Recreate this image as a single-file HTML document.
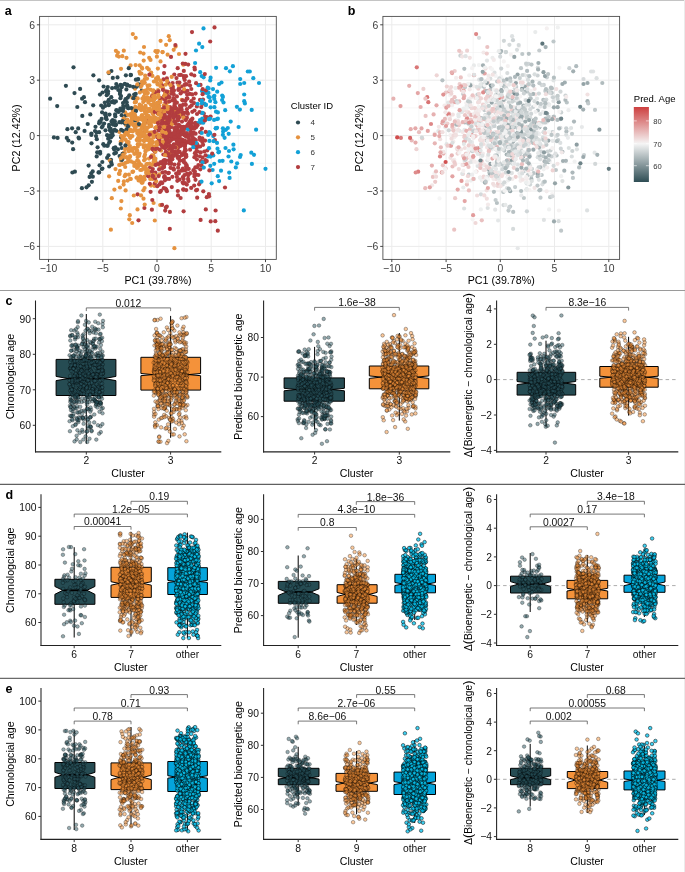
<!DOCTYPE html>
<html><head><meta charset="utf-8"><style>
html,body{margin:0;padding:0;background:#fff;}
svg{display:block;font-family:"Liberation Sans",sans-serif;}
svg{will-change:transform}
</style></head><body>
<svg width="685" height="872" viewBox="0 0 685 872">
<defs><linearGradient id="cb" x1="0" y1="0" x2="0" y2="1"><stop offset="0" stop-color="#cd3f3f"/><stop offset="0.49" stop-color="#f5f5f5"/><stop offset="1" stop-color="#2e4d54"/></linearGradient><marker id="m0" markerUnits="userSpaceOnUse" markerWidth="60" markerHeight="60" refX="0" refY="0" overflow="visible"><circle r="18" fill="#2a5560" fill-opacity=".5" stroke="#000" stroke-opacity=".52" stroke-width="5.5"/></marker><marker id="m1" markerUnits="userSpaceOnUse" markerWidth="60" markerHeight="60" refX="0" refY="0" overflow="visible"><circle r="18" fill="#f3923a" fill-opacity=".5" stroke="#000" stroke-opacity=".55" stroke-width="5.5"/></marker><marker id="m2" markerUnits="userSpaceOnUse" markerWidth="60" markerHeight="60" refX="0" refY="0" overflow="visible"><circle r="18" fill="#08c4f0" fill-opacity=".78" stroke="#000" stroke-opacity=".9" stroke-width="5.5"/></marker></defs>
<rect x="0" y="0" width="685" height="872" fill="#fff"/>
<line x1="0" y1="0.5" x2="685" y2="0.5" stroke="#c4c4c4" stroke-width="1"/>
<line x1="684.5" y1="0" x2="684.5" y2="872" stroke="#ebebeb" stroke-width="1"/>
<line x1="0" y1="290.5" x2="685" y2="290.5" stroke="#9a9a9a" stroke-width="1.1"/>
<line x1="0" y1="484.4" x2="685" y2="484.4" stroke="#606060" stroke-width="1.1"/>
<line x1="0" y1="678.4" x2="685" y2="678.4" stroke="#6a6a6a" stroke-width="1.1"/>
<line x1="75.6" y1="16.4" x2="75.6" y2="259.4" stroke="#f0f0f0" stroke-width="0.55"/>
<line x1="129.9" y1="16.4" x2="129.9" y2="259.4" stroke="#f0f0f0" stroke-width="0.55"/>
<line x1="184.1" y1="16.4" x2="184.1" y2="259.4" stroke="#f0f0f0" stroke-width="0.55"/>
<line x1="238.4" y1="16.4" x2="238.4" y2="259.4" stroke="#f0f0f0" stroke-width="0.55"/>
<line x1="39.6" y1="218.7" x2="276.3" y2="218.7" stroke="#f0f0f0" stroke-width="0.55"/>
<line x1="39.6" y1="163.3" x2="276.3" y2="163.3" stroke="#f0f0f0" stroke-width="0.55"/>
<line x1="39.6" y1="107.9" x2="276.3" y2="107.9" stroke="#f0f0f0" stroke-width="0.55"/>
<line x1="39.6" y1="52.5" x2="276.3" y2="52.5" stroke="#f0f0f0" stroke-width="0.55"/>
<line x1="48.5" y1="16.4" x2="48.5" y2="259.4" stroke="#ebebeb" stroke-width="1.0"/>
<line x1="102.8" y1="16.4" x2="102.8" y2="259.4" stroke="#ebebeb" stroke-width="1.0"/>
<line x1="157" y1="16.4" x2="157" y2="259.4" stroke="#ebebeb" stroke-width="1.0"/>
<line x1="211.2" y1="16.4" x2="211.2" y2="259.4" stroke="#ebebeb" stroke-width="1.0"/>
<line x1="265.5" y1="16.4" x2="265.5" y2="259.4" stroke="#ebebeb" stroke-width="1.0"/>
<line x1="39.6" y1="246.4" x2="276.3" y2="246.4" stroke="#ebebeb" stroke-width="1.0"/>
<line x1="39.6" y1="191" x2="276.3" y2="191" stroke="#ebebeb" stroke-width="1.0"/>
<line x1="39.6" y1="135.6" x2="276.3" y2="135.6" stroke="#ebebeb" stroke-width="1.0"/>
<line x1="39.6" y1="80.2" x2="276.3" y2="80.2" stroke="#ebebeb" stroke-width="1.0"/>
<line x1="39.6" y1="24.8" x2="276.3" y2="24.8" stroke="#ebebeb" stroke-width="1.0"/>
<g class="sp"><circle cx="203.8" cy="113.6" r="2.1" fill="#b23d3f"/><circle cx="91.4" cy="133.5" r="2.1" fill="#2e4a52"/><circle cx="176.2" cy="173.6" r="2.1" fill="#b23d3f"/><circle cx="205.6" cy="119.5" r="2.1" fill="#12a1d7"/><circle cx="214.5" cy="27.4" r="2.1" fill="#b23d3f"/><circle cx="132.6" cy="112.2" r="2.1" fill="#e5923f"/><circle cx="193.2" cy="139.9" r="2.1" fill="#b23d3f"/><circle cx="141.1" cy="110.1" r="2.1" fill="#e5923f"/><circle cx="72.1" cy="128.3" r="2.1" fill="#2e4a52"/><circle cx="171" cy="124.4" r="2.1" fill="#b23d3f"/><circle cx="166.5" cy="144.9" r="2.1" fill="#e5923f"/><circle cx="146.5" cy="98.9" r="2.1" fill="#e5923f"/><circle cx="155.2" cy="92.6" r="2.1" fill="#e5923f"/><circle cx="167.4" cy="109.3" r="2.1" fill="#e5923f"/><circle cx="173.4" cy="155.5" r="2.1" fill="#b23d3f"/><circle cx="199.1" cy="43.7" r="2.1" fill="#12a1d7"/><circle cx="178.8" cy="109.8" r="2.1" fill="#e5923f"/><circle cx="95" cy="131" r="2.1" fill="#2e4a52"/><circle cx="178.8" cy="144" r="2.1" fill="#b23d3f"/><circle cx="145.8" cy="122.2" r="2.1" fill="#e5923f"/><circle cx="194.4" cy="139.1" r="2.1" fill="#b23d3f"/><circle cx="183.7" cy="76" r="2.1" fill="#b23d3f"/><circle cx="147.7" cy="88.9" r="2.1" fill="#e5923f"/><circle cx="176" cy="129.4" r="2.1" fill="#b23d3f"/><circle cx="198.4" cy="165.1" r="2.1" fill="#b23d3f"/><circle cx="169.5" cy="131.2" r="2.1" fill="#b23d3f"/><circle cx="172.9" cy="93.1" r="2.1" fill="#e5923f"/><circle cx="169.5" cy="124.6" r="2.1" fill="#b23d3f"/><circle cx="179.1" cy="116.2" r="2.1" fill="#b23d3f"/><circle cx="188.7" cy="168.9" r="2.1" fill="#b23d3f"/><circle cx="154.2" cy="147" r="2.1" fill="#e5923f"/><circle cx="194.5" cy="110.5" r="2.1" fill="#b23d3f"/><circle cx="172.7" cy="108.3" r="2.1" fill="#b23d3f"/><circle cx="187.8" cy="142" r="2.1" fill="#b23d3f"/><circle cx="225.9" cy="129.8" r="2.1" fill="#12a1d7"/><circle cx="171.7" cy="115.3" r="2.1" fill="#b23d3f"/><circle cx="164.4" cy="177.1" r="2.1" fill="#b23d3f"/><circle cx="146.3" cy="170.5" r="2.1" fill="#e5923f"/><circle cx="155.1" cy="117.8" r="2.1" fill="#e5923f"/><circle cx="120.8" cy="208.5" r="2.1" fill="#e5923f"/><circle cx="142" cy="136.3" r="2.1" fill="#e5923f"/><circle cx="134.4" cy="108.7" r="2.1" fill="#2e4a52"/><circle cx="148.1" cy="109" r="2.1" fill="#e5923f"/><circle cx="164.9" cy="145.1" r="2.1" fill="#b23d3f"/><circle cx="179.6" cy="117.1" r="2.1" fill="#b23d3f"/><circle cx="134.3" cy="147.9" r="2.1" fill="#e5923f"/><circle cx="157" cy="134.7" r="2.1" fill="#b23d3f"/><circle cx="166.5" cy="95" r="2.1" fill="#b23d3f"/><circle cx="210.6" cy="116.5" r="2.1" fill="#b23d3f"/><circle cx="146.1" cy="172.8" r="2.1" fill="#e5923f"/><circle cx="93.2" cy="105.3" r="2.1" fill="#2e4a52"/><circle cx="176.9" cy="96.4" r="2.1" fill="#b23d3f"/><circle cx="180.9" cy="74.9" r="2.1" fill="#b23d3f"/><circle cx="201.3" cy="112.8" r="2.1" fill="#12a1d7"/><circle cx="174.5" cy="145" r="2.1" fill="#b23d3f"/><circle cx="135.3" cy="106.9" r="2.1" fill="#e5923f"/><circle cx="128.2" cy="134.9" r="2.1" fill="#e5923f"/><circle cx="166.2" cy="135.7" r="2.1" fill="#b23d3f"/><circle cx="174.2" cy="144.6" r="2.1" fill="#b23d3f"/><circle cx="198.4" cy="175" r="2.1" fill="#b23d3f"/><circle cx="164.1" cy="167.1" r="2.1" fill="#b23d3f"/><circle cx="141.8" cy="90.5" r="2.1" fill="#2e4a52"/><circle cx="209.9" cy="117.4" r="2.1" fill="#b23d3f"/><circle cx="213.3" cy="155.5" r="2.1" fill="#12a1d7"/><circle cx="144.6" cy="131.2" r="2.1" fill="#b23d3f"/><circle cx="183.8" cy="142.5" r="2.1" fill="#b23d3f"/><circle cx="133.4" cy="115.2" r="2.1" fill="#e5923f"/><circle cx="182.4" cy="91.6" r="2.1" fill="#b23d3f"/><circle cx="109.5" cy="114.6" r="2.1" fill="#2e4a52"/><circle cx="111" cy="159.8" r="2.1" fill="#2e4a52"/><circle cx="129.8" cy="150.4" r="2.1" fill="#e5923f"/><circle cx="135.9" cy="79.7" r="2.1" fill="#2e4a52"/><circle cx="144.1" cy="160.3" r="2.1" fill="#e5923f"/><circle cx="202.3" cy="47.1" r="2.1" fill="#12a1d7"/><circle cx="226" cy="68.2" r="2.1" fill="#12a1d7"/><circle cx="146.8" cy="115.1" r="2.1" fill="#e5923f"/><circle cx="199.5" cy="112" r="2.1" fill="#b23d3f"/><circle cx="121.6" cy="87.3" r="2.1" fill="#2e4a52"/><circle cx="146.8" cy="131.4" r="2.1" fill="#e5923f"/><circle cx="159.6" cy="111.3" r="2.1" fill="#e5923f"/><circle cx="140.3" cy="178.5" r="2.1" fill="#e5923f"/><circle cx="221.5" cy="82.5" r="2.1" fill="#12a1d7"/><circle cx="180.6" cy="198" r="2.1" fill="#b23d3f"/><circle cx="164.5" cy="66.1" r="2.1" fill="#b23d3f"/><circle cx="83.9" cy="97.2" r="2.1" fill="#2e4a52"/><circle cx="161.9" cy="109.4" r="2.1" fill="#b23d3f"/><circle cx="199.6" cy="137.5" r="2.1" fill="#b23d3f"/><circle cx="193.6" cy="132.5" r="2.1" fill="#b23d3f"/><circle cx="154.5" cy="158.3" r="2.1" fill="#b23d3f"/><circle cx="96.6" cy="132.4" r="2.1" fill="#2e4a52"/><circle cx="147" cy="78.6" r="2.1" fill="#e5923f"/><circle cx="149.5" cy="147.1" r="2.1" fill="#e5923f"/><circle cx="136.4" cy="153.7" r="2.1" fill="#e5923f"/><circle cx="149" cy="139.1" r="2.1" fill="#e5923f"/><circle cx="171.8" cy="187.1" r="2.1" fill="#b23d3f"/><circle cx="130.3" cy="138" r="2.1" fill="#e5923f"/><circle cx="144.8" cy="93.5" r="2.1" fill="#e5923f"/><circle cx="141.1" cy="105.9" r="2.1" fill="#e5923f"/><circle cx="182" cy="155.1" r="2.1" fill="#b23d3f"/><circle cx="170.1" cy="134.2" r="2.1" fill="#b23d3f"/><circle cx="196.3" cy="174.6" r="2.1" fill="#b23d3f"/><circle cx="143.2" cy="145" r="2.1" fill="#e5923f"/><circle cx="163.9" cy="96.2" r="2.1" fill="#e5923f"/><circle cx="119.3" cy="131.9" r="2.1" fill="#e5923f"/><circle cx="183.2" cy="104.7" r="2.1" fill="#b23d3f"/><circle cx="172.1" cy="159.3" r="2.1" fill="#b23d3f"/><circle cx="128.1" cy="108.1" r="2.1" fill="#2e4a52"/><circle cx="143.8" cy="118.8" r="2.1" fill="#e5923f"/><circle cx="149.2" cy="134.6" r="2.1" fill="#e5923f"/><circle cx="185.1" cy="91.7" r="2.1" fill="#b23d3f"/><circle cx="164" cy="117.5" r="2.1" fill="#b23d3f"/><circle cx="120.5" cy="110.1" r="2.1" fill="#2e4a52"/><circle cx="210.2" cy="80.5" r="2.1" fill="#12a1d7"/><circle cx="143.4" cy="190.3" r="2.1" fill="#e5923f"/><circle cx="164.7" cy="95.6" r="2.1" fill="#b23d3f"/><circle cx="169.2" cy="117.9" r="2.1" fill="#b23d3f"/><circle cx="169.9" cy="211.9" r="2.1" fill="#b23d3f"/><circle cx="161.1" cy="130.7" r="2.1" fill="#b23d3f"/><circle cx="184.4" cy="85" r="2.1" fill="#b23d3f"/><circle cx="117.1" cy="55.7" r="2.1" fill="#e5923f"/><circle cx="203.6" cy="77.3" r="2.1" fill="#12a1d7"/><circle cx="168.5" cy="83" r="2.1" fill="#b23d3f"/><circle cx="168.9" cy="116.9" r="2.1" fill="#b23d3f"/><circle cx="166.6" cy="119.6" r="2.1" fill="#b23d3f"/><circle cx="157.1" cy="148.3" r="2.1" fill="#b23d3f"/><circle cx="233.6" cy="149.3" r="2.1" fill="#12a1d7"/><circle cx="185.7" cy="143.5" r="2.1" fill="#b23d3f"/><circle cx="166.4" cy="128.7" r="2.1" fill="#b23d3f"/><circle cx="199.1" cy="184.3" r="2.1" fill="#b23d3f"/><circle cx="145.2" cy="75.5" r="2.1" fill="#e5923f"/><circle cx="203" cy="99.6" r="2.1" fill="#b23d3f"/><circle cx="214.9" cy="140.1" r="2.1" fill="#b23d3f"/><circle cx="157.1" cy="104.6" r="2.1" fill="#e5923f"/><circle cx="167.6" cy="123.9" r="2.1" fill="#b23d3f"/><circle cx="167.5" cy="110.2" r="2.1" fill="#b23d3f"/><circle cx="143.1" cy="135.8" r="2.1" fill="#e5923f"/><circle cx="111.3" cy="97.2" r="2.1" fill="#2e4a52"/><circle cx="143.9" cy="147.5" r="2.1" fill="#e5923f"/><circle cx="172.6" cy="138.3" r="2.1" fill="#b23d3f"/><circle cx="183.8" cy="162.1" r="2.1" fill="#b23d3f"/><circle cx="144.5" cy="134.7" r="2.1" fill="#e5923f"/><circle cx="134.6" cy="97.6" r="2.1" fill="#e5923f"/><circle cx="121.4" cy="201.1" r="2.1" fill="#e5923f"/><circle cx="213" cy="89.1" r="2.1" fill="#12a1d7"/><circle cx="123.8" cy="119.2" r="2.1" fill="#2e4a52"/><circle cx="168.3" cy="143.6" r="2.1" fill="#e5923f"/><circle cx="99.1" cy="123.3" r="2.1" fill="#2e4a52"/><circle cx="175.4" cy="114.8" r="2.1" fill="#b23d3f"/><circle cx="127.9" cy="130.8" r="2.1" fill="#e5923f"/><circle cx="184.1" cy="78.1" r="2.1" fill="#b23d3f"/><circle cx="173.9" cy="113.2" r="2.1" fill="#b23d3f"/><circle cx="163.4" cy="154.5" r="2.1" fill="#b23d3f"/><circle cx="125.6" cy="99.2" r="2.1" fill="#2e4a52"/><circle cx="168.9" cy="97.8" r="2.1" fill="#e5923f"/><circle cx="155" cy="151.8" r="2.1" fill="#b23d3f"/><circle cx="151.2" cy="72.7" r="2.1" fill="#e5923f"/><circle cx="151.1" cy="134.1" r="2.1" fill="#e5923f"/><circle cx="162.6" cy="163.3" r="2.1" fill="#e5923f"/><circle cx="145.5" cy="151.4" r="2.1" fill="#e5923f"/><circle cx="165.9" cy="160.5" r="2.1" fill="#b23d3f"/><circle cx="196.5" cy="151" r="2.1" fill="#b23d3f"/><circle cx="183.4" cy="183.4" r="2.1" fill="#b23d3f"/><circle cx="154.5" cy="185.9" r="2.1" fill="#e5923f"/><circle cx="155.1" cy="174" r="2.1" fill="#e5923f"/><circle cx="165.2" cy="91.4" r="2.1" fill="#b23d3f"/><circle cx="164.7" cy="141.7" r="2.1" fill="#b23d3f"/><circle cx="223.5" cy="102.5" r="2.1" fill="#12a1d7"/><circle cx="128.8" cy="151.2" r="2.1" fill="#e5923f"/><circle cx="143.9" cy="168.6" r="2.1" fill="#e5923f"/><circle cx="144.9" cy="167.4" r="2.1" fill="#e5923f"/><circle cx="165.5" cy="92.9" r="2.1" fill="#e5923f"/><circle cx="163" cy="132.6" r="2.1" fill="#e5923f"/><circle cx="197.7" cy="151.6" r="2.1" fill="#b23d3f"/><circle cx="118.3" cy="90" r="2.1" fill="#2e4a52"/><circle cx="215.7" cy="128.2" r="2.1" fill="#12a1d7"/><circle cx="159.9" cy="100.4" r="2.1" fill="#e5923f"/><circle cx="80.1" cy="88.9" r="2.1" fill="#2e4a52"/><circle cx="135" cy="88.7" r="2.1" fill="#e5923f"/><circle cx="196.1" cy="127.3" r="2.1" fill="#b23d3f"/><circle cx="110.1" cy="136.1" r="2.1" fill="#2e4a52"/><circle cx="107.1" cy="145.7" r="2.1" fill="#2e4a52"/><circle cx="105.6" cy="113.7" r="2.1" fill="#2e4a52"/><circle cx="141.7" cy="116" r="2.1" fill="#e5923f"/><circle cx="165.9" cy="143.1" r="2.1" fill="#b23d3f"/><circle cx="177.5" cy="82.7" r="2.1" fill="#b23d3f"/><circle cx="136.1" cy="153" r="2.1" fill="#e5923f"/><circle cx="163.1" cy="88.5" r="2.1" fill="#e5923f"/><circle cx="186.7" cy="165.4" r="2.1" fill="#b23d3f"/><circle cx="102.5" cy="92.5" r="2.1" fill="#2e4a52"/><circle cx="209.2" cy="132.2" r="2.1" fill="#12a1d7"/><circle cx="137.5" cy="121.1" r="2.1" fill="#e5923f"/><circle cx="164.6" cy="176.1" r="2.1" fill="#b23d3f"/><circle cx="149.2" cy="57.8" r="2.1" fill="#e5923f"/><circle cx="176.3" cy="111.7" r="2.1" fill="#b23d3f"/><circle cx="134.7" cy="112.5" r="2.1" fill="#e5923f"/><circle cx="159" cy="109.5" r="2.1" fill="#e5923f"/><circle cx="201.9" cy="128.6" r="2.1" fill="#b23d3f"/><circle cx="119.5" cy="174" r="2.1" fill="#e5923f"/><circle cx="172.2" cy="100.5" r="2.1" fill="#b23d3f"/><circle cx="151.9" cy="119.5" r="2.1" fill="#e5923f"/><circle cx="177.3" cy="180.8" r="2.1" fill="#b23d3f"/><circle cx="181.8" cy="99.8" r="2.1" fill="#e5923f"/><circle cx="142.2" cy="68.6" r="2.1" fill="#e5923f"/><circle cx="145.3" cy="145.4" r="2.1" fill="#e5923f"/><circle cx="200.2" cy="72.2" r="2.1" fill="#12a1d7"/><circle cx="177.8" cy="158" r="2.1" fill="#b23d3f"/><circle cx="207.2" cy="150.5" r="2.1" fill="#b23d3f"/><circle cx="146.5" cy="119.6" r="2.1" fill="#e5923f"/><circle cx="165.1" cy="94.7" r="2.1" fill="#b23d3f"/><circle cx="154.1" cy="94.3" r="2.1" fill="#e5923f"/><circle cx="144" cy="47" r="2.1" fill="#e5923f"/><circle cx="65.9" cy="85.8" r="2.1" fill="#2e4a52"/><circle cx="171.2" cy="148.3" r="2.1" fill="#b23d3f"/><circle cx="139.7" cy="104.7" r="2.1" fill="#e5923f"/><circle cx="145.5" cy="119.5" r="2.1" fill="#e5923f"/><circle cx="140.7" cy="86.8" r="2.1" fill="#e5923f"/><circle cx="197.1" cy="189.8" r="2.1" fill="#b23d3f"/><circle cx="127.5" cy="130.3" r="2.1" fill="#e5923f"/><circle cx="208.5" cy="96.8" r="2.1" fill="#12a1d7"/><circle cx="170.6" cy="115.2" r="2.1" fill="#b23d3f"/><circle cx="151.6" cy="175.8" r="2.1" fill="#e5923f"/><circle cx="147.9" cy="136.1" r="2.1" fill="#e5923f"/><circle cx="153.4" cy="109.6" r="2.1" fill="#e5923f"/><circle cx="214.4" cy="107.2" r="2.1" fill="#12a1d7"/><circle cx="118.1" cy="111.7" r="2.1" fill="#2e4a52"/><circle cx="110.9" cy="131.3" r="2.1" fill="#2e4a52"/><circle cx="146.7" cy="174.8" r="2.1" fill="#e5923f"/><circle cx="203.6" cy="92.3" r="2.1" fill="#12a1d7"/><circle cx="197.1" cy="167.3" r="2.1" fill="#b23d3f"/><circle cx="144.8" cy="82.8" r="2.1" fill="#e5923f"/><circle cx="184.9" cy="153.3" r="2.1" fill="#b23d3f"/><circle cx="185.8" cy="156.8" r="2.1" fill="#b23d3f"/><circle cx="161.1" cy="118.8" r="2.1" fill="#b23d3f"/><circle cx="214" cy="96.7" r="2.1" fill="#12a1d7"/><circle cx="132.8" cy="34.1" r="2.1" fill="#e5923f"/><circle cx="194.3" cy="173.9" r="2.1" fill="#b23d3f"/><circle cx="157.4" cy="121.7" r="2.1" fill="#b23d3f"/><circle cx="119.9" cy="94" r="2.1" fill="#2e4a52"/><circle cx="163.6" cy="79.4" r="2.1" fill="#b23d3f"/><circle cx="108" cy="91.3" r="2.1" fill="#2e4a52"/><circle cx="135.4" cy="97.5" r="2.1" fill="#2e4a52"/><circle cx="208.5" cy="92.9" r="2.1" fill="#12a1d7"/><circle cx="178.9" cy="124.8" r="2.1" fill="#b23d3f"/><circle cx="152.4" cy="156.3" r="2.1" fill="#e5923f"/><circle cx="186.1" cy="166.6" r="2.1" fill="#b23d3f"/><circle cx="172.2" cy="133.9" r="2.1" fill="#b23d3f"/><circle cx="158.7" cy="140.7" r="2.1" fill="#b23d3f"/><circle cx="173.8" cy="144.4" r="2.1" fill="#b23d3f"/><circle cx="199" cy="146.5" r="2.1" fill="#b23d3f"/><circle cx="186.7" cy="84.4" r="2.1" fill="#b23d3f"/><circle cx="120.9" cy="156.4" r="2.1" fill="#2e4a52"/><circle cx="240.2" cy="79.1" r="2.1" fill="#12a1d7"/><circle cx="205.2" cy="162.1" r="2.1" fill="#b23d3f"/><circle cx="187.2" cy="168.7" r="2.1" fill="#b23d3f"/><circle cx="103.3" cy="144.2" r="2.1" fill="#2e4a52"/><circle cx="139.7" cy="65.3" r="2.1" fill="#e5923f"/><circle cx="184.5" cy="175.1" r="2.1" fill="#b23d3f"/><circle cx="174.4" cy="248.2" r="2.1" fill="#e5923f"/><circle cx="108.6" cy="104.7" r="2.1" fill="#2e4a52"/><circle cx="140.2" cy="52.5" r="2.1" fill="#e5923f"/><circle cx="140.4" cy="176.7" r="2.1" fill="#e5923f"/><circle cx="143.6" cy="140.6" r="2.1" fill="#e5923f"/><circle cx="200" cy="99.9" r="2.1" fill="#b23d3f"/><circle cx="157.9" cy="78.4" r="2.1" fill="#e5923f"/><circle cx="162.2" cy="135.8" r="2.1" fill="#b23d3f"/><circle cx="78.2" cy="128.4" r="2.1" fill="#2e4a52"/><circle cx="178.7" cy="147.1" r="2.1" fill="#b23d3f"/><circle cx="148.6" cy="115.9" r="2.1" fill="#e5923f"/><circle cx="163" cy="121.9" r="2.1" fill="#e5923f"/><circle cx="130.7" cy="75.2" r="2.1" fill="#2e4a52"/><circle cx="139.4" cy="163.1" r="2.1" fill="#e5923f"/><circle cx="161.2" cy="83.1" r="2.1" fill="#e5923f"/><circle cx="238.6" cy="127" r="2.1" fill="#12a1d7"/><circle cx="164.9" cy="117.9" r="2.1" fill="#b23d3f"/><circle cx="176.9" cy="127.6" r="2.1" fill="#b23d3f"/><circle cx="133.4" cy="148.3" r="2.1" fill="#e5923f"/><circle cx="216.1" cy="67.8" r="2.1" fill="#12a1d7"/><circle cx="206.8" cy="161.1" r="2.1" fill="#b23d3f"/><circle cx="192.3" cy="111.8" r="2.1" fill="#b23d3f"/><circle cx="232.9" cy="66.2" r="2.1" fill="#12a1d7"/><circle cx="174.6" cy="131.2" r="2.1" fill="#b23d3f"/><circle cx="142.5" cy="127.9" r="2.1" fill="#e5923f"/><circle cx="174.4" cy="136.3" r="2.1" fill="#e5923f"/><circle cx="201" cy="161.4" r="2.1" fill="#b23d3f"/><circle cx="150.6" cy="191.8" r="2.1" fill="#b23d3f"/><circle cx="159.5" cy="184.4" r="2.1" fill="#b23d3f"/><circle cx="137" cy="177.6" r="2.1" fill="#e5923f"/><circle cx="159.8" cy="137.8" r="2.1" fill="#b23d3f"/><circle cx="194" cy="103.1" r="2.1" fill="#b23d3f"/><circle cx="149.3" cy="172.4" r="2.1" fill="#e5923f"/><circle cx="100.1" cy="153.6" r="2.1" fill="#2e4a52"/><circle cx="157.9" cy="119.1" r="2.1" fill="#e5923f"/><circle cx="171.7" cy="156.1" r="2.1" fill="#b23d3f"/><circle cx="166.6" cy="106.2" r="2.1" fill="#e5923f"/><circle cx="132.3" cy="118.6" r="2.1" fill="#e5923f"/><circle cx="102.4" cy="168.5" r="2.1" fill="#2e4a52"/><circle cx="165.5" cy="111.8" r="2.1" fill="#b23d3f"/><circle cx="161.9" cy="134.6" r="2.1" fill="#b23d3f"/><circle cx="163.7" cy="98.8" r="2.1" fill="#b23d3f"/><circle cx="101.9" cy="127.3" r="2.1" fill="#2e4a52"/><circle cx="146.3" cy="164.7" r="2.1" fill="#e5923f"/><circle cx="184.7" cy="112.9" r="2.1" fill="#b23d3f"/><circle cx="145.6" cy="107.5" r="2.1" fill="#e5923f"/><circle cx="168.6" cy="148.6" r="2.1" fill="#b23d3f"/><circle cx="188.1" cy="178.9" r="2.1" fill="#b23d3f"/><circle cx="160" cy="192" r="2.1" fill="#b23d3f"/><circle cx="202" cy="91.1" r="2.1" fill="#12a1d7"/><circle cx="206.7" cy="117.1" r="2.1" fill="#b23d3f"/><circle cx="109.8" cy="160.5" r="2.1" fill="#e5923f"/><circle cx="178.7" cy="132.1" r="2.1" fill="#b23d3f"/><circle cx="166.1" cy="130.4" r="2.1" fill="#e5923f"/><circle cx="176.4" cy="132.8" r="2.1" fill="#b23d3f"/><circle cx="165.8" cy="105.2" r="2.1" fill="#e5923f"/><circle cx="75.7" cy="132.2" r="2.1" fill="#2e4a52"/><circle cx="154.1" cy="117.2" r="2.1" fill="#e5923f"/><circle cx="151.3" cy="125.9" r="2.1" fill="#e5923f"/><circle cx="171.5" cy="111.7" r="2.1" fill="#b23d3f"/><circle cx="173.1" cy="168.7" r="2.1" fill="#b23d3f"/><circle cx="203.3" cy="191.3" r="2.1" fill="#b23d3f"/><circle cx="214.4" cy="95.8" r="2.1" fill="#12a1d7"/><circle cx="147.5" cy="93" r="2.1" fill="#e5923f"/><circle cx="189.9" cy="143" r="2.1" fill="#b23d3f"/><circle cx="149.8" cy="142.9" r="2.1" fill="#e5923f"/><circle cx="149.5" cy="172.4" r="2.1" fill="#e5923f"/><circle cx="152.4" cy="149.3" r="2.1" fill="#e5923f"/><circle cx="185.8" cy="119.1" r="2.1" fill="#b23d3f"/><circle cx="154" cy="100.1" r="2.1" fill="#e5923f"/><circle cx="89.6" cy="176.9" r="2.1" fill="#2e4a52"/><circle cx="181.5" cy="86.5" r="2.1" fill="#b23d3f"/><circle cx="185.3" cy="84.2" r="2.1" fill="#b23d3f"/><circle cx="215.3" cy="221.2" r="2.1" fill="#b23d3f"/><circle cx="155.5" cy="127.9" r="2.1" fill="#b23d3f"/><circle cx="152.4" cy="112.9" r="2.1" fill="#e5923f"/><circle cx="147.1" cy="67.8" r="2.1" fill="#e5923f"/><circle cx="200.4" cy="132.3" r="2.1" fill="#b23d3f"/><circle cx="88.6" cy="165.6" r="2.1" fill="#2e4a52"/><circle cx="183.3" cy="64.7" r="2.1" fill="#e5923f"/><circle cx="150.1" cy="167.4" r="2.1" fill="#b23d3f"/><circle cx="134.8" cy="126.2" r="2.1" fill="#e5923f"/><circle cx="154.5" cy="174.7" r="2.1" fill="#e5923f"/><circle cx="149.8" cy="117.7" r="2.1" fill="#e5923f"/><circle cx="156.1" cy="118.9" r="2.1" fill="#b23d3f"/><circle cx="188.1" cy="141" r="2.1" fill="#b23d3f"/><circle cx="151.9" cy="209.7" r="2.1" fill="#b23d3f"/><circle cx="165.7" cy="124.4" r="2.1" fill="#b23d3f"/><circle cx="217.9" cy="112.4" r="2.1" fill="#12a1d7"/><circle cx="210.1" cy="118.6" r="2.1" fill="#12a1d7"/><circle cx="147" cy="119.1" r="2.1" fill="#e5923f"/><circle cx="206.5" cy="93" r="2.1" fill="#12a1d7"/><circle cx="163.7" cy="127" r="2.1" fill="#e5923f"/><circle cx="95.5" cy="126.8" r="2.1" fill="#2e4a52"/><circle cx="184.7" cy="79.9" r="2.1" fill="#b23d3f"/><circle cx="169.7" cy="156.6" r="2.1" fill="#b23d3f"/><circle cx="127.1" cy="143.9" r="2.1" fill="#e5923f"/><circle cx="171.6" cy="88.2" r="2.1" fill="#b23d3f"/><circle cx="134.5" cy="162.8" r="2.1" fill="#e5923f"/><circle cx="163.2" cy="128.4" r="2.1" fill="#e5923f"/><circle cx="189.6" cy="141.3" r="2.1" fill="#b23d3f"/><circle cx="134.9" cy="120.5" r="2.1" fill="#2e4a52"/><circle cx="196.9" cy="106.4" r="2.1" fill="#b23d3f"/><circle cx="112.3" cy="133" r="2.1" fill="#2e4a52"/><circle cx="158.6" cy="136.6" r="2.1" fill="#e5923f"/><circle cx="219.1" cy="84" r="2.1" fill="#12a1d7"/><circle cx="126.2" cy="122.7" r="2.1" fill="#e5923f"/><circle cx="157.6" cy="128.5" r="2.1" fill="#b23d3f"/><circle cx="119.6" cy="156.1" r="2.1" fill="#2e4a52"/><circle cx="144.6" cy="135.4" r="2.1" fill="#e5923f"/><circle cx="178.6" cy="138.5" r="2.1" fill="#b23d3f"/><circle cx="124.8" cy="133.1" r="2.1" fill="#e5923f"/><circle cx="169.5" cy="136.5" r="2.1" fill="#b23d3f"/><circle cx="154" cy="150.6" r="2.1" fill="#b23d3f"/><circle cx="183.3" cy="189.3" r="2.1" fill="#b23d3f"/><circle cx="146.9" cy="121.7" r="2.1" fill="#b23d3f"/><circle cx="147" cy="128.1" r="2.1" fill="#e5923f"/><circle cx="186.4" cy="134.8" r="2.1" fill="#b23d3f"/><circle cx="217" cy="119.1" r="2.1" fill="#12a1d7"/><circle cx="140" cy="73.7" r="2.1" fill="#e5923f"/><circle cx="152.4" cy="75.9" r="2.1" fill="#e5923f"/><circle cx="225.5" cy="148" r="2.1" fill="#12a1d7"/><circle cx="190.6" cy="140" r="2.1" fill="#b23d3f"/><circle cx="166.4" cy="147.1" r="2.1" fill="#e5923f"/><circle cx="194.3" cy="75.5" r="2.1" fill="#b23d3f"/><circle cx="144" cy="110.1" r="2.1" fill="#e5923f"/><circle cx="181.1" cy="114.3" r="2.1" fill="#b23d3f"/><circle cx="204.3" cy="151.5" r="2.1" fill="#b23d3f"/><circle cx="162.5" cy="145.2" r="2.1" fill="#e5923f"/><circle cx="217" cy="142.9" r="2.1" fill="#12a1d7"/><circle cx="57.6" cy="137.9" r="2.1" fill="#2e4a52"/><circle cx="130.8" cy="74.8" r="2.1" fill="#2e4a52"/><circle cx="142.1" cy="115" r="2.1" fill="#e5923f"/><circle cx="140.9" cy="125.3" r="2.1" fill="#e5923f"/><circle cx="129.8" cy="215.2" r="2.1" fill="#e5923f"/><circle cx="179.3" cy="157.2" r="2.1" fill="#b23d3f"/><circle cx="127.2" cy="84.7" r="2.1" fill="#2e4a52"/><circle cx="132.2" cy="223" r="2.1" fill="#e5923f"/><circle cx="194.4" cy="157.2" r="2.1" fill="#b23d3f"/><circle cx="151.1" cy="139.8" r="2.1" fill="#e5923f"/><circle cx="196.7" cy="147.7" r="2.1" fill="#b23d3f"/><circle cx="144" cy="109.8" r="2.1" fill="#e5923f"/><circle cx="186.7" cy="98.7" r="2.1" fill="#b23d3f"/><circle cx="141.6" cy="116.1" r="2.1" fill="#e5923f"/><circle cx="158.4" cy="114.3" r="2.1" fill="#e5923f"/><circle cx="150.5" cy="89.7" r="2.1" fill="#e5923f"/><circle cx="138.9" cy="107.3" r="2.1" fill="#e5923f"/><circle cx="106.8" cy="90.6" r="2.1" fill="#2e4a52"/><circle cx="130.2" cy="129.5" r="2.1" fill="#e5923f"/><circle cx="170.4" cy="161.3" r="2.1" fill="#b23d3f"/><circle cx="157.7" cy="112.9" r="2.1" fill="#b23d3f"/><circle cx="129.4" cy="150" r="2.1" fill="#e5923f"/><circle cx="153.9" cy="81.5" r="2.1" fill="#e5923f"/><circle cx="131.3" cy="116.4" r="2.1" fill="#e5923f"/><circle cx="158.7" cy="113.5" r="2.1" fill="#e5923f"/><circle cx="174.4" cy="111" r="2.1" fill="#e5923f"/><circle cx="150.5" cy="141.6" r="2.1" fill="#e5923f"/><circle cx="174.1" cy="99.3" r="2.1" fill="#b23d3f"/><circle cx="87.7" cy="124" r="2.1" fill="#2e4a52"/><circle cx="189.4" cy="122.3" r="2.1" fill="#b23d3f"/><circle cx="143.8" cy="178.9" r="2.1" fill="#b23d3f"/><circle cx="205.8" cy="104.7" r="2.1" fill="#12a1d7"/><circle cx="179.2" cy="75" r="2.1" fill="#b23d3f"/><circle cx="166.6" cy="140.7" r="2.1" fill="#b23d3f"/><circle cx="108.7" cy="105.2" r="2.1" fill="#2e4a52"/><circle cx="177.7" cy="144" r="2.1" fill="#b23d3f"/><circle cx="158.9" cy="109.6" r="2.1" fill="#e5923f"/><circle cx="99.6" cy="165.3" r="2.1" fill="#2e4a52"/><circle cx="134.6" cy="128.4" r="2.1" fill="#e5923f"/><circle cx="215.6" cy="210.5" r="2.1" fill="#b23d3f"/><circle cx="151.4" cy="118" r="2.1" fill="#e5923f"/><circle cx="169.5" cy="126.7" r="2.1" fill="#b23d3f"/><circle cx="141.4" cy="105.9" r="2.1" fill="#e5923f"/><circle cx="139.8" cy="140.5" r="2.1" fill="#e5923f"/><circle cx="172" cy="148.3" r="2.1" fill="#b23d3f"/><circle cx="167.3" cy="138.2" r="2.1" fill="#b23d3f"/><circle cx="152.3" cy="95.2" r="2.1" fill="#e5923f"/><circle cx="135.9" cy="125.7" r="2.1" fill="#e5923f"/><circle cx="131" cy="122.9" r="2.1" fill="#e5923f"/><circle cx="240.7" cy="155" r="2.1" fill="#12a1d7"/><circle cx="114.4" cy="189.6" r="2.1" fill="#e5923f"/><circle cx="168.3" cy="142.7" r="2.1" fill="#b23d3f"/><circle cx="162.6" cy="85.7" r="2.1" fill="#b23d3f"/><circle cx="57.2" cy="106.1" r="2.1" fill="#2e4a52"/><circle cx="151" cy="104.8" r="2.1" fill="#e5923f"/><circle cx="244.2" cy="101.2" r="2.1" fill="#12a1d7"/><circle cx="171.1" cy="93.6" r="2.1" fill="#b23d3f"/><circle cx="134.8" cy="126" r="2.1" fill="#e5923f"/><circle cx="178" cy="195.4" r="2.1" fill="#b23d3f"/><circle cx="181.2" cy="142.1" r="2.1" fill="#b23d3f"/><circle cx="147" cy="97.2" r="2.1" fill="#e5923f"/><circle cx="187.3" cy="112.6" r="2.1" fill="#b23d3f"/><circle cx="178.4" cy="120.1" r="2.1" fill="#b23d3f"/><circle cx="173.4" cy="118.1" r="2.1" fill="#b23d3f"/><circle cx="162.5" cy="120.4" r="2.1" fill="#e5923f"/><circle cx="110.6" cy="128.9" r="2.1" fill="#2e4a52"/><circle cx="82.3" cy="115.9" r="2.1" fill="#2e4a52"/><circle cx="144.4" cy="208" r="2.1" fill="#b23d3f"/><circle cx="253.3" cy="78.2" r="2.1" fill="#12a1d7"/><circle cx="143" cy="117.5" r="2.1" fill="#e5923f"/><circle cx="165.8" cy="100.8" r="2.1" fill="#b23d3f"/><circle cx="136.2" cy="124.4" r="2.1" fill="#e5923f"/><circle cx="155.2" cy="118.7" r="2.1" fill="#e5923f"/><circle cx="183.7" cy="134.3" r="2.1" fill="#b23d3f"/><circle cx="214.1" cy="119.9" r="2.1" fill="#12a1d7"/><circle cx="150.2" cy="142.9" r="2.1" fill="#e5923f"/><circle cx="191.1" cy="125.6" r="2.1" fill="#b23d3f"/><circle cx="156.4" cy="127.2" r="2.1" fill="#e5923f"/><circle cx="115.5" cy="169.1" r="2.1" fill="#e5923f"/><circle cx="116.3" cy="84" r="2.1" fill="#2e4a52"/><circle cx="150.5" cy="125.9" r="2.1" fill="#e5923f"/><circle cx="116.1" cy="124.6" r="2.1" fill="#2e4a52"/><circle cx="157.6" cy="83.7" r="2.1" fill="#e5923f"/><circle cx="205.3" cy="160.2" r="2.1" fill="#b23d3f"/><circle cx="141.9" cy="83" r="2.1" fill="#e5923f"/><circle cx="110.6" cy="129.4" r="2.1" fill="#2e4a52"/><circle cx="141.8" cy="128.6" r="2.1" fill="#e5923f"/><circle cx="200.7" cy="120.7" r="2.1" fill="#b23d3f"/><circle cx="101.2" cy="105.5" r="2.1" fill="#2e4a52"/><circle cx="128.2" cy="159.4" r="2.1" fill="#e5923f"/><circle cx="200.2" cy="146.5" r="2.1" fill="#b23d3f"/><circle cx="154.8" cy="93.3" r="2.1" fill="#e5923f"/><circle cx="152.7" cy="178.9" r="2.1" fill="#e5923f"/><circle cx="149.6" cy="124.4" r="2.1" fill="#e5923f"/><circle cx="191.7" cy="122.6" r="2.1" fill="#b23d3f"/><circle cx="177.5" cy="118.9" r="2.1" fill="#b23d3f"/><circle cx="152" cy="155.3" r="2.1" fill="#e5923f"/><circle cx="133.2" cy="124.9" r="2.1" fill="#e5923f"/><circle cx="172.1" cy="134" r="2.1" fill="#b23d3f"/><circle cx="132.5" cy="109.6" r="2.1" fill="#e5923f"/><circle cx="131.4" cy="123.4" r="2.1" fill="#e5923f"/><circle cx="141.8" cy="67.5" r="2.1" fill="#e5923f"/><circle cx="185.1" cy="149.1" r="2.1" fill="#b23d3f"/><circle cx="144.3" cy="156.6" r="2.1" fill="#e5923f"/><circle cx="180" cy="105.7" r="2.1" fill="#b23d3f"/><circle cx="152.9" cy="142" r="2.1" fill="#e5923f"/><circle cx="159.4" cy="135.1" r="2.1" fill="#e5923f"/><circle cx="169.8" cy="111.6" r="2.1" fill="#e5923f"/><circle cx="135.5" cy="118.8" r="2.1" fill="#e5923f"/><circle cx="151.6" cy="121.9" r="2.1" fill="#e5923f"/><circle cx="151.3" cy="98.3" r="2.1" fill="#e5923f"/><circle cx="137.6" cy="194.3" r="2.1" fill="#b23d3f"/><circle cx="133.1" cy="171.6" r="2.1" fill="#e5923f"/><circle cx="150.4" cy="141.4" r="2.1" fill="#e5923f"/><circle cx="200.7" cy="152.4" r="2.1" fill="#b23d3f"/><circle cx="91.4" cy="134.9" r="2.1" fill="#2e4a52"/><circle cx="156.9" cy="56.7" r="2.1" fill="#e5923f"/><circle cx="147.6" cy="85.6" r="2.1" fill="#e5923f"/><circle cx="73.1" cy="149.2" r="2.1" fill="#2e4a52"/><circle cx="121.5" cy="122.5" r="2.1" fill="#2e4a52"/><circle cx="111.1" cy="137.2" r="2.1" fill="#2e4a52"/><circle cx="135.7" cy="148.5" r="2.1" fill="#e5923f"/><circle cx="162.3" cy="119.4" r="2.1" fill="#e5923f"/><circle cx="168.7" cy="140.5" r="2.1" fill="#b23d3f"/><circle cx="157.9" cy="137.4" r="2.1" fill="#b23d3f"/><circle cx="88.7" cy="185.3" r="2.1" fill="#2e4a52"/><circle cx="221" cy="170.7" r="2.1" fill="#12a1d7"/><circle cx="120.6" cy="84.8" r="2.1" fill="#2e4a52"/><circle cx="74.9" cy="171.7" r="2.1" fill="#2e4a52"/><circle cx="121.6" cy="148" r="2.1" fill="#2e4a52"/><circle cx="103" cy="107.7" r="2.1" fill="#2e4a52"/><circle cx="193.9" cy="145.8" r="2.1" fill="#b23d3f"/><circle cx="168.9" cy="160.3" r="2.1" fill="#b23d3f"/><circle cx="141.1" cy="135" r="2.1" fill="#e5923f"/><circle cx="148.5" cy="138.4" r="2.1" fill="#e5923f"/><circle cx="164.2" cy="177.3" r="2.1" fill="#b23d3f"/><circle cx="126.5" cy="129.4" r="2.1" fill="#2e4a52"/><circle cx="132.7" cy="123.5" r="2.1" fill="#e5923f"/><circle cx="129.3" cy="219.3" r="2.1" fill="#e5923f"/><circle cx="163.7" cy="188.2" r="2.1" fill="#b23d3f"/><circle cx="165.3" cy="146" r="2.1" fill="#b23d3f"/><circle cx="160.7" cy="142.2" r="2.1" fill="#e5923f"/><circle cx="184.9" cy="146.4" r="2.1" fill="#b23d3f"/><circle cx="172.1" cy="150.7" r="2.1" fill="#b23d3f"/><circle cx="160.3" cy="86.1" r="2.1" fill="#e5923f"/><circle cx="152.3" cy="120.3" r="2.1" fill="#e5923f"/><circle cx="166.1" cy="44.8" r="2.1" fill="#e5923f"/><circle cx="148.8" cy="121.8" r="2.1" fill="#e5923f"/><circle cx="121.2" cy="129.8" r="2.1" fill="#2e4a52"/><circle cx="167.7" cy="109.5" r="2.1" fill="#e5923f"/><circle cx="106.1" cy="91.6" r="2.1" fill="#2e4a52"/><circle cx="194.2" cy="128.7" r="2.1" fill="#b23d3f"/><circle cx="195" cy="123.5" r="2.1" fill="#b23d3f"/><circle cx="135.1" cy="115.5" r="2.1" fill="#e5923f"/><circle cx="82.1" cy="98.7" r="2.1" fill="#2e4a52"/><circle cx="223.1" cy="131.5" r="2.1" fill="#12a1d7"/><circle cx="111.8" cy="198.2" r="2.1" fill="#e5923f"/><circle cx="100.6" cy="121.9" r="2.1" fill="#2e4a52"/><circle cx="157.2" cy="144.7" r="2.1" fill="#e5923f"/><circle cx="146" cy="136.9" r="2.1" fill="#e5923f"/><circle cx="117.7" cy="86.3" r="2.1" fill="#2e4a52"/><circle cx="160.5" cy="61.4" r="2.1" fill="#e5923f"/><circle cx="161" cy="144.8" r="2.1" fill="#b23d3f"/><circle cx="190.5" cy="134.1" r="2.1" fill="#b23d3f"/><circle cx="156.5" cy="133.6" r="2.1" fill="#e5923f"/><circle cx="108.8" cy="73.1" r="2.1" fill="#2e4a52"/><circle cx="115.6" cy="87.7" r="2.1" fill="#2e4a52"/><circle cx="140.9" cy="131.7" r="2.1" fill="#e5923f"/><circle cx="178.6" cy="156.9" r="2.1" fill="#b23d3f"/><circle cx="217.1" cy="127.8" r="2.1" fill="#12a1d7"/><circle cx="139.6" cy="153.6" r="2.1" fill="#e5923f"/><circle cx="200.5" cy="84.9" r="2.1" fill="#b23d3f"/><circle cx="172.9" cy="86.9" r="2.1" fill="#b23d3f"/><circle cx="129.8" cy="131.2" r="2.1" fill="#e5923f"/><circle cx="184.3" cy="117.2" r="2.1" fill="#b23d3f"/><circle cx="119.7" cy="90.5" r="2.1" fill="#2e4a52"/><circle cx="138" cy="118.2" r="2.1" fill="#e5923f"/><circle cx="144.3" cy="119" r="2.1" fill="#e5923f"/><circle cx="96.7" cy="156.4" r="2.1" fill="#2e4a52"/><circle cx="125.7" cy="162.8" r="2.1" fill="#e5923f"/><circle cx="141" cy="195.4" r="2.1" fill="#e5923f"/><circle cx="143" cy="133.7" r="2.1" fill="#e5923f"/><circle cx="123" cy="130.8" r="2.1" fill="#2e4a52"/><circle cx="191.2" cy="101.2" r="2.1" fill="#b23d3f"/><circle cx="115.9" cy="101.4" r="2.1" fill="#2e4a52"/><circle cx="182.2" cy="130.2" r="2.1" fill="#b23d3f"/><circle cx="144.7" cy="204.5" r="2.1" fill="#e5923f"/><circle cx="185.5" cy="155.2" r="2.1" fill="#b23d3f"/><circle cx="184.7" cy="154.6" r="2.1" fill="#b23d3f"/><circle cx="167" cy="142.2" r="2.1" fill="#b23d3f"/><circle cx="169.9" cy="126.2" r="2.1" fill="#b23d3f"/><circle cx="104.1" cy="123.5" r="2.1" fill="#2e4a52"/><circle cx="129.9" cy="146.1" r="2.1" fill="#e5923f"/><circle cx="141.4" cy="73.5" r="2.1" fill="#e5923f"/><circle cx="144.4" cy="122.3" r="2.1" fill="#e5923f"/><circle cx="97.6" cy="147.3" r="2.1" fill="#2e4a52"/><circle cx="162.6" cy="52.1" r="2.1" fill="#e5923f"/><circle cx="79" cy="138.5" r="2.1" fill="#2e4a52"/><circle cx="140.3" cy="130.9" r="2.1" fill="#e5923f"/><circle cx="176.9" cy="176.9" r="2.1" fill="#b23d3f"/><circle cx="191.3" cy="89" r="2.1" fill="#b23d3f"/><circle cx="183.8" cy="142.5" r="2.1" fill="#b23d3f"/><circle cx="179.6" cy="145.6" r="2.1" fill="#b23d3f"/><circle cx="134.2" cy="94.5" r="2.1" fill="#2e4a52"/><circle cx="118.9" cy="56.6" r="2.1" fill="#e5923f"/><circle cx="138.6" cy="134.6" r="2.1" fill="#e5923f"/><circle cx="142.4" cy="107.5" r="2.1" fill="#e5923f"/><circle cx="179.2" cy="110.6" r="2.1" fill="#b23d3f"/><circle cx="170.5" cy="122.1" r="2.1" fill="#b23d3f"/><circle cx="178.4" cy="142.6" r="2.1" fill="#b23d3f"/><circle cx="195.7" cy="147.6" r="2.1" fill="#b23d3f"/><circle cx="182.7" cy="143.9" r="2.1" fill="#b23d3f"/><circle cx="197.1" cy="144.1" r="2.1" fill="#b23d3f"/><circle cx="140.5" cy="107.3" r="2.1" fill="#e5923f"/><circle cx="167.8" cy="102.3" r="2.1" fill="#e5923f"/><circle cx="174.3" cy="74.5" r="2.1" fill="#b23d3f"/><circle cx="181.3" cy="170.6" r="2.1" fill="#b23d3f"/><circle cx="163.6" cy="165.7" r="2.1" fill="#b23d3f"/><circle cx="236.9" cy="106.8" r="2.1" fill="#12a1d7"/><circle cx="105.1" cy="114.5" r="2.1" fill="#2e4a52"/><circle cx="123" cy="164.2" r="2.1" fill="#e5923f"/><circle cx="137.2" cy="133.1" r="2.1" fill="#e5923f"/><circle cx="105.1" cy="105.9" r="2.1" fill="#2e4a52"/><circle cx="174.6" cy="100.2" r="2.1" fill="#b23d3f"/><circle cx="106.4" cy="90.2" r="2.1" fill="#2e4a52"/><circle cx="117.9" cy="149.3" r="2.1" fill="#2e4a52"/><circle cx="105.5" cy="130.3" r="2.1" fill="#2e4a52"/><circle cx="180.3" cy="160.6" r="2.1" fill="#b23d3f"/><circle cx="235.8" cy="167.4" r="2.1" fill="#12a1d7"/><circle cx="122.5" cy="138.1" r="2.1" fill="#2e4a52"/><circle cx="121.1" cy="160.7" r="2.1" fill="#e5923f"/><circle cx="139.1" cy="108.5" r="2.1" fill="#e5923f"/><circle cx="165.8" cy="151.8" r="2.1" fill="#b23d3f"/><circle cx="127.3" cy="148.5" r="2.1" fill="#e5923f"/><circle cx="121" cy="68.8" r="2.1" fill="#e5923f"/><circle cx="210.6" cy="77.7" r="2.1" fill="#12a1d7"/><circle cx="185.3" cy="63.9" r="2.1" fill="#b23d3f"/><circle cx="139.4" cy="71.8" r="2.1" fill="#e5923f"/><circle cx="154" cy="134.5" r="2.1" fill="#e5923f"/><circle cx="155.2" cy="91.9" r="2.1" fill="#b23d3f"/><circle cx="200" cy="139.8" r="2.1" fill="#b23d3f"/><circle cx="107.7" cy="145.7" r="2.1" fill="#2e4a52"/><circle cx="161.4" cy="113.9" r="2.1" fill="#e5923f"/><circle cx="143.5" cy="53.6" r="2.1" fill="#e5923f"/><circle cx="205.1" cy="140.6" r="2.1" fill="#b23d3f"/><circle cx="186" cy="136.6" r="2.1" fill="#b23d3f"/><circle cx="169.2" cy="113" r="2.1" fill="#b23d3f"/><circle cx="200.6" cy="219.9" r="2.1" fill="#b23d3f"/><circle cx="196.4" cy="155.6" r="2.1" fill="#b23d3f"/><circle cx="169.1" cy="163.6" r="2.1" fill="#b23d3f"/><circle cx="158.7" cy="105.5" r="2.1" fill="#b23d3f"/><circle cx="125.1" cy="149.2" r="2.1" fill="#e5923f"/><circle cx="200.3" cy="132.1" r="2.1" fill="#b23d3f"/><circle cx="157.2" cy="136.9" r="2.1" fill="#b23d3f"/><circle cx="150.2" cy="179" r="2.1" fill="#e5923f"/><circle cx="168.8" cy="172.8" r="2.1" fill="#b23d3f"/><circle cx="209.7" cy="97.3" r="2.1" fill="#12a1d7"/><circle cx="152.2" cy="96.3" r="2.1" fill="#b23d3f"/><circle cx="148.6" cy="110.2" r="2.1" fill="#e5923f"/><circle cx="138.8" cy="84.4" r="2.1" fill="#2e4a52"/><circle cx="123.6" cy="184.6" r="2.1" fill="#e5923f"/><circle cx="156.6" cy="144.8" r="2.1" fill="#e5923f"/><circle cx="186.2" cy="190.1" r="2.1" fill="#b23d3f"/><circle cx="128.4" cy="108.2" r="2.1" fill="#2e4a52"/><circle cx="174.2" cy="146.7" r="2.1" fill="#b23d3f"/><circle cx="144.2" cy="176.8" r="2.1" fill="#e5923f"/><circle cx="259" cy="83" r="2.1" fill="#12a1d7"/><circle cx="142.8" cy="125.6" r="2.1" fill="#e5923f"/><circle cx="201.3" cy="161.4" r="2.1" fill="#b23d3f"/><circle cx="202.5" cy="162.4" r="2.1" fill="#12a1d7"/><circle cx="195.2" cy="126.1" r="2.1" fill="#b23d3f"/><circle cx="167.8" cy="136.3" r="2.1" fill="#b23d3f"/><circle cx="189.2" cy="81.7" r="2.1" fill="#b23d3f"/><circle cx="161.7" cy="163.5" r="2.1" fill="#b23d3f"/><circle cx="125.7" cy="115.5" r="2.1" fill="#2e4a52"/><circle cx="209" cy="148.2" r="2.1" fill="#12a1d7"/><circle cx="186.2" cy="154.9" r="2.1" fill="#b23d3f"/><circle cx="169.8" cy="228.9" r="2.1" fill="#b23d3f"/><circle cx="151" cy="185.6" r="2.1" fill="#e5923f"/><circle cx="126.4" cy="89.4" r="2.1" fill="#2e4a52"/><circle cx="183.3" cy="126.9" r="2.1" fill="#b23d3f"/><circle cx="178.7" cy="171.5" r="2.1" fill="#b23d3f"/><circle cx="205.8" cy="104.9" r="2.1" fill="#12a1d7"/><circle cx="180.6" cy="93.4" r="2.1" fill="#b23d3f"/><circle cx="126.4" cy="106" r="2.1" fill="#2e4a52"/><circle cx="151.3" cy="110.5" r="2.1" fill="#e5923f"/><circle cx="160.4" cy="137.7" r="2.1" fill="#b23d3f"/><circle cx="146.6" cy="127.9" r="2.1" fill="#e5923f"/><circle cx="160.2" cy="205.1" r="2.1" fill="#e5923f"/><circle cx="127.8" cy="97.6" r="2.1" fill="#2e4a52"/><circle cx="178.1" cy="167.7" r="2.1" fill="#b23d3f"/><circle cx="141.4" cy="133.1" r="2.1" fill="#e5923f"/><circle cx="197.6" cy="103.9" r="2.1" fill="#12a1d7"/><circle cx="144" cy="134" r="2.1" fill="#e5923f"/><circle cx="149.4" cy="85.3" r="2.1" fill="#e5923f"/><circle cx="125.2" cy="112.3" r="2.1" fill="#e5923f"/><circle cx="231.3" cy="161.5" r="2.1" fill="#12a1d7"/><circle cx="188.5" cy="181.1" r="2.1" fill="#b23d3f"/><circle cx="178.9" cy="132.6" r="2.1" fill="#b23d3f"/><circle cx="148.1" cy="127.3" r="2.1" fill="#e5923f"/><circle cx="154.8" cy="183.3" r="2.1" fill="#b23d3f"/><circle cx="164.2" cy="124.6" r="2.1" fill="#e5923f"/><circle cx="126.7" cy="102.2" r="2.1" fill="#2e4a52"/><circle cx="129" cy="125.3" r="2.1" fill="#e5923f"/><circle cx="171.2" cy="86" r="2.1" fill="#b23d3f"/><circle cx="132.4" cy="171.9" r="2.1" fill="#e5923f"/><circle cx="171" cy="159" r="2.1" fill="#b23d3f"/><circle cx="222.9" cy="134.8" r="2.1" fill="#12a1d7"/><circle cx="153.3" cy="104.6" r="2.1" fill="#e5923f"/><circle cx="136.2" cy="130.2" r="2.1" fill="#e5923f"/><circle cx="228.7" cy="133.8" r="2.1" fill="#12a1d7"/><circle cx="148.2" cy="176.2" r="2.1" fill="#b23d3f"/><circle cx="194.5" cy="67.5" r="2.1" fill="#b23d3f"/><circle cx="192.3" cy="133.7" r="2.1" fill="#b23d3f"/><circle cx="138.4" cy="161" r="2.1" fill="#e5923f"/><circle cx="197" cy="114" r="2.1" fill="#b23d3f"/><circle cx="164.5" cy="160.1" r="2.1" fill="#b23d3f"/><circle cx="148.4" cy="122.7" r="2.1" fill="#e5923f"/><circle cx="149" cy="158.6" r="2.1" fill="#e5923f"/><circle cx="158.6" cy="164.3" r="2.1" fill="#b23d3f"/><circle cx="185.8" cy="104.8" r="2.1" fill="#b23d3f"/><circle cx="134.3" cy="165.9" r="2.1" fill="#e5923f"/><circle cx="118.7" cy="111.8" r="2.1" fill="#2e4a52"/><circle cx="142.9" cy="178" r="2.1" fill="#e5923f"/><circle cx="157.9" cy="51.1" r="2.1" fill="#e5923f"/><circle cx="170.3" cy="145.8" r="2.1" fill="#b23d3f"/><circle cx="185.5" cy="127" r="2.1" fill="#b23d3f"/><circle cx="136.7" cy="140.1" r="2.1" fill="#e5923f"/><circle cx="161.7" cy="110.8" r="2.1" fill="#e5923f"/><circle cx="196" cy="50.5" r="2.1" fill="#12a1d7"/><circle cx="156.2" cy="181.3" r="2.1" fill="#e5923f"/><circle cx="192.2" cy="94.4" r="2.1" fill="#b23d3f"/><circle cx="197.2" cy="197.7" r="2.1" fill="#b23d3f"/><circle cx="174.5" cy="164.6" r="2.1" fill="#b23d3f"/><circle cx="157.9" cy="77.2" r="2.1" fill="#e5923f"/><circle cx="205.1" cy="116.8" r="2.1" fill="#b23d3f"/><circle cx="90.3" cy="114.4" r="2.1" fill="#2e4a52"/><circle cx="124.8" cy="153" r="2.1" fill="#e5923f"/><circle cx="153.8" cy="158.9" r="2.1" fill="#e5923f"/><circle cx="148.9" cy="144.8" r="2.1" fill="#e5923f"/><circle cx="175.2" cy="138.8" r="2.1" fill="#b23d3f"/><circle cx="195.9" cy="140.1" r="2.1" fill="#b23d3f"/><circle cx="150.7" cy="126.1" r="2.1" fill="#e5923f"/><circle cx="112.5" cy="123.8" r="2.1" fill="#2e4a52"/><circle cx="173.7" cy="49.8" r="2.1" fill="#e5923f"/><circle cx="201.7" cy="76.1" r="2.1" fill="#12a1d7"/><circle cx="171" cy="153" r="2.1" fill="#b23d3f"/><circle cx="155.6" cy="127.8" r="2.1" fill="#e5923f"/><circle cx="178.9" cy="133.6" r="2.1" fill="#b23d3f"/><circle cx="145.3" cy="117.4" r="2.1" fill="#e5923f"/><circle cx="107.1" cy="157.8" r="2.1" fill="#2e4a52"/><circle cx="173.5" cy="168.5" r="2.1" fill="#b23d3f"/><circle cx="152.1" cy="132.3" r="2.1" fill="#e5923f"/><circle cx="251.9" cy="163.9" r="2.1" fill="#12a1d7"/><circle cx="187.4" cy="98.4" r="2.1" fill="#b23d3f"/><circle cx="200.5" cy="122.6" r="2.1" fill="#b23d3f"/><circle cx="178.6" cy="114.5" r="2.1" fill="#b23d3f"/><circle cx="140.3" cy="170" r="2.1" fill="#e5923f"/><circle cx="153.2" cy="114.5" r="2.1" fill="#e5923f"/><circle cx="162.4" cy="172.4" r="2.1" fill="#b23d3f"/><circle cx="167.3" cy="128.1" r="2.1" fill="#b23d3f"/><circle cx="158.9" cy="137.3" r="2.1" fill="#e5923f"/><circle cx="122.4" cy="155.9" r="2.1" fill="#e5923f"/><circle cx="186.2" cy="126.5" r="2.1" fill="#b23d3f"/><circle cx="156" cy="163.2" r="2.1" fill="#b23d3f"/><circle cx="153.4" cy="155.5" r="2.1" fill="#e5923f"/><circle cx="143.7" cy="60.6" r="2.1" fill="#e5923f"/><circle cx="188.2" cy="64.6" r="2.1" fill="#b23d3f"/><circle cx="192.7" cy="137.3" r="2.1" fill="#b23d3f"/><circle cx="134.8" cy="102.4" r="2.1" fill="#e5923f"/><circle cx="159.1" cy="124.9" r="2.1" fill="#b23d3f"/><circle cx="136.7" cy="86.7" r="2.1" fill="#2e4a52"/><circle cx="123" cy="103.1" r="2.1" fill="#2e4a52"/><circle cx="137.8" cy="124.2" r="2.1" fill="#e5923f"/><circle cx="143.2" cy="102.1" r="2.1" fill="#e5923f"/><circle cx="192.4" cy="118.7" r="2.1" fill="#b23d3f"/><circle cx="179" cy="89.3" r="2.1" fill="#b23d3f"/><circle cx="132.4" cy="136" r="2.1" fill="#e5923f"/><circle cx="141.8" cy="169.8" r="2.1" fill="#e5923f"/><circle cx="135.4" cy="124.6" r="2.1" fill="#e5923f"/><circle cx="111.4" cy="71" r="2.1" fill="#2e4a52"/><circle cx="142.5" cy="133.8" r="2.1" fill="#e5923f"/><circle cx="143.2" cy="120.2" r="2.1" fill="#e5923f"/><circle cx="181.8" cy="140.2" r="2.1" fill="#b23d3f"/><circle cx="145.8" cy="127.6" r="2.1" fill="#e5923f"/><circle cx="166.8" cy="206.6" r="2.1" fill="#b23d3f"/><circle cx="184.2" cy="128.9" r="2.1" fill="#b23d3f"/><circle cx="161.3" cy="162.3" r="2.1" fill="#b23d3f"/><circle cx="163.7" cy="112.9" r="2.1" fill="#b23d3f"/><circle cx="192.4" cy="128.3" r="2.1" fill="#b23d3f"/><circle cx="181.7" cy="154" r="2.1" fill="#b23d3f"/><circle cx="128.2" cy="143.2" r="2.1" fill="#e5923f"/><circle cx="178.5" cy="134.2" r="2.1" fill="#b23d3f"/><circle cx="177.4" cy="112.6" r="2.1" fill="#b23d3f"/><circle cx="125.4" cy="145.4" r="2.1" fill="#2e4a52"/><circle cx="137.2" cy="119.2" r="2.1" fill="#e5923f"/><circle cx="148.4" cy="102.6" r="2.1" fill="#e5923f"/><circle cx="138.6" cy="180.5" r="2.1" fill="#e5923f"/><circle cx="164" cy="127.6" r="2.1" fill="#e5923f"/><circle cx="166.8" cy="96" r="2.1" fill="#e5923f"/><circle cx="148.6" cy="149.3" r="2.1" fill="#e5923f"/><circle cx="181" cy="139.9" r="2.1" fill="#b23d3f"/><circle cx="109" cy="127" r="2.1" fill="#2e4a52"/><circle cx="170.3" cy="163.5" r="2.1" fill="#b23d3f"/><circle cx="172.6" cy="83" r="2.1" fill="#b23d3f"/><circle cx="133.2" cy="86.8" r="2.1" fill="#2e4a52"/><circle cx="127.2" cy="105.3" r="2.1" fill="#2e4a52"/><circle cx="137.6" cy="157.1" r="2.1" fill="#e5923f"/><circle cx="180.2" cy="114.1" r="2.1" fill="#b23d3f"/><circle cx="140.4" cy="131.8" r="2.1" fill="#e5923f"/><circle cx="176.7" cy="115.4" r="2.1" fill="#b23d3f"/><circle cx="154.6" cy="122" r="2.1" fill="#e5923f"/><circle cx="164" cy="115.7" r="2.1" fill="#b23d3f"/><circle cx="153.9" cy="133.2" r="2.1" fill="#e5923f"/><circle cx="153.1" cy="135.8" r="2.1" fill="#e5923f"/><circle cx="153.5" cy="146.6" r="2.1" fill="#e5923f"/><circle cx="139.9" cy="144.2" r="2.1" fill="#e5923f"/><circle cx="139.9" cy="140" r="2.1" fill="#e5923f"/><circle cx="200.2" cy="182.1" r="2.1" fill="#b23d3f"/><circle cx="150.2" cy="111.2" r="2.1" fill="#e5923f"/><circle cx="139.9" cy="92.4" r="2.1" fill="#e5923f"/><circle cx="206" cy="90.3" r="2.1" fill="#b23d3f"/><circle cx="165.7" cy="122.6" r="2.1" fill="#b23d3f"/><circle cx="170" cy="107" r="2.1" fill="#b23d3f"/><circle cx="143.9" cy="98.8" r="2.1" fill="#e5923f"/><circle cx="174.4" cy="105.5" r="2.1" fill="#b23d3f"/><circle cx="107.1" cy="135.2" r="2.1" fill="#2e4a52"/><circle cx="106.1" cy="116.8" r="2.1" fill="#2e4a52"/><circle cx="176.2" cy="108.6" r="2.1" fill="#b23d3f"/><circle cx="200.3" cy="169.3" r="2.1" fill="#b23d3f"/><circle cx="178" cy="150.9" r="2.1" fill="#b23d3f"/><circle cx="141.1" cy="164.9" r="2.1" fill="#e5923f"/><circle cx="184.5" cy="135.3" r="2.1" fill="#b23d3f"/><circle cx="204.3" cy="103.5" r="2.1" fill="#12a1d7"/><circle cx="237.1" cy="163.3" r="2.1" fill="#12a1d7"/><circle cx="163.2" cy="114.5" r="2.1" fill="#e5923f"/><circle cx="114.3" cy="153.6" r="2.1" fill="#2e4a52"/><circle cx="91.5" cy="143.3" r="2.1" fill="#2e4a52"/><circle cx="168.5" cy="91.8" r="2.1" fill="#e5923f"/><circle cx="145.4" cy="90.7" r="2.1" fill="#e5923f"/><circle cx="116" cy="152.8" r="2.1" fill="#2e4a52"/><circle cx="115.4" cy="125.3" r="2.1" fill="#2e4a52"/><circle cx="208.6" cy="88.4" r="2.1" fill="#12a1d7"/><circle cx="210.2" cy="41.5" r="2.1" fill="#b23d3f"/><circle cx="229.2" cy="172.6" r="2.1" fill="#12a1d7"/><circle cx="175.4" cy="136.3" r="2.1" fill="#b23d3f"/><circle cx="126" cy="134" r="2.1" fill="#e5923f"/><circle cx="176.2" cy="136.2" r="2.1" fill="#b23d3f"/><circle cx="116.2" cy="130.8" r="2.1" fill="#2e4a52"/><circle cx="155" cy="178.4" r="2.1" fill="#b23d3f"/><circle cx="143.3" cy="91.1" r="2.1" fill="#e5923f"/><circle cx="156.6" cy="121.8" r="2.1" fill="#e5923f"/><circle cx="155.4" cy="119.8" r="2.1" fill="#e5923f"/><circle cx="163.5" cy="160.6" r="2.1" fill="#b23d3f"/><circle cx="165.4" cy="132.6" r="2.1" fill="#e5923f"/><circle cx="132.4" cy="151" r="2.1" fill="#e5923f"/><circle cx="137.8" cy="79.5" r="2.1" fill="#2e4a52"/><circle cx="187.9" cy="113.8" r="2.1" fill="#b23d3f"/><circle cx="108.8" cy="99.8" r="2.1" fill="#2e4a52"/><circle cx="168.7" cy="112.6" r="2.1" fill="#b23d3f"/><circle cx="190.4" cy="130.9" r="2.1" fill="#b23d3f"/><circle cx="174.2" cy="100.2" r="2.1" fill="#b23d3f"/><circle cx="119.4" cy="122.2" r="2.1" fill="#2e4a52"/><circle cx="178.7" cy="164.2" r="2.1" fill="#b23d3f"/><circle cx="165.2" cy="93.5" r="2.1" fill="#e5923f"/><circle cx="138.2" cy="79.1" r="2.1" fill="#2e4a52"/><circle cx="170.3" cy="124.8" r="2.1" fill="#b23d3f"/><circle cx="131.3" cy="136.4" r="2.1" fill="#e5923f"/><circle cx="171.4" cy="163.8" r="2.1" fill="#b23d3f"/><circle cx="228.5" cy="156.5" r="2.1" fill="#12a1d7"/><circle cx="183.6" cy="179.1" r="2.1" fill="#b23d3f"/><circle cx="143.5" cy="121.1" r="2.1" fill="#e5923f"/><circle cx="174.8" cy="103.5" r="2.1" fill="#b23d3f"/><circle cx="126" cy="125" r="2.1" fill="#e5923f"/><circle cx="135.7" cy="93.9" r="2.1" fill="#2e4a52"/><circle cx="68.4" cy="140.5" r="2.1" fill="#2e4a52"/><circle cx="130.8" cy="179" r="2.1" fill="#e5923f"/><circle cx="166.3" cy="179" r="2.1" fill="#b23d3f"/><circle cx="196.2" cy="143" r="2.1" fill="#12a1d7"/><circle cx="188.4" cy="137.6" r="2.1" fill="#b23d3f"/><circle cx="190.1" cy="134.4" r="2.1" fill="#b23d3f"/><circle cx="128.6" cy="142" r="2.1" fill="#e5923f"/><circle cx="109.1" cy="176.3" r="2.1" fill="#e5923f"/><circle cx="142.4" cy="182.7" r="2.1" fill="#e5923f"/><circle cx="123.7" cy="118.3" r="2.1" fill="#e5923f"/><circle cx="164.6" cy="128.6" r="2.1" fill="#b23d3f"/><circle cx="135.6" cy="99.1" r="2.1" fill="#e5923f"/><circle cx="143.5" cy="124.5" r="2.1" fill="#e5923f"/><circle cx="91.2" cy="173.4" r="2.1" fill="#2e4a52"/><circle cx="185.7" cy="150.2" r="2.1" fill="#b23d3f"/><circle cx="171.8" cy="110.8" r="2.1" fill="#b23d3f"/><circle cx="168.8" cy="36.2" r="2.1" fill="#e5923f"/><circle cx="180.7" cy="131.3" r="2.1" fill="#b23d3f"/><circle cx="172" cy="139.2" r="2.1" fill="#b23d3f"/><circle cx="127.1" cy="123.1" r="2.1" fill="#2e4a52"/><circle cx="202.2" cy="103.8" r="2.1" fill="#b23d3f"/><circle cx="137.8" cy="131" r="2.1" fill="#e5923f"/><circle cx="159.2" cy="174.4" r="2.1" fill="#e5923f"/><circle cx="111.8" cy="102.2" r="2.1" fill="#2e4a52"/><circle cx="158.4" cy="136.6" r="2.1" fill="#e5923f"/><circle cx="165.2" cy="210.6" r="2.1" fill="#b23d3f"/><circle cx="142.5" cy="181.1" r="2.1" fill="#e5923f"/><circle cx="117.9" cy="52.5" r="2.1" fill="#e5923f"/><circle cx="169.7" cy="141.7" r="2.1" fill="#b23d3f"/><circle cx="152.3" cy="141.5" r="2.1" fill="#e5923f"/><circle cx="125.5" cy="174.7" r="2.1" fill="#e5923f"/><circle cx="186.9" cy="133.1" r="2.1" fill="#b23d3f"/><circle cx="222.9" cy="128.3" r="2.1" fill="#12a1d7"/><circle cx="177.8" cy="191" r="2.1" fill="#b23d3f"/><circle cx="159.9" cy="126.6" r="2.1" fill="#e5923f"/><circle cx="136" cy="110.9" r="2.1" fill="#2e4a52"/><circle cx="180.4" cy="134.6" r="2.1" fill="#b23d3f"/><circle cx="138.9" cy="139.8" r="2.1" fill="#e5923f"/><circle cx="166.7" cy="129.5" r="2.1" fill="#b23d3f"/><circle cx="146" cy="128.1" r="2.1" fill="#e5923f"/><circle cx="121.6" cy="137.6" r="2.1" fill="#e5923f"/><circle cx="182" cy="121.6" r="2.1" fill="#b23d3f"/><circle cx="173.6" cy="155.8" r="2.1" fill="#b23d3f"/><circle cx="129.9" cy="86" r="2.1" fill="#2e4a52"/><circle cx="127.5" cy="119.7" r="2.1" fill="#e5923f"/><circle cx="170.2" cy="150.9" r="2.1" fill="#b23d3f"/><circle cx="160.8" cy="115.7" r="2.1" fill="#e5923f"/><circle cx="249.8" cy="71.5" r="2.1" fill="#12a1d7"/><circle cx="175.6" cy="46.6" r="2.1" fill="#e5923f"/><circle cx="156.7" cy="143.2" r="2.1" fill="#e5923f"/><circle cx="121.8" cy="141.1" r="2.1" fill="#e5923f"/><circle cx="165.3" cy="125.5" r="2.1" fill="#b23d3f"/><circle cx="135.3" cy="117.6" r="2.1" fill="#e5923f"/><circle cx="161" cy="190.8" r="2.1" fill="#b23d3f"/><circle cx="215.9" cy="128.5" r="2.1" fill="#12a1d7"/><circle cx="212.6" cy="170" r="2.1" fill="#12a1d7"/><circle cx="110.3" cy="135.4" r="2.1" fill="#2e4a52"/><circle cx="127.1" cy="85.5" r="2.1" fill="#2e4a52"/><circle cx="131.4" cy="108.1" r="2.1" fill="#2e4a52"/><circle cx="182.8" cy="63.5" r="2.1" fill="#b23d3f"/><circle cx="143.5" cy="198.7" r="2.1" fill="#e5923f"/><circle cx="78.6" cy="137.6" r="2.1" fill="#2e4a52"/><circle cx="122.5" cy="121.1" r="2.1" fill="#2e4a52"/><circle cx="141.6" cy="85.4" r="2.1" fill="#e5923f"/><circle cx="115.1" cy="114.4" r="2.1" fill="#2e4a52"/><circle cx="53.9" cy="137.4" r="2.1" fill="#2e4a52"/><circle cx="125.2" cy="167" r="2.1" fill="#e5923f"/><circle cx="120" cy="187.5" r="2.1" fill="#e5923f"/><circle cx="240" cy="157" r="2.1" fill="#12a1d7"/><circle cx="210.1" cy="101" r="2.1" fill="#12a1d7"/><circle cx="172.4" cy="176.8" r="2.1" fill="#b23d3f"/><circle cx="109.2" cy="166.5" r="2.1" fill="#2e4a52"/><circle cx="182.8" cy="112.5" r="2.1" fill="#b23d3f"/><circle cx="128.9" cy="121.8" r="2.1" fill="#e5923f"/><circle cx="165.4" cy="163.3" r="2.1" fill="#b23d3f"/><circle cx="122.5" cy="159.1" r="2.1" fill="#e5923f"/><circle cx="117.5" cy="77.4" r="2.1" fill="#2e4a52"/><circle cx="172" cy="138.5" r="2.1" fill="#b23d3f"/><circle cx="201.5" cy="181.7" r="2.1" fill="#12a1d7"/><circle cx="127.6" cy="180.6" r="2.1" fill="#e5923f"/><circle cx="229.6" cy="177.9" r="2.1" fill="#12a1d7"/><circle cx="210.2" cy="133.2" r="2.1" fill="#12a1d7"/><circle cx="72.2" cy="142.6" r="2.1" fill="#2e4a52"/><circle cx="157.7" cy="102.8" r="2.1" fill="#b23d3f"/><circle cx="150" cy="119" r="2.1" fill="#e5923f"/><circle cx="144.9" cy="139.6" r="2.1" fill="#e5923f"/><circle cx="168.2" cy="173.2" r="2.1" fill="#b23d3f"/><circle cx="251.3" cy="152.7" r="2.1" fill="#12a1d7"/><circle cx="181.4" cy="106.7" r="2.1" fill="#b23d3f"/><circle cx="118.2" cy="180.9" r="2.1" fill="#e5923f"/><circle cx="133.4" cy="162.7" r="2.1" fill="#e5923f"/><circle cx="145.5" cy="139.1" r="2.1" fill="#e5923f"/><circle cx="162.5" cy="87.9" r="2.1" fill="#e5923f"/><circle cx="144.6" cy="179.5" r="2.1" fill="#e5923f"/><circle cx="155.3" cy="172.5" r="2.1" fill="#b23d3f"/><circle cx="93.4" cy="75.3" r="2.1" fill="#2e4a52"/><circle cx="145" cy="154.7" r="2.1" fill="#e5923f"/><circle cx="211.7" cy="183.3" r="2.1" fill="#12a1d7"/><circle cx="124.8" cy="83.9" r="2.1" fill="#2e4a52"/><circle cx="170.5" cy="167.8" r="2.1" fill="#b23d3f"/><circle cx="179.6" cy="140.4" r="2.1" fill="#b23d3f"/><circle cx="166.9" cy="78.4" r="2.1" fill="#b23d3f"/><circle cx="180.1" cy="108" r="2.1" fill="#b23d3f"/><circle cx="124.2" cy="136" r="2.1" fill="#e5923f"/><circle cx="183.6" cy="211.3" r="2.1" fill="#b23d3f"/><circle cx="161" cy="150.6" r="2.1" fill="#e5923f"/><circle cx="154.6" cy="131.8" r="2.1" fill="#b23d3f"/><circle cx="145.4" cy="112.5" r="2.1" fill="#e5923f"/><circle cx="112.7" cy="135.3" r="2.1" fill="#2e4a52"/><circle cx="177.8" cy="157.2" r="2.1" fill="#b23d3f"/><circle cx="114.2" cy="149.6" r="2.1" fill="#2e4a52"/><circle cx="146" cy="168.3" r="2.1" fill="#e5923f"/><circle cx="67.4" cy="129.2" r="2.1" fill="#2e4a52"/><circle cx="195.6" cy="133.7" r="2.1" fill="#b23d3f"/><circle cx="195.6" cy="122.8" r="2.1" fill="#b23d3f"/><circle cx="105.7" cy="117.9" r="2.1" fill="#2e4a52"/><circle cx="175.2" cy="146.9" r="2.1" fill="#b23d3f"/><circle cx="171.7" cy="76.9" r="2.1" fill="#e5923f"/><circle cx="178.7" cy="133.5" r="2.1" fill="#b23d3f"/><circle cx="96.8" cy="139.2" r="2.1" fill="#2e4a52"/><circle cx="159.3" cy="119.8" r="2.1" fill="#b23d3f"/><circle cx="164.2" cy="112.2" r="2.1" fill="#b23d3f"/><circle cx="125" cy="123.5" r="2.1" fill="#2e4a52"/><circle cx="213.3" cy="136.1" r="2.1" fill="#12a1d7"/><circle cx="145.8" cy="122.9" r="2.1" fill="#e5923f"/><circle cx="147.3" cy="140.1" r="2.1" fill="#e5923f"/><circle cx="169.7" cy="152.6" r="2.1" fill="#e5923f"/><circle cx="195.6" cy="93.6" r="2.1" fill="#b23d3f"/><circle cx="162.2" cy="137.1" r="2.1" fill="#e5923f"/><circle cx="190.1" cy="149.7" r="2.1" fill="#b23d3f"/><circle cx="178.9" cy="173.4" r="2.1" fill="#b23d3f"/><circle cx="153.6" cy="203" r="2.1" fill="#e5923f"/><circle cx="98.5" cy="172.4" r="2.1" fill="#2e4a52"/><circle cx="130.1" cy="178.9" r="2.1" fill="#e5923f"/><circle cx="167.1" cy="95.6" r="2.1" fill="#e5923f"/><circle cx="158.6" cy="176.1" r="2.1" fill="#b23d3f"/><circle cx="175.4" cy="45.1" r="2.1" fill="#b23d3f"/><circle cx="165.1" cy="122.8" r="2.1" fill="#b23d3f"/><circle cx="125.9" cy="122.5" r="2.1" fill="#e5923f"/><circle cx="179.4" cy="135.7" r="2.1" fill="#b23d3f"/><circle cx="179.5" cy="179.7" r="2.1" fill="#b23d3f"/><circle cx="183.8" cy="70.9" r="2.1" fill="#b23d3f"/><circle cx="147.9" cy="99.8" r="2.1" fill="#e5923f"/><circle cx="160.2" cy="102.3" r="2.1" fill="#e5923f"/><circle cx="166.1" cy="119" r="2.1" fill="#e5923f"/><circle cx="173.7" cy="94.2" r="2.1" fill="#b23d3f"/><circle cx="244.2" cy="83" r="2.1" fill="#12a1d7"/><circle cx="163.3" cy="122.5" r="2.1" fill="#b23d3f"/><circle cx="190.1" cy="124.9" r="2.1" fill="#b23d3f"/><circle cx="152.2" cy="164.9" r="2.1" fill="#e5923f"/><circle cx="186" cy="76.2" r="2.1" fill="#b23d3f"/><circle cx="101.8" cy="169" r="2.1" fill="#2e4a52"/><circle cx="112.1" cy="88.1" r="2.1" fill="#2e4a52"/><circle cx="121.1" cy="137.3" r="2.1" fill="#2e4a52"/><circle cx="137.8" cy="146.7" r="2.1" fill="#e5923f"/><circle cx="188.9" cy="136.5" r="2.1" fill="#b23d3f"/><circle cx="210.6" cy="107.3" r="2.1" fill="#12a1d7"/><circle cx="194.4" cy="176.4" r="2.1" fill="#b23d3f"/><circle cx="160.4" cy="100" r="2.1" fill="#e5923f"/><circle cx="173.9" cy="90.5" r="2.1" fill="#b23d3f"/><circle cx="164.9" cy="180.3" r="2.1" fill="#b23d3f"/><circle cx="122.7" cy="138.3" r="2.1" fill="#e5923f"/><circle cx="190.3" cy="173.1" r="2.1" fill="#b23d3f"/><circle cx="160.6" cy="40.8" r="2.1" fill="#e5923f"/><circle cx="167.6" cy="54.7" r="2.1" fill="#e5923f"/><circle cx="163.9" cy="166.1" r="2.1" fill="#b23d3f"/><circle cx="99.2" cy="172.4" r="2.1" fill="#2e4a52"/><circle cx="152.4" cy="142.8" r="2.1" fill="#e5923f"/><circle cx="125.6" cy="139.7" r="2.1" fill="#e5923f"/><circle cx="202.2" cy="118.7" r="2.1" fill="#12a1d7"/><circle cx="136.5" cy="150.8" r="2.1" fill="#e5923f"/><circle cx="153.3" cy="90.4" r="2.1" fill="#e5923f"/><circle cx="150" cy="132.7" r="2.1" fill="#e5923f"/><circle cx="148.8" cy="69.4" r="2.1" fill="#e5923f"/><circle cx="104.9" cy="102.5" r="2.1" fill="#2e4a52"/><circle cx="126.9" cy="141.6" r="2.1" fill="#e5923f"/><circle cx="165.8" cy="120.8" r="2.1" fill="#b23d3f"/><circle cx="182.2" cy="144" r="2.1" fill="#b23d3f"/><circle cx="183.9" cy="117.8" r="2.1" fill="#b23d3f"/><circle cx="122.9" cy="111" r="2.1" fill="#2e4a52"/><circle cx="162.9" cy="89.8" r="2.1" fill="#b23d3f"/><circle cx="128.8" cy="161.1" r="2.1" fill="#e5923f"/><circle cx="144" cy="124.8" r="2.1" fill="#e5923f"/><circle cx="124.7" cy="176.2" r="2.1" fill="#e5923f"/><circle cx="167.8" cy="96.3" r="2.1" fill="#b23d3f"/><circle cx="123.8" cy="152.8" r="2.1" fill="#e5923f"/><circle cx="203.1" cy="144.8" r="2.1" fill="#b23d3f"/><circle cx="145.9" cy="98.5" r="2.1" fill="#e5923f"/><circle cx="211.6" cy="155.5" r="2.1" fill="#12a1d7"/><circle cx="123.8" cy="50.7" r="2.1" fill="#e5923f"/><circle cx="173.3" cy="118" r="2.1" fill="#b23d3f"/><circle cx="158.1" cy="90.2" r="2.1" fill="#e5923f"/><circle cx="196.1" cy="190.3" r="2.1" fill="#b23d3f"/><circle cx="157.9" cy="68.6" r="2.1" fill="#e5923f"/><circle cx="181.3" cy="134.5" r="2.1" fill="#b23d3f"/><circle cx="219.1" cy="151.8" r="2.1" fill="#12a1d7"/><circle cx="160.4" cy="167.5" r="2.1" fill="#e5923f"/><circle cx="149.8" cy="183.8" r="2.1" fill="#b23d3f"/><circle cx="183" cy="170.4" r="2.1" fill="#b23d3f"/><circle cx="144.2" cy="125.1" r="2.1" fill="#e5923f"/><circle cx="215.4" cy="102.2" r="2.1" fill="#12a1d7"/><circle cx="189.8" cy="93.9" r="2.1" fill="#b23d3f"/><circle cx="167.4" cy="155.5" r="2.1" fill="#b23d3f"/><circle cx="129.3" cy="95.3" r="2.1" fill="#2e4a52"/><circle cx="96" cy="136.1" r="2.1" fill="#2e4a52"/><circle cx="134.3" cy="153.8" r="2.1" fill="#e5923f"/><circle cx="167.1" cy="81.1" r="2.1" fill="#e5923f"/><circle cx="170.3" cy="111.4" r="2.1" fill="#b23d3f"/><circle cx="216" cy="111.7" r="2.1" fill="#12a1d7"/><circle cx="120.3" cy="90.7" r="2.1" fill="#2e4a52"/><circle cx="110" cy="141.4" r="2.1" fill="#2e4a52"/><circle cx="124.4" cy="157.4" r="2.1" fill="#e5923f"/><circle cx="193.1" cy="127.9" r="2.1" fill="#b23d3f"/><circle cx="140.7" cy="119.2" r="2.1" fill="#e5923f"/><circle cx="148.6" cy="122.2" r="2.1" fill="#b23d3f"/><circle cx="193.7" cy="98.6" r="2.1" fill="#b23d3f"/><circle cx="86.5" cy="187.3" r="2.1" fill="#2e4a52"/><circle cx="143.6" cy="82.8" r="2.1" fill="#e5923f"/><circle cx="115.9" cy="50.8" r="2.1" fill="#e5923f"/><circle cx="140.6" cy="132.1" r="2.1" fill="#e5923f"/><circle cx="142.5" cy="118.3" r="2.1" fill="#e5923f"/><circle cx="184.7" cy="145.3" r="2.1" fill="#b23d3f"/><circle cx="121.8" cy="160" r="2.1" fill="#2e4a52"/><circle cx="132.2" cy="148.5" r="2.1" fill="#e5923f"/><circle cx="177.7" cy="129.2" r="2.1" fill="#b23d3f"/><circle cx="149.4" cy="74.7" r="2.1" fill="#b23d3f"/><circle cx="207.7" cy="87.6" r="2.1" fill="#12a1d7"/><circle cx="163.8" cy="136.3" r="2.1" fill="#b23d3f"/><circle cx="137.9" cy="138.2" r="2.1" fill="#e5923f"/><circle cx="192.8" cy="128.1" r="2.1" fill="#b23d3f"/><circle cx="178.7" cy="88.9" r="2.1" fill="#b23d3f"/><circle cx="143.2" cy="118.3" r="2.1" fill="#e5923f"/><circle cx="169.9" cy="134.1" r="2.1" fill="#b23d3f"/><circle cx="254" cy="154.8" r="2.1" fill="#12a1d7"/><circle cx="159.1" cy="169.4" r="2.1" fill="#b23d3f"/><circle cx="176.4" cy="153.9" r="2.1" fill="#b23d3f"/><circle cx="157.8" cy="104.2" r="2.1" fill="#e5923f"/><circle cx="202.3" cy="140.4" r="2.1" fill="#b23d3f"/><circle cx="222.2" cy="95.6" r="2.1" fill="#12a1d7"/><circle cx="122.5" cy="153.8" r="2.1" fill="#2e4a52"/><circle cx="217.8" cy="176.2" r="2.1" fill="#12a1d7"/><circle cx="109.1" cy="124.8" r="2.1" fill="#2e4a52"/><circle cx="139.2" cy="125.4" r="2.1" fill="#e5923f"/><circle cx="229" cy="151" r="2.1" fill="#12a1d7"/><circle cx="195.4" cy="167.3" r="2.1" fill="#b23d3f"/><circle cx="144.8" cy="100.5" r="2.1" fill="#e5923f"/><circle cx="154.2" cy="175.9" r="2.1" fill="#e5923f"/><circle cx="100.1" cy="151.9" r="2.1" fill="#2e4a52"/><circle cx="251.7" cy="109.9" r="2.1" fill="#12a1d7"/><circle cx="141.4" cy="132.9" r="2.1" fill="#e5923f"/><circle cx="157.3" cy="102.9" r="2.1" fill="#e5923f"/><circle cx="128" cy="126.4" r="2.1" fill="#2e4a52"/><circle cx="112.7" cy="120.1" r="2.1" fill="#2e4a52"/><circle cx="155.9" cy="98" r="2.1" fill="#e5923f"/><circle cx="132.8" cy="131" r="2.1" fill="#e5923f"/><circle cx="203.3" cy="122.7" r="2.1" fill="#12a1d7"/><circle cx="137.2" cy="150.6" r="2.1" fill="#e5923f"/><circle cx="157" cy="52.5" r="2.1" fill="#e5923f"/><circle cx="186.3" cy="156.6" r="2.1" fill="#b23d3f"/><circle cx="194.9" cy="153.2" r="2.1" fill="#b23d3f"/><circle cx="175.6" cy="130.6" r="2.1" fill="#b23d3f"/><circle cx="144.2" cy="141.1" r="2.1" fill="#e5923f"/><circle cx="170.9" cy="120.5" r="2.1" fill="#e5923f"/><circle cx="171" cy="127.1" r="2.1" fill="#b23d3f"/><circle cx="177.7" cy="131.9" r="2.1" fill="#b23d3f"/><circle cx="172" cy="124.2" r="2.1" fill="#e5923f"/><circle cx="128" cy="114.9" r="2.1" fill="#e5923f"/><circle cx="74.5" cy="93.1" r="2.1" fill="#2e4a52"/><circle cx="73.5" cy="67.3" r="2.1" fill="#2e4a52"/><circle cx="205.7" cy="131.9" r="2.1" fill="#b23d3f"/><circle cx="171.7" cy="109" r="2.1" fill="#b23d3f"/><circle cx="102.1" cy="112.3" r="2.1" fill="#2e4a52"/><circle cx="154.5" cy="107.6" r="2.1" fill="#e5923f"/><circle cx="193.5" cy="170.2" r="2.1" fill="#b23d3f"/><circle cx="148.6" cy="98.2" r="2.1" fill="#e5923f"/><circle cx="145" cy="100.1" r="2.1" fill="#e5923f"/><circle cx="129.3" cy="135.8" r="2.1" fill="#e5923f"/><circle cx="214.4" cy="134.8" r="2.1" fill="#b23d3f"/><circle cx="180.8" cy="126.6" r="2.1" fill="#b23d3f"/><circle cx="182.5" cy="139.8" r="2.1" fill="#b23d3f"/><circle cx="66.8" cy="137.9" r="2.1" fill="#2e4a52"/><circle cx="108" cy="101.5" r="2.1" fill="#2e4a52"/><circle cx="152.4" cy="156.3" r="2.1" fill="#e5923f"/><circle cx="171" cy="56.9" r="2.1" fill="#b23d3f"/><circle cx="154.8" cy="161.4" r="2.1" fill="#b23d3f"/><circle cx="123.9" cy="181.4" r="2.1" fill="#e5923f"/><circle cx="187.1" cy="94.6" r="2.1" fill="#b23d3f"/><circle cx="161.8" cy="118.5" r="2.1" fill="#e5923f"/><circle cx="123.2" cy="106" r="2.1" fill="#2e4a52"/><circle cx="164.8" cy="96.5" r="2.1" fill="#e5923f"/><circle cx="227.8" cy="128" r="2.1" fill="#12a1d7"/><circle cx="174.7" cy="116.2" r="2.1" fill="#b23d3f"/><circle cx="159.4" cy="141.4" r="2.1" fill="#b23d3f"/><circle cx="96.2" cy="198.4" r="2.1" fill="#2e4a52"/><circle cx="99.1" cy="80.3" r="2.1" fill="#2e4a52"/><circle cx="166.9" cy="191.2" r="2.1" fill="#b23d3f"/><circle cx="189.8" cy="107" r="2.1" fill="#b23d3f"/><circle cx="186.8" cy="184.6" r="2.1" fill="#b23d3f"/><circle cx="188.2" cy="124" r="2.1" fill="#b23d3f"/><circle cx="159.1" cy="106.8" r="2.1" fill="#e5923f"/><circle cx="166.2" cy="117.3" r="2.1" fill="#b23d3f"/><circle cx="174.6" cy="151.5" r="2.1" fill="#b23d3f"/><circle cx="104.3" cy="145.7" r="2.1" fill="#2e4a52"/><circle cx="218.4" cy="152.3" r="2.1" fill="#12a1d7"/><circle cx="153.8" cy="174.6" r="2.1" fill="#e5923f"/><circle cx="106.7" cy="95.2" r="2.1" fill="#2e4a52"/><circle cx="92.8" cy="176.7" r="2.1" fill="#2e4a52"/><circle cx="178.1" cy="113.6" r="2.1" fill="#b23d3f"/><circle cx="153.2" cy="101.1" r="2.1" fill="#e5923f"/><circle cx="150" cy="122.2" r="2.1" fill="#e5923f"/><circle cx="148.2" cy="137.5" r="2.1" fill="#e5923f"/><circle cx="214.3" cy="99" r="2.1" fill="#12a1d7"/><circle cx="153.6" cy="100.1" r="2.1" fill="#e5923f"/><circle cx="208.9" cy="119.2" r="2.1" fill="#12a1d7"/><circle cx="147.4" cy="147.7" r="2.1" fill="#e5923f"/><circle cx="202.6" cy="94.2" r="2.1" fill="#b23d3f"/><circle cx="135" cy="117.6" r="2.1" fill="#e5923f"/><circle cx="202.7" cy="89.2" r="2.1" fill="#b23d3f"/><circle cx="85" cy="102.2" r="2.1" fill="#2e4a52"/><circle cx="166.9" cy="97.5" r="2.1" fill="#b23d3f"/><circle cx="166.7" cy="92.6" r="2.1" fill="#b23d3f"/><circle cx="164.8" cy="146.1" r="2.1" fill="#b23d3f"/><circle cx="113.2" cy="101.1" r="2.1" fill="#2e4a52"/><circle cx="178.5" cy="126" r="2.1" fill="#b23d3f"/><circle cx="102.3" cy="162" r="2.1" fill="#2e4a52"/><circle cx="174.4" cy="121.6" r="2.1" fill="#b23d3f"/><circle cx="187.9" cy="129.3" r="2.1" fill="#12a1d7"/><circle cx="239.9" cy="109.6" r="2.1" fill="#12a1d7"/><circle cx="108" cy="93.7" r="2.1" fill="#2e4a52"/><circle cx="162.3" cy="183.1" r="2.1" fill="#b23d3f"/><circle cx="150.6" cy="122.6" r="2.1" fill="#e5923f"/><circle cx="148.4" cy="173.1" r="2.1" fill="#e5923f"/><circle cx="171.9" cy="139.6" r="2.1" fill="#b23d3f"/><circle cx="225.2" cy="110.2" r="2.1" fill="#12a1d7"/><circle cx="130.6" cy="65.4" r="2.1" fill="#e5923f"/><circle cx="119" cy="173.7" r="2.1" fill="#e5923f"/><circle cx="153.5" cy="161.9" r="2.1" fill="#e5923f"/><circle cx="202.6" cy="112.9" r="2.1" fill="#12a1d7"/><circle cx="132.1" cy="118" r="2.1" fill="#e5923f"/><circle cx="167.6" cy="96.4" r="2.1" fill="#b23d3f"/><circle cx="198" cy="123.1" r="2.1" fill="#12a1d7"/><circle cx="165.7" cy="127" r="2.1" fill="#e5923f"/><circle cx="172.9" cy="136.1" r="2.1" fill="#b23d3f"/><circle cx="169.3" cy="101.5" r="2.1" fill="#b23d3f"/><circle cx="155.9" cy="118.6" r="2.1" fill="#e5923f"/><circle cx="132.4" cy="115.4" r="2.1" fill="#e5923f"/><circle cx="147.1" cy="163.9" r="2.1" fill="#e5923f"/><circle cx="176.5" cy="78.1" r="2.1" fill="#b23d3f"/><circle cx="187" cy="167.7" r="2.1" fill="#b23d3f"/><circle cx="145.7" cy="150.6" r="2.1" fill="#e5923f"/><circle cx="202" cy="122.4" r="2.1" fill="#12a1d7"/><circle cx="182.6" cy="100.3" r="2.1" fill="#b23d3f"/><circle cx="107.8" cy="87.1" r="2.1" fill="#2e4a52"/><circle cx="126.5" cy="157.1" r="2.1" fill="#e5923f"/><circle cx="103.6" cy="86.5" r="2.1" fill="#2e4a52"/><circle cx="138.5" cy="220.3" r="2.1" fill="#b23d3f"/><circle cx="136" cy="101.9" r="2.1" fill="#e5923f"/><circle cx="120.8" cy="158.3" r="2.1" fill="#e5923f"/><circle cx="121.2" cy="135.8" r="2.1" fill="#e5923f"/><circle cx="180.6" cy="145.9" r="2.1" fill="#b23d3f"/><circle cx="108.2" cy="138.7" r="2.1" fill="#2e4a52"/><circle cx="144.6" cy="188" r="2.1" fill="#e5923f"/><circle cx="222.6" cy="160.8" r="2.1" fill="#12a1d7"/><circle cx="197.5" cy="125.3" r="2.1" fill="#b23d3f"/><circle cx="158.8" cy="130.5" r="2.1" fill="#b23d3f"/><circle cx="183.5" cy="189.7" r="2.1" fill="#b23d3f"/><circle cx="199.9" cy="156.3" r="2.1" fill="#b23d3f"/><circle cx="178.4" cy="90" r="2.1" fill="#b23d3f"/><circle cx="162.9" cy="141.4" r="2.1" fill="#e5923f"/><circle cx="169.8" cy="110.8" r="2.1" fill="#b23d3f"/><circle cx="111.8" cy="164.6" r="2.1" fill="#2e4a52"/><circle cx="191.2" cy="187.9" r="2.1" fill="#b23d3f"/><circle cx="172.5" cy="111.4" r="2.1" fill="#b23d3f"/><circle cx="127.8" cy="162" r="2.1" fill="#e5923f"/><circle cx="160.2" cy="97.9" r="2.1" fill="#b23d3f"/><circle cx="174.3" cy="133.1" r="2.1" fill="#b23d3f"/><circle cx="183.7" cy="131.4" r="2.1" fill="#b23d3f"/><circle cx="191.5" cy="143.6" r="2.1" fill="#b23d3f"/><circle cx="156.1" cy="107.1" r="2.1" fill="#e5923f"/><circle cx="169.7" cy="40.2" r="2.1" fill="#e5923f"/><circle cx="154.8" cy="111.9" r="2.1" fill="#b23d3f"/><circle cx="190" cy="126.4" r="2.1" fill="#b23d3f"/><circle cx="102.7" cy="126" r="2.1" fill="#2e4a52"/><circle cx="173.4" cy="98" r="2.1" fill="#b23d3f"/><circle cx="129.9" cy="157.1" r="2.1" fill="#e5923f"/><circle cx="120" cy="164.8" r="2.1" fill="#e5923f"/><circle cx="123.2" cy="154.6" r="2.1" fill="#e5923f"/><circle cx="186.9" cy="109.2" r="2.1" fill="#b23d3f"/><circle cx="152.3" cy="200" r="2.1" fill="#b23d3f"/><circle cx="208.2" cy="134.9" r="2.1" fill="#12a1d7"/><circle cx="147.8" cy="111.5" r="2.1" fill="#e5923f"/><circle cx="233.4" cy="144.7" r="2.1" fill="#12a1d7"/><circle cx="208.9" cy="194" r="2.1" fill="#b23d3f"/><circle cx="190.7" cy="127.7" r="2.1" fill="#b23d3f"/><circle cx="217.2" cy="91.7" r="2.1" fill="#12a1d7"/><circle cx="112.8" cy="77.9" r="2.1" fill="#2e4a52"/><circle cx="209.4" cy="140.9" r="2.1" fill="#12a1d7"/><circle cx="130" cy="136.8" r="2.1" fill="#e5923f"/><circle cx="206.8" cy="197.2" r="2.1" fill="#b23d3f"/><circle cx="169.2" cy="133.1" r="2.1" fill="#b23d3f"/><circle cx="154.8" cy="220.5" r="2.1" fill="#e5923f"/><circle cx="165.4" cy="102.7" r="2.1" fill="#b23d3f"/><circle cx="169.1" cy="178.9" r="2.1" fill="#b23d3f"/><circle cx="166.8" cy="141" r="2.1" fill="#b23d3f"/><circle cx="131" cy="161.4" r="2.1" fill="#e5923f"/><circle cx="168.8" cy="135.6" r="2.1" fill="#b23d3f"/><circle cx="123.5" cy="108.3" r="2.1" fill="#2e4a52"/><circle cx="164.2" cy="112.1" r="2.1" fill="#e5923f"/><circle cx="121.7" cy="115.2" r="2.1" fill="#2e4a52"/><circle cx="149.8" cy="133.7" r="2.1" fill="#e5923f"/><circle cx="190.5" cy="120.4" r="2.1" fill="#b23d3f"/><circle cx="184.5" cy="144.8" r="2.1" fill="#b23d3f"/><circle cx="100" cy="94.6" r="2.1" fill="#2e4a52"/><circle cx="177.8" cy="139.9" r="2.1" fill="#b23d3f"/><circle cx="182.9" cy="114.3" r="2.1" fill="#b23d3f"/><circle cx="244.2" cy="94.5" r="2.1" fill="#12a1d7"/><circle cx="202.3" cy="141.9" r="2.1" fill="#b23d3f"/><circle cx="171.9" cy="91" r="2.1" fill="#b23d3f"/><circle cx="198.4" cy="85.1" r="2.1" fill="#12a1d7"/><circle cx="148.5" cy="122.2" r="2.1" fill="#e5923f"/><circle cx="161.5" cy="119.7" r="2.1" fill="#e5923f"/><circle cx="132.3" cy="97.8" r="2.1" fill="#e5923f"/><circle cx="176.8" cy="134.8" r="2.1" fill="#b23d3f"/><circle cx="179.3" cy="115.1" r="2.1" fill="#e5923f"/><circle cx="135.1" cy="118.5" r="2.1" fill="#e5923f"/><circle cx="165.2" cy="172" r="2.1" fill="#b23d3f"/><circle cx="121" cy="96.1" r="2.1" fill="#2e4a52"/><circle cx="167.4" cy="141" r="2.1" fill="#b23d3f"/><circle cx="144.7" cy="79.2" r="2.1" fill="#e5923f"/><circle cx="160.4" cy="162.3" r="2.1" fill="#b23d3f"/><circle cx="167.8" cy="120.8" r="2.1" fill="#b23d3f"/><circle cx="120.7" cy="141.8" r="2.1" fill="#e5923f"/><circle cx="169.2" cy="118.7" r="2.1" fill="#b23d3f"/><circle cx="147.7" cy="93.1" r="2.1" fill="#e5923f"/><circle cx="164.4" cy="125" r="2.1" fill="#b23d3f"/><circle cx="202.3" cy="138.3" r="2.1" fill="#b23d3f"/><circle cx="163.9" cy="118.9" r="2.1" fill="#e5923f"/><circle cx="162.1" cy="204.9" r="2.1" fill="#b23d3f"/><circle cx="115.3" cy="116.4" r="2.1" fill="#2e4a52"/><circle cx="167.4" cy="146" r="2.1" fill="#b23d3f"/><circle cx="193" cy="133.9" r="2.1" fill="#b23d3f"/><circle cx="137.2" cy="160.6" r="2.1" fill="#e5923f"/><circle cx="143.9" cy="96.7" r="2.1" fill="#e5923f"/><circle cx="176.2" cy="128.3" r="2.1" fill="#b23d3f"/><circle cx="160.4" cy="80.5" r="2.1" fill="#e5923f"/><circle cx="184.1" cy="152.1" r="2.1" fill="#b23d3f"/><circle cx="167.4" cy="109.2" r="2.1" fill="#e5923f"/><circle cx="156.7" cy="109.6" r="2.1" fill="#e5923f"/><circle cx="125.6" cy="190.4" r="2.1" fill="#e5923f"/><circle cx="204.9" cy="120.5" r="2.1" fill="#b23d3f"/><circle cx="166.6" cy="132.8" r="2.1" fill="#e5923f"/><circle cx="108.5" cy="155.3" r="2.1" fill="#2e4a52"/><circle cx="152.7" cy="148.3" r="2.1" fill="#e5923f"/><circle cx="185.4" cy="100.9" r="2.1" fill="#b23d3f"/><circle cx="144.4" cy="134.1" r="2.1" fill="#e5923f"/><circle cx="213.6" cy="141.2" r="2.1" fill="#12a1d7"/><circle cx="204.8" cy="74.1" r="2.1" fill="#b23d3f"/><circle cx="164.9" cy="148.3" r="2.1" fill="#b23d3f"/><circle cx="138.3" cy="139.2" r="2.1" fill="#e5923f"/><circle cx="183.8" cy="159.9" r="2.1" fill="#b23d3f"/><circle cx="177" cy="143.1" r="2.1" fill="#b23d3f"/><circle cx="138.3" cy="166.2" r="2.1" fill="#e5923f"/><circle cx="130.5" cy="114" r="2.1" fill="#e5923f"/><circle cx="157.8" cy="118.7" r="2.1" fill="#e5923f"/><circle cx="155.2" cy="161" r="2.1" fill="#e5923f"/><circle cx="137.3" cy="84.4" r="2.1" fill="#e5923f"/><circle cx="173.3" cy="116.8" r="2.1" fill="#b23d3f"/><circle cx="147.4" cy="137.1" r="2.1" fill="#e5923f"/><circle cx="157.3" cy="186.2" r="2.1" fill="#b23d3f"/><circle cx="114.2" cy="102.7" r="2.1" fill="#2e4a52"/><circle cx="210.3" cy="165.8" r="2.1" fill="#12a1d7"/><circle cx="185.4" cy="163.3" r="2.1" fill="#b23d3f"/><circle cx="120.6" cy="144" r="2.1" fill="#2e4a52"/><circle cx="163.7" cy="105.4" r="2.1" fill="#e5923f"/><circle cx="124.8" cy="101.3" r="2.1" fill="#2e4a52"/><circle cx="195.7" cy="124.1" r="2.1" fill="#b23d3f"/><circle cx="130" cy="156.2" r="2.1" fill="#e5923f"/><circle cx="179.7" cy="151.9" r="2.1" fill="#b23d3f"/><circle cx="163.7" cy="118.1" r="2.1" fill="#b23d3f"/><circle cx="122.1" cy="85.3" r="2.1" fill="#2e4a52"/><circle cx="81.9" cy="188.2" r="2.1" fill="#2e4a52"/><circle cx="175.2" cy="154.3" r="2.1" fill="#b23d3f"/><circle cx="153" cy="91.1" r="2.1" fill="#e5923f"/><circle cx="191.6" cy="105.4" r="2.1" fill="#b23d3f"/><circle cx="185" cy="170.5" r="2.1" fill="#b23d3f"/><circle cx="136.5" cy="126" r="2.1" fill="#e5923f"/><circle cx="137" cy="168" r="2.1" fill="#e5923f"/><circle cx="150" cy="99.8" r="2.1" fill="#e5923f"/><circle cx="158.8" cy="97.1" r="2.1" fill="#e5923f"/><circle cx="153.5" cy="137.6" r="2.1" fill="#e5923f"/><circle cx="176.1" cy="113.1" r="2.1" fill="#b23d3f"/><circle cx="120" cy="170.9" r="2.1" fill="#e5923f"/><circle cx="72.4" cy="172.5" r="2.1" fill="#2e4a52"/><circle cx="210.5" cy="156.6" r="2.1" fill="#12a1d7"/><circle cx="178.3" cy="116.6" r="2.1" fill="#b23d3f"/><circle cx="155.4" cy="158.8" r="2.1" fill="#e5923f"/><circle cx="152.5" cy="148.9" r="2.1" fill="#b23d3f"/><circle cx="200" cy="120.1" r="2.1" fill="#12a1d7"/><circle cx="156.1" cy="78.3" r="2.1" fill="#e5923f"/><circle cx="225" cy="187.5" r="2.1" fill="#b23d3f"/><circle cx="174.5" cy="136.9" r="2.1" fill="#b23d3f"/><circle cx="136.5" cy="177.7" r="2.1" fill="#e5923f"/><circle cx="162.1" cy="131.7" r="2.1" fill="#e5923f"/><circle cx="170.2" cy="140.1" r="2.1" fill="#b23d3f"/><circle cx="217.8" cy="230.7" r="2.1" fill="#b23d3f"/><circle cx="135.7" cy="37.8" r="2.1" fill="#e5923f"/><circle cx="201.9" cy="100.6" r="2.1" fill="#12a1d7"/><circle cx="150.6" cy="100.1" r="2.1" fill="#e5923f"/><circle cx="194.9" cy="171.6" r="2.1" fill="#b23d3f"/><circle cx="178" cy="112.5" r="2.1" fill="#b23d3f"/><circle cx="117.1" cy="110.5" r="2.1" fill="#2e4a52"/><circle cx="222.1" cy="100" r="2.1" fill="#12a1d7"/><circle cx="113.7" cy="148.2" r="2.1" fill="#2e4a52"/><circle cx="217.9" cy="118.7" r="2.1" fill="#12a1d7"/><circle cx="131.8" cy="119.7" r="2.1" fill="#e5923f"/><circle cx="132.6" cy="131.4" r="2.1" fill="#e5923f"/><circle cx="155.4" cy="151.6" r="2.1" fill="#e5923f"/><circle cx="256.1" cy="129.7" r="2.1" fill="#12a1d7"/><circle cx="154.8" cy="103.9" r="2.1" fill="#e5923f"/><circle cx="145.1" cy="159" r="2.1" fill="#e5923f"/><circle cx="152.4" cy="105.8" r="2.1" fill="#e5923f"/><circle cx="111.2" cy="162.4" r="2.1" fill="#2e4a52"/><circle cx="166.5" cy="152.4" r="2.1" fill="#b23d3f"/><circle cx="192" cy="32.1" r="2.1" fill="#b23d3f"/><circle cx="181.8" cy="127.4" r="2.1" fill="#b23d3f"/><circle cx="144.7" cy="92.1" r="2.1" fill="#e5923f"/><circle cx="113.1" cy="124.7" r="2.1" fill="#2e4a52"/><circle cx="145.3" cy="111.9" r="2.1" fill="#e5923f"/><circle cx="176.6" cy="140.6" r="2.1" fill="#b23d3f"/><circle cx="201.5" cy="165.7" r="2.1" fill="#b23d3f"/><circle cx="174.1" cy="128" r="2.1" fill="#b23d3f"/><circle cx="115.3" cy="147.3" r="2.1" fill="#2e4a52"/><circle cx="164.9" cy="108.9" r="2.1" fill="#e5923f"/><circle cx="174.4" cy="114.9" r="2.1" fill="#b23d3f"/><circle cx="151.9" cy="142" r="2.1" fill="#e5923f"/><circle cx="155.5" cy="51.2" r="2.1" fill="#e5923f"/><circle cx="173.5" cy="90.2" r="2.1" fill="#b23d3f"/><circle cx="184.2" cy="89.2" r="2.1" fill="#e5923f"/><circle cx="180.8" cy="139.2" r="2.1" fill="#b23d3f"/><circle cx="179" cy="54" r="2.1" fill="#e5923f"/><circle cx="140.2" cy="180.5" r="2.1" fill="#e5923f"/><circle cx="164.2" cy="107.4" r="2.1" fill="#b23d3f"/><circle cx="113" cy="131.1" r="2.1" fill="#2e4a52"/><circle cx="175.6" cy="130.1" r="2.1" fill="#b23d3f"/><circle cx="167" cy="117.7" r="2.1" fill="#b23d3f"/><circle cx="205.8" cy="209.4" r="2.1" fill="#b23d3f"/><circle cx="170.3" cy="158.4" r="2.1" fill="#b23d3f"/><circle cx="185" cy="183.2" r="2.1" fill="#b23d3f"/><circle cx="186.9" cy="117.7" r="2.1" fill="#b23d3f"/><circle cx="212.2" cy="153.6" r="2.1" fill="#b23d3f"/><circle cx="141.6" cy="182.6" r="2.1" fill="#e5923f"/><circle cx="179.6" cy="140.5" r="2.1" fill="#b23d3f"/><circle cx="166.6" cy="138" r="2.1" fill="#b23d3f"/><circle cx="175.8" cy="123.9" r="2.1" fill="#b23d3f"/><circle cx="191.4" cy="120.1" r="2.1" fill="#b23d3f"/><circle cx="165.7" cy="127.7" r="2.1" fill="#b23d3f"/><circle cx="138.9" cy="124.1" r="2.1" fill="#2e4a52"/><circle cx="201.3" cy="107.1" r="2.1" fill="#b23d3f"/><circle cx="188.2" cy="175.3" r="2.1" fill="#b23d3f"/><circle cx="247.8" cy="71.5" r="2.1" fill="#12a1d7"/><circle cx="209.1" cy="196.3" r="2.1" fill="#b23d3f"/><circle cx="155.9" cy="121.1" r="2.1" fill="#e5923f"/><circle cx="125.9" cy="75.3" r="2.1" fill="#2e4a52"/><circle cx="155.6" cy="149" r="2.1" fill="#b23d3f"/><circle cx="183.2" cy="144.7" r="2.1" fill="#b23d3f"/><circle cx="142.4" cy="181.7" r="2.1" fill="#e5923f"/><circle cx="128.9" cy="174.7" r="2.1" fill="#e5923f"/><circle cx="168.8" cy="154.1" r="2.1" fill="#b23d3f"/><circle cx="142.6" cy="117.7" r="2.1" fill="#e5923f"/><circle cx="77.3" cy="107" r="2.1" fill="#2e4a52"/><circle cx="139.3" cy="130.4" r="2.1" fill="#e5923f"/><circle cx="168.2" cy="127.7" r="2.1" fill="#b23d3f"/><circle cx="208.1" cy="156.4" r="2.1" fill="#12a1d7"/><circle cx="193.3" cy="142.6" r="2.1" fill="#b23d3f"/><circle cx="154.8" cy="96.2" r="2.1" fill="#e5923f"/><circle cx="172.3" cy="159" r="2.1" fill="#b23d3f"/><circle cx="122.3" cy="56.2" r="2.1" fill="#e5923f"/><circle cx="149" cy="122.3" r="2.1" fill="#e5923f"/><circle cx="183.4" cy="117.7" r="2.1" fill="#e5923f"/><circle cx="177.1" cy="153.2" r="2.1" fill="#b23d3f"/><circle cx="156.7" cy="142.2" r="2.1" fill="#e5923f"/><circle cx="137.8" cy="144.2" r="2.1" fill="#e5923f"/><circle cx="172" cy="151.7" r="2.1" fill="#b23d3f"/><circle cx="120.3" cy="108.7" r="2.1" fill="#2e4a52"/><circle cx="145.2" cy="120.3" r="2.1" fill="#e5923f"/><circle cx="164.8" cy="115.1" r="2.1" fill="#b23d3f"/><circle cx="150.1" cy="144.9" r="2.1" fill="#e5923f"/><circle cx="114.8" cy="121.2" r="2.1" fill="#2e4a52"/><circle cx="178.8" cy="85.2" r="2.1" fill="#e5923f"/><circle cx="145.5" cy="105.9" r="2.1" fill="#e5923f"/><circle cx="191.7" cy="126.4" r="2.1" fill="#b23d3f"/><circle cx="169.6" cy="119.9" r="2.1" fill="#b23d3f"/><circle cx="150.3" cy="121.3" r="2.1" fill="#e5923f"/><circle cx="149.8" cy="108.9" r="2.1" fill="#e5923f"/><circle cx="50.1" cy="98.7" r="2.1" fill="#2e4a52"/><circle cx="162.2" cy="147.1" r="2.1" fill="#b23d3f"/><circle cx="142" cy="81.6" r="2.1" fill="#e5923f"/><circle cx="126.3" cy="132.6" r="2.1" fill="#e5923f"/><circle cx="154.2" cy="107.9" r="2.1" fill="#e5923f"/><circle cx="144.9" cy="130.7" r="2.1" fill="#e5923f"/><circle cx="191.3" cy="74.3" r="2.1" fill="#b23d3f"/><circle cx="147.9" cy="170.4" r="2.1" fill="#e5923f"/><circle cx="217.5" cy="148.7" r="2.1" fill="#12a1d7"/><circle cx="114.7" cy="129.8" r="2.1" fill="#2e4a52"/><circle cx="162.5" cy="52.1" r="2.1" fill="#e5923f"/><circle cx="166.2" cy="189.6" r="2.1" fill="#b23d3f"/><circle cx="193.3" cy="147.2" r="2.1" fill="#12a1d7"/><circle cx="140.9" cy="118.3" r="2.1" fill="#e5923f"/><circle cx="196.1" cy="83.2" r="2.1" fill="#b23d3f"/><circle cx="157.6" cy="84.5" r="2.1" fill="#e5923f"/><circle cx="195.5" cy="179.8" r="2.1" fill="#b23d3f"/><circle cx="194.8" cy="69.4" r="2.1" fill="#b23d3f"/><circle cx="165.4" cy="188.6" r="2.1" fill="#b23d3f"/><circle cx="187.4" cy="125.4" r="2.1" fill="#b23d3f"/><circle cx="187.2" cy="173.6" r="2.1" fill="#b23d3f"/><circle cx="151" cy="156.9" r="2.1" fill="#b23d3f"/><circle cx="119.2" cy="165" r="2.1" fill="#e5923f"/><circle cx="165.6" cy="138.8" r="2.1" fill="#b23d3f"/><circle cx="161" cy="182.3" r="2.1" fill="#b23d3f"/><circle cx="182.5" cy="144.6" r="2.1" fill="#b23d3f"/><circle cx="185.8" cy="120.1" r="2.1" fill="#b23d3f"/><circle cx="176.9" cy="102.7" r="2.1" fill="#b23d3f"/><circle cx="155.6" cy="165" r="2.1" fill="#b23d3f"/><circle cx="170.4" cy="85.2" r="2.1" fill="#e5923f"/><circle cx="92.7" cy="171.4" r="2.1" fill="#2e4a52"/><circle cx="265.5" cy="168.8" r="2.1" fill="#12a1d7"/><circle cx="195.1" cy="63" r="2.1" fill="#12a1d7"/><circle cx="135.6" cy="65.1" r="2.1" fill="#e5923f"/><circle cx="210.7" cy="221.4" r="2.1" fill="#b23d3f"/><circle cx="126.5" cy="57.8" r="2.1" fill="#e5923f"/><circle cx="219.7" cy="161" r="2.1" fill="#12a1d7"/><circle cx="164.9" cy="146.8" r="2.1" fill="#b23d3f"/><circle cx="149.6" cy="134.8" r="2.1" fill="#e5923f"/><circle cx="165.7" cy="147.6" r="2.1" fill="#b23d3f"/><circle cx="196.9" cy="159.3" r="2.1" fill="#b23d3f"/><circle cx="244.9" cy="103.4" r="2.1" fill="#12a1d7"/><circle cx="84.5" cy="130.9" r="2.1" fill="#2e4a52"/><circle cx="128.8" cy="68.2" r="2.1" fill="#2e4a52"/><circle cx="137.3" cy="164.5" r="2.1" fill="#e5923f"/><circle cx="151.3" cy="143.4" r="2.1" fill="#e5923f"/><circle cx="157.9" cy="123" r="2.1" fill="#b23d3f"/><circle cx="165.1" cy="155.2" r="2.1" fill="#e5923f"/><circle cx="177.7" cy="68.2" r="2.1" fill="#b23d3f"/><circle cx="190" cy="85.6" r="2.1" fill="#b23d3f"/><circle cx="110.9" cy="229.7" r="2.1" fill="#e5923f"/><circle cx="174.4" cy="155.1" r="2.1" fill="#b23d3f"/><circle cx="175.8" cy="128" r="2.1" fill="#b23d3f"/><circle cx="185.3" cy="150.1" r="2.1" fill="#b23d3f"/><circle cx="140.1" cy="137" r="2.1" fill="#e5923f"/><circle cx="202.5" cy="157.5" r="2.1" fill="#b23d3f"/><circle cx="153.1" cy="96.6" r="2.1" fill="#e5923f"/><circle cx="184.8" cy="140.5" r="2.1" fill="#b23d3f"/><circle cx="173.9" cy="108.3" r="2.1" fill="#b23d3f"/><circle cx="187.5" cy="90.8" r="2.1" fill="#b23d3f"/><circle cx="182.9" cy="168.6" r="2.1" fill="#b23d3f"/><circle cx="116.3" cy="110.2" r="2.1" fill="#2e4a52"/><circle cx="114.6" cy="123.3" r="2.1" fill="#2e4a52"/><circle cx="133.8" cy="195.5" r="2.1" fill="#e5923f"/><circle cx="179.7" cy="160.5" r="2.1" fill="#b23d3f"/><circle cx="179.4" cy="82.6" r="2.1" fill="#b23d3f"/><circle cx="164" cy="73.1" r="2.1" fill="#b23d3f"/><circle cx="181.7" cy="109.7" r="2.1" fill="#b23d3f"/><circle cx="108.5" cy="72.3" r="2.1" fill="#e5923f"/><circle cx="190.4" cy="121.8" r="2.1" fill="#b23d3f"/><circle cx="91.9" cy="181.8" r="2.1" fill="#2e4a52"/><circle cx="194.2" cy="185.6" r="2.1" fill="#b23d3f"/><circle cx="174.4" cy="133.4" r="2.1" fill="#b23d3f"/><circle cx="99.6" cy="121.3" r="2.1" fill="#2e4a52"/><circle cx="222.9" cy="96.9" r="2.1" fill="#12a1d7"/><circle cx="240.2" cy="84" r="2.1" fill="#12a1d7"/><circle cx="169.1" cy="130.9" r="2.1" fill="#b23d3f"/><circle cx="142.4" cy="98.7" r="2.1" fill="#e5923f"/><circle cx="167" cy="118.5" r="2.1" fill="#b23d3f"/><circle cx="169.8" cy="134.2" r="2.1" fill="#b23d3f"/><circle cx="162.1" cy="120.9" r="2.1" fill="#b23d3f"/><circle cx="201.9" cy="103.2" r="2.1" fill="#12a1d7"/><circle cx="139.1" cy="155.7" r="2.1" fill="#e5923f"/><circle cx="167.7" cy="106.9" r="2.1" fill="#e5923f"/><circle cx="201.8" cy="133" r="2.1" fill="#12a1d7"/><circle cx="243.8" cy="210.4" r="2.1" fill="#12a1d7"/><circle cx="152.7" cy="175.8" r="2.1" fill="#b23d3f"/><circle cx="170.9" cy="135.4" r="2.1" fill="#b23d3f"/><circle cx="182.7" cy="182.5" r="2.1" fill="#b23d3f"/><circle cx="106.6" cy="119.2" r="2.1" fill="#2e4a52"/><circle cx="132.2" cy="116.4" r="2.1" fill="#e5923f"/><circle cx="159.5" cy="149.6" r="2.1" fill="#b23d3f"/><circle cx="203.5" cy="28.4" r="2.1" fill="#12a1d7"/><circle cx="110" cy="130.3" r="2.1" fill="#2e4a52"/><circle cx="149.6" cy="163.6" r="2.1" fill="#e5923f"/><circle cx="174.1" cy="145.6" r="2.1" fill="#b23d3f"/><circle cx="156.6" cy="80.4" r="2.1" fill="#e5923f"/><circle cx="137.7" cy="98.4" r="2.1" fill="#e5923f"/><circle cx="158.4" cy="91.4" r="2.1" fill="#b23d3f"/><circle cx="150.5" cy="59.9" r="2.1" fill="#e5923f"/><circle cx="176.2" cy="147.6" r="2.1" fill="#e5923f"/><circle cx="175.5" cy="147.7" r="2.1" fill="#b23d3f"/><circle cx="177.4" cy="120.4" r="2.1" fill="#b23d3f"/><circle cx="120" cy="91.9" r="2.1" fill="#2e4a52"/><circle cx="173.9" cy="169.7" r="2.1" fill="#b23d3f"/><circle cx="205.6" cy="155.3" r="2.1" fill="#b23d3f"/><circle cx="165.4" cy="94.7" r="2.1" fill="#e5923f"/><circle cx="159.7" cy="127.2" r="2.1" fill="#b23d3f"/><circle cx="161.6" cy="123.6" r="2.1" fill="#b23d3f"/><circle cx="230.7" cy="121.6" r="2.1" fill="#12a1d7"/><circle cx="137.5" cy="209.4" r="2.1" fill="#e5923f"/><circle cx="203.8" cy="167.6" r="2.1" fill="#12a1d7"/><circle cx="134.4" cy="114.1" r="2.1" fill="#e5923f"/><circle cx="97.2" cy="152.3" r="2.1" fill="#2e4a52"/><circle cx="109.1" cy="142.8" r="2.1" fill="#2e4a52"/><circle cx="219.1" cy="181.1" r="2.1" fill="#12a1d7"/><circle cx="229.9" cy="71.3" r="2.1" fill="#12a1d7"/><circle cx="214.2" cy="163.8" r="2.1" fill="#12a1d7"/><circle cx="162.3" cy="168.2" r="2.1" fill="#b23d3f"/><circle cx="166.3" cy="178.5" r="2.1" fill="#b23d3f"/><circle cx="143.3" cy="166.6" r="2.1" fill="#e5923f"/><circle cx="209.4" cy="170.4" r="2.1" fill="#b23d3f"/><circle cx="145.6" cy="113.3" r="2.1" fill="#e5923f"/><circle cx="158.3" cy="94.8" r="2.1" fill="#e5923f"/><circle cx="99.2" cy="132.2" r="2.1" fill="#2e4a52"/><circle cx="167" cy="91.6" r="2.1" fill="#b23d3f"/><circle cx="169.4" cy="97.1" r="2.1" fill="#b23d3f"/><circle cx="101.6" cy="118.9" r="2.1" fill="#2e4a52"/><circle cx="182.9" cy="177.2" r="2.1" fill="#b23d3f"/><circle cx="153" cy="176.6" r="2.1" fill="#b23d3f"/><circle cx="149.8" cy="134.6" r="2.1" fill="#b23d3f"/><circle cx="175.4" cy="107.4" r="2.1" fill="#b23d3f"/><circle cx="133.4" cy="98.2" r="2.1" fill="#2e4a52"/><circle cx="152" cy="171.6" r="2.1" fill="#b23d3f"/><circle cx="169.5" cy="127.1" r="2.1" fill="#b23d3f"/><circle cx="155.3" cy="81.3" r="2.1" fill="#e5923f"/><circle cx="152.8" cy="169.1" r="2.1" fill="#b23d3f"/><circle cx="181.7" cy="129.1" r="2.1" fill="#b23d3f"/><circle cx="224.6" cy="137.8" r="2.1" fill="#12a1d7"/><circle cx="165.8" cy="84.6" r="2.1" fill="#e5923f"/><circle cx="120.4" cy="98.2" r="2.1" fill="#2e4a52"/><circle cx="165.9" cy="207.4" r="2.1" fill="#b23d3f"/><circle cx="185.5" cy="53.8" r="2.1" fill="#b23d3f"/><circle cx="164.2" cy="126.9" r="2.1" fill="#e5923f"/><circle cx="111.5" cy="121.4" r="2.1" fill="#2e4a52"/><circle cx="147.7" cy="146.6" r="2.1" fill="#e5923f"/></g>
<rect x="39.6" y="16.4" width="236.7" height="243" fill="none" stroke="#4d4d4d" stroke-width="0.9"/>
<line x1="48.5" y1="259.4" x2="48.5" y2="262.1" stroke="#333" stroke-width="0.9"/>
<text x="48.5" y="272" font-size="10.4" fill="#3d3d3d" text-anchor="middle">−10</text>
<line x1="102.8" y1="259.4" x2="102.8" y2="262.1" stroke="#333" stroke-width="0.9"/>
<text x="102.8" y="272" font-size="10.4" fill="#3d3d3d" text-anchor="middle">−5</text>
<line x1="157" y1="259.4" x2="157" y2="262.1" stroke="#333" stroke-width="0.9"/>
<text x="157" y="272" font-size="10.4" fill="#3d3d3d" text-anchor="middle">0</text>
<line x1="211.2" y1="259.4" x2="211.2" y2="262.1" stroke="#333" stroke-width="0.9"/>
<text x="211.2" y="272" font-size="10.4" fill="#3d3d3d" text-anchor="middle">5</text>
<line x1="265.5" y1="259.4" x2="265.5" y2="262.1" stroke="#333" stroke-width="0.9"/>
<text x="265.5" y="272" font-size="10.4" fill="#3d3d3d" text-anchor="middle">10</text>
<line x1="36.9" y1="246.4" x2="39.6" y2="246.4" stroke="#333" stroke-width="0.9"/>
<text x="35" y="250.3" font-size="10.4" fill="#3d3d3d" text-anchor="end">−6</text>
<line x1="36.9" y1="191" x2="39.6" y2="191" stroke="#333" stroke-width="0.9"/>
<text x="35" y="194.9" font-size="10.4" fill="#3d3d3d" text-anchor="end">−3</text>
<line x1="36.9" y1="135.6" x2="39.6" y2="135.6" stroke="#333" stroke-width="0.9"/>
<text x="35" y="139.5" font-size="10.4" fill="#3d3d3d" text-anchor="end">0</text>
<line x1="36.9" y1="80.2" x2="39.6" y2="80.2" stroke="#333" stroke-width="0.9"/>
<text x="35" y="84.1" font-size="10.4" fill="#3d3d3d" text-anchor="end">3</text>
<line x1="36.9" y1="24.8" x2="39.6" y2="24.8" stroke="#333" stroke-width="0.9"/>
<text x="35" y="28.7" font-size="10.4" fill="#3d3d3d" text-anchor="end">6</text>
<text x="158" y="284" font-size="10.7" fill="#000" text-anchor="middle">PC1 (39.78%)</text>
<text x="19.9" y="137.9" font-size="10.7" fill="#000" text-anchor="middle" transform="rotate(-90 19.9 137.9)">PC2 (12.42%)</text>
<text x="4.8" y="15" font-size="12.5" fill="#000" font-weight="bold">a</text>
<line x1="418.9" y1="16.4" x2="418.9" y2="259.4" stroke="#f0f0f0" stroke-width="0.55"/>
<line x1="473.2" y1="16.4" x2="473.2" y2="259.4" stroke="#f0f0f0" stroke-width="0.55"/>
<line x1="527.4" y1="16.4" x2="527.4" y2="259.4" stroke="#f0f0f0" stroke-width="0.55"/>
<line x1="581.7" y1="16.4" x2="581.7" y2="259.4" stroke="#f0f0f0" stroke-width="0.55"/>
<line x1="382.9" y1="218.7" x2="619.6" y2="218.7" stroke="#f0f0f0" stroke-width="0.55"/>
<line x1="382.9" y1="163.3" x2="619.6" y2="163.3" stroke="#f0f0f0" stroke-width="0.55"/>
<line x1="382.9" y1="107.9" x2="619.6" y2="107.9" stroke="#f0f0f0" stroke-width="0.55"/>
<line x1="382.9" y1="52.5" x2="619.6" y2="52.5" stroke="#f0f0f0" stroke-width="0.55"/>
<line x1="391.8" y1="16.4" x2="391.8" y2="259.4" stroke="#ebebeb" stroke-width="1.0"/>
<line x1="446.1" y1="16.4" x2="446.1" y2="259.4" stroke="#ebebeb" stroke-width="1.0"/>
<line x1="500.3" y1="16.4" x2="500.3" y2="259.4" stroke="#ebebeb" stroke-width="1.0"/>
<line x1="554.5" y1="16.4" x2="554.5" y2="259.4" stroke="#ebebeb" stroke-width="1.0"/>
<line x1="608.8" y1="16.4" x2="608.8" y2="259.4" stroke="#ebebeb" stroke-width="1.0"/>
<line x1="382.9" y1="246.4" x2="619.6" y2="246.4" stroke="#ebebeb" stroke-width="1.0"/>
<line x1="382.9" y1="191" x2="619.6" y2="191" stroke="#ebebeb" stroke-width="1.0"/>
<line x1="382.9" y1="135.6" x2="619.6" y2="135.6" stroke="#ebebeb" stroke-width="1.0"/>
<line x1="382.9" y1="80.2" x2="619.6" y2="80.2" stroke="#ebebeb" stroke-width="1.0"/>
<line x1="382.9" y1="24.8" x2="619.6" y2="24.8" stroke="#ebebeb" stroke-width="1.0"/>
<g class="sp"><circle cx="547.1" cy="113.6" r="2.1" fill="#95a4a8"/><circle cx="434.7" cy="133.5" r="2.1" fill="#f1e5e5"/><circle cx="519.5" cy="173.6" r="2.1" fill="#ebeced"/><circle cx="548.9" cy="119.5" r="2.1" fill="#c9d0d2"/><circle cx="557.8" cy="27.4" r="2.1" fill="#f0f1f1"/><circle cx="475.9" cy="112.2" r="2.1" fill="#f2e6e6"/><circle cx="536.5" cy="139.9" r="2.1" fill="#b4bec0"/><circle cx="484.4" cy="110.1" r="2.1" fill="#c5ccce"/><circle cx="415.4" cy="128.3" r="2.1" fill="#e4a9a9"/><circle cx="514.3" cy="124.4" r="2.1" fill="#edd1d1"/><circle cx="509.8" cy="144.9" r="2.1" fill="#eac2c2"/><circle cx="489.8" cy="98.9" r="2.1" fill="#d0d6d7"/><circle cx="498.5" cy="92.6" r="2.1" fill="#f5f3f3"/><circle cx="510.7" cy="109.3" r="2.1" fill="#bfc8ca"/><circle cx="516.7" cy="155.5" r="2.1" fill="#e3e6e6"/><circle cx="542.4" cy="43.7" r="2.1" fill="#5d757a"/><circle cx="522.1" cy="109.8" r="2.1" fill="#bdc6c8"/><circle cx="438.3" cy="131" r="2.1" fill="#e2e5e6"/><circle cx="522.1" cy="144" r="2.1" fill="#efdcdc"/><circle cx="489.1" cy="122.2" r="2.1" fill="#dee2e3"/><circle cx="537.7" cy="139.1" r="2.1" fill="#e1e4e5"/><circle cx="527" cy="76" r="2.1" fill="#d5dadb"/><circle cx="491" cy="88.9" r="2.1" fill="#b7c0c3"/><circle cx="519.3" cy="129.4" r="2.1" fill="#f0f1f1"/><circle cx="541.7" cy="165.1" r="2.1" fill="#f5f3f3"/><circle cx="512.8" cy="131.2" r="2.1" fill="#e3e6e7"/><circle cx="516.2" cy="93.1" r="2.1" fill="#eff0f0"/><circle cx="512.8" cy="124.6" r="2.1" fill="#f1e4e4"/><circle cx="522.4" cy="116.2" r="2.1" fill="#eceeee"/><circle cx="532" cy="168.9" r="2.1" fill="#cdd3d4"/><circle cx="497.5" cy="147" r="2.1" fill="#a4b0b3"/><circle cx="537.8" cy="110.5" r="2.1" fill="#adb8bb"/><circle cx="516" cy="108.3" r="2.1" fill="#bbc4c6"/><circle cx="531.1" cy="142" r="2.1" fill="#f0f0f1"/><circle cx="569.2" cy="129.8" r="2.1" fill="#f4f4f4"/><circle cx="515" cy="115.3" r="2.1" fill="#dbdfe0"/><circle cx="507.7" cy="177.1" r="2.1" fill="#f2e6e6"/><circle cx="489.6" cy="170.5" r="2.1" fill="#8f9fa3"/><circle cx="498.4" cy="117.8" r="2.1" fill="#eeefef"/><circle cx="464.1" cy="208.5" r="2.1" fill="#dde1e2"/><circle cx="485.3" cy="136.3" r="2.1" fill="#eed4d4"/><circle cx="477.7" cy="108.7" r="2.1" fill="#e9bfbf"/><circle cx="491.4" cy="109" r="2.1" fill="#eed3d3"/><circle cx="508.2" cy="145.1" r="2.1" fill="#f3eded"/><circle cx="522.9" cy="117.1" r="2.1" fill="#f2e7e7"/><circle cx="477.6" cy="147.9" r="2.1" fill="#e5aaaa"/><circle cx="500.3" cy="134.7" r="2.1" fill="#ced4d5"/><circle cx="509.8" cy="95" r="2.1" fill="#edd0d0"/><circle cx="553.9" cy="116.5" r="2.1" fill="#bcc5c7"/><circle cx="489.4" cy="172.8" r="2.1" fill="#b9c3c5"/><circle cx="436.5" cy="105.3" r="2.1" fill="#e4a8a8"/><circle cx="520.2" cy="96.4" r="2.1" fill="#f5f3f3"/><circle cx="524.2" cy="74.9" r="2.1" fill="#e4e7e7"/><circle cx="544.6" cy="112.8" r="2.1" fill="#b4bec1"/><circle cx="517.8" cy="145" r="2.1" fill="#f3f3f3"/><circle cx="478.6" cy="106.9" r="2.1" fill="#f4f4f4"/><circle cx="471.5" cy="134.9" r="2.1" fill="#dd8989"/><circle cx="509.5" cy="135.7" r="2.1" fill="#edeeee"/><circle cx="517.5" cy="144.6" r="2.1" fill="#ebeded"/><circle cx="541.7" cy="175" r="2.1" fill="#bbc4c6"/><circle cx="507.4" cy="167.1" r="2.1" fill="#f4f2f2"/><circle cx="485.1" cy="90.5" r="2.1" fill="#e7b5b5"/><circle cx="553.2" cy="117.4" r="2.1" fill="#aeb9bc"/><circle cx="556.6" cy="155.5" r="2.1" fill="#bac3c5"/><circle cx="487.9" cy="131.2" r="2.1" fill="#a7b3b6"/><circle cx="527.1" cy="142.5" r="2.1" fill="#d3d9da"/><circle cx="476.7" cy="115.2" r="2.1" fill="#e6afaf"/><circle cx="525.7" cy="91.6" r="2.1" fill="#a8b4b7"/><circle cx="452.8" cy="114.6" r="2.1" fill="#f0e0e0"/><circle cx="454.3" cy="159.8" r="2.1" fill="#f4efef"/><circle cx="473.1" cy="150.4" r="2.1" fill="#f4f3f3"/><circle cx="479.2" cy="79.7" r="2.1" fill="#dde0e1"/><circle cx="487.4" cy="160.3" r="2.1" fill="#e3e6e7"/><circle cx="545.6" cy="47.1" r="2.1" fill="#a0aeb1"/><circle cx="569.3" cy="68.2" r="2.1" fill="#c9d0d2"/><circle cx="490.1" cy="115.1" r="2.1" fill="#eed7d7"/><circle cx="542.8" cy="112" r="2.1" fill="#eceded"/><circle cx="464.9" cy="87.3" r="2.1" fill="#c2cacc"/><circle cx="490.1" cy="131.4" r="2.1" fill="#eccaca"/><circle cx="502.9" cy="111.3" r="2.1" fill="#f3eded"/><circle cx="483.6" cy="178.5" r="2.1" fill="#ebc9c9"/><circle cx="564.8" cy="82.5" r="2.1" fill="#a0aeb1"/><circle cx="523.9" cy="198" r="2.1" fill="#bfc8c9"/><circle cx="507.8" cy="66.1" r="2.1" fill="#f4f1f1"/><circle cx="427.2" cy="97.2" r="2.1" fill="#d87373"/><circle cx="505.2" cy="109.4" r="2.1" fill="#bac3c6"/><circle cx="542.9" cy="137.5" r="2.1" fill="#d8ddde"/><circle cx="536.9" cy="132.5" r="2.1" fill="#e2e5e5"/><circle cx="497.8" cy="158.3" r="2.1" fill="#d7dcdd"/><circle cx="439.9" cy="132.4" r="2.1" fill="#e7b6b6"/><circle cx="490.3" cy="78.6" r="2.1" fill="#dadedf"/><circle cx="492.8" cy="147.1" r="2.1" fill="#edcece"/><circle cx="479.7" cy="153.7" r="2.1" fill="#bbc4c6"/><circle cx="492.3" cy="139.1" r="2.1" fill="#f4f3f3"/><circle cx="515.1" cy="187.1" r="2.1" fill="#c7ced0"/><circle cx="473.6" cy="138" r="2.1" fill="#f3ecec"/><circle cx="488.1" cy="93.5" r="2.1" fill="#cdd3d4"/><circle cx="484.4" cy="105.9" r="2.1" fill="#7f9195"/><circle cx="525.3" cy="155.1" r="2.1" fill="#efdada"/><circle cx="513.4" cy="134.2" r="2.1" fill="#f4f2f2"/><circle cx="539.6" cy="174.6" r="2.1" fill="#e0e3e4"/><circle cx="486.5" cy="145" r="2.1" fill="#f1f2f2"/><circle cx="507.2" cy="96.2" r="2.1" fill="#ebeded"/><circle cx="462.6" cy="131.9" r="2.1" fill="#f2e8e8"/><circle cx="526.5" cy="104.7" r="2.1" fill="#dadfdf"/><circle cx="515.4" cy="159.3" r="2.1" fill="#efd9d9"/><circle cx="471.4" cy="108.1" r="2.1" fill="#ecedee"/><circle cx="487.1" cy="118.8" r="2.1" fill="#d0d6d7"/><circle cx="492.5" cy="134.6" r="2.1" fill="#e8b7b7"/><circle cx="528.4" cy="91.7" r="2.1" fill="#c2cacc"/><circle cx="507.3" cy="117.5" r="2.1" fill="#e8eaeb"/><circle cx="463.8" cy="110.1" r="2.1" fill="#f1e4e4"/><circle cx="553.5" cy="80.5" r="2.1" fill="#e0e4e4"/><circle cx="486.7" cy="190.3" r="2.1" fill="#f0dfdf"/><circle cx="508" cy="95.6" r="2.1" fill="#e4e6e7"/><circle cx="512.5" cy="117.9" r="2.1" fill="#b7c1c3"/><circle cx="513.2" cy="211.9" r="2.1" fill="#b8c1c3"/><circle cx="504.4" cy="130.7" r="2.1" fill="#e4e6e7"/><circle cx="527.7" cy="85" r="2.1" fill="#edcece"/><circle cx="460.4" cy="55.7" r="2.1" fill="#ccd2d4"/><circle cx="546.9" cy="77.3" r="2.1" fill="#c8cfd1"/><circle cx="511.8" cy="83" r="2.1" fill="#eff0f0"/><circle cx="512.2" cy="116.9" r="2.1" fill="#c6cecf"/><circle cx="509.9" cy="119.6" r="2.1" fill="#e7e9ea"/><circle cx="500.4" cy="148.3" r="2.1" fill="#dee2e3"/><circle cx="576.9" cy="149.3" r="2.1" fill="#dde1e1"/><circle cx="529" cy="143.5" r="2.1" fill="#eed6d6"/><circle cx="509.7" cy="128.7" r="2.1" fill="#d2d7d8"/><circle cx="542.4" cy="184.3" r="2.1" fill="#dadedf"/><circle cx="488.5" cy="75.5" r="2.1" fill="#f2e9e9"/><circle cx="546.3" cy="99.6" r="2.1" fill="#d2d8d9"/><circle cx="558.2" cy="140.1" r="2.1" fill="#c7ced0"/><circle cx="500.4" cy="104.6" r="2.1" fill="#8e9ea2"/><circle cx="510.9" cy="123.9" r="2.1" fill="#e1e4e5"/><circle cx="510.8" cy="110.2" r="2.1" fill="#b3bec0"/><circle cx="486.4" cy="135.8" r="2.1" fill="#e1e4e5"/><circle cx="454.6" cy="97.2" r="2.1" fill="#eac3c3"/><circle cx="487.2" cy="147.5" r="2.1" fill="#f1e3e3"/><circle cx="515.9" cy="138.3" r="2.1" fill="#c9d0d1"/><circle cx="527.1" cy="162.1" r="2.1" fill="#c3cacc"/><circle cx="487.8" cy="134.7" r="2.1" fill="#e5e8e8"/><circle cx="477.9" cy="97.6" r="2.1" fill="#d3d8d9"/><circle cx="464.7" cy="201.1" r="2.1" fill="#e4a5a5"/><circle cx="556.3" cy="89.1" r="2.1" fill="#f0e0e0"/><circle cx="467.1" cy="119.2" r="2.1" fill="#f2eaea"/><circle cx="511.6" cy="143.6" r="2.1" fill="#edd1d1"/><circle cx="442.4" cy="123.3" r="2.1" fill="#e4a9a9"/><circle cx="518.7" cy="114.8" r="2.1" fill="#aeb9bc"/><circle cx="471.2" cy="130.8" r="2.1" fill="#eac5c5"/><circle cx="527.4" cy="78.1" r="2.1" fill="#eeeff0"/><circle cx="517.2" cy="113.2" r="2.1" fill="#dfe3e3"/><circle cx="506.7" cy="154.5" r="2.1" fill="#a5b2b4"/><circle cx="468.9" cy="99.2" r="2.1" fill="#eff0f0"/><circle cx="512.2" cy="97.8" r="2.1" fill="#819398"/><circle cx="498.3" cy="151.8" r="2.1" fill="#e2e5e6"/><circle cx="494.5" cy="72.7" r="2.1" fill="#dce0e1"/><circle cx="494.4" cy="134.1" r="2.1" fill="#bcc5c7"/><circle cx="505.9" cy="163.3" r="2.1" fill="#adb9bb"/><circle cx="488.8" cy="151.4" r="2.1" fill="#ebc9c9"/><circle cx="509.2" cy="160.5" r="2.1" fill="#a1aeb1"/><circle cx="539.8" cy="151" r="2.1" fill="#eaeced"/><circle cx="526.7" cy="183.4" r="2.1" fill="#d8ddde"/><circle cx="497.8" cy="185.9" r="2.1" fill="#eed7d7"/><circle cx="498.4" cy="174" r="2.1" fill="#a4b0b3"/><circle cx="508.5" cy="91.4" r="2.1" fill="#e1e4e5"/><circle cx="508" cy="141.7" r="2.1" fill="#f0dddd"/><circle cx="566.8" cy="102.5" r="2.1" fill="#bac4c6"/><circle cx="472.1" cy="151.2" r="2.1" fill="#cbd1d3"/><circle cx="487.2" cy="168.6" r="2.1" fill="#a4b1b3"/><circle cx="488.2" cy="167.4" r="2.1" fill="#d4d9da"/><circle cx="508.8" cy="92.9" r="2.1" fill="#f2e6e6"/><circle cx="506.3" cy="132.6" r="2.1" fill="#edd2d2"/><circle cx="541" cy="151.6" r="2.1" fill="#d0d5d7"/><circle cx="461.6" cy="90" r="2.1" fill="#e8bbbb"/><circle cx="559" cy="128.2" r="2.1" fill="#ecedee"/><circle cx="503.2" cy="100.4" r="2.1" fill="#f5f3f3"/><circle cx="423.4" cy="88.9" r="2.1" fill="#edd1d1"/><circle cx="478.3" cy="88.7" r="2.1" fill="#eed4d4"/><circle cx="539.4" cy="127.3" r="2.1" fill="#a7b3b6"/><circle cx="453.4" cy="136.1" r="2.1" fill="#edcfcf"/><circle cx="450.4" cy="145.7" r="2.1" fill="#e6b2b2"/><circle cx="448.9" cy="113.7" r="2.1" fill="#e4a5a5"/><circle cx="485" cy="116" r="2.1" fill="#eef0f0"/><circle cx="509.2" cy="143.1" r="2.1" fill="#f1e1e1"/><circle cx="520.8" cy="82.7" r="2.1" fill="#efd8d8"/><circle cx="479.4" cy="153" r="2.1" fill="#eccccc"/><circle cx="506.4" cy="88.5" r="2.1" fill="#dde1e1"/><circle cx="530" cy="165.4" r="2.1" fill="#e0e3e4"/><circle cx="445.8" cy="92.5" r="2.1" fill="#ebc9c9"/><circle cx="552.5" cy="132.2" r="2.1" fill="#cbd1d3"/><circle cx="480.8" cy="121.1" r="2.1" fill="#eed6d6"/><circle cx="507.9" cy="176.1" r="2.1" fill="#f1e2e2"/><circle cx="492.5" cy="57.8" r="2.1" fill="#eceded"/><circle cx="519.6" cy="111.7" r="2.1" fill="#f5f4f4"/><circle cx="478" cy="112.5" r="2.1" fill="#f1e5e5"/><circle cx="502.3" cy="109.5" r="2.1" fill="#e7e9ea"/><circle cx="545.2" cy="128.6" r="2.1" fill="#a6b3b5"/><circle cx="462.8" cy="174" r="2.1" fill="#edcece"/><circle cx="515.5" cy="100.5" r="2.1" fill="#d6dbdc"/><circle cx="495.2" cy="119.5" r="2.1" fill="#f3f4f4"/><circle cx="520.6" cy="180.8" r="2.1" fill="#f3ebeb"/><circle cx="525.1" cy="99.8" r="2.1" fill="#f4f4f4"/><circle cx="485.5" cy="68.6" r="2.1" fill="#efdcdc"/><circle cx="488.6" cy="145.4" r="2.1" fill="#dce0e1"/><circle cx="543.5" cy="72.2" r="2.1" fill="#8f9fa2"/><circle cx="521.1" cy="158" r="2.1" fill="#c9d0d1"/><circle cx="550.5" cy="150.5" r="2.1" fill="#c9d0d1"/><circle cx="489.8" cy="119.6" r="2.1" fill="#f5f4f4"/><circle cx="508.4" cy="94.7" r="2.1" fill="#efd8d8"/><circle cx="497.4" cy="94.3" r="2.1" fill="#f1f2f2"/><circle cx="487.3" cy="47" r="2.1" fill="#eac3c3"/><circle cx="409.2" cy="85.8" r="2.1" fill="#e6b0b0"/><circle cx="514.5" cy="148.3" r="2.1" fill="#b1bbbe"/><circle cx="483" cy="104.7" r="2.1" fill="#eed3d3"/><circle cx="488.8" cy="119.5" r="2.1" fill="#c3cbcd"/><circle cx="484" cy="86.8" r="2.1" fill="#b8c1c4"/><circle cx="540.4" cy="189.8" r="2.1" fill="#b9c2c4"/><circle cx="470.8" cy="130.3" r="2.1" fill="#efdada"/><circle cx="551.8" cy="96.8" r="2.1" fill="#f4f4f4"/><circle cx="513.9" cy="115.2" r="2.1" fill="#dce0e0"/><circle cx="494.9" cy="175.8" r="2.1" fill="#f0e0e0"/><circle cx="491.2" cy="136.1" r="2.1" fill="#ebeded"/><circle cx="496.7" cy="109.6" r="2.1" fill="#a7b3b6"/><circle cx="557.7" cy="107.2" r="2.1" fill="#9ba9ac"/><circle cx="461.4" cy="111.7" r="2.1" fill="#ced4d6"/><circle cx="454.2" cy="131.3" r="2.1" fill="#efdbdb"/><circle cx="490" cy="174.8" r="2.1" fill="#9caaad"/><circle cx="546.9" cy="92.3" r="2.1" fill="#93a3a6"/><circle cx="540.4" cy="167.3" r="2.1" fill="#aeb9bb"/><circle cx="488.1" cy="82.8" r="2.1" fill="#efd9d9"/><circle cx="528.2" cy="153.3" r="2.1" fill="#e9eaeb"/><circle cx="529.1" cy="156.8" r="2.1" fill="#c4ccce"/><circle cx="504.4" cy="118.8" r="2.1" fill="#e7e9ea"/><circle cx="557.3" cy="96.7" r="2.1" fill="#bcc5c7"/><circle cx="476.1" cy="34.1" r="2.1" fill="#dd8787"/><circle cx="537.6" cy="173.9" r="2.1" fill="#8e9ea2"/><circle cx="500.7" cy="121.7" r="2.1" fill="#92a1a5"/><circle cx="463.2" cy="94" r="2.1" fill="#c1c9cb"/><circle cx="506.9" cy="79.4" r="2.1" fill="#a6b2b5"/><circle cx="451.3" cy="91.3" r="2.1" fill="#f0dfdf"/><circle cx="478.7" cy="97.5" r="2.1" fill="#eccece"/><circle cx="551.8" cy="92.9" r="2.1" fill="#bec7c9"/><circle cx="522.2" cy="124.8" r="2.1" fill="#cbd2d3"/><circle cx="495.7" cy="156.3" r="2.1" fill="#dfe3e3"/><circle cx="529.4" cy="166.6" r="2.1" fill="#d9ddde"/><circle cx="515.5" cy="133.9" r="2.1" fill="#b5bfc1"/><circle cx="502" cy="140.7" r="2.1" fill="#f5f3f3"/><circle cx="517.1" cy="144.4" r="2.1" fill="#d5dadb"/><circle cx="542.3" cy="146.5" r="2.1" fill="#d4d9db"/><circle cx="530" cy="84.4" r="2.1" fill="#e6e8e9"/><circle cx="464.2" cy="156.4" r="2.1" fill="#eccccc"/><circle cx="583.5" cy="79.1" r="2.1" fill="#d6dadc"/><circle cx="548.5" cy="162.1" r="2.1" fill="#a6b3b5"/><circle cx="530.5" cy="168.7" r="2.1" fill="#e3e5e6"/><circle cx="446.6" cy="144.2" r="2.1" fill="#e2e5e5"/><circle cx="483" cy="65.3" r="2.1" fill="#a2afb2"/><circle cx="527.8" cy="175.1" r="2.1" fill="#c3cbcc"/><circle cx="517.7" cy="248.2" r="2.1" fill="#e6e8e9"/><circle cx="451.9" cy="104.7" r="2.1" fill="#eac2c2"/><circle cx="483.5" cy="52.5" r="2.1" fill="#f3eaea"/><circle cx="483.7" cy="176.7" r="2.1" fill="#efd8d8"/><circle cx="486.9" cy="140.6" r="2.1" fill="#aab6b8"/><circle cx="543.3" cy="99.9" r="2.1" fill="#b4bfc1"/><circle cx="501.2" cy="78.4" r="2.1" fill="#d5dadb"/><circle cx="505.5" cy="135.8" r="2.1" fill="#bcc5c7"/><circle cx="421.5" cy="128.4" r="2.1" fill="#e4a6a6"/><circle cx="522" cy="147.1" r="2.1" fill="#eaecec"/><circle cx="491.9" cy="115.9" r="2.1" fill="#f4f4f4"/><circle cx="506.3" cy="121.9" r="2.1" fill="#e0e3e4"/><circle cx="474" cy="75.2" r="2.1" fill="#e19797"/><circle cx="482.7" cy="163.1" r="2.1" fill="#f5f4f4"/><circle cx="504.5" cy="83.1" r="2.1" fill="#dde1e2"/><circle cx="581.9" cy="127" r="2.1" fill="#e6e8e9"/><circle cx="508.2" cy="117.9" r="2.1" fill="#eccbcb"/><circle cx="520.2" cy="127.6" r="2.1" fill="#b2bcbf"/><circle cx="476.7" cy="148.3" r="2.1" fill="#d4d9da"/><circle cx="559.4" cy="67.8" r="2.1" fill="#f5f4f4"/><circle cx="550.1" cy="161.1" r="2.1" fill="#f2f2f3"/><circle cx="535.6" cy="111.8" r="2.1" fill="#eeeff0"/><circle cx="576.2" cy="66.2" r="2.1" fill="#b0bbbe"/><circle cx="517.9" cy="131.2" r="2.1" fill="#f0f1f1"/><circle cx="485.8" cy="127.9" r="2.1" fill="#bac3c5"/><circle cx="517.7" cy="136.3" r="2.1" fill="#aab6b9"/><circle cx="544.3" cy="161.4" r="2.1" fill="#f2e5e5"/><circle cx="493.9" cy="191.8" r="2.1" fill="#b6c0c2"/><circle cx="502.8" cy="184.4" r="2.1" fill="#d8dcdd"/><circle cx="480.3" cy="177.6" r="2.1" fill="#f0dcdc"/><circle cx="503.1" cy="137.8" r="2.1" fill="#eaebec"/><circle cx="537.3" cy="103.1" r="2.1" fill="#a3b0b3"/><circle cx="492.6" cy="172.4" r="2.1" fill="#d1d7d8"/><circle cx="443.4" cy="153.6" r="2.1" fill="#e7b4b4"/><circle cx="501.2" cy="119.1" r="2.1" fill="#ced4d5"/><circle cx="515" cy="156.1" r="2.1" fill="#eed4d4"/><circle cx="509.9" cy="106.2" r="2.1" fill="#d5dadb"/><circle cx="475.6" cy="118.6" r="2.1" fill="#e5abab"/><circle cx="445.7" cy="168.5" r="2.1" fill="#eccdcd"/><circle cx="508.8" cy="111.8" r="2.1" fill="#f1e1e1"/><circle cx="505.2" cy="134.6" r="2.1" fill="#edeeef"/><circle cx="507" cy="98.8" r="2.1" fill="#dee2e2"/><circle cx="445.2" cy="127.3" r="2.1" fill="#ebeded"/><circle cx="489.6" cy="164.7" r="2.1" fill="#f2e9e9"/><circle cx="528" cy="112.9" r="2.1" fill="#d4d9da"/><circle cx="488.9" cy="107.5" r="2.1" fill="#f4f1f1"/><circle cx="511.9" cy="148.6" r="2.1" fill="#c4cccd"/><circle cx="531.4" cy="178.9" r="2.1" fill="#abb7b9"/><circle cx="503.3" cy="192" r="2.1" fill="#b8c1c3"/><circle cx="545.3" cy="91.1" r="2.1" fill="#c4ccce"/><circle cx="550" cy="117.1" r="2.1" fill="#e9ebeb"/><circle cx="453.1" cy="160.5" r="2.1" fill="#f1e3e3"/><circle cx="522" cy="132.1" r="2.1" fill="#a9b5b7"/><circle cx="509.4" cy="130.4" r="2.1" fill="#b9c2c5"/><circle cx="519.7" cy="132.8" r="2.1" fill="#a8b4b7"/><circle cx="509.1" cy="105.2" r="2.1" fill="#9aa9ac"/><circle cx="419" cy="132.2" r="2.1" fill="#e9bebe"/><circle cx="497.4" cy="117.2" r="2.1" fill="#c7ced0"/><circle cx="494.6" cy="125.9" r="2.1" fill="#d6dbdc"/><circle cx="514.8" cy="111.7" r="2.1" fill="#eccdcd"/><circle cx="516.4" cy="168.7" r="2.1" fill="#f4f1f1"/><circle cx="546.6" cy="191.3" r="2.1" fill="#f3ecec"/><circle cx="557.7" cy="95.8" r="2.1" fill="#c3cbcc"/><circle cx="490.8" cy="93" r="2.1" fill="#f3f3f3"/><circle cx="533.2" cy="143" r="2.1" fill="#afbabc"/><circle cx="493.1" cy="142.9" r="2.1" fill="#a2afb2"/><circle cx="492.8" cy="172.4" r="2.1" fill="#aab5b8"/><circle cx="495.7" cy="149.3" r="2.1" fill="#d5dadb"/><circle cx="529.1" cy="119.1" r="2.1" fill="#e2e5e6"/><circle cx="497.3" cy="100.1" r="2.1" fill="#e7b5b5"/><circle cx="432.9" cy="176.9" r="2.1" fill="#eac2c2"/><circle cx="524.8" cy="86.5" r="2.1" fill="#97a6a9"/><circle cx="528.6" cy="84.2" r="2.1" fill="#c1cacb"/><circle cx="558.6" cy="221.2" r="2.1" fill="#d5dadb"/><circle cx="498.8" cy="127.9" r="2.1" fill="#b3bdbf"/><circle cx="495.7" cy="112.9" r="2.1" fill="#d0d6d7"/><circle cx="490.4" cy="67.8" r="2.1" fill="#f3eeee"/><circle cx="543.7" cy="132.3" r="2.1" fill="#cdd4d5"/><circle cx="431.9" cy="165.6" r="2.1" fill="#e5aeae"/><circle cx="526.6" cy="64.7" r="2.1" fill="#d4d9da"/><circle cx="493.4" cy="167.4" r="2.1" fill="#e5e8e8"/><circle cx="478.1" cy="126.2" r="2.1" fill="#e9bfbf"/><circle cx="497.8" cy="174.7" r="2.1" fill="#f2e7e7"/><circle cx="493.1" cy="117.7" r="2.1" fill="#f1f1f1"/><circle cx="499.4" cy="118.9" r="2.1" fill="#f4f4f4"/><circle cx="531.4" cy="141" r="2.1" fill="#ced4d5"/><circle cx="495.2" cy="209.7" r="2.1" fill="#e3e5e6"/><circle cx="509" cy="124.4" r="2.1" fill="#eaecec"/><circle cx="561.2" cy="112.4" r="2.1" fill="#cad1d2"/><circle cx="553.4" cy="118.6" r="2.1" fill="#eac4c4"/><circle cx="490.3" cy="119.1" r="2.1" fill="#f5f5f5"/><circle cx="549.8" cy="93" r="2.1" fill="#d8dcdd"/><circle cx="507" cy="127" r="2.1" fill="#e9bebe"/><circle cx="438.8" cy="126.8" r="2.1" fill="#f2e6e6"/><circle cx="528" cy="79.9" r="2.1" fill="#d7dcdd"/><circle cx="513" cy="156.6" r="2.1" fill="#f0e0e0"/><circle cx="470.4" cy="143.9" r="2.1" fill="#f0dfdf"/><circle cx="514.9" cy="88.2" r="2.1" fill="#d8dcdd"/><circle cx="477.8" cy="162.8" r="2.1" fill="#dbdfe0"/><circle cx="506.5" cy="128.4" r="2.1" fill="#dee2e3"/><circle cx="532.9" cy="141.3" r="2.1" fill="#b6c0c2"/><circle cx="478.2" cy="120.5" r="2.1" fill="#ebc9c9"/><circle cx="540.2" cy="106.4" r="2.1" fill="#e3e6e7"/><circle cx="455.6" cy="133" r="2.1" fill="#f1e1e1"/><circle cx="501.9" cy="136.6" r="2.1" fill="#f0dfdf"/><circle cx="562.4" cy="84" r="2.1" fill="#9caaad"/><circle cx="469.5" cy="122.7" r="2.1" fill="#e4e6e7"/><circle cx="500.9" cy="128.5" r="2.1" fill="#f3eded"/><circle cx="462.9" cy="156.1" r="2.1" fill="#eed4d4"/><circle cx="487.9" cy="135.4" r="2.1" fill="#c3cbcd"/><circle cx="521.9" cy="138.5" r="2.1" fill="#bac3c5"/><circle cx="468.1" cy="133.1" r="2.1" fill="#f3eded"/><circle cx="512.8" cy="136.5" r="2.1" fill="#c2cacc"/><circle cx="497.3" cy="150.6" r="2.1" fill="#ecedee"/><circle cx="526.6" cy="189.3" r="2.1" fill="#d0d6d7"/><circle cx="490.2" cy="121.7" r="2.1" fill="#f3ebeb"/><circle cx="490.3" cy="128.1" r="2.1" fill="#eaebec"/><circle cx="529.7" cy="134.8" r="2.1" fill="#e0e3e4"/><circle cx="560.3" cy="119.1" r="2.1" fill="#b3bdc0"/><circle cx="483.3" cy="73.7" r="2.1" fill="#f2e7e7"/><circle cx="495.7" cy="75.9" r="2.1" fill="#f3f3f4"/><circle cx="568.8" cy="148" r="2.1" fill="#dadfdf"/><circle cx="533.9" cy="140" r="2.1" fill="#dee1e2"/><circle cx="509.7" cy="147.1" r="2.1" fill="#cdd3d5"/><circle cx="537.6" cy="75.5" r="2.1" fill="#ccd2d4"/><circle cx="487.3" cy="110.1" r="2.1" fill="#eccaca"/><circle cx="524.4" cy="114.3" r="2.1" fill="#cbd1d3"/><circle cx="547.6" cy="151.5" r="2.1" fill="#ccd3d4"/><circle cx="505.8" cy="145.2" r="2.1" fill="#edd1d1"/><circle cx="560.3" cy="142.9" r="2.1" fill="#dce0e1"/><circle cx="400.9" cy="137.9" r="2.1" fill="#db7f7f"/><circle cx="474.1" cy="74.8" r="2.1" fill="#dde1e2"/><circle cx="485.4" cy="115" r="2.1" fill="#d0d5d7"/><circle cx="484.2" cy="125.3" r="2.1" fill="#f3ecec"/><circle cx="473.1" cy="215.2" r="2.1" fill="#e29c9c"/><circle cx="522.6" cy="157.2" r="2.1" fill="#91a1a4"/><circle cx="470.5" cy="84.7" r="2.1" fill="#c3cbcd"/><circle cx="475.5" cy="223" r="2.1" fill="#efd8d8"/><circle cx="537.7" cy="157.2" r="2.1" fill="#d8ddde"/><circle cx="494.4" cy="139.8" r="2.1" fill="#c2cacc"/><circle cx="540" cy="147.7" r="2.1" fill="#eff0f1"/><circle cx="487.3" cy="109.8" r="2.1" fill="#f5f3f3"/><circle cx="530" cy="98.7" r="2.1" fill="#bfc8ca"/><circle cx="484.9" cy="116.1" r="2.1" fill="#eff0f0"/><circle cx="501.7" cy="114.3" r="2.1" fill="#cbd1d3"/><circle cx="493.8" cy="89.7" r="2.1" fill="#f3f3f3"/><circle cx="482.2" cy="107.3" r="2.1" fill="#dadedf"/><circle cx="450.1" cy="90.6" r="2.1" fill="#f0f0f1"/><circle cx="473.5" cy="129.5" r="2.1" fill="#e4e7e7"/><circle cx="513.7" cy="161.3" r="2.1" fill="#e7e9ea"/><circle cx="501" cy="112.9" r="2.1" fill="#f1e1e1"/><circle cx="472.7" cy="150" r="2.1" fill="#e8eaea"/><circle cx="497.2" cy="81.5" r="2.1" fill="#bdc5c7"/><circle cx="474.6" cy="116.4" r="2.1" fill="#f1e2e2"/><circle cx="502" cy="113.5" r="2.1" fill="#f1e2e2"/><circle cx="517.7" cy="111" r="2.1" fill="#c9d0d1"/><circle cx="493.8" cy="141.6" r="2.1" fill="#eccbcb"/><circle cx="517.4" cy="99.3" r="2.1" fill="#bac3c5"/><circle cx="431" cy="124" r="2.1" fill="#dd8787"/><circle cx="532.7" cy="122.3" r="2.1" fill="#eaecec"/><circle cx="487.1" cy="178.9" r="2.1" fill="#afbabc"/><circle cx="549.1" cy="104.7" r="2.1" fill="#dde0e1"/><circle cx="522.5" cy="75" r="2.1" fill="#cdd3d4"/><circle cx="509.9" cy="140.7" r="2.1" fill="#d4dadb"/><circle cx="452" cy="105.2" r="2.1" fill="#f3eeee"/><circle cx="521" cy="144" r="2.1" fill="#d7dbdc"/><circle cx="502.2" cy="109.6" r="2.1" fill="#c6cdcf"/><circle cx="442.9" cy="165.3" r="2.1" fill="#eac4c4"/><circle cx="477.9" cy="128.4" r="2.1" fill="#ebc9c9"/><circle cx="558.9" cy="210.5" r="2.1" fill="#f4f2f2"/><circle cx="494.7" cy="118" r="2.1" fill="#efdbdb"/><circle cx="512.8" cy="126.7" r="2.1" fill="#f4efef"/><circle cx="484.7" cy="105.9" r="2.1" fill="#f2e8e8"/><circle cx="483.1" cy="140.5" r="2.1" fill="#eceeee"/><circle cx="515.3" cy="148.3" r="2.1" fill="#aeb9bc"/><circle cx="510.6" cy="138.2" r="2.1" fill="#f2e9e9"/><circle cx="495.6" cy="95.2" r="2.1" fill="#d5dadb"/><circle cx="479.2" cy="125.7" r="2.1" fill="#f3ebeb"/><circle cx="474.3" cy="122.9" r="2.1" fill="#cbd1d3"/><circle cx="584" cy="155" r="2.1" fill="#c8cfd1"/><circle cx="457.7" cy="189.6" r="2.1" fill="#e4a7a7"/><circle cx="511.6" cy="142.7" r="2.1" fill="#d7dcdd"/><circle cx="505.9" cy="85.7" r="2.1" fill="#f3ebeb"/><circle cx="400.5" cy="106.1" r="2.1" fill="#e29e9e"/><circle cx="494.3" cy="104.8" r="2.1" fill="#edeeef"/><circle cx="587.5" cy="101.2" r="2.1" fill="#a4b1b3"/><circle cx="514.4" cy="93.6" r="2.1" fill="#74888d"/><circle cx="478.1" cy="126" r="2.1" fill="#f1e3e3"/><circle cx="521.3" cy="195.4" r="2.1" fill="#e8eaeb"/><circle cx="524.5" cy="142.1" r="2.1" fill="#eaecec"/><circle cx="490.3" cy="97.2" r="2.1" fill="#e9c0c0"/><circle cx="530.6" cy="112.6" r="2.1" fill="#f4f4f4"/><circle cx="521.7" cy="120.1" r="2.1" fill="#e7e9ea"/><circle cx="516.7" cy="118.1" r="2.1" fill="#bfc7c9"/><circle cx="505.8" cy="120.4" r="2.1" fill="#e3a1a1"/><circle cx="453.9" cy="128.9" r="2.1" fill="#e3e6e7"/><circle cx="425.6" cy="115.9" r="2.1" fill="#eac3c3"/><circle cx="487.7" cy="208" r="2.1" fill="#dce0e1"/><circle cx="596.6" cy="78.2" r="2.1" fill="#dbdfe0"/><circle cx="486.3" cy="117.5" r="2.1" fill="#f3eded"/><circle cx="509.1" cy="100.8" r="2.1" fill="#f0f1f1"/><circle cx="479.5" cy="124.4" r="2.1" fill="#b6c0c2"/><circle cx="498.5" cy="118.7" r="2.1" fill="#ced4d6"/><circle cx="527" cy="134.3" r="2.1" fill="#f4efef"/><circle cx="557.4" cy="119.9" r="2.1" fill="#b2bcbe"/><circle cx="493.5" cy="142.9" r="2.1" fill="#b9c2c4"/><circle cx="534.4" cy="125.6" r="2.1" fill="#d8dcdd"/><circle cx="499.7" cy="127.2" r="2.1" fill="#cbd1d3"/><circle cx="458.8" cy="169.1" r="2.1" fill="#efdada"/><circle cx="459.6" cy="84" r="2.1" fill="#eccece"/><circle cx="493.8" cy="125.9" r="2.1" fill="#c3cacc"/><circle cx="459.4" cy="124.6" r="2.1" fill="#f0dcdc"/><circle cx="500.9" cy="83.7" r="2.1" fill="#efd8d8"/><circle cx="548.6" cy="160.2" r="2.1" fill="#bfc8ca"/><circle cx="485.2" cy="83" r="2.1" fill="#eaecec"/><circle cx="453.9" cy="129.4" r="2.1" fill="#f2e9e9"/><circle cx="485.1" cy="128.6" r="2.1" fill="#f3ebeb"/><circle cx="544" cy="120.7" r="2.1" fill="#dfe3e4"/><circle cx="444.5" cy="105.5" r="2.1" fill="#f3eaea"/><circle cx="471.5" cy="159.4" r="2.1" fill="#f1e3e3"/><circle cx="543.5" cy="146.5" r="2.1" fill="#f0dfdf"/><circle cx="498.1" cy="93.3" r="2.1" fill="#a5b1b4"/><circle cx="496" cy="178.9" r="2.1" fill="#f0dfdf"/><circle cx="492.9" cy="124.4" r="2.1" fill="#f0dfdf"/><circle cx="535" cy="122.6" r="2.1" fill="#96a5a8"/><circle cx="520.8" cy="118.9" r="2.1" fill="#98a7aa"/><circle cx="495.3" cy="155.3" r="2.1" fill="#d1d7d8"/><circle cx="476.5" cy="124.9" r="2.1" fill="#e8bbbb"/><circle cx="515.4" cy="134" r="2.1" fill="#c1c9cb"/><circle cx="475.8" cy="109.6" r="2.1" fill="#f3ecec"/><circle cx="474.7" cy="123.4" r="2.1" fill="#f2e8e8"/><circle cx="485.1" cy="67.5" r="2.1" fill="#eff0f0"/><circle cx="528.4" cy="149.1" r="2.1" fill="#eccdcd"/><circle cx="487.6" cy="156.6" r="2.1" fill="#f4f0f0"/><circle cx="523.3" cy="105.7" r="2.1" fill="#a9b5b7"/><circle cx="496.2" cy="142" r="2.1" fill="#f0f1f1"/><circle cx="502.7" cy="135.1" r="2.1" fill="#f4f2f2"/><circle cx="513.1" cy="111.6" r="2.1" fill="#b1bcbe"/><circle cx="478.8" cy="118.8" r="2.1" fill="#f3eaea"/><circle cx="494.9" cy="121.9" r="2.1" fill="#d0d5d7"/><circle cx="494.6" cy="98.3" r="2.1" fill="#b5bfc1"/><circle cx="480.9" cy="194.3" r="2.1" fill="#d4d9db"/><circle cx="476.4" cy="171.6" r="2.1" fill="#edd0d0"/><circle cx="493.7" cy="141.4" r="2.1" fill="#e2e5e5"/><circle cx="544" cy="152.4" r="2.1" fill="#8c9ca0"/><circle cx="434.7" cy="134.9" r="2.1" fill="#e3a4a4"/><circle cx="500.2" cy="56.7" r="2.1" fill="#d4d9db"/><circle cx="490.9" cy="85.6" r="2.1" fill="#7a8d92"/><circle cx="416.4" cy="149.2" r="2.1" fill="#edd2d2"/><circle cx="464.8" cy="122.5" r="2.1" fill="#afbabc"/><circle cx="454.4" cy="137.2" r="2.1" fill="#f3ecec"/><circle cx="479" cy="148.5" r="2.1" fill="#de8b8b"/><circle cx="505.6" cy="119.4" r="2.1" fill="#e9c0c0"/><circle cx="512" cy="140.5" r="2.1" fill="#e5e7e8"/><circle cx="501.2" cy="137.4" r="2.1" fill="#bfc7c9"/><circle cx="432" cy="185.3" r="2.1" fill="#f2e8e8"/><circle cx="564.3" cy="170.7" r="2.1" fill="#a5b1b4"/><circle cx="463.9" cy="84.8" r="2.1" fill="#eed7d7"/><circle cx="418.2" cy="171.7" r="2.1" fill="#db7e7e"/><circle cx="464.9" cy="148" r="2.1" fill="#f0dfdf"/><circle cx="446.3" cy="107.7" r="2.1" fill="#e29e9e"/><circle cx="537.2" cy="145.8" r="2.1" fill="#cad0d2"/><circle cx="512.2" cy="160.3" r="2.1" fill="#8a9b9e"/><circle cx="484.4" cy="135" r="2.1" fill="#f3ebeb"/><circle cx="491.8" cy="138.4" r="2.1" fill="#efd9d9"/><circle cx="507.5" cy="177.3" r="2.1" fill="#f4f4f4"/><circle cx="469.8" cy="129.4" r="2.1" fill="#e9bdbd"/><circle cx="476" cy="123.5" r="2.1" fill="#d9dedf"/><circle cx="472.6" cy="219.3" r="2.1" fill="#f5f3f3"/><circle cx="507" cy="188.2" r="2.1" fill="#dee2e3"/><circle cx="508.6" cy="146" r="2.1" fill="#eaecec"/><circle cx="504" cy="142.2" r="2.1" fill="#f5f5f5"/><circle cx="528.2" cy="146.4" r="2.1" fill="#f4f1f1"/><circle cx="515.4" cy="150.7" r="2.1" fill="#cad1d2"/><circle cx="503.6" cy="86.1" r="2.1" fill="#b6c0c2"/><circle cx="495.6" cy="120.3" r="2.1" fill="#d5dadb"/><circle cx="509.4" cy="44.8" r="2.1" fill="#d5dadb"/><circle cx="492.1" cy="121.8" r="2.1" fill="#d9ddde"/><circle cx="464.5" cy="129.8" r="2.1" fill="#e7e9ea"/><circle cx="511" cy="109.5" r="2.1" fill="#f3eded"/><circle cx="449.4" cy="91.6" r="2.1" fill="#e5abab"/><circle cx="537.5" cy="128.7" r="2.1" fill="#f5f5f5"/><circle cx="538.3" cy="123.5" r="2.1" fill="#eceeee"/><circle cx="478.4" cy="115.5" r="2.1" fill="#efdcdc"/><circle cx="425.4" cy="98.7" r="2.1" fill="#eac5c5"/><circle cx="566.4" cy="131.5" r="2.1" fill="#b1bcbe"/><circle cx="455.1" cy="198.2" r="2.1" fill="#eccbcb"/><circle cx="443.9" cy="121.9" r="2.1" fill="#dce0e0"/><circle cx="500.5" cy="144.7" r="2.1" fill="#eaecec"/><circle cx="489.3" cy="136.9" r="2.1" fill="#a1afb2"/><circle cx="461" cy="86.3" r="2.1" fill="#e19898"/><circle cx="503.8" cy="61.4" r="2.1" fill="#f5f3f3"/><circle cx="504.3" cy="144.8" r="2.1" fill="#c6cecf"/><circle cx="533.8" cy="134.1" r="2.1" fill="#d0d5d7"/><circle cx="499.8" cy="133.6" r="2.1" fill="#ced4d5"/><circle cx="452.1" cy="73.1" r="2.1" fill="#e19999"/><circle cx="458.9" cy="87.7" r="2.1" fill="#e6b0b0"/><circle cx="484.2" cy="131.7" r="2.1" fill="#f4f3f3"/><circle cx="521.9" cy="156.9" r="2.1" fill="#c3cbcd"/><circle cx="560.4" cy="127.8" r="2.1" fill="#dbdfe0"/><circle cx="482.9" cy="153.6" r="2.1" fill="#f3ebeb"/><circle cx="543.8" cy="84.9" r="2.1" fill="#cbd1d3"/><circle cx="516.2" cy="86.9" r="2.1" fill="#c6cdcf"/><circle cx="473.1" cy="131.2" r="2.1" fill="#c6cdcf"/><circle cx="527.6" cy="117.2" r="2.1" fill="#a0adb0"/><circle cx="463" cy="90.5" r="2.1" fill="#f1f2f2"/><circle cx="481.3" cy="118.2" r="2.1" fill="#b9c2c4"/><circle cx="487.6" cy="119" r="2.1" fill="#ccd2d4"/><circle cx="440" cy="156.4" r="2.1" fill="#dc8282"/><circle cx="469" cy="162.8" r="2.1" fill="#f1e4e4"/><circle cx="484.3" cy="195.4" r="2.1" fill="#f0dcdc"/><circle cx="486.3" cy="133.7" r="2.1" fill="#dbdfe0"/><circle cx="466.3" cy="130.8" r="2.1" fill="#e6b0b0"/><circle cx="534.5" cy="101.2" r="2.1" fill="#d6dbdc"/><circle cx="459.2" cy="101.4" r="2.1" fill="#e9bcbc"/><circle cx="525.5" cy="130.2" r="2.1" fill="#f3ebeb"/><circle cx="488" cy="204.5" r="2.1" fill="#f3eaea"/><circle cx="528.8" cy="155.2" r="2.1" fill="#eccdcd"/><circle cx="528" cy="154.6" r="2.1" fill="#b0bbbd"/><circle cx="510.3" cy="142.2" r="2.1" fill="#d0d6d7"/><circle cx="513.2" cy="126.2" r="2.1" fill="#eeeff0"/><circle cx="447.4" cy="123.5" r="2.1" fill="#edd0d0"/><circle cx="473.2" cy="146.1" r="2.1" fill="#efd8d8"/><circle cx="484.7" cy="73.5" r="2.1" fill="#e4a5a5"/><circle cx="487.7" cy="122.3" r="2.1" fill="#e5e7e8"/><circle cx="440.9" cy="147.3" r="2.1" fill="#e8bbbb"/><circle cx="505.9" cy="52.1" r="2.1" fill="#cbd1d3"/><circle cx="422.3" cy="138.5" r="2.1" fill="#edcece"/><circle cx="483.6" cy="130.9" r="2.1" fill="#abb7b9"/><circle cx="520.2" cy="176.9" r="2.1" fill="#eaecec"/><circle cx="534.6" cy="89" r="2.1" fill="#f1e4e4"/><circle cx="527.1" cy="142.5" r="2.1" fill="#d6dbdc"/><circle cx="522.9" cy="145.6" r="2.1" fill="#f2e5e5"/><circle cx="477.5" cy="94.5" r="2.1" fill="#c9d0d1"/><circle cx="462.2" cy="56.6" r="2.1" fill="#f1e4e4"/><circle cx="481.9" cy="134.6" r="2.1" fill="#f1f2f2"/><circle cx="485.7" cy="107.5" r="2.1" fill="#f0dcdc"/><circle cx="522.5" cy="110.6" r="2.1" fill="#d8ddde"/><circle cx="513.8" cy="122.1" r="2.1" fill="#eff0f1"/><circle cx="521.7" cy="142.6" r="2.1" fill="#efdbdb"/><circle cx="539" cy="147.6" r="2.1" fill="#a4b0b3"/><circle cx="526" cy="143.9" r="2.1" fill="#d0d6d7"/><circle cx="540.4" cy="144.1" r="2.1" fill="#dde1e2"/><circle cx="483.8" cy="107.3" r="2.1" fill="#dbdfe0"/><circle cx="511.1" cy="102.3" r="2.1" fill="#eaecec"/><circle cx="517.6" cy="74.5" r="2.1" fill="#95a4a7"/><circle cx="524.6" cy="170.6" r="2.1" fill="#aeb9bc"/><circle cx="506.9" cy="165.7" r="2.1" fill="#d4d9da"/><circle cx="580.2" cy="106.8" r="2.1" fill="#74898d"/><circle cx="448.4" cy="114.5" r="2.1" fill="#db7e7e"/><circle cx="466.3" cy="164.2" r="2.1" fill="#e29d9d"/><circle cx="480.5" cy="133.1" r="2.1" fill="#eac4c4"/><circle cx="448.4" cy="105.9" r="2.1" fill="#e6afaf"/><circle cx="517.9" cy="100.2" r="2.1" fill="#f4efef"/><circle cx="449.7" cy="90.2" r="2.1" fill="#efd9d9"/><circle cx="461.2" cy="149.3" r="2.1" fill="#f2e5e5"/><circle cx="448.8" cy="130.3" r="2.1" fill="#ced4d6"/><circle cx="523.6" cy="160.6" r="2.1" fill="#f4f1f1"/><circle cx="579.1" cy="167.4" r="2.1" fill="#b3bec0"/><circle cx="465.8" cy="138.1" r="2.1" fill="#bdc5c7"/><circle cx="464.4" cy="160.7" r="2.1" fill="#eaecec"/><circle cx="482.4" cy="108.5" r="2.1" fill="#f1e2e2"/><circle cx="509.1" cy="151.8" r="2.1" fill="#9dabae"/><circle cx="470.6" cy="148.5" r="2.1" fill="#eff0f0"/><circle cx="464.3" cy="68.8" r="2.1" fill="#b6c0c2"/><circle cx="553.9" cy="77.7" r="2.1" fill="#b3bec0"/><circle cx="528.6" cy="63.9" r="2.1" fill="#cfd5d7"/><circle cx="482.7" cy="71.8" r="2.1" fill="#97a6a9"/><circle cx="497.3" cy="134.5" r="2.1" fill="#c5cdce"/><circle cx="498.5" cy="91.9" r="2.1" fill="#f3f3f3"/><circle cx="543.3" cy="139.8" r="2.1" fill="#bdc5c7"/><circle cx="451" cy="145.7" r="2.1" fill="#e19b9b"/><circle cx="504.7" cy="113.9" r="2.1" fill="#f3ebeb"/><circle cx="486.8" cy="53.6" r="2.1" fill="#edcfcf"/><circle cx="548.4" cy="140.6" r="2.1" fill="#99a7aa"/><circle cx="529.3" cy="136.6" r="2.1" fill="#adb8bb"/><circle cx="512.5" cy="113" r="2.1" fill="#e6e9e9"/><circle cx="543.9" cy="219.9" r="2.1" fill="#dfe2e3"/><circle cx="539.7" cy="155.6" r="2.1" fill="#b8c2c4"/><circle cx="512.4" cy="163.6" r="2.1" fill="#d1d7d8"/><circle cx="502" cy="105.5" r="2.1" fill="#b9c2c5"/><circle cx="468.4" cy="149.2" r="2.1" fill="#f2f3f3"/><circle cx="543.6" cy="132.1" r="2.1" fill="#dadedf"/><circle cx="500.5" cy="136.9" r="2.1" fill="#eed4d4"/><circle cx="493.5" cy="179" r="2.1" fill="#f3eded"/><circle cx="512.1" cy="172.8" r="2.1" fill="#f3eeee"/><circle cx="553" cy="97.3" r="2.1" fill="#c9d0d2"/><circle cx="495.5" cy="96.3" r="2.1" fill="#f4f1f1"/><circle cx="491.9" cy="110.2" r="2.1" fill="#efdcdc"/><circle cx="482.1" cy="84.4" r="2.1" fill="#d2d8d9"/><circle cx="466.9" cy="184.6" r="2.1" fill="#e9bfbf"/><circle cx="499.9" cy="144.8" r="2.1" fill="#f4f3f3"/><circle cx="529.5" cy="190.1" r="2.1" fill="#f4f1f1"/><circle cx="471.7" cy="108.2" r="2.1" fill="#efd8d8"/><circle cx="517.5" cy="146.7" r="2.1" fill="#bec6c8"/><circle cx="487.5" cy="176.8" r="2.1" fill="#dee2e3"/><circle cx="602.3" cy="83" r="2.1" fill="#b0bbbd"/><circle cx="486.1" cy="125.6" r="2.1" fill="#8f9fa3"/><circle cx="544.6" cy="161.4" r="2.1" fill="#aab6b9"/><circle cx="545.8" cy="162.4" r="2.1" fill="#b2bdbf"/><circle cx="538.5" cy="126.1" r="2.1" fill="#b8c2c4"/><circle cx="511.1" cy="136.3" r="2.1" fill="#b4bec0"/><circle cx="532.5" cy="81.7" r="2.1" fill="#a6b3b5"/><circle cx="505" cy="163.5" r="2.1" fill="#d2d8d9"/><circle cx="469" cy="115.5" r="2.1" fill="#eceded"/><circle cx="552.3" cy="148.2" r="2.1" fill="#f4f1f1"/><circle cx="529.5" cy="154.9" r="2.1" fill="#d1d6d8"/><circle cx="513.1" cy="228.9" r="2.1" fill="#d6dbdc"/><circle cx="494.3" cy="185.6" r="2.1" fill="#f1e5e5"/><circle cx="469.7" cy="89.4" r="2.1" fill="#f3ebeb"/><circle cx="526.6" cy="126.9" r="2.1" fill="#d1d7d8"/><circle cx="522" cy="171.5" r="2.1" fill="#f2e9e9"/><circle cx="549.1" cy="104.9" r="2.1" fill="#edeeee"/><circle cx="523.9" cy="93.4" r="2.1" fill="#ccd2d4"/><circle cx="469.7" cy="106" r="2.1" fill="#d1d6d8"/><circle cx="494.6" cy="110.5" r="2.1" fill="#ced5d6"/><circle cx="503.7" cy="137.7" r="2.1" fill="#f3f3f3"/><circle cx="489.9" cy="127.9" r="2.1" fill="#acb8ba"/><circle cx="503.5" cy="205.1" r="2.1" fill="#d2d7d8"/><circle cx="471.1" cy="97.6" r="2.1" fill="#f3ebeb"/><circle cx="521.4" cy="167.7" r="2.1" fill="#9ba9ad"/><circle cx="484.7" cy="133.1" r="2.1" fill="#eccccc"/><circle cx="540.9" cy="103.9" r="2.1" fill="#c2cacc"/><circle cx="487.3" cy="134" r="2.1" fill="#b4bec0"/><circle cx="492.7" cy="85.3" r="2.1" fill="#c2cacc"/><circle cx="468.5" cy="112.3" r="2.1" fill="#eed6d6"/><circle cx="574.6" cy="161.5" r="2.1" fill="#f0f1f1"/><circle cx="531.8" cy="181.1" r="2.1" fill="#dce0e0"/><circle cx="522.2" cy="132.6" r="2.1" fill="#dce0e1"/><circle cx="491.4" cy="127.3" r="2.1" fill="#e3e5e6"/><circle cx="498.1" cy="183.3" r="2.1" fill="#eccccc"/><circle cx="507.5" cy="124.6" r="2.1" fill="#f0dddd"/><circle cx="470" cy="102.2" r="2.1" fill="#c6cdcf"/><circle cx="472.3" cy="125.3" r="2.1" fill="#f2e9e9"/><circle cx="514.5" cy="86" r="2.1" fill="#eff0f0"/><circle cx="475.7" cy="171.9" r="2.1" fill="#f5f5f5"/><circle cx="514.3" cy="159" r="2.1" fill="#eaecec"/><circle cx="566.2" cy="134.8" r="2.1" fill="#d9dedf"/><circle cx="496.6" cy="104.6" r="2.1" fill="#c2cacb"/><circle cx="479.5" cy="130.2" r="2.1" fill="#eac2c2"/><circle cx="572" cy="133.8" r="2.1" fill="#c3cbcd"/><circle cx="491.5" cy="176.2" r="2.1" fill="#efd8d8"/><circle cx="537.8" cy="67.5" r="2.1" fill="#d9ddde"/><circle cx="535.6" cy="133.7" r="2.1" fill="#ccd2d4"/><circle cx="481.7" cy="161" r="2.1" fill="#eac3c3"/><circle cx="540.3" cy="114" r="2.1" fill="#dbdfe0"/><circle cx="507.8" cy="160.1" r="2.1" fill="#edd2d2"/><circle cx="491.7" cy="122.7" r="2.1" fill="#f2e9e9"/><circle cx="492.3" cy="158.6" r="2.1" fill="#e6b0b0"/><circle cx="501.9" cy="164.3" r="2.1" fill="#c1c9cb"/><circle cx="529.1" cy="104.8" r="2.1" fill="#d5dadc"/><circle cx="477.6" cy="165.9" r="2.1" fill="#dee1e2"/><circle cx="462" cy="111.8" r="2.1" fill="#e3e6e7"/><circle cx="486.2" cy="178" r="2.1" fill="#f4f2f2"/><circle cx="501.2" cy="51.1" r="2.1" fill="#a7b3b6"/><circle cx="513.6" cy="145.8" r="2.1" fill="#d6dbdc"/><circle cx="528.8" cy="127" r="2.1" fill="#f2e7e7"/><circle cx="480" cy="140.1" r="2.1" fill="#f0dede"/><circle cx="505" cy="110.8" r="2.1" fill="#c9d0d2"/><circle cx="539.3" cy="50.5" r="2.1" fill="#c4cbcd"/><circle cx="499.5" cy="181.3" r="2.1" fill="#f3eeee"/><circle cx="535.5" cy="94.4" r="2.1" fill="#f0e0e0"/><circle cx="540.5" cy="197.7" r="2.1" fill="#c3cbcd"/><circle cx="517.8" cy="164.6" r="2.1" fill="#dce0e1"/><circle cx="501.2" cy="77.2" r="2.1" fill="#f2f3f3"/><circle cx="548.4" cy="116.8" r="2.1" fill="#c2cacc"/><circle cx="433.6" cy="114.4" r="2.1" fill="#e6b1b1"/><circle cx="468.1" cy="153" r="2.1" fill="#efdbdb"/><circle cx="497.1" cy="158.9" r="2.1" fill="#eed5d5"/><circle cx="492.2" cy="144.8" r="2.1" fill="#d3d8d9"/><circle cx="518.5" cy="138.8" r="2.1" fill="#dadedf"/><circle cx="539.2" cy="140.1" r="2.1" fill="#dadfdf"/><circle cx="494" cy="126.1" r="2.1" fill="#ccd2d4"/><circle cx="455.8" cy="123.8" r="2.1" fill="#f1e3e3"/><circle cx="517" cy="49.8" r="2.1" fill="#d7dcdd"/><circle cx="545" cy="76.1" r="2.1" fill="#93a2a6"/><circle cx="514.3" cy="153" r="2.1" fill="#c7cecf"/><circle cx="498.9" cy="127.8" r="2.1" fill="#b6c0c2"/><circle cx="522.2" cy="133.6" r="2.1" fill="#c2cacc"/><circle cx="488.6" cy="117.4" r="2.1" fill="#d4d9da"/><circle cx="450.4" cy="157.8" r="2.1" fill="#f1e3e3"/><circle cx="516.8" cy="168.5" r="2.1" fill="#f2f3f3"/><circle cx="495.4" cy="132.3" r="2.1" fill="#eed7d7"/><circle cx="595.2" cy="163.9" r="2.1" fill="#d2d7d8"/><circle cx="530.7" cy="98.4" r="2.1" fill="#b3bdbf"/><circle cx="543.8" cy="122.6" r="2.1" fill="#d7dcdd"/><circle cx="521.9" cy="114.5" r="2.1" fill="#a5b2b4"/><circle cx="483.6" cy="170" r="2.1" fill="#f1e2e2"/><circle cx="496.5" cy="114.5" r="2.1" fill="#f3eaea"/><circle cx="505.7" cy="172.4" r="2.1" fill="#d0d6d7"/><circle cx="510.6" cy="128.1" r="2.1" fill="#dce0e1"/><circle cx="502.2" cy="137.3" r="2.1" fill="#f3eded"/><circle cx="465.7" cy="155.9" r="2.1" fill="#ebc8c8"/><circle cx="529.5" cy="126.5" r="2.1" fill="#bcc5c7"/><circle cx="499.3" cy="163.2" r="2.1" fill="#c5ccce"/><circle cx="496.7" cy="155.5" r="2.1" fill="#a4b1b3"/><circle cx="487" cy="60.6" r="2.1" fill="#e2e5e6"/><circle cx="531.5" cy="64.6" r="2.1" fill="#bac3c5"/><circle cx="536" cy="137.3" r="2.1" fill="#ced4d5"/><circle cx="478.1" cy="102.4" r="2.1" fill="#f0dcdc"/><circle cx="502.4" cy="124.9" r="2.1" fill="#a9b5b8"/><circle cx="480" cy="86.7" r="2.1" fill="#dadedf"/><circle cx="466.3" cy="103.1" r="2.1" fill="#f4f0f0"/><circle cx="481.1" cy="124.2" r="2.1" fill="#b9c2c5"/><circle cx="486.5" cy="102.1" r="2.1" fill="#e8eaea"/><circle cx="535.7" cy="118.7" r="2.1" fill="#bbc4c6"/><circle cx="522.3" cy="89.3" r="2.1" fill="#e2e5e6"/><circle cx="475.7" cy="136" r="2.1" fill="#eed6d6"/><circle cx="485.1" cy="169.8" r="2.1" fill="#f0e0e0"/><circle cx="478.7" cy="124.6" r="2.1" fill="#eff0f0"/><circle cx="454.7" cy="71" r="2.1" fill="#eccece"/><circle cx="485.8" cy="133.8" r="2.1" fill="#f4f2f2"/><circle cx="486.5" cy="120.2" r="2.1" fill="#eed4d4"/><circle cx="525.1" cy="140.2" r="2.1" fill="#8d9ea1"/><circle cx="489.1" cy="127.6" r="2.1" fill="#e2e5e6"/><circle cx="510.1" cy="206.6" r="2.1" fill="#bdc6c8"/><circle cx="527.5" cy="128.9" r="2.1" fill="#d6dbdc"/><circle cx="504.6" cy="162.3" r="2.1" fill="#f2e6e6"/><circle cx="507" cy="112.9" r="2.1" fill="#e4e6e7"/><circle cx="535.7" cy="128.3" r="2.1" fill="#d3d8da"/><circle cx="525" cy="154" r="2.1" fill="#b9c2c4"/><circle cx="471.5" cy="143.2" r="2.1" fill="#f0dede"/><circle cx="521.8" cy="134.2" r="2.1" fill="#dde1e2"/><circle cx="520.7" cy="112.6" r="2.1" fill="#afbabd"/><circle cx="468.7" cy="145.4" r="2.1" fill="#edcfcf"/><circle cx="480.5" cy="119.2" r="2.1" fill="#e5e7e8"/><circle cx="491.7" cy="102.6" r="2.1" fill="#99a7ab"/><circle cx="481.9" cy="180.5" r="2.1" fill="#edeeef"/><circle cx="507.3" cy="127.6" r="2.1" fill="#eeeff0"/><circle cx="510.1" cy="96" r="2.1" fill="#ebeced"/><circle cx="491.9" cy="149.3" r="2.1" fill="#edefef"/><circle cx="524.3" cy="139.9" r="2.1" fill="#d1d7d8"/><circle cx="452.3" cy="127" r="2.1" fill="#e9bcbc"/><circle cx="513.6" cy="163.5" r="2.1" fill="#eeefef"/><circle cx="515.9" cy="83" r="2.1" fill="#92a1a5"/><circle cx="476.5" cy="86.8" r="2.1" fill="#dfe3e3"/><circle cx="470.5" cy="105.3" r="2.1" fill="#f2e6e6"/><circle cx="480.9" cy="157.1" r="2.1" fill="#f2f3f3"/><circle cx="523.5" cy="114.1" r="2.1" fill="#f2f3f3"/><circle cx="483.7" cy="131.8" r="2.1" fill="#eed3d3"/><circle cx="520" cy="115.4" r="2.1" fill="#dbdfe0"/><circle cx="497.9" cy="122" r="2.1" fill="#d3d8d9"/><circle cx="507.3" cy="115.7" r="2.1" fill="#edcfcf"/><circle cx="497.2" cy="133.2" r="2.1" fill="#c2cacc"/><circle cx="496.4" cy="135.8" r="2.1" fill="#dfe3e3"/><circle cx="496.8" cy="146.6" r="2.1" fill="#e9bdbd"/><circle cx="483.2" cy="144.2" r="2.1" fill="#f0e0e0"/><circle cx="483.2" cy="140" r="2.1" fill="#f1e1e1"/><circle cx="543.5" cy="182.1" r="2.1" fill="#cad1d2"/><circle cx="493.5" cy="111.2" r="2.1" fill="#eed7d7"/><circle cx="483.2" cy="92.4" r="2.1" fill="#de8c8c"/><circle cx="549.3" cy="90.3" r="2.1" fill="#d4d9da"/><circle cx="509" cy="122.6" r="2.1" fill="#d2d8d9"/><circle cx="513.3" cy="107" r="2.1" fill="#f2e6e6"/><circle cx="487.2" cy="98.8" r="2.1" fill="#e7b6b6"/><circle cx="517.7" cy="105.5" r="2.1" fill="#e5e7e8"/><circle cx="450.4" cy="135.2" r="2.1" fill="#f4f0f0"/><circle cx="449.4" cy="116.8" r="2.1" fill="#eac4c4"/><circle cx="519.5" cy="108.6" r="2.1" fill="#b8c2c4"/><circle cx="543.6" cy="169.3" r="2.1" fill="#eff0f0"/><circle cx="521.3" cy="150.9" r="2.1" fill="#ced4d5"/><circle cx="484.4" cy="164.9" r="2.1" fill="#f1e5e5"/><circle cx="527.8" cy="135.3" r="2.1" fill="#d5dadb"/><circle cx="547.6" cy="103.5" r="2.1" fill="#e8eaeb"/><circle cx="580.4" cy="163.3" r="2.1" fill="#6d8287"/><circle cx="506.5" cy="114.5" r="2.1" fill="#e9ebeb"/><circle cx="457.6" cy="153.6" r="2.1" fill="#edd2d2"/><circle cx="434.8" cy="143.3" r="2.1" fill="#e7b5b5"/><circle cx="511.8" cy="91.8" r="2.1" fill="#a3b0b3"/><circle cx="488.7" cy="90.7" r="2.1" fill="#eccbcb"/><circle cx="459.3" cy="152.8" r="2.1" fill="#f5f3f3"/><circle cx="458.7" cy="125.3" r="2.1" fill="#eccaca"/><circle cx="551.9" cy="88.4" r="2.1" fill="#b3bec0"/><circle cx="553.5" cy="41.5" r="2.1" fill="#bec7c9"/><circle cx="572.5" cy="172.6" r="2.1" fill="#acb7ba"/><circle cx="518.7" cy="136.3" r="2.1" fill="#99a8ab"/><circle cx="469.3" cy="134" r="2.1" fill="#eceded"/><circle cx="519.5" cy="136.2" r="2.1" fill="#f1e3e3"/><circle cx="459.5" cy="130.8" r="2.1" fill="#e4e7e8"/><circle cx="498.3" cy="178.4" r="2.1" fill="#e7e9e9"/><circle cx="486.6" cy="91.1" r="2.1" fill="#adb8bb"/><circle cx="499.9" cy="121.8" r="2.1" fill="#f1e1e1"/><circle cx="498.7" cy="119.8" r="2.1" fill="#adb8bb"/><circle cx="506.8" cy="160.6" r="2.1" fill="#b1bbbe"/><circle cx="508.7" cy="132.6" r="2.1" fill="#d6dbdc"/><circle cx="475.7" cy="151" r="2.1" fill="#efdada"/><circle cx="481.1" cy="79.5" r="2.1" fill="#c4ccce"/><circle cx="531.2" cy="113.8" r="2.1" fill="#cdd3d5"/><circle cx="452.1" cy="99.8" r="2.1" fill="#e9bfbf"/><circle cx="512" cy="112.6" r="2.1" fill="#dbdfe0"/><circle cx="533.7" cy="130.9" r="2.1" fill="#b3bdbf"/><circle cx="517.5" cy="100.2" r="2.1" fill="#e9eaeb"/><circle cx="462.7" cy="122.2" r="2.1" fill="#e7b6b6"/><circle cx="522" cy="164.2" r="2.1" fill="#e9bfbf"/><circle cx="508.5" cy="93.5" r="2.1" fill="#f0dede"/><circle cx="481.5" cy="79.1" r="2.1" fill="#b5bfc2"/><circle cx="513.6" cy="124.8" r="2.1" fill="#f0e0e0"/><circle cx="474.6" cy="136.4" r="2.1" fill="#ebc6c6"/><circle cx="514.7" cy="163.8" r="2.1" fill="#e5e7e8"/><circle cx="571.8" cy="156.5" r="2.1" fill="#d8ddde"/><circle cx="526.9" cy="179.1" r="2.1" fill="#f3ecec"/><circle cx="486.8" cy="121.1" r="2.1" fill="#e6e9e9"/><circle cx="518.1" cy="103.5" r="2.1" fill="#a9b5b8"/><circle cx="469.3" cy="125" r="2.1" fill="#f4efef"/><circle cx="479" cy="93.9" r="2.1" fill="#efd8d8"/><circle cx="411.7" cy="140.5" r="2.1" fill="#e8b9b9"/><circle cx="474.1" cy="179" r="2.1" fill="#e6e9e9"/><circle cx="509.6" cy="179" r="2.1" fill="#acb7ba"/><circle cx="539.5" cy="143" r="2.1" fill="#e2e5e6"/><circle cx="531.7" cy="137.6" r="2.1" fill="#a9b5b7"/><circle cx="533.4" cy="134.4" r="2.1" fill="#c8cfd1"/><circle cx="471.9" cy="142" r="2.1" fill="#e6e8e9"/><circle cx="452.4" cy="176.3" r="2.1" fill="#e3a3a3"/><circle cx="485.7" cy="182.7" r="2.1" fill="#eed3d3"/><circle cx="467" cy="118.3" r="2.1" fill="#df8e8e"/><circle cx="507.9" cy="128.6" r="2.1" fill="#c2cacc"/><circle cx="478.9" cy="99.1" r="2.1" fill="#d4d9da"/><circle cx="486.8" cy="124.5" r="2.1" fill="#f4f0f0"/><circle cx="434.5" cy="173.4" r="2.1" fill="#f4f1f1"/><circle cx="529" cy="150.2" r="2.1" fill="#c0c8ca"/><circle cx="515.1" cy="110.8" r="2.1" fill="#f3f4f4"/><circle cx="512.1" cy="36.2" r="2.1" fill="#dde1e2"/><circle cx="524" cy="131.3" r="2.1" fill="#f5f4f4"/><circle cx="515.3" cy="139.2" r="2.1" fill="#bdc6c8"/><circle cx="470.4" cy="123.1" r="2.1" fill="#f2f2f2"/><circle cx="545.5" cy="103.8" r="2.1" fill="#c6cdcf"/><circle cx="481.1" cy="131" r="2.1" fill="#eed4d4"/><circle cx="502.5" cy="174.4" r="2.1" fill="#f1e1e1"/><circle cx="455.1" cy="102.2" r="2.1" fill="#e4a9a9"/><circle cx="501.7" cy="136.6" r="2.1" fill="#e4e7e7"/><circle cx="508.5" cy="210.6" r="2.1" fill="#c1c9cb"/><circle cx="485.8" cy="181.1" r="2.1" fill="#e2e5e6"/><circle cx="461.2" cy="52.5" r="2.1" fill="#f0dcdc"/><circle cx="513" cy="141.7" r="2.1" fill="#a0adb0"/><circle cx="495.6" cy="141.5" r="2.1" fill="#c3cacc"/><circle cx="468.8" cy="174.7" r="2.1" fill="#c3cbcd"/><circle cx="530.2" cy="133.1" r="2.1" fill="#dde1e2"/><circle cx="566.2" cy="128.3" r="2.1" fill="#c9d0d2"/><circle cx="521.1" cy="191" r="2.1" fill="#b3bec0"/><circle cx="503.2" cy="126.6" r="2.1" fill="#f2e7e7"/><circle cx="479.3" cy="110.9" r="2.1" fill="#f3eded"/><circle cx="523.7" cy="134.6" r="2.1" fill="#d1d6d8"/><circle cx="482.2" cy="139.8" r="2.1" fill="#efdcdc"/><circle cx="510" cy="129.5" r="2.1" fill="#e9ebeb"/><circle cx="489.3" cy="128.1" r="2.1" fill="#c5cdce"/><circle cx="464.9" cy="137.6" r="2.1" fill="#f1f1f2"/><circle cx="525.3" cy="121.6" r="2.1" fill="#9eacaf"/><circle cx="516.9" cy="155.8" r="2.1" fill="#f0f1f1"/><circle cx="473.2" cy="86" r="2.1" fill="#f3eeee"/><circle cx="470.8" cy="119.7" r="2.1" fill="#ebc6c6"/><circle cx="513.5" cy="150.9" r="2.1" fill="#bfc8ca"/><circle cx="504.1" cy="115.7" r="2.1" fill="#b2bcbe"/><circle cx="593.1" cy="71.5" r="2.1" fill="#dfe2e3"/><circle cx="518.9" cy="46.6" r="2.1" fill="#f4f3f3"/><circle cx="500" cy="143.2" r="2.1" fill="#a9b5b8"/><circle cx="465.1" cy="141.1" r="2.1" fill="#e8baba"/><circle cx="508.6" cy="125.5" r="2.1" fill="#c1c9cb"/><circle cx="478.6" cy="117.6" r="2.1" fill="#e8b8b8"/><circle cx="504.3" cy="190.8" r="2.1" fill="#f2f2f2"/><circle cx="559.2" cy="128.5" r="2.1" fill="#adb8bb"/><circle cx="555.9" cy="170" r="2.1" fill="#bdc6c8"/><circle cx="453.6" cy="135.4" r="2.1" fill="#efdada"/><circle cx="470.4" cy="85.5" r="2.1" fill="#93a3a6"/><circle cx="474.7" cy="108.1" r="2.1" fill="#eed3d3"/><circle cx="526.1" cy="63.5" r="2.1" fill="#c8cfd1"/><circle cx="486.8" cy="198.7" r="2.1" fill="#f0dede"/><circle cx="421.9" cy="137.6" r="2.1" fill="#d1d7d8"/><circle cx="465.8" cy="121.1" r="2.1" fill="#ebc7c7"/><circle cx="484.9" cy="85.4" r="2.1" fill="#f4f4f4"/><circle cx="458.4" cy="114.4" r="2.1" fill="#e7e9ea"/><circle cx="397.2" cy="137.4" r="2.1" fill="#d04c4c"/><circle cx="468.5" cy="167" r="2.1" fill="#ebc6c6"/><circle cx="463.3" cy="187.5" r="2.1" fill="#e8eaeb"/><circle cx="583.3" cy="157" r="2.1" fill="#9aa8ac"/><circle cx="553.4" cy="101" r="2.1" fill="#dde1e2"/><circle cx="515.7" cy="176.8" r="2.1" fill="#eccece"/><circle cx="452.5" cy="166.5" r="2.1" fill="#e9bfbf"/><circle cx="526.1" cy="112.5" r="2.1" fill="#c4cccd"/><circle cx="472.2" cy="121.8" r="2.1" fill="#e4a6a6"/><circle cx="508.7" cy="163.3" r="2.1" fill="#c6cdcf"/><circle cx="465.8" cy="159.1" r="2.1" fill="#e6b1b1"/><circle cx="460.8" cy="77.4" r="2.1" fill="#eac3c3"/><circle cx="515.3" cy="138.5" r="2.1" fill="#d5dadb"/><circle cx="544.8" cy="181.7" r="2.1" fill="#b4bfc1"/><circle cx="470.9" cy="180.6" r="2.1" fill="#eeefef"/><circle cx="572.9" cy="177.9" r="2.1" fill="#bdc6c8"/><circle cx="553.5" cy="133.2" r="2.1" fill="#f3eeee"/><circle cx="415.5" cy="142.6" r="2.1" fill="#e5abab"/><circle cx="501" cy="102.8" r="2.1" fill="#bfc8c9"/><circle cx="493.3" cy="119" r="2.1" fill="#edcfcf"/><circle cx="488.2" cy="139.6" r="2.1" fill="#eed5d5"/><circle cx="511.5" cy="173.2" r="2.1" fill="#dfe2e3"/><circle cx="594.6" cy="152.7" r="2.1" fill="#e3e6e7"/><circle cx="524.7" cy="106.7" r="2.1" fill="#dde0e1"/><circle cx="461.5" cy="180.9" r="2.1" fill="#e19999"/><circle cx="476.7" cy="162.7" r="2.1" fill="#f4f1f1"/><circle cx="488.8" cy="139.1" r="2.1" fill="#d3d8d9"/><circle cx="505.8" cy="87.9" r="2.1" fill="#ced4d5"/><circle cx="487.9" cy="179.5" r="2.1" fill="#f4f5f5"/><circle cx="498.6" cy="172.5" r="2.1" fill="#e9ebeb"/><circle cx="436.7" cy="75.3" r="2.1" fill="#eed5d5"/><circle cx="488.3" cy="154.7" r="2.1" fill="#dbdfe0"/><circle cx="555" cy="183.3" r="2.1" fill="#95a4a7"/><circle cx="468.1" cy="83.9" r="2.1" fill="#f2f3f3"/><circle cx="513.8" cy="167.8" r="2.1" fill="#edd3d3"/><circle cx="522.9" cy="140.4" r="2.1" fill="#cfd5d6"/><circle cx="510.2" cy="78.4" r="2.1" fill="#b7c0c3"/><circle cx="523.4" cy="108" r="2.1" fill="#bcc5c7"/><circle cx="467.5" cy="136" r="2.1" fill="#eaecec"/><circle cx="526.9" cy="211.3" r="2.1" fill="#cfd5d7"/><circle cx="504.3" cy="150.6" r="2.1" fill="#bec7c9"/><circle cx="497.9" cy="131.8" r="2.1" fill="#efdbdb"/><circle cx="488.7" cy="112.5" r="2.1" fill="#ced4d6"/><circle cx="456" cy="135.3" r="2.1" fill="#f0e0e0"/><circle cx="521.1" cy="157.2" r="2.1" fill="#f0dddd"/><circle cx="457.5" cy="149.6" r="2.1" fill="#efdada"/><circle cx="489.3" cy="168.3" r="2.1" fill="#eccece"/><circle cx="410.7" cy="129.2" r="2.1" fill="#e5abab"/><circle cx="538.9" cy="133.7" r="2.1" fill="#ecedee"/><circle cx="538.9" cy="122.8" r="2.1" fill="#eccbcb"/><circle cx="449" cy="117.9" r="2.1" fill="#f4f1f1"/><circle cx="518.5" cy="146.9" r="2.1" fill="#eceded"/><circle cx="515" cy="76.9" r="2.1" fill="#afbabd"/><circle cx="522" cy="133.5" r="2.1" fill="#d4dadb"/><circle cx="440.1" cy="139.2" r="2.1" fill="#f0dede"/><circle cx="502.6" cy="119.8" r="2.1" fill="#e4e6e7"/><circle cx="507.5" cy="112.2" r="2.1" fill="#afbabc"/><circle cx="468.3" cy="123.5" r="2.1" fill="#b5bfc1"/><circle cx="556.6" cy="136.1" r="2.1" fill="#dbdfe0"/><circle cx="489.1" cy="122.9" r="2.1" fill="#f1f2f2"/><circle cx="490.6" cy="140.1" r="2.1" fill="#edcece"/><circle cx="513" cy="152.6" r="2.1" fill="#e2e5e5"/><circle cx="538.9" cy="93.6" r="2.1" fill="#d1d7d8"/><circle cx="505.5" cy="137.1" r="2.1" fill="#bdc5c7"/><circle cx="533.4" cy="149.7" r="2.1" fill="#9ba9ad"/><circle cx="522.2" cy="173.4" r="2.1" fill="#dbdfe0"/><circle cx="496.9" cy="203" r="2.1" fill="#b7c1c3"/><circle cx="441.8" cy="172.4" r="2.1" fill="#e09494"/><circle cx="473.4" cy="178.9" r="2.1" fill="#e7b6b6"/><circle cx="510.4" cy="95.6" r="2.1" fill="#f0f1f1"/><circle cx="501.9" cy="176.1" r="2.1" fill="#f0dddd"/><circle cx="518.7" cy="45.1" r="2.1" fill="#d4d9da"/><circle cx="508.4" cy="122.8" r="2.1" fill="#c8cfd0"/><circle cx="469.2" cy="122.5" r="2.1" fill="#de8c8c"/><circle cx="522.7" cy="135.7" r="2.1" fill="#ccd2d4"/><circle cx="522.8" cy="179.7" r="2.1" fill="#f1e4e4"/><circle cx="527.1" cy="70.9" r="2.1" fill="#b4bec1"/><circle cx="491.2" cy="99.8" r="2.1" fill="#f4f0f0"/><circle cx="503.5" cy="102.3" r="2.1" fill="#f3ebeb"/><circle cx="509.4" cy="119" r="2.1" fill="#9ba9ac"/><circle cx="517" cy="94.2" r="2.1" fill="#9eabaf"/><circle cx="587.5" cy="83" r="2.1" fill="#9ba9ac"/><circle cx="506.6" cy="122.5" r="2.1" fill="#cfd5d6"/><circle cx="533.4" cy="124.9" r="2.1" fill="#d2d8d9"/><circle cx="495.5" cy="164.9" r="2.1" fill="#c8cfd1"/><circle cx="529.3" cy="76.2" r="2.1" fill="#b5bfc2"/><circle cx="445.1" cy="169" r="2.1" fill="#f4f1f1"/><circle cx="455.4" cy="88.1" r="2.1" fill="#edeeee"/><circle cx="464.4" cy="137.3" r="2.1" fill="#eed3d3"/><circle cx="481.1" cy="146.7" r="2.1" fill="#e2e5e6"/><circle cx="532.2" cy="136.5" r="2.1" fill="#a6b3b6"/><circle cx="553.9" cy="107.3" r="2.1" fill="#99a7aa"/><circle cx="537.7" cy="176.4" r="2.1" fill="#afbabc"/><circle cx="503.7" cy="100" r="2.1" fill="#a0adb0"/><circle cx="517.2" cy="90.5" r="2.1" fill="#dfe3e3"/><circle cx="508.2" cy="180.3" r="2.1" fill="#ebeded"/><circle cx="466" cy="138.3" r="2.1" fill="#d4d9db"/><circle cx="533.6" cy="173.1" r="2.1" fill="#bbc4c6"/><circle cx="503.9" cy="40.8" r="2.1" fill="#d0d6d7"/><circle cx="510.9" cy="54.7" r="2.1" fill="#f4f1f1"/><circle cx="507.2" cy="166.1" r="2.1" fill="#c0c8ca"/><circle cx="442.5" cy="172.4" r="2.1" fill="#eed5d5"/><circle cx="495.7" cy="142.8" r="2.1" fill="#bdc6c8"/><circle cx="468.9" cy="139.7" r="2.1" fill="#dfe2e3"/><circle cx="545.5" cy="118.7" r="2.1" fill="#b0bbbd"/><circle cx="479.8" cy="150.8" r="2.1" fill="#da7878"/><circle cx="496.6" cy="90.4" r="2.1" fill="#efdbdb"/><circle cx="493.3" cy="132.7" r="2.1" fill="#f5f4f4"/><circle cx="492.1" cy="69.4" r="2.1" fill="#f4f4f4"/><circle cx="448.2" cy="102.5" r="2.1" fill="#e2e5e5"/><circle cx="470.2" cy="141.6" r="2.1" fill="#dde1e2"/><circle cx="509.1" cy="120.8" r="2.1" fill="#f4f1f1"/><circle cx="525.5" cy="144" r="2.1" fill="#d5dadb"/><circle cx="527.2" cy="117.8" r="2.1" fill="#f3eded"/><circle cx="466.2" cy="111" r="2.1" fill="#f1e2e2"/><circle cx="506.2" cy="89.8" r="2.1" fill="#f2f3f3"/><circle cx="472.1" cy="161.1" r="2.1" fill="#f1e5e5"/><circle cx="487.3" cy="124.8" r="2.1" fill="#f2e6e6"/><circle cx="468" cy="176.2" r="2.1" fill="#eed7d7"/><circle cx="511.1" cy="96.3" r="2.1" fill="#f2e5e5"/><circle cx="467.1" cy="152.8" r="2.1" fill="#f3f3f3"/><circle cx="546.4" cy="144.8" r="2.1" fill="#c1c9cb"/><circle cx="489.2" cy="98.5" r="2.1" fill="#d3d8d9"/><circle cx="554.9" cy="155.5" r="2.1" fill="#c5cdcf"/><circle cx="467.1" cy="50.7" r="2.1" fill="#edd2d2"/><circle cx="516.6" cy="118" r="2.1" fill="#dbdfe0"/><circle cx="501.4" cy="90.2" r="2.1" fill="#94a3a7"/><circle cx="539.4" cy="190.3" r="2.1" fill="#b2bdbf"/><circle cx="501.2" cy="68.6" r="2.1" fill="#cbd1d3"/><circle cx="524.6" cy="134.5" r="2.1" fill="#c8cfd0"/><circle cx="562.4" cy="151.8" r="2.1" fill="#a9b5b8"/><circle cx="503.7" cy="167.5" r="2.1" fill="#d0d6d7"/><circle cx="493.1" cy="183.8" r="2.1" fill="#f0dfdf"/><circle cx="526.3" cy="170.4" r="2.1" fill="#ebeced"/><circle cx="487.5" cy="125.1" r="2.1" fill="#ebc5c5"/><circle cx="558.7" cy="102.2" r="2.1" fill="#85969a"/><circle cx="533.1" cy="93.9" r="2.1" fill="#a8b4b6"/><circle cx="510.7" cy="155.5" r="2.1" fill="#aab6b8"/><circle cx="472.6" cy="95.3" r="2.1" fill="#eac4c4"/><circle cx="439.3" cy="136.1" r="2.1" fill="#e5aaaa"/><circle cx="477.6" cy="153.8" r="2.1" fill="#e4e7e7"/><circle cx="510.4" cy="81.1" r="2.1" fill="#c6cecf"/><circle cx="513.6" cy="111.4" r="2.1" fill="#e4e7e8"/><circle cx="559.3" cy="111.7" r="2.1" fill="#f5f3f3"/><circle cx="463.6" cy="90.7" r="2.1" fill="#e4a6a6"/><circle cx="453.3" cy="141.4" r="2.1" fill="#f3ecec"/><circle cx="467.7" cy="157.4" r="2.1" fill="#eac3c3"/><circle cx="536.4" cy="127.9" r="2.1" fill="#c7cfd0"/><circle cx="484" cy="119.2" r="2.1" fill="#e8bbbb"/><circle cx="491.9" cy="122.2" r="2.1" fill="#e29e9e"/><circle cx="537" cy="98.6" r="2.1" fill="#e4e7e7"/><circle cx="429.8" cy="187.3" r="2.1" fill="#e3a2a2"/><circle cx="486.9" cy="82.8" r="2.1" fill="#8c9ca0"/><circle cx="459.2" cy="50.8" r="2.1" fill="#ebc5c5"/><circle cx="483.9" cy="132.1" r="2.1" fill="#b1bcbe"/><circle cx="485.8" cy="118.3" r="2.1" fill="#dadedf"/><circle cx="528" cy="145.3" r="2.1" fill="#f5f5f5"/><circle cx="465.1" cy="160" r="2.1" fill="#ccd2d4"/><circle cx="475.5" cy="148.5" r="2.1" fill="#e09494"/><circle cx="521" cy="129.2" r="2.1" fill="#c1c9cb"/><circle cx="492.7" cy="74.7" r="2.1" fill="#f1e3e3"/><circle cx="551" cy="87.6" r="2.1" fill="#b3bdbf"/><circle cx="507.1" cy="136.3" r="2.1" fill="#f4f2f2"/><circle cx="481.2" cy="138.2" r="2.1" fill="#e0e3e4"/><circle cx="536.1" cy="128.1" r="2.1" fill="#cdd3d5"/><circle cx="522" cy="88.9" r="2.1" fill="#7b8e92"/><circle cx="486.5" cy="118.3" r="2.1" fill="#eed5d5"/><circle cx="513.2" cy="134.1" r="2.1" fill="#f5f5f5"/><circle cx="597.3" cy="154.8" r="2.1" fill="#a4b1b4"/><circle cx="502.4" cy="169.4" r="2.1" fill="#d3d8da"/><circle cx="519.7" cy="153.9" r="2.1" fill="#acb8ba"/><circle cx="501.1" cy="104.2" r="2.1" fill="#c3cbcd"/><circle cx="545.6" cy="140.4" r="2.1" fill="#d4d9da"/><circle cx="565.5" cy="95.6" r="2.1" fill="#cdd3d4"/><circle cx="465.8" cy="153.8" r="2.1" fill="#ebc6c6"/><circle cx="561.1" cy="176.2" r="2.1" fill="#f0f1f1"/><circle cx="452.4" cy="124.8" r="2.1" fill="#e5adad"/><circle cx="482.5" cy="125.4" r="2.1" fill="#f2e6e6"/><circle cx="572.3" cy="151" r="2.1" fill="#cbd2d3"/><circle cx="538.7" cy="167.3" r="2.1" fill="#c6cdcf"/><circle cx="488.1" cy="100.5" r="2.1" fill="#eccdcd"/><circle cx="497.5" cy="175.9" r="2.1" fill="#c7ced0"/><circle cx="443.4" cy="151.9" r="2.1" fill="#f2e6e6"/><circle cx="595" cy="109.9" r="2.1" fill="#c0c8ca"/><circle cx="484.7" cy="132.9" r="2.1" fill="#bbc4c6"/><circle cx="500.6" cy="102.9" r="2.1" fill="#d4d9da"/><circle cx="471.3" cy="126.4" r="2.1" fill="#c7ced0"/><circle cx="456" cy="120.1" r="2.1" fill="#f3f3f3"/><circle cx="499.2" cy="98" r="2.1" fill="#dc8484"/><circle cx="476.1" cy="131" r="2.1" fill="#bcc5c7"/><circle cx="546.6" cy="122.7" r="2.1" fill="#f1f1f2"/><circle cx="480.5" cy="150.6" r="2.1" fill="#e0e3e4"/><circle cx="500.3" cy="52.5" r="2.1" fill="#b3bec0"/><circle cx="529.6" cy="156.6" r="2.1" fill="#98a6aa"/><circle cx="538.2" cy="153.2" r="2.1" fill="#e6e8e9"/><circle cx="518.9" cy="130.6" r="2.1" fill="#c8cfd1"/><circle cx="487.5" cy="141.1" r="2.1" fill="#f0f0f1"/><circle cx="514.2" cy="120.5" r="2.1" fill="#edd1d1"/><circle cx="514.3" cy="127.1" r="2.1" fill="#a4b1b4"/><circle cx="521" cy="131.9" r="2.1" fill="#839599"/><circle cx="515.3" cy="124.2" r="2.1" fill="#dee2e2"/><circle cx="471.3" cy="114.9" r="2.1" fill="#e7b5b5"/><circle cx="417.8" cy="93.1" r="2.1" fill="#e4a6a6"/><circle cx="416.8" cy="67.3" r="2.1" fill="#d97676"/><circle cx="549" cy="131.9" r="2.1" fill="#f5f5f5"/><circle cx="515" cy="109" r="2.1" fill="#e7e9ea"/><circle cx="445.4" cy="112.3" r="2.1" fill="#f2e7e7"/><circle cx="497.8" cy="107.6" r="2.1" fill="#e9ebeb"/><circle cx="536.8" cy="170.2" r="2.1" fill="#f4eeee"/><circle cx="491.9" cy="98.2" r="2.1" fill="#f3ecec"/><circle cx="488.3" cy="100.1" r="2.1" fill="#eeeff0"/><circle cx="472.6" cy="135.8" r="2.1" fill="#efdbdb"/><circle cx="557.7" cy="134.8" r="2.1" fill="#c5ccce"/><circle cx="524.1" cy="126.6" r="2.1" fill="#f5f4f4"/><circle cx="525.8" cy="139.8" r="2.1" fill="#ccd2d4"/><circle cx="410.1" cy="137.9" r="2.1" fill="#d56464"/><circle cx="451.3" cy="101.5" r="2.1" fill="#eac2c2"/><circle cx="495.7" cy="156.3" r="2.1" fill="#eeefef"/><circle cx="514.3" cy="56.9" r="2.1" fill="#95a4a7"/><circle cx="498.1" cy="161.4" r="2.1" fill="#90a0a3"/><circle cx="467.2" cy="181.4" r="2.1" fill="#f2e9e9"/><circle cx="530.4" cy="94.6" r="2.1" fill="#c1c9cb"/><circle cx="505.1" cy="118.5" r="2.1" fill="#eac2c2"/><circle cx="466.5" cy="106" r="2.1" fill="#ecedee"/><circle cx="508.1" cy="96.5" r="2.1" fill="#b8c1c3"/><circle cx="571.1" cy="128" r="2.1" fill="#dee2e3"/><circle cx="518" cy="116.2" r="2.1" fill="#899a9e"/><circle cx="502.7" cy="141.4" r="2.1" fill="#e3e6e6"/><circle cx="439.5" cy="198.4" r="2.1" fill="#f5f5f5"/><circle cx="442.4" cy="80.3" r="2.1" fill="#b7c1c3"/><circle cx="510.2" cy="191.2" r="2.1" fill="#95a4a7"/><circle cx="533.1" cy="107" r="2.1" fill="#cad1d3"/><circle cx="530.1" cy="184.6" r="2.1" fill="#d1d7d8"/><circle cx="531.5" cy="124" r="2.1" fill="#c6cecf"/><circle cx="502.4" cy="106.8" r="2.1" fill="#bbc4c6"/><circle cx="509.5" cy="117.3" r="2.1" fill="#dde1e2"/><circle cx="517.9" cy="151.5" r="2.1" fill="#e2e5e5"/><circle cx="447.6" cy="145.7" r="2.1" fill="#eccccc"/><circle cx="561.7" cy="152.3" r="2.1" fill="#f2e9e9"/><circle cx="497.1" cy="174.6" r="2.1" fill="#f1e2e2"/><circle cx="450" cy="95.2" r="2.1" fill="#f5f4f4"/><circle cx="436.1" cy="176.7" r="2.1" fill="#efdada"/><circle cx="521.4" cy="113.6" r="2.1" fill="#b0bbbd"/><circle cx="496.5" cy="101.1" r="2.1" fill="#e9ebeb"/><circle cx="493.3" cy="122.2" r="2.1" fill="#efdcdc"/><circle cx="491.5" cy="137.5" r="2.1" fill="#ebc5c5"/><circle cx="557.6" cy="99" r="2.1" fill="#cad1d2"/><circle cx="496.9" cy="100.1" r="2.1" fill="#cbd2d3"/><circle cx="552.2" cy="119.2" r="2.1" fill="#9caaad"/><circle cx="490.7" cy="147.7" r="2.1" fill="#aab6b8"/><circle cx="545.9" cy="94.2" r="2.1" fill="#f0dede"/><circle cx="478.3" cy="117.6" r="2.1" fill="#ebeded"/><circle cx="546" cy="89.2" r="2.1" fill="#b5bfc1"/><circle cx="428.3" cy="102.2" r="2.1" fill="#d97474"/><circle cx="510.2" cy="97.5" r="2.1" fill="#c2cacb"/><circle cx="510" cy="92.6" r="2.1" fill="#d7dcdd"/><circle cx="508.1" cy="146.1" r="2.1" fill="#eceeee"/><circle cx="456.5" cy="101.1" r="2.1" fill="#cbd1d3"/><circle cx="521.8" cy="126" r="2.1" fill="#a0aeb1"/><circle cx="445.6" cy="162" r="2.1" fill="#d15151"/><circle cx="517.7" cy="121.6" r="2.1" fill="#e6e8e9"/><circle cx="531.2" cy="129.3" r="2.1" fill="#84969a"/><circle cx="583.2" cy="109.6" r="2.1" fill="#a1aeb1"/><circle cx="451.3" cy="93.7" r="2.1" fill="#eed6d6"/><circle cx="505.6" cy="183.1" r="2.1" fill="#f5f5f5"/><circle cx="493.9" cy="122.6" r="2.1" fill="#e4e6e7"/><circle cx="491.7" cy="173.1" r="2.1" fill="#bcc5c7"/><circle cx="515.2" cy="139.6" r="2.1" fill="#d9ddde"/><circle cx="568.5" cy="110.2" r="2.1" fill="#ebeced"/><circle cx="473.9" cy="65.4" r="2.1" fill="#e8eaea"/><circle cx="462.3" cy="173.7" r="2.1" fill="#e0e3e4"/><circle cx="496.8" cy="161.9" r="2.1" fill="#b9c3c5"/><circle cx="545.9" cy="112.9" r="2.1" fill="#70858a"/><circle cx="475.4" cy="118" r="2.1" fill="#e9bebe"/><circle cx="510.9" cy="96.4" r="2.1" fill="#e8eaea"/><circle cx="541.3" cy="123.1" r="2.1" fill="#c9d0d1"/><circle cx="509" cy="127" r="2.1" fill="#e3e6e6"/><circle cx="516.2" cy="136.1" r="2.1" fill="#f1e1e1"/><circle cx="512.6" cy="101.5" r="2.1" fill="#ccd2d3"/><circle cx="499.2" cy="118.6" r="2.1" fill="#aeb9bb"/><circle cx="475.7" cy="115.4" r="2.1" fill="#eac4c4"/><circle cx="490.4" cy="163.9" r="2.1" fill="#92a1a5"/><circle cx="519.8" cy="78.1" r="2.1" fill="#c9d0d1"/><circle cx="530.3" cy="167.7" r="2.1" fill="#f3ebeb"/><circle cx="489" cy="150.6" r="2.1" fill="#eac2c2"/><circle cx="545.3" cy="122.4" r="2.1" fill="#c8cfd0"/><circle cx="525.9" cy="100.3" r="2.1" fill="#d1d6d8"/><circle cx="451.1" cy="87.1" r="2.1" fill="#eed6d6"/><circle cx="469.8" cy="157.1" r="2.1" fill="#f4f1f1"/><circle cx="446.9" cy="86.5" r="2.1" fill="#edd1d1"/><circle cx="481.8" cy="220.3" r="2.1" fill="#e9c0c0"/><circle cx="479.3" cy="101.9" r="2.1" fill="#f0dfdf"/><circle cx="464.1" cy="158.3" r="2.1" fill="#e29f9f"/><circle cx="464.5" cy="135.8" r="2.1" fill="#eccbcb"/><circle cx="523.9" cy="145.9" r="2.1" fill="#c7ced0"/><circle cx="451.5" cy="138.7" r="2.1" fill="#efdcdc"/><circle cx="487.9" cy="188" r="2.1" fill="#e4a8a8"/><circle cx="565.9" cy="160.8" r="2.1" fill="#a9b5b8"/><circle cx="540.8" cy="125.3" r="2.1" fill="#f5f5f5"/><circle cx="502.1" cy="130.5" r="2.1" fill="#bac3c5"/><circle cx="526.8" cy="189.7" r="2.1" fill="#e9ebeb"/><circle cx="543.2" cy="156.3" r="2.1" fill="#bec7c8"/><circle cx="521.7" cy="90" r="2.1" fill="#c5cdce"/><circle cx="506.2" cy="141.4" r="2.1" fill="#bcc5c7"/><circle cx="513.1" cy="110.8" r="2.1" fill="#bdc6c8"/><circle cx="455.1" cy="164.6" r="2.1" fill="#edd0d0"/><circle cx="534.5" cy="187.9" r="2.1" fill="#f1e5e5"/><circle cx="515.8" cy="111.4" r="2.1" fill="#e8eaeb"/><circle cx="471.1" cy="162" r="2.1" fill="#e0e3e4"/><circle cx="503.5" cy="97.9" r="2.1" fill="#f0f1f1"/><circle cx="517.6" cy="133.1" r="2.1" fill="#75898e"/><circle cx="527" cy="131.4" r="2.1" fill="#d0d6d7"/><circle cx="534.8" cy="143.6" r="2.1" fill="#eac4c4"/><circle cx="499.4" cy="107.1" r="2.1" fill="#839599"/><circle cx="513" cy="40.2" r="2.1" fill="#cdd3d5"/><circle cx="498.1" cy="111.9" r="2.1" fill="#f1e1e1"/><circle cx="533.3" cy="126.4" r="2.1" fill="#edd1d1"/><circle cx="446" cy="126" r="2.1" fill="#e29c9c"/><circle cx="516.7" cy="98" r="2.1" fill="#c7ced0"/><circle cx="473.2" cy="157.1" r="2.1" fill="#e5acac"/><circle cx="463.3" cy="164.8" r="2.1" fill="#e3a3a3"/><circle cx="466.5" cy="154.6" r="2.1" fill="#f4efef"/><circle cx="530.2" cy="109.2" r="2.1" fill="#d6dadc"/><circle cx="495.6" cy="200" r="2.1" fill="#c3cbcd"/><circle cx="551.5" cy="134.9" r="2.1" fill="#bcc5c7"/><circle cx="491.1" cy="111.5" r="2.1" fill="#eccaca"/><circle cx="576.7" cy="144.7" r="2.1" fill="#8e9ea2"/><circle cx="552.2" cy="194" r="2.1" fill="#f5f3f3"/><circle cx="534" cy="127.7" r="2.1" fill="#dee2e3"/><circle cx="560.5" cy="91.7" r="2.1" fill="#d3d8d9"/><circle cx="456.1" cy="77.9" r="2.1" fill="#f3eded"/><circle cx="552.7" cy="140.9" r="2.1" fill="#e6e8e9"/><circle cx="473.3" cy="136.8" r="2.1" fill="#f4efef"/><circle cx="550.1" cy="197.2" r="2.1" fill="#c1cacb"/><circle cx="512.5" cy="133.1" r="2.1" fill="#9caaad"/><circle cx="498.1" cy="220.5" r="2.1" fill="#e4e7e8"/><circle cx="508.7" cy="102.7" r="2.1" fill="#ced4d5"/><circle cx="512.4" cy="178.9" r="2.1" fill="#f3eded"/><circle cx="510.1" cy="141" r="2.1" fill="#e1e4e5"/><circle cx="474.3" cy="161.4" r="2.1" fill="#f4eeee"/><circle cx="512.1" cy="135.6" r="2.1" fill="#c6cdcf"/><circle cx="466.8" cy="108.3" r="2.1" fill="#f0f1f1"/><circle cx="507.5" cy="112.1" r="2.1" fill="#c0c9ca"/><circle cx="465" cy="115.2" r="2.1" fill="#ebc6c6"/><circle cx="493.1" cy="133.7" r="2.1" fill="#afbabd"/><circle cx="533.8" cy="120.4" r="2.1" fill="#96a5a8"/><circle cx="527.8" cy="144.8" r="2.1" fill="#dde1e2"/><circle cx="443.3" cy="94.6" r="2.1" fill="#df9292"/><circle cx="521.1" cy="139.9" r="2.1" fill="#e3e6e6"/><circle cx="526.2" cy="114.3" r="2.1" fill="#ccd3d4"/><circle cx="587.5" cy="94.5" r="2.1" fill="#f1e1e1"/><circle cx="545.6" cy="141.9" r="2.1" fill="#d7dbdc"/><circle cx="515.2" cy="91" r="2.1" fill="#c2cacc"/><circle cx="541.7" cy="85.1" r="2.1" fill="#d3d8d9"/><circle cx="491.8" cy="122.2" r="2.1" fill="#efdada"/><circle cx="504.8" cy="119.7" r="2.1" fill="#ced4d6"/><circle cx="475.6" cy="97.8" r="2.1" fill="#edcfcf"/><circle cx="520.1" cy="134.8" r="2.1" fill="#c8cfd1"/><circle cx="522.6" cy="115.1" r="2.1" fill="#dadedf"/><circle cx="478.4" cy="118.5" r="2.1" fill="#f2e5e5"/><circle cx="508.5" cy="172" r="2.1" fill="#7a8d92"/><circle cx="464.3" cy="96.1" r="2.1" fill="#e6b3b3"/><circle cx="510.7" cy="141" r="2.1" fill="#f1f2f2"/><circle cx="488" cy="79.2" r="2.1" fill="#f3ecec"/><circle cx="503.7" cy="162.3" r="2.1" fill="#e4e7e7"/><circle cx="511.1" cy="120.8" r="2.1" fill="#d0d5d7"/><circle cx="464" cy="141.8" r="2.1" fill="#e6afaf"/><circle cx="512.5" cy="118.7" r="2.1" fill="#d8ddde"/><circle cx="491" cy="93.1" r="2.1" fill="#f0e0e0"/><circle cx="507.7" cy="125" r="2.1" fill="#97a6a9"/><circle cx="545.6" cy="138.3" r="2.1" fill="#eed5d5"/><circle cx="507.2" cy="118.9" r="2.1" fill="#e3e6e6"/><circle cx="505.4" cy="204.9" r="2.1" fill="#e6e9e9"/><circle cx="458.6" cy="116.4" r="2.1" fill="#e6e8e9"/><circle cx="510.7" cy="146" r="2.1" fill="#b5bfc1"/><circle cx="536.3" cy="133.9" r="2.1" fill="#dce0e1"/><circle cx="480.5" cy="160.6" r="2.1" fill="#73878c"/><circle cx="487.2" cy="96.7" r="2.1" fill="#eccece"/><circle cx="519.5" cy="128.3" r="2.1" fill="#b6c0c2"/><circle cx="503.7" cy="80.5" r="2.1" fill="#bbc4c6"/><circle cx="527.4" cy="152.1" r="2.1" fill="#d0d6d7"/><circle cx="510.7" cy="109.2" r="2.1" fill="#eccaca"/><circle cx="500" cy="109.6" r="2.1" fill="#e5e7e8"/><circle cx="468.9" cy="190.4" r="2.1" fill="#e9c0c0"/><circle cx="548.2" cy="120.5" r="2.1" fill="#93a2a6"/><circle cx="509.9" cy="132.8" r="2.1" fill="#bfc8ca"/><circle cx="451.8" cy="155.3" r="2.1" fill="#e7b5b5"/><circle cx="496" cy="148.3" r="2.1" fill="#b3bdc0"/><circle cx="528.7" cy="100.9" r="2.1" fill="#667c81"/><circle cx="487.7" cy="134.1" r="2.1" fill="#cfd5d6"/><circle cx="556.9" cy="141.2" r="2.1" fill="#b1bcbe"/><circle cx="548.1" cy="74.1" r="2.1" fill="#bbc4c6"/><circle cx="508.2" cy="148.3" r="2.1" fill="#f4f4f4"/><circle cx="481.6" cy="139.2" r="2.1" fill="#f1e1e1"/><circle cx="527.1" cy="159.9" r="2.1" fill="#bdc6c8"/><circle cx="520.3" cy="143.1" r="2.1" fill="#e8eaea"/><circle cx="481.6" cy="166.2" r="2.1" fill="#eceeee"/><circle cx="473.8" cy="114" r="2.1" fill="#f3ebeb"/><circle cx="501.1" cy="118.7" r="2.1" fill="#b5bfc2"/><circle cx="498.5" cy="161" r="2.1" fill="#f4f2f2"/><circle cx="480.6" cy="84.4" r="2.1" fill="#e5e8e8"/><circle cx="516.6" cy="116.8" r="2.1" fill="#f2e6e6"/><circle cx="490.7" cy="137.1" r="2.1" fill="#afbabd"/><circle cx="500.6" cy="186.2" r="2.1" fill="#f1e3e3"/><circle cx="457.5" cy="102.7" r="2.1" fill="#e0e3e4"/><circle cx="553.6" cy="165.8" r="2.1" fill="#d3d9da"/><circle cx="528.7" cy="163.3" r="2.1" fill="#a3afb2"/><circle cx="463.9" cy="144" r="2.1" fill="#e3e6e6"/><circle cx="507" cy="105.4" r="2.1" fill="#f5f5f5"/><circle cx="468.1" cy="101.3" r="2.1" fill="#c1cacb"/><circle cx="539" cy="124.1" r="2.1" fill="#eeefef"/><circle cx="473.3" cy="156.2" r="2.1" fill="#e29e9e"/><circle cx="523" cy="151.9" r="2.1" fill="#eeefef"/><circle cx="507" cy="118.1" r="2.1" fill="#9caaad"/><circle cx="465.4" cy="85.3" r="2.1" fill="#eccdcd"/><circle cx="425.2" cy="188.2" r="2.1" fill="#e8bbbb"/><circle cx="518.5" cy="154.3" r="2.1" fill="#dbdfe0"/><circle cx="496.3" cy="91.1" r="2.1" fill="#e1e4e5"/><circle cx="534.9" cy="105.4" r="2.1" fill="#f5f4f4"/><circle cx="528.3" cy="170.5" r="2.1" fill="#efd8d8"/><circle cx="479.8" cy="126" r="2.1" fill="#f2e8e8"/><circle cx="480.3" cy="168" r="2.1" fill="#e9bfbf"/><circle cx="493.3" cy="99.8" r="2.1" fill="#d3d8d9"/><circle cx="502.1" cy="97.1" r="2.1" fill="#e6b2b2"/><circle cx="496.8" cy="137.6" r="2.1" fill="#bcc5c7"/><circle cx="519.4" cy="113.1" r="2.1" fill="#aab6b8"/><circle cx="463.3" cy="170.9" r="2.1" fill="#f4efef"/><circle cx="415.7" cy="172.5" r="2.1" fill="#de8c8c"/><circle cx="553.8" cy="156.6" r="2.1" fill="#ecedee"/><circle cx="521.6" cy="116.6" r="2.1" fill="#96a5a9"/><circle cx="498.7" cy="158.8" r="2.1" fill="#eaecec"/><circle cx="495.8" cy="148.9" r="2.1" fill="#f4f4f4"/><circle cx="543.3" cy="120.1" r="2.1" fill="#e9bdbd"/><circle cx="499.4" cy="78.3" r="2.1" fill="#d4d9da"/><circle cx="568.3" cy="187.5" r="2.1" fill="#87989c"/><circle cx="517.8" cy="136.9" r="2.1" fill="#95a4a7"/><circle cx="479.8" cy="177.7" r="2.1" fill="#eff0f0"/><circle cx="505.4" cy="131.7" r="2.1" fill="#f1f2f2"/><circle cx="513.5" cy="140.1" r="2.1" fill="#e2e5e5"/><circle cx="561.1" cy="230.7" r="2.1" fill="#bfc7c9"/><circle cx="479" cy="37.8" r="2.1" fill="#d9ddde"/><circle cx="545.2" cy="100.6" r="2.1" fill="#c8cfd1"/><circle cx="493.9" cy="100.1" r="2.1" fill="#e8eaeb"/><circle cx="538.2" cy="171.6" r="2.1" fill="#e8bbbb"/><circle cx="521.3" cy="112.5" r="2.1" fill="#d1d7d8"/><circle cx="460.4" cy="110.5" r="2.1" fill="#e3e6e6"/><circle cx="565.4" cy="100" r="2.1" fill="#aeb9bb"/><circle cx="457" cy="148.2" r="2.1" fill="#f1e2e2"/><circle cx="561.2" cy="118.7" r="2.1" fill="#6e8388"/><circle cx="475.1" cy="119.7" r="2.1" fill="#f4efef"/><circle cx="475.9" cy="131.4" r="2.1" fill="#f2e8e8"/><circle cx="498.7" cy="151.6" r="2.1" fill="#e6e8e9"/><circle cx="599.4" cy="129.7" r="2.1" fill="#87989c"/><circle cx="498.1" cy="103.9" r="2.1" fill="#d6dbdc"/><circle cx="488.4" cy="159" r="2.1" fill="#f4f3f3"/><circle cx="495.7" cy="105.8" r="2.1" fill="#f2e6e6"/><circle cx="454.5" cy="162.4" r="2.1" fill="#eccccc"/><circle cx="509.8" cy="152.4" r="2.1" fill="#a6b2b5"/><circle cx="535.3" cy="32.1" r="2.1" fill="#e9ebeb"/><circle cx="525.1" cy="127.4" r="2.1" fill="#efdbdb"/><circle cx="488" cy="92.1" r="2.1" fill="#e3e6e7"/><circle cx="456.4" cy="124.7" r="2.1" fill="#acb7ba"/><circle cx="488.6" cy="111.9" r="2.1" fill="#f0dddd"/><circle cx="519.9" cy="140.6" r="2.1" fill="#f3ebeb"/><circle cx="544.8" cy="165.7" r="2.1" fill="#cbd2d3"/><circle cx="517.4" cy="128" r="2.1" fill="#c7ced0"/><circle cx="458.6" cy="147.3" r="2.1" fill="#e6aeae"/><circle cx="508.2" cy="108.9" r="2.1" fill="#f3eded"/><circle cx="517.7" cy="114.9" r="2.1" fill="#d8dcdd"/><circle cx="495.2" cy="142" r="2.1" fill="#e0e3e4"/><circle cx="498.8" cy="51.2" r="2.1" fill="#eaecec"/><circle cx="516.8" cy="90.2" r="2.1" fill="#f2e9e9"/><circle cx="527.5" cy="89.2" r="2.1" fill="#d9dedf"/><circle cx="524.1" cy="139.2" r="2.1" fill="#a7b3b6"/><circle cx="522.3" cy="54" r="2.1" fill="#bec7c9"/><circle cx="483.5" cy="180.5" r="2.1" fill="#f4efef"/><circle cx="507.5" cy="107.4" r="2.1" fill="#edeeee"/><circle cx="456.3" cy="131.1" r="2.1" fill="#f3ecec"/><circle cx="518.9" cy="130.1" r="2.1" fill="#f5f5f5"/><circle cx="510.3" cy="117.7" r="2.1" fill="#c3cbcd"/><circle cx="549.1" cy="209.4" r="2.1" fill="#f0f1f1"/><circle cx="513.6" cy="158.4" r="2.1" fill="#edcfcf"/><circle cx="528.3" cy="183.2" r="2.1" fill="#f4f4f4"/><circle cx="530.2" cy="117.7" r="2.1" fill="#d6dbdc"/><circle cx="555.5" cy="153.6" r="2.1" fill="#dde0e1"/><circle cx="484.9" cy="182.6" r="2.1" fill="#9dabae"/><circle cx="522.9" cy="140.5" r="2.1" fill="#f0dcdc"/><circle cx="509.9" cy="138" r="2.1" fill="#b8c2c4"/><circle cx="519.1" cy="123.9" r="2.1" fill="#aeb9bc"/><circle cx="534.7" cy="120.1" r="2.1" fill="#bdc6c8"/><circle cx="509" cy="127.7" r="2.1" fill="#b3bdbf"/><circle cx="482.2" cy="124.1" r="2.1" fill="#f1f1f2"/><circle cx="544.6" cy="107.1" r="2.1" fill="#bbc4c6"/><circle cx="531.5" cy="175.3" r="2.1" fill="#cad1d2"/><circle cx="591.1" cy="71.5" r="2.1" fill="#dde1e2"/><circle cx="552.4" cy="196.3" r="2.1" fill="#d2d7d9"/><circle cx="499.2" cy="121.1" r="2.1" fill="#c4ccce"/><circle cx="469.2" cy="75.3" r="2.1" fill="#f4f2f2"/><circle cx="498.9" cy="149" r="2.1" fill="#bbc4c6"/><circle cx="526.5" cy="144.7" r="2.1" fill="#f5f4f4"/><circle cx="485.7" cy="181.7" r="2.1" fill="#c0c8ca"/><circle cx="472.2" cy="174.7" r="2.1" fill="#ebeced"/><circle cx="512.1" cy="154.1" r="2.1" fill="#eed6d6"/><circle cx="485.9" cy="117.7" r="2.1" fill="#dfe2e3"/><circle cx="420.6" cy="107" r="2.1" fill="#e6afaf"/><circle cx="482.6" cy="130.4" r="2.1" fill="#f2e8e8"/><circle cx="511.5" cy="127.7" r="2.1" fill="#94a3a7"/><circle cx="551.4" cy="156.4" r="2.1" fill="#c9d0d2"/><circle cx="536.6" cy="142.6" r="2.1" fill="#f0f0f1"/><circle cx="498.1" cy="96.2" r="2.1" fill="#e4e7e7"/><circle cx="515.6" cy="159" r="2.1" fill="#ebeced"/><circle cx="465.6" cy="56.2" r="2.1" fill="#e0e3e4"/><circle cx="492.3" cy="122.3" r="2.1" fill="#e6e8e9"/><circle cx="526.7" cy="117.7" r="2.1" fill="#c1cacb"/><circle cx="520.4" cy="153.2" r="2.1" fill="#d1d7d8"/><circle cx="500" cy="142.2" r="2.1" fill="#a6b3b5"/><circle cx="481.1" cy="144.2" r="2.1" fill="#d8ddde"/><circle cx="515.3" cy="151.7" r="2.1" fill="#e6e8e9"/><circle cx="463.6" cy="108.7" r="2.1" fill="#eceeee"/><circle cx="488.5" cy="120.3" r="2.1" fill="#f3eded"/><circle cx="508.1" cy="115.1" r="2.1" fill="#efd8d8"/><circle cx="493.4" cy="144.9" r="2.1" fill="#edeeef"/><circle cx="458.1" cy="121.2" r="2.1" fill="#efdbdb"/><circle cx="522.1" cy="85.2" r="2.1" fill="#e8eaeb"/><circle cx="488.8" cy="105.9" r="2.1" fill="#c5cdce"/><circle cx="535" cy="126.4" r="2.1" fill="#b6c0c2"/><circle cx="512.9" cy="119.9" r="2.1" fill="#abb6b9"/><circle cx="493.6" cy="121.3" r="2.1" fill="#c2cacc"/><circle cx="493.1" cy="108.9" r="2.1" fill="#ebc6c6"/><circle cx="393.4" cy="98.7" r="2.1" fill="#e6b2b2"/><circle cx="505.5" cy="147.1" r="2.1" fill="#d9ddde"/><circle cx="485.3" cy="81.6" r="2.1" fill="#dfe3e4"/><circle cx="469.6" cy="132.6" r="2.1" fill="#eff0f0"/><circle cx="497.5" cy="107.9" r="2.1" fill="#d3d8da"/><circle cx="488.2" cy="130.7" r="2.1" fill="#e1e4e5"/><circle cx="534.6" cy="74.3" r="2.1" fill="#d8ddde"/><circle cx="491.2" cy="170.4" r="2.1" fill="#dadfe0"/><circle cx="560.8" cy="148.7" r="2.1" fill="#ced4d6"/><circle cx="458" cy="129.8" r="2.1" fill="#f1e4e4"/><circle cx="505.8" cy="52.1" r="2.1" fill="#cdd4d5"/><circle cx="509.5" cy="189.6" r="2.1" fill="#cfd5d7"/><circle cx="536.6" cy="147.2" r="2.1" fill="#f0dfdf"/><circle cx="484.2" cy="118.3" r="2.1" fill="#c0c9ca"/><circle cx="539.4" cy="83.2" r="2.1" fill="#c3cbcd"/><circle cx="500.9" cy="84.5" r="2.1" fill="#f5f4f4"/><circle cx="538.8" cy="179.8" r="2.1" fill="#dee2e3"/><circle cx="538.1" cy="69.4" r="2.1" fill="#a4b0b3"/><circle cx="508.7" cy="188.6" r="2.1" fill="#aeb9bb"/><circle cx="530.7" cy="125.4" r="2.1" fill="#cbd2d3"/><circle cx="530.5" cy="173.6" r="2.1" fill="#f4f0f0"/><circle cx="494.3" cy="156.9" r="2.1" fill="#f3ebeb"/><circle cx="462.5" cy="165" r="2.1" fill="#f1e5e5"/><circle cx="508.9" cy="138.8" r="2.1" fill="#cad1d3"/><circle cx="504.3" cy="182.3" r="2.1" fill="#d2d7d8"/><circle cx="525.8" cy="144.6" r="2.1" fill="#cad0d2"/><circle cx="529.1" cy="120.1" r="2.1" fill="#98a7aa"/><circle cx="520.2" cy="102.7" r="2.1" fill="#9dabae"/><circle cx="498.9" cy="165" r="2.1" fill="#dbdfe0"/><circle cx="513.7" cy="85.2" r="2.1" fill="#eccdcd"/><circle cx="436" cy="171.4" r="2.1" fill="#e8bcbc"/><circle cx="608.8" cy="168.8" r="2.1" fill="#657b80"/><circle cx="538.4" cy="63" r="2.1" fill="#9fadb0"/><circle cx="478.9" cy="65.1" r="2.1" fill="#f2f3f3"/><circle cx="554" cy="221.4" r="2.1" fill="#9caaad"/><circle cx="469.8" cy="57.8" r="2.1" fill="#f1e2e2"/><circle cx="563" cy="161" r="2.1" fill="#a2afb2"/><circle cx="508.2" cy="146.8" r="2.1" fill="#bac3c5"/><circle cx="492.9" cy="134.8" r="2.1" fill="#b2bdbf"/><circle cx="509" cy="147.6" r="2.1" fill="#e8eaeb"/><circle cx="540.2" cy="159.3" r="2.1" fill="#d6dbdc"/><circle cx="588.2" cy="103.4" r="2.1" fill="#c1c9cb"/><circle cx="427.8" cy="130.9" r="2.1" fill="#e3a2a2"/><circle cx="472.1" cy="68.2" r="2.1" fill="#f4f2f2"/><circle cx="480.6" cy="164.5" r="2.1" fill="#eccaca"/><circle cx="494.6" cy="143.4" r="2.1" fill="#bcc5c7"/><circle cx="501.2" cy="123" r="2.1" fill="#f4f2f2"/><circle cx="508.4" cy="155.2" r="2.1" fill="#c9d0d1"/><circle cx="521" cy="68.2" r="2.1" fill="#c0c8ca"/><circle cx="533.3" cy="85.6" r="2.1" fill="#b3bdc0"/><circle cx="454.2" cy="229.7" r="2.1" fill="#eac3c3"/><circle cx="517.7" cy="155.1" r="2.1" fill="#dce0e1"/><circle cx="519.1" cy="128" r="2.1" fill="#f3ecec"/><circle cx="528.6" cy="150.1" r="2.1" fill="#adb8bb"/><circle cx="483.4" cy="137" r="2.1" fill="#f4f1f1"/><circle cx="545.8" cy="157.5" r="2.1" fill="#a3b0b3"/><circle cx="496.4" cy="96.6" r="2.1" fill="#f5f4f4"/><circle cx="528.1" cy="140.5" r="2.1" fill="#f1e4e4"/><circle cx="517.2" cy="108.3" r="2.1" fill="#b2bcbf"/><circle cx="530.8" cy="90.8" r="2.1" fill="#f4f1f1"/><circle cx="526.2" cy="168.6" r="2.1" fill="#abb7b9"/><circle cx="459.6" cy="110.2" r="2.1" fill="#e4a6a6"/><circle cx="457.9" cy="123.3" r="2.1" fill="#eed5d5"/><circle cx="477.1" cy="195.5" r="2.1" fill="#efdcdc"/><circle cx="523" cy="160.5" r="2.1" fill="#aab6b9"/><circle cx="522.7" cy="82.6" r="2.1" fill="#efd9d9"/><circle cx="507.3" cy="73.1" r="2.1" fill="#d8dcdd"/><circle cx="525" cy="109.7" r="2.1" fill="#c2cacb"/><circle cx="451.8" cy="72.3" r="2.1" fill="#e6afaf"/><circle cx="533.7" cy="121.8" r="2.1" fill="#b2bcbf"/><circle cx="435.2" cy="181.8" r="2.1" fill="#eccaca"/><circle cx="537.5" cy="185.6" r="2.1" fill="#bfc7c9"/><circle cx="517.7" cy="133.4" r="2.1" fill="#b9c2c4"/><circle cx="442.9" cy="121.3" r="2.1" fill="#e3a1a1"/><circle cx="566.2" cy="96.9" r="2.1" fill="#f3eaea"/><circle cx="583.5" cy="84" r="2.1" fill="#93a3a6"/><circle cx="512.4" cy="130.9" r="2.1" fill="#eed5d5"/><circle cx="485.7" cy="98.7" r="2.1" fill="#edd1d1"/><circle cx="510.3" cy="118.5" r="2.1" fill="#cdd3d5"/><circle cx="513.1" cy="134.2" r="2.1" fill="#f2f3f3"/><circle cx="505.4" cy="120.9" r="2.1" fill="#eac2c2"/><circle cx="545.2" cy="103.2" r="2.1" fill="#b2bdbf"/><circle cx="482.4" cy="155.7" r="2.1" fill="#e0e3e4"/><circle cx="511" cy="106.9" r="2.1" fill="#b5bfc1"/><circle cx="545.1" cy="133" r="2.1" fill="#edd1d1"/><circle cx="587.1" cy="210.4" r="2.1" fill="#dde1e2"/><circle cx="496" cy="175.8" r="2.1" fill="#c7ced0"/><circle cx="514.2" cy="135.4" r="2.1" fill="#d4d9da"/><circle cx="526" cy="182.5" r="2.1" fill="#edefef"/><circle cx="449.9" cy="119.2" r="2.1" fill="#efd9d9"/><circle cx="475.5" cy="116.4" r="2.1" fill="#eac2c2"/><circle cx="502.8" cy="149.6" r="2.1" fill="#e2e5e5"/><circle cx="546.8" cy="28.4" r="2.1" fill="#f4f0f0"/><circle cx="453.3" cy="130.3" r="2.1" fill="#ebc7c7"/><circle cx="492.9" cy="163.6" r="2.1" fill="#f2f3f3"/><circle cx="517.4" cy="145.6" r="2.1" fill="#c2cacc"/><circle cx="499.9" cy="80.4" r="2.1" fill="#eff0f0"/><circle cx="481" cy="98.4" r="2.1" fill="#eed4d4"/><circle cx="501.7" cy="91.4" r="2.1" fill="#a5b2b4"/><circle cx="493.8" cy="59.9" r="2.1" fill="#f3ebeb"/><circle cx="519.5" cy="147.6" r="2.1" fill="#f1e1e1"/><circle cx="518.8" cy="147.7" r="2.1" fill="#f3eeee"/><circle cx="520.7" cy="120.4" r="2.1" fill="#e8eaeb"/><circle cx="463.3" cy="91.9" r="2.1" fill="#f1e4e4"/><circle cx="517.2" cy="169.7" r="2.1" fill="#b2bcbf"/><circle cx="548.9" cy="155.3" r="2.1" fill="#a9b5b8"/><circle cx="508.7" cy="94.7" r="2.1" fill="#d1d7d8"/><circle cx="503" cy="127.2" r="2.1" fill="#b9c3c5"/><circle cx="504.9" cy="123.6" r="2.1" fill="#e5e7e8"/><circle cx="574" cy="121.6" r="2.1" fill="#adb8bb"/><circle cx="480.8" cy="209.4" r="2.1" fill="#eff0f0"/><circle cx="547.1" cy="167.6" r="2.1" fill="#f4efef"/><circle cx="477.7" cy="114.1" r="2.1" fill="#f2e5e5"/><circle cx="440.5" cy="152.3" r="2.1" fill="#e4a9a9"/><circle cx="452.4" cy="142.8" r="2.1" fill="#dbdfe0"/><circle cx="562.4" cy="181.1" r="2.1" fill="#dce0e0"/><circle cx="573.2" cy="71.3" r="2.1" fill="#a2afb2"/><circle cx="557.5" cy="163.8" r="2.1" fill="#f2e6e6"/><circle cx="505.6" cy="168.2" r="2.1" fill="#a9b5b8"/><circle cx="509.6" cy="178.5" r="2.1" fill="#c2cacc"/><circle cx="486.6" cy="166.6" r="2.1" fill="#efd8d8"/><circle cx="552.7" cy="170.4" r="2.1" fill="#eed3d3"/><circle cx="488.9" cy="113.3" r="2.1" fill="#bac3c5"/><circle cx="501.6" cy="94.8" r="2.1" fill="#dbdfe0"/><circle cx="442.5" cy="132.2" r="2.1" fill="#f0dfdf"/><circle cx="510.3" cy="91.6" r="2.1" fill="#edd0d0"/><circle cx="512.7" cy="97.1" r="2.1" fill="#e9c0c0"/><circle cx="444.9" cy="118.9" r="2.1" fill="#e8bbbb"/><circle cx="526.2" cy="177.2" r="2.1" fill="#f4efef"/><circle cx="496.3" cy="176.6" r="2.1" fill="#d3d8d9"/><circle cx="493.1" cy="134.6" r="2.1" fill="#c3cbcd"/><circle cx="518.7" cy="107.4" r="2.1" fill="#f1f1f2"/><circle cx="476.7" cy="98.2" r="2.1" fill="#f1f2f2"/><circle cx="495.3" cy="171.6" r="2.1" fill="#f1e2e2"/><circle cx="512.8" cy="127.1" r="2.1" fill="#d6dbdc"/><circle cx="498.6" cy="81.3" r="2.1" fill="#edd2d2"/><circle cx="496.1" cy="169.1" r="2.1" fill="#e5e7e8"/><circle cx="525" cy="129.1" r="2.1" fill="#dadedf"/><circle cx="567.9" cy="137.8" r="2.1" fill="#e9ebec"/><circle cx="509.1" cy="84.6" r="2.1" fill="#e8eaeb"/><circle cx="463.7" cy="98.2" r="2.1" fill="#e4a9a9"/><circle cx="509.2" cy="207.4" r="2.1" fill="#cbd1d3"/><circle cx="528.8" cy="53.8" r="2.1" fill="#b5bfc1"/><circle cx="507.5" cy="126.9" r="2.1" fill="#f2e7e7"/><circle cx="454.8" cy="121.4" r="2.1" fill="#e9bfbf"/><circle cx="491" cy="146.6" r="2.1" fill="#dadedf"/></g>
<rect x="382.9" y="16.4" width="236.7" height="243" fill="none" stroke="#4d4d4d" stroke-width="0.9"/>
<line x1="391.8" y1="259.4" x2="391.8" y2="262.1" stroke="#333" stroke-width="0.9"/>
<text x="391.8" y="272" font-size="10.4" fill="#3d3d3d" text-anchor="middle">−10</text>
<line x1="446.1" y1="259.4" x2="446.1" y2="262.1" stroke="#333" stroke-width="0.9"/>
<text x="446.1" y="272" font-size="10.4" fill="#3d3d3d" text-anchor="middle">−5</text>
<line x1="500.3" y1="259.4" x2="500.3" y2="262.1" stroke="#333" stroke-width="0.9"/>
<text x="500.3" y="272" font-size="10.4" fill="#3d3d3d" text-anchor="middle">0</text>
<line x1="554.5" y1="259.4" x2="554.5" y2="262.1" stroke="#333" stroke-width="0.9"/>
<text x="554.5" y="272" font-size="10.4" fill="#3d3d3d" text-anchor="middle">5</text>
<line x1="608.8" y1="259.4" x2="608.8" y2="262.1" stroke="#333" stroke-width="0.9"/>
<text x="608.8" y="272" font-size="10.4" fill="#3d3d3d" text-anchor="middle">10</text>
<line x1="380.2" y1="246.4" x2="382.9" y2="246.4" stroke="#333" stroke-width="0.9"/>
<text x="378.3" y="250.3" font-size="10.4" fill="#3d3d3d" text-anchor="end">−6</text>
<line x1="380.2" y1="191" x2="382.9" y2="191" stroke="#333" stroke-width="0.9"/>
<text x="378.3" y="194.9" font-size="10.4" fill="#3d3d3d" text-anchor="end">−3</text>
<line x1="380.2" y1="135.6" x2="382.9" y2="135.6" stroke="#333" stroke-width="0.9"/>
<text x="378.3" y="139.5" font-size="10.4" fill="#3d3d3d" text-anchor="end">0</text>
<line x1="380.2" y1="80.2" x2="382.9" y2="80.2" stroke="#333" stroke-width="0.9"/>
<text x="378.3" y="84.1" font-size="10.4" fill="#3d3d3d" text-anchor="end">3</text>
<line x1="380.2" y1="24.8" x2="382.9" y2="24.8" stroke="#333" stroke-width="0.9"/>
<text x="378.3" y="28.7" font-size="10.4" fill="#3d3d3d" text-anchor="end">6</text>
<text x="501.2" y="284" font-size="10.7" fill="#000" text-anchor="middle">PC1 (39.78%)</text>
<text x="363.2" y="137.9" font-size="10.7" fill="#000" text-anchor="middle" transform="rotate(-90 363.2 137.9)">PC2 (12.42%)</text>
<text x="347.8" y="15" font-size="12.5" fill="#000" font-weight="bold">b</text>
<text x="290.8" y="109.3" font-size="9.5" fill="#000">Cluster ID</text>
<circle cx="298" cy="122.5" r="2.1" fill="#2e4a52"/>
<text x="310.4" y="125.4" font-size="8" fill="#333">4</text>
<circle cx="298" cy="137.3" r="2.1" fill="#e5923f"/>
<text x="310.4" y="140.2" font-size="8" fill="#333">5</text>
<circle cx="298" cy="152.2" r="2.1" fill="#12a1d7"/>
<text x="310.4" y="155.1" font-size="8" fill="#333">6</text>
<circle cx="298" cy="167.1" r="2.1" fill="#b23d3f"/>
<text x="310.4" y="170" font-size="8" fill="#333">7</text>
<text x="633.8" y="101.9" font-size="9.5" fill="#000">Pred. Age</text>
<rect x="633.8" y="107" width="15.1" height="75" fill="url(#cb)"/>
<line x1="633.8" y1="120.9" x2="636.8" y2="120.9" stroke="#fff" stroke-width="0.6"/>
<line x1="645.9" y1="120.9" x2="648.9" y2="120.9" stroke="#fff" stroke-width="0.6"/>
<text x="653.3" y="123.7" font-size="7.6" fill="#333">80</text>
<line x1="633.8" y1="143.7" x2="636.8" y2="143.7" stroke="#fff" stroke-width="0.6"/>
<line x1="645.9" y1="143.7" x2="648.9" y2="143.7" stroke="#fff" stroke-width="0.6"/>
<text x="653.3" y="146.5" font-size="7.6" fill="#333">70</text>
<line x1="633.8" y1="165.7" x2="636.8" y2="165.7" stroke="#fff" stroke-width="0.6"/>
<line x1="645.9" y1="165.7" x2="648.9" y2="165.7" stroke="#fff" stroke-width="0.6"/>
<text x="653.3" y="168.5" font-size="7.6" fill="#333">60</text>
<line x1="86.3" y1="314" x2="86.3" y2="359.4" stroke="#000" stroke-width="1.0"/>
<line x1="86.3" y1="395.5" x2="86.3" y2="443.7" stroke="#000" stroke-width="1.0"/>
<polygon points="56.1,359.4 56.1,376.4 68.1,378.6 56.1,380.6 56.1,395.5 115.9,395.5 115.9,380.6 103.9,378.6 115.9,376.4 115.9,359.4" fill="#264c53" stroke="#000" stroke-width="1.0" stroke-linejoin="round"/>
<line x1="68.1" y1="378.6" x2="103.9" y2="378.6" stroke="#000" stroke-width="1.7"/>
<polyline transform="scale(.1)" points="996 3760 857 3519 953 4007 784 4221 715 3506 839 4012 993 3390 916 4313 987 3861 705 3999 931 3647 766 4357 850 3574 699 4312 879 3290 751 3825 893 3879 746 3604 956 4060 1009 3840 767 4394 863 3829 849 3563 1027 3703 963 4396 786 3592 952 3217 890 3536 840 4106 928 3918 819 3515 998 3698 868 4317 969 3661 916 4306 840 3861 873 3287 916 3307 814 3671 752 3956 873 3709 774 3476 835 3672 1007 3722 773 3328 1019 3412 806 3561 712 4002 970 3741 1023 3906 765 3513 966 3554 1024 3517 835 4197 853 3666 832 3755 998 3146 702 3620 938 3406 911 3429 908 3715 966 3827 864 3888 844 3785 961 3541 762 3974 1025 4133 819 4140 768 3766 1008 4321 812 3740 796 3826 858 3603 766 4181 814 3155 1024 3603 871 3964 764 3486 826 4174 1016 3602 759 3445 954 3484 933 3470 744 3604 831 4179 867 3651 852 4115 796 4329 723 3351 897 3331 889 4094 855 3307 1021 3939 803 4420 857 3695 801 3576 786 3456 980 3558 790 3715 982 3579 732 4049 872 3973 874 3860 873 4089 1003 3489 775 4205 761 4024 914 3525 964 3777 801 3721 956 3467 837 3584 953 3760 944 3998 1021 3836 768 3472 1027 3736 752 3540 824 3778 700 4057 900 3861 733 3868 953 3874 895 3846 900 3664 835 3343 928 3929 1030 3209 863 3545 1028 3556 788 3998 757 3760 970 4022 696 3843 863 3540 836 4238 986 3558 873 4419 887 3955 745 4414 1015 3552 751 3753 809 3546 730 3949 794 3745 828 4182 784 3792 756 4243 725 3566 995 3879 809 3709 813 4109 735 3501 710 3507 748 3615 995 4018 883 3704 802 4068 972 4024 877 3662 913 3730 954 4018 696 3553 702 3906 881 3750 826 3789 856 4364 998 3921 701 4157 804 3800 933 3410 890 3518 991 4337 814 3723 964 4046 715 3928 740 3936 847 3602 984 4026 946 3809 971 3779 1025 3768 701 3685 744 3305 925 3897 827 4317 892 3836 931 3885 716 3882 954 3676 874 3575 1010 3967 871 3400 951 3297 957 3636 968 3466 753 3815 875 4195 730 3580 833 3671 887 3224 932 3623 829 3420 1028 3707 1008 4034 871 3506 842 3406 980 3677 704 3974 976 3578 783 3971 1003 3709 1021 3644 829 3608 852 3443 787 4201 782 3825 856 3983 817 3905 942 4224 781 3977 847 3587 834 4395 769 4192 966 3956 779 3372 813 3941 1018 3877 743 4072 918 3834 806 3787 983 3715 767 3827 909 4270 962 3766 822 4299 754 4010 780 3755 787 3568 928 3438 963 3294 803 3897 965 3653 750 4085 959 3806 787 3873 915 3625 960 4038 1013 3621 784 3675 746 3649 840 3908 951 3738 821 3816 905 3565 712 3879 848 3730 941 3388 726 3978 725 4112 1022 3873 867 3472 986 3973 943 3747 943 4145 797 3646 815 3932 780 3930 866 3639 999 3392 1028 4081 724 3944 878 3998 901 3701 731 3917 770 4015 770 3611 735 4139 1009 3384 873 3736 789 4173 862 3894 778 3346 895 4387 995 3885 951 3872 942 3642 849 3248 807 3840 745 3790 720 4010 745 3903 1026 3599 1015 3576 988 3969 797 3507 914 3826 843 3823 893 3307 953 4008 1027 3645 878 3558 911 4098 716 4162 779 3223 708 4071 985 3296 728 4262 1031 3729 962 3938 799 3752 988 3670 965 3846 788 3900 910 4166 889 3832 993 3632 900 3659 772 3751 999 3700 752 3739 851 3757 842 3790 974 3713 724 3793 981 3890 801 3863 898 3573 753 3981 696 4212 924 3498 755 4249 824 3720 988 3976 726 4203 812 3787 777 3271 782 4128 751 3394 873 4085 959 3747 706 3868 756 3704 905 4075 758 3970 703 4019 935 3325 905 3703 801 4178 1010 3722 714 3675 840 3922 782 3636 756 3789 762 3812 893 3970 989 4047 816 3767 766 3465 739 3680 850 3490 746 3666 924 3755 975 3622 802 3737 824 3779 807 3744 705 3682 1006 4023 1019 3670 1027 3737 847 3680 974 4075 828 3848 900 4262 873 3803 939 3760 901 3418 902 4173 825 3357 870 4044 724 3461 1028 3273 730 3857 881 3447 989 3653 745 3931 835 3471 805 3720 1008 4036 772 4123 842 3444 902 3943 726 3834 798 3759 742 4018 1006 3632 1011 3951 797 3887 719 3649 1003 3801 767 4083 713 4160 886 3738 980 3872 703 3363 860 3836 728 3818 733 4161 969 3745 749 3650 728 4092 907 3990 909 3568 722 4193 948 3284 703 3356 805 3870 707 3680 929 3439 901 4175 898 3512 1003 3669 892 4020 903 4117 780 3211 702 3759 758 3373 829 3378 970 3897 805 3758 988 3920 845 3853 925 3892 825 3906 786 3852 797 3731 940 3566 777 3651 836 3860 721 3352 990 3425 838 3940 703 3405 772 3957 830 3388 862 4171 770 4062 910 3912 709 4101 696 3803 711 3571 755 3737 1020 3987 717 3892 1009 3451 829 3741 963 3766 815 3706 695 3843 796 4121 989 3675 827 3573 863 3879 904 3583 730 3688 745 3815 817 4020 935 3621 959 3333 739 3558 879 4194 748 3794 751 3653 705 4072 1003 4030 712 3302 895 3626 800 3798 761 3807 760 3566 887 4280 789 3531 932 3742 709 3658 910 3783 1025 3794 885 3479 876 3810 987 3642 869 3683 760 3292 947 3465 784 3661 718 3821 869 3875 1020 3695 893 3713 1020 3708 965 3652 955 3772 789 4021 718 3898 871 4022 867 3949 868 3664 724 3449 796 3923 892 4224 754 3449 967 3894 811 3664 979 3529 925 4013 730 3722 880 4262 949 3649 720 4036 852 3588 1004 4262 748 3964 822 3440 942 3995 979 4252 861 3562 750 3374 1000 3343 823 3611 965 3913 1026 3241 922 3535 819 3440 857 3553 776 3488 1005 4053 894 3641 988 3712 1009 3757 766 3945 1015 4089 999 3622 947 3809 915 3628 803 3662 1015 3569 935 3861 861 3209 887 3730 1011 3739 867 3463 1006 3338 942 3461 1024 4241 811 3840 906 4268 958 3386 916 3718 901 3951 916 3587 995 4118 743 3760 713 3457 731 3685 837 3596 866 3790 928 3918 776 3916 779 3806 871 4312 837 3608 844 3598 737 3689 1001 3530 928 3745 983 3232 714 3709 823 3982 968 4022 722 3802 948 3974 868 3715 733 3556 883 3801 922 3267 865 3601 774 4302 754 3915 927 3988 1022 3377 707 3596" fill="none" stroke="none" marker-start="url(#m0)" marker-mid="url(#m0)" marker-end="url(#m0)"/>
<line x1="170.6" y1="315.9" x2="170.6" y2="357.3" stroke="#000" stroke-width="1.0"/>
<line x1="170.6" y1="390.1" x2="170.6" y2="437.8" stroke="#000" stroke-width="1.0"/>
<polygon points="140.9,357.3 140.9,373.5 152.8,374.6 140.9,375.7 140.9,390.1 200.6,390.1 200.6,375.7 188.7,374.6 200.6,373.5 200.6,357.3" fill="#f4923a" stroke="#000" stroke-width="1.0" stroke-linejoin="round"/>
<line x1="152.8" y1="374.6" x2="188.7" y2="374.6" stroke="#000" stroke-width="1.7"/>
<polyline transform="scale(.1)" points="1824 3983 1856 3803 1585 3616 1648 3561 1800 4010 1671 3826 1710 3887 1597 3488 1700 3500 1708 4132 1626 3911 1755 3423 1814 3419 1588 4196 1701 3560 1825 4009 1714 3233 1780 3409 1628 3745 1728 3815 1798 3529 1668 3648 1863 3927 1717 3919 1569 3482 1742 4047 1554 3401 1699 3437 1797 3827 1871 3841 1818 3936 1595 3355 1593 3680 1866 3911 1719 4200 1801 4039 1657 3792 1837 4256 1824 3615 1550 3912 1850 3713 1853 3704 1630 3798 1740 3678 1857 3854 1654 3842 1550 3622 1602 3711 1836 3695 1669 3275 1702 4056 1675 3625 1725 3630 1788 3679 1873 3975 1817 3688 1543 3904 1733 3623 1773 3742 1622 3684 1856 3810 1567 3330 1864 3878 1802 4040 1661 3847 1615 3576 1681 3886 1706 3680 1749 4289 1755 3609 1626 4058 1795 4364 1723 4345 1862 3895 1681 3670 1739 3661 1718 3632 1822 3917 1784 3592 1807 3878 1648 4082 1822 3958 1640 3594 1792 3555 1637 3754 1762 4092 1715 3693 1687 3673 1572 3701 1729 3651 1586 3452 1865 3688 1757 4016 1638 3554 1768 4093 1803 3767 1827 3289 1610 3906 1845 3601 1869 3661 1850 3721 1558 3504 1635 3870 1667 3471 1791 3559 1823 3874 1793 4084 1664 3793 1586 4010 1580 3768 1733 3931 1616 3573 1850 3818 1859 3494 1864 3815 1651 3673 1742 3569 1537 3627 1874 4050 1565 3570 1545 3682 1768 3968 1588 3439 1847 4343 1568 3851 1545 3700 1807 3569 1646 4087 1857 3713 1794 3356 1850 3644 1858 3672 1578 3608 1758 4026 1583 3926 1603 3944 1825 3799 1548 3597 1580 3632 1820 3804 1581 3603 1615 4081 1569 3875 1611 3630 1842 3587 1587 3937 1873 3618 1589 4418 1548 3199 1580 3641 1622 3666 1620 3373 1694 3777 1752 3646 1560 3536 1554 3690 1554 3567 1540 4088 1830 3508 1608 3462 1554 4252 1668 3952 1741 3749 1864 4412 1748 4042 1592 3766 1818 3680 1833 3966 1610 3585 1681 3638 1794 3945 1664 3813 1819 3495 1642 3759 1767 3616 1777 3771 1602 3720 1799 3423 1604 3833 1828 3546 1717 3956 1561 3290 1656 3750 1737 3604 1723 4091 1674 3660 1846 3625 1600 3895 1696 3672 1617 4032 1647 3674 1726 3217 1691 3820 1689 3944 1774 3256 1575 3484 1843 3880 1712 3960 1667 4107 1599 3845 1697 3476 1697 3420 1683 4409 1778 3658 1656 3939 1644 3674 1723 3214 1613 3783 1651 4077 1806 3595 1703 3591 1774 3939 1667 3832 1568 3705 1577 3719 1670 3655 1827 4034 1657 3409 1698 3618 1609 3656 1820 3563 1687 3363 1760 3754 1806 3757 1855 3948 1781 3764 1711 3568 1609 3766 1716 4172 1617 3406 1858 3588 1707 3560 1856 3571 1858 3707 1584 3925 1560 3931 1774 3743 1804 3591 1597 3465 1642 3461 1869 3674 1544 3693 1710 3604 1539 3712 1555 4015 1806 3947 1798 3760 1688 4287 1546 3354 1681 4244 1726 3690 1646 3835 1790 3508 1591 3658 1690 3471 1819 3732 1811 3727 1849 3569 1625 3919 1611 4181 1841 4172 1607 3476 1825 3903 1697 3660 1572 4026 1773 3387 1799 3807 1826 3350 1731 4191 1618 3873 1751 3780 1744 3884 1718 3227 1694 3795 1764 3697 1705 3637 1670 4431 1860 3428 1862 3465 1604 3441 1645 3738 1663 3767 1564 3860 1714 3731 1570 4252 1576 3656 1653 4036 1660 3553 1548 3657 1601 3831 1651 3695 1798 3796 1559 3836 1720 3365 1707 3694 1819 3787 1683 3790 1626 3667 1723 3903 1790 4243 1727 3660 1703 3330 1709 3748 1814 4210 1691 4179 1563 3669 1829 3616 1845 3337 1841 3995 1871 3763 1830 3673 1585 4415 1674 3524 1599 3445 1588 3553 1550 4256 1754 3701 1706 3444 1726 3570 1787 3666 1689 3434 1822 3878 1749 3478 1777 3764 1764 3490 1825 3983 1864 3170 1778 3767 1545 3719 1579 4066 1808 3856 1643 3762 1831 3490 1628 3972 1701 3898 1550 3920 1578 4049 1667 3654 1716 3685 1628 3827 1727 3639 1676 3496 1578 3802 1825 3404 1616 3832 1873 3629 1562 3450 1543 3804 1866 3616 1758 3947 1593 4365 1613 3530 1741 3721 1601 3663 1761 3651 1744 3371 1862 3750 1689 4019 1778 3767 1855 3635 1770 3561 1603 3563 1745 4084 1802 4074 1629 3728 1738 3907 1699 4316 1568 3332 1700 3794 1633 3949 1753 3905 1625 3554 1643 3962 1829 3748 1541 4119 1840 3434 1549 3563 1545 3781 1669 3870 1663 3465 1624 3550 1583 3741 1611 4274 1657 3976 1811 4050 1868 3339 1860 3521 1777 3823 1838 3571 1859 4165 1637 3756 1779 3728 1543 3724 1741 3750 1752 3772 1781 3718 1621 3907 1864 4183 1669 3806 1672 3539 1828 3953 1689 3521 1819 4231 1855 3343 1667 3885 1786 3735 1743 3306 1850 3889 1685 3752 1769 3929 1575 4060 1841 3709 1672 3828 1728 3756 1746 3750 1832 3921 1581 3834 1762 3361 1802 3724 1599 3639 1724 3853 1714 3498 1584 3913 1721 3744 1847 3782 1785 3984 1575 3200 1584 3462 1811 3828 1760 3523 1620 3982 1874 3967 1608 3887 1595 3962 1677 3805 1863 3775 1656 4286 1815 3723 1775 3733 1748 3801 1738 4344 1732 3528 1605 3541 1857 3698 1569 3441 1642 3588 1592 3807 1541 4147 1795 4098 1718 3260 1867 3331 1836 3268 1705 3665 1556 3414 1592 3761 1628 3440 1623 4177 1818 3717 1683 3785 1551 4271 1728 3378 1847 3177 1599 3992 1687 3905 1874 3720 1638 3323 1751 3979 1553 4223 1789 4204 1770 3786 1657 3448 1857 3903 1736 4119 1639 4020 1794 3614 1790 3812 1606 3520 1627 3667 1775 4034 1603 3840 1558 3649 1577 3438 1769 3850 1686 4048 1600 3446 1601 4005 1770 3613 1806 3344 1798 3783 1598 3937 1619 3502 1678 3990 1715 4132 1571 3560 1791 3536 1683 4037 1852 3442 1556 3634 1597 3486 1805 3589 1563 3829 1620 3696 1705 3949 1655 3403 1844 3421 1825 4281 1549 3801 1763 3712 1696 3933 1651 4067 1728 3862 1642 4149 1728 4211 1541 4167 1702 3866 1725 3285 1612 3491 1808 3562 1641 3749 1678 3377 1631 3792 1555 4140 1845 3690 1738 4097 1693 3738 1608 4036 1848 3617 1665 4279 1858 4061 1670 3713 1751 3405 1693 3848 1548 3731 1835 3753 1558 3848 1713 4215 1586 3944 1843 4045 1805 3807 1823 3595 1538 3956 1846 3669 1674 3829 1574 3373 1818 3713 1819 3622 1539 3920 1553 3840 1686 3792 1834 3322 1662 3547 1801 4173 1789 4009 1745 3897 1581 4063 1750 3637 1619 3795 1602 3357 1617 3480 1823 3974 1608 3739 1795 3324 1715 3800 1642 3709 1779 3385 1549 3405 1703 3626 1836 3357 1672 3747 1595 3606 1837 3887 1763 3931 1821 3710 1860 3575 1654 3535 1825 4079 1828 4058 1587 3854 1789 3650 1746 3921 1629 4005 1661 3601 1789 3900 1569 3670 1634 3840 1552 3688 1868 3782 1579 3838 1810 3661 1808 3886 1643 3658 1571 3327 1747 3954 1577 3736 1795 4135 1543 3775 1545 3455 1748 3892 1645 3815 1538 3759 1583 3452 1807 3744 1814 3645 1687 3447 1723 3285 1638 3488 1599 3796 1595 3536 1662 3880 1681 3299 1660 4162 1746 3921 1676 3837 1816 3182 1709 3732 1586 3928 1562 3674 1767 3770 1701 4193 1582 3948 1669 3490 1788 3993 1703 3444 1567 3723 1591 4372 1598 3744 1676 3529 1773 3920 1833 3849 1671 4043 1619 3442 1711 3982 1569 3445 1731 3853 1859 3518 1601 3721 1560 3607 1856 3624 1547 3666 1678 4010 1728 3760 1643 4004 1701 4199 1656 3853 1623 3763 1577 3886 1605 4417 1666 3950 1805 3505 1728 3704 1862 3827 1637 4086 1647 3956 1825 3766 1598 3754 1860 3863 1558 3577 1833 4048 1673 3591 1538 3804 1649 3989 1692 3449 1824 3659 1572 3753 1608 3644 1546 3203 1739 3590 1644 4171 1839 4007 1789 4146 1584 3350 1619 3598 1581 3756 1644 3778 1674 3828 1563 3547 1821 3542 1713 3583 1844 3641 1757 3553 1858 4102 1723 3553 1616 3963 1605 3976 1660 3386 1859 3926 1710 4003 1571 3404 1801 3673 1786 3887 1782 3828 1584 4091 1784 3549 1797 3505 1564 3649 1751 3734 1715 3637 1794 3804 1830 3377 1674 3694 1755 3626 1587 3423 1574 3474 1833 3626 1746 3657 1586 3657 1796 4047 1647 4011 1754 3696 1604 3808 1661 3909 1849 3782 1766 3977 1606 3187 1805 3508 1721 3499 1869 3957 1581 3405 1824 3860 1632 3711 1578 3889 1643 3635 1845 3527 1712 3646 1596 3532 1622 3622 1552 3859 1755 3604 1576 3497 1762 4226" fill="none" stroke="none" marker-start="url(#m1)" marker-mid="url(#m1)" marker-end="url(#m1)"/>
<line x1="35.5" y1="300.5" x2="35.5" y2="452.4" stroke="#222" stroke-width="1.07"/>
<line x1="35" y1="451.9" x2="221.3" y2="451.9" stroke="#222" stroke-width="1.07"/>
<line x1="32.8" y1="425.3" x2="35.5" y2="425.3" stroke="#333" stroke-width="1.0"/>
<text x="30.9" y="429.1" font-size="10.3" fill="#111" text-anchor="end">60</text>
<line x1="32.8" y1="389.8" x2="35.5" y2="389.8" stroke="#333" stroke-width="1.0"/>
<text x="30.9" y="393.6" font-size="10.3" fill="#111" text-anchor="end">70</text>
<line x1="32.8" y1="354.3" x2="35.5" y2="354.3" stroke="#333" stroke-width="1.0"/>
<text x="30.9" y="358.1" font-size="10.3" fill="#111" text-anchor="end">80</text>
<line x1="32.8" y1="318.7" x2="35.5" y2="318.7" stroke="#333" stroke-width="1.0"/>
<text x="30.9" y="322.5" font-size="10.3" fill="#111" text-anchor="end">90</text>
<line x1="86.3" y1="451.9" x2="86.3" y2="454.6" stroke="#333" stroke-width="1.0"/>
<text x="86.3" y="464.3" font-size="10.3" fill="#111" text-anchor="middle">2</text>
<line x1="170.6" y1="451.9" x2="170.6" y2="454.6" stroke="#333" stroke-width="1.0"/>
<text x="170.6" y="464.3" font-size="10.3" fill="#111" text-anchor="middle">3</text>
<text x="128.1" y="477.3" font-size="10.6" fill="#000" text-anchor="middle">Cluster</text>
<text x="14" y="376.6" font-size="10.6" fill="#000" text-anchor="middle" transform="rotate(-90 14 376.6)">Chronologcial age</text>
<polyline points="86.3,311.1 86.3,307.9 170.6,307.9 170.6,311.1" fill="none" stroke="#555" stroke-width="0.8"/>
<text x="128.4" y="306.8" font-size="10.35" fill="#111" text-anchor="middle">0.012</text>
<text x="5.6" y="305.2" font-size="12.5" fill="#000" font-weight="bold">c</text>
<line x1="314.6" y1="346.9" x2="314.6" y2="377.9" stroke="#000" stroke-width="1.0"/>
<line x1="314.6" y1="401.2" x2="314.6" y2="429.3" stroke="#000" stroke-width="1.0"/>
<polygon points="284.1,377.9 284.1,388.3 296.2,389.5 284.1,390.8 284.1,401.2 344.4,401.2 344.4,390.8 332.3,389.5 344.4,388.3 344.4,377.9" fill="#264c53" stroke="#000" stroke-width="1.0" stroke-linejoin="round"/>
<line x1="296.2" y1="389.5" x2="332.3" y2="389.5" stroke="#000" stroke-width="1.7"/>
<polyline transform="scale(.1)" points="3224 4149 3144 3259 3294 3904 3197 3882 3143 4034 2980 3778 2989 4147 3305 3960 2991 3517 3246 4132 3203 3766 3259 3988 3242 3937 3125 4051 3012 3802 3071 4134 3136 3968 3087 3492 3261 3837 3080 4010 2995 3877 3244 4190 2993 3760 3208 3736 3000 3842 3034 4131 3004 3755 3103 3719 3293 3974 3162 3696 3113 3844 3225 3956 3252 3834 3276 3839 3007 4039 3169 4066 3235 4116 2977 4193 3162 3665 3306 3868 3099 4097 3247 3949 3215 4114 3256 3528 2979 4013 3039 3857 3292 3720 3293 3737 3309 3887 3166 4035 3086 3931 2980 3756 3241 3916 3302 3840 3217 3678 3097 3644 3167 3691 3071 3872 3244 3935 3304 3848 2982 3799 3276 3814 3216 3918 3101 3988 3301 3764 3139 3869 3207 3611 2996 3972 3299 3966 3061 4280 3228 3647 3143 4064 3306 3860 3016 3752 3087 4100 3130 3771 3096 4052 3047 3496 2977 3865 3249 3884 3081 3637 3194 4036 2977 3651 3165 4038 3313 4009 3054 3639 3067 3878 3195 4070 3149 4009 3047 3562 3160 3806 3194 3612 3112 3838 3164 4144 3036 3783 3113 3779 3215 4050 3136 3967 3120 3977 3029 3735 3031 4232 3215 3707 3253 4294 3054 3866 3084 3700 3312 4166 3128 4226 3111 3621 3278 3790 3025 3535 3015 3977 3041 3721 3200 3492 3197 3714 3067 4053 2997 3980 3237 4082 3128 3834 3152 4036 3042 3989 3162 3932 3291 3930 3151 3920 3294 3847 3296 3460 3153 4079 2992 3610 3081 3796 3223 4008 3313 3850 3234 3588 3222 3948 3029 3812 3001 3774 3228 4025 3076 3776 3258 3577 3160 3750 3288 3787 3015 3695 3146 3841 3075 3975 3041 4202 3219 4196 2983 3851 3176 3543 3067 3966 3237 4059 3132 3835 3253 3992 3106 3965 3077 3820 2980 3898 3165 3911 3172 3827 3152 3757 3045 3995 3293 4015 3120 3692 3269 3738 3307 4234 3018 3621 3240 3884 3288 3719 3235 3867 3003 3663 3258 4159 3057 4030 3190 3850 2979 4210 3210 3718 3259 3917 2991 3730 3094 3811 3312 3513 3158 4140 3136 3866 3009 3596 3210 4177 3271 3808 3220 3905 3116 3651 3266 3884 3037 3960 3095 3881 3299 4295 3085 3633 3310 3949 3187 3945 3048 3964 3194 3864 3049 4081 3273 4007 3029 4032 3012 3789 3067 4118 3024 3755 3302 4018 3286 3798 3105 3998 2990 3853 3089 3820 3178 3510 3182 4057 3310 3525 3021 3843 3189 3750 3069 3779 3285 3375 3297 3663 3243 4046 3046 4068 3013 3995 3281 3945 3023 3939 3127 3923 3300 4104 3216 3870 3161 3916 3214 3920 3073 3997 3087 4218 3178 3419 3270 4032 3062 3785 2987 3831 3074 4050 2982 3518 3214 4044 3108 4027 3149 3829 3122 3988 3303 3723 3030 3756 3160 4301 3312 3986 3063 3558 3244 3942 2989 3952 3240 3968 3165 3683 2983 3981 3098 3919 3052 4064 3026 4034 3265 3928 3018 3921 3256 3798 3311 4100 3148 4194 3057 4126 3270 3842 3145 3613 3179 4078 3092 3844 3168 4170 3223 4189 3226 3801 3105 3936 2982 3782 3310 4201 3054 3549 3102 4178 3170 3873 3236 3875 3194 3944 3128 3906 3265 4072 3250 3999 3283 3772 3157 3890 3122 4062 3136 3343 3231 3755 3035 4225 3236 3842 3302 3986 3231 3887 3296 3627 3074 3545 3032 3809 3049 3816 3046 3818 3185 3793 3027 3798 3158 3791 3179 3889 3043 3928 3205 3868 3298 4086 3165 3831 3130 4058 3245 3790 3281 4152 3314 3671 3160 4181 3239 3920 3097 3868 3221 3686 3295 3625 3313 4235 3104 3904 3294 3884 3283 3662 3049 3940 3278 3956 3068 3829 3114 3792 3158 4023 3281 3791 3149 3623 2989 3512 3046 4036 3032 3695 3298 3870 3246 3380 3114 3869 3021 4127 3035 3836 3161 4014 3117 3980 3104 3989 3270 3931 3049 3862 3099 3750 3215 3770 3085 3749 3011 3809 3209 4076 3219 4438 3015 3813 3135 3661 3245 3762 3247 4190 3145 3926 3085 4024 2994 3953 3005 3821 3206 4252 3080 4013 3307 3827 3175 3645 3118 3894 3073 3895 3203 3911 3283 3924 3163 4103 3263 3786 3073 3974 2986 3642 3066 3637 3163 3667 3013 4382 3311 3923 3013 4074 3275 4110 3291 3935 3121 3958 3243 3684 3275 4239 3264 3710 3061 4110 2983 3952 3041 4079 3082 3564 3202 3824 3249 3962 3244 3740 3063 4244 3267 3804 3244 3939 3225 4171 3192 3897 3137 4089 3073 3951 3140 4132 3275 3952 3209 3611 3286 4043 3267 3924 3272 4128 3208 3848 3112 4054 3254 4292 3159 3986 3123 4247 3250 3772 3033 3617 3198 3982 3191 4246 3135 3835 3042 4230 3116 4051 3041 4009 3219 3670 3183 3462 3009 3744 3099 4106 3013 3971 3227 3685 3170 4025 3020 3835 3234 3758 3264 3929 2978 3886 3054 3942 3187 3844 3173 3651 3202 3805 2995 4042 3037 3718 3273 3897 3018 4000 3205 3923 2991 4185 3125 3852 3284 3901 3079 4023 3159 3667 3128 4099 3007 4108 3273 3713 3312 3971 3087 3828 3038 3906 3077 3994 3056 3839 3095 3900 3246 4076 3090 3901 2997 4019 3028 3978 3167 3729 3150 4132 3097 3638 3067 3708 3244 4182 3192 3754 3185 3927 3190 3888 3080 4057 3255 3901 3275 4072 3187 4089 3045 3859 3146 3821 3231 3772 3223 3715 3094 3783 3273 3437 3219 3953 3195 4020 3187 4035 3146 3731 3165 3903 3219 3895 3118 4109 3142 3968 3015 4061 3295 3719 2978 4087 3260 3662 3218 3733 3262 4068 3122 4165 3310 3438 3040 3824 3275 3717 3126 4348 3287 4082 3190 3255 3097 3717 3034 3978 3140 3732 3133 3973 3114 3866 3104 4067 3233 3520 3171 3828 2997 4094 3258 3624 3067 3521 3268 3718 3302 3522 3172 4034 3074 3702 3289 3891 3203 3744 3059 3719 3046 4211 3116 4114 3228 3816 3107 3985 3298 3869 3224 3702 3262 3889 3271 4155 3083 3672 3134 3734 3104 3825 3170 3925 3176 4220 3295 3949 3060 3762 3055 3818 3291 3873 2990 3664 2989 4231 3231 3991 2986 3988 3313 3940 3100 4019 3031 3930 2980 3689 3009 3850 3070 4068 3039 3825 3104 3405 3181 3959 3073 3718 3275 4187 3278 3820 3113 3851 3154 4052 3244 4175 3202 4007 3187 3762 3085 3690 3311 4212 3237 4057 3069 4106 3298 3742 3052 4040 3286 4073 3238 4157 3265 4153 3256 3764 3147 4031 3294 3830 3245 3684 3056 4054 3079 3532 3043 3994 3160 4211 3169 3987 3021 3958 3147 4056 3075 3929 3115 4123 2999 4085 3063 3769 3022 3839 3312 3598 3030 3798 3305 3978 2991 3963 3273 3766 3200 3815 2984 4085 3187 3904 3315 3566 3191 4034 3268 3958 3270 4412 3213 3959 3174 3856 3251 4156 3092 3687 2997 4121 3196 3937 3050 3559 3127 3776 3074 3840 3207 3765 3100 3683 2998 3968 3152 4329 2997 3715 3012 3900 3174 4046 3237 3189 3227 3833 3242 3661 3228 3777 3091 3953 3298 3915 3185 3866 3197 3739 3220 3651 3094 4089" fill="none" stroke="none" marker-start="url(#m0)" marker-mid="url(#m0)" marker-end="url(#m0)"/>
<line x1="399.3" y1="333" x2="399.3" y2="366" stroke="#000" stroke-width="1.0"/>
<line x1="399.3" y1="388.8" x2="399.3" y2="420.6" stroke="#000" stroke-width="1.0"/>
<polygon points="369.3,366 369.3,375.9 381.2,377.1 369.3,378.4 369.3,388.8 428.8,388.8 428.8,378.4 416.9,377.1 428.8,375.9 428.8,366" fill="#f4923a" stroke="#000" stroke-width="1.0" stroke-linejoin="round"/>
<line x1="381.2" y1="377.1" x2="416.9" y2="377.1" stroke="#000" stroke-width="1.7"/>
<polyline transform="scale(.1)" points="4003 3451 4152 3950 3890 3899 4027 3612 3867 3882 3851 3671 4155 3938 3978 3775 4061 3563 4099 3781 3898 3731 4119 3684 4119 3762 4009 3801 4076 3843 3899 3728 4009 3561 4097 3943 3969 3897 4114 3550 4016 3788 4116 3804 4054 3353 3826 3516 4080 3589 3980 4136 3877 3821 3996 3485 3940 3925 3940 3695 3955 4058 4065 3475 3999 3572 4045 3660 3919 3375 3897 3646 3935 3896 4109 3985 3926 3720 4025 3539 4150 3913 3870 3844 3945 3757 4095 3775 3841 3438 4017 3824 4030 3775 4123 3840 4126 3732 4082 3480 4062 3467 3945 4012 4005 3924 3907 3722 4088 3516 3931 3930 4076 3869 3848 3714 3859 3978 3978 3858 4077 3914 4045 3939 3904 3825 3949 3787 3920 3580 4138 3857 3868 3924 3987 3894 3989 3763 3919 3932 4129 3909 3892 3491 4113 3850 3875 3812 3892 3821 3968 4017 4066 3797 4010 3763 4132 3799 3989 3888 4127 3701 4050 3472 3837 4203 3857 3513 3957 3791 3868 3756 4084 4052 4123 3895 3877 3908 4074 3836 4038 3557 3880 3849 4005 3656 4045 3897 3916 3823 4131 4065 3931 4201 4084 3925 4053 3728 4023 3726 3842 3676 4105 3688 4049 3832 4115 3800 4131 3628 4079 3724 4151 3511 4122 3361 3902 3462 3955 3787 3933 3679 4028 3744 4110 3331 4107 3904 4045 3799 4085 3633 4088 3689 4072 3991 4157 3851 3903 3531 3848 3721 3999 3797 3937 3879 3908 3540 4081 3781 3862 3753 3880 3521 3964 3959 4063 3657 4114 3769 3914 3470 3951 3553 4099 3711 4139 3906 4014 3648 4106 3799 3940 3151 4132 3741 4132 3539 4111 3932 3940 3875 4069 3822 3998 3691 3920 3872 3900 3440 4089 3815 4086 4081 4135 3774 4052 4215 4034 3752 3932 3870 4017 3744 4156 3965 4059 3957 4004 3730 4081 3585 3970 3394 3976 3450 3914 3735 4041 3965 4089 4002 4071 3703 3923 3881 4059 3655 4037 3634 4112 3635 3881 3749 4112 3725 3872 3718 3860 3838 4028 3803 3980 3476 3865 3790 4073 3506 3989 3913 3949 3431 4156 3804 4081 3757 3887 3932 4063 3575 4104 3778 3961 3803 3875 3831 4121 3470 4019 3542 4101 3831 3944 3907 3978 3737 4085 3552 4144 3528 4021 3670 4128 3732 3961 3774 4111 3725 4081 3497 3885 3774 4072 3920 3986 3924 4100 3627 4137 3634 4025 3923 4140 3715 4142 3615 4069 4115 4020 4140 4023 3836 3939 3807 4025 4021 4014 3908 4051 3577 3998 3929 3878 4037 3954 3852 4017 3627 4041 3679 4118 4144 3838 3612 3831 4050 4087 3989 4037 3862 4127 4024 4071 4014 4119 3975 4040 3783 4064 3770 4153 3862 3976 3544 3974 3787 3950 3842 3919 3704 3825 3715 4150 3953 4045 3993 4124 3803 4117 3530 3974 3788 3845 3813 3951 4271 4032 3601 3837 3545 4150 3523 4148 3809 4153 3610 4020 3805 3947 3806 4000 3828 3848 3758 3832 3739 3951 4007 3915 3880 3862 3824 3826 3979 3864 3611 3985 3863 3825 3714 3840 3497 4097 3866 4069 3623 4161 3550 3859 3512 4131 4067 4155 3703 4150 3944 4071 3945 4003 3919 3849 4019 3914 3716 4155 3830 3826 3354 4010 3709 3932 3701 3950 3624 4066 3646 3884 3577 4002 3705 3941 3841 3925 3727 3956 3873 3989 3528 3887 3804 3897 3787 3993 3928 4145 3489 3994 3361 3952 3970 4042 3848 3829 3639 3873 3957 3919 3632 4160 3915 3987 3951 4094 3883 3941 3544 3861 3474 4037 4106 3998 3886 4009 4088 3949 3622 3837 3852 3847 3599 4120 3782 4086 3408 4068 3665 3919 3841 3956 4126 3905 3568 3933 3781 4141 3676 3914 3977 3997 3935 4061 3937 4026 3408 4050 3889 3832 3643 4120 3798 3955 3750 3847 3595 3938 3410 3926 3375 3998 3731 3989 3682 3863 3917 4111 3701 4063 3718 4061 3984 3900 3918 4074 3797 4116 3643 4040 3697 3839 3944 4000 3912 3828 3883 4152 3955 3884 4061 4077 3667 4093 3854 3941 3895 4041 3817 4072 3764 3866 4320 4090 3810 3847 4058 4062 3858 3883 3609 4086 3473 3978 3644 4009 3915 3956 3722 4070 3573 3914 3791 3940 3940 3999 3885 4107 3933 4088 3737 4113 3984 3871 3869 3855 3782 3832 3692 3975 3682 3916 3845 3984 3784 3859 3542 3943 3965 3877 3506 4085 3850 4113 3919 3903 3620 3925 3381 3885 3585 3880 3637 3837 3852 3828 4172 4140 3868 3920 3734 3857 3655 4017 3779 4113 3952 3952 3857 3835 3770 4140 3617 4039 4004 4110 3997 3868 4107 3863 4060 4096 3638 4001 3667 4045 3759 3908 3881 3875 3955 3944 3613 3859 3769 3955 3854 3906 3479 4100 3577 3952 4012 3995 3630 4132 3514 4111 3670 3925 3638 3882 3756 4007 3880 4064 3666 4154 3772 3834 3884 3881 3918 3967 4033 3913 3850 3837 3766 4036 3807 4096 3890 4143 3710 3846 3784 3928 3825 3834 3732 3905 3875 3939 3696 3860 3811 4097 3598 3893 4096 3932 3609 3869 4102 3910 3762 3852 3721 4049 3834 3976 3359 3842 3995 3907 4045 3934 3746 4143 3845 4089 3995 3970 3660 3831 3967 4078 4288 3902 3808 3939 3743 3945 3528 3868 3418 3934 4050 4120 3843 3837 3783 4155 3819 3927 3835 3963 4067 4063 3702 3832 3828 3938 3507 4060 3822 4011 3745 4032 3673 3988 4082 4081 3869 4108 3667 3989 3730 4120 3799 4100 3705 4061 4156 3839 3805 3879 3796 4033 3950 4113 3843 4076 3910 3850 3737 3914 3703 4019 3871 4037 3749 3848 3619 3861 3537 3921 3929 4108 3775 3973 3865 3848 3725 3945 3942 4136 3724 3851 3507 4038 3953 3964 4003 4030 3883 3994 3813 3850 3749 3943 3759 3877 3592 3840 3473 4046 4119 3936 3786 4099 3810 4069 3741 3878 3957 4037 3474 4097 3738 4026 3784 3855 3647 4015 3826 4143 3647 4110 3681 3825 3676 4116 3836 3988 3749 3994 3370 4100 3683 3943 3669 3867 3770 4119 3648 4003 3816 4127 3972 4155 3639 3867 3595 3985 3457 3830 3701 4099 3947 3828 3833 4036 3680 4039 3812 4151 3990 4141 3833 4074 3586 4139 3733 4012 3407 3969 3827 3902 3815 4128 3776 3892 3925 4024 3723 4159 3947 4146 3434 3894 3819 3928 3880 3974 3620 3921 4155 3874 3620 3833 3468 4069 3591 3915 3792 3988 3690 3990 3952 4008 3755 4056 3658 4059 3931 4023 3667 3840 3949 3989 3864 4133 3597 3876 3916 3916 3569 3857 3605 4037 3756 4055 3770 4031 3698 4083 3828 3862 3770 4151 3646 4060 3716 3859 3638 4052 3972 4029 3984 3963 3977 4136 3831 3988 3687 4142 3745 3906 3856 4031 3884 3994 3564 4058 3290 3932 3689 3875 3752 4028 3804 4081 3486 3899 3529 3997 3554 4103 3788 4143 3754 3976 3864 4057 3715 3848 3454 3941 3511 4141 3876 4145 3669 4108 3879 4054 3436 4096 3746 4121 3820 3968 4151 3906 3912 3934 3835 4039 3859 4083 3729 3914 4073 4014 3823 4100 3986 4037 4194 4000 3872 3910 3718 3993 3599 3973 3869 4099 3661 4053 3894 3930 3425 3968 4026 4028 3610 3951 3848 3974 3688 3960 3757 4076 3677 3892 3759 4129 3777 3899 3807 4040 3701 4134 3730 3844 3876 4002 3595 3882 3625 4069 3888 3915 3731 4031 4082 3867 3601 3962 3880 3937 3932 4145 3777 4063 3676 4117 3973 4056 3980 4110 3889 3955 3540 4085 3693 4076 3771 4067 3986 3850 3736 3997 3713 4126 3393 3899 3818 3906 4040 4142 3902 4152 3774 3886 3715 3990 3547 4073 3956 4077 3961 3908 3519 4154 3515 4005 3969 3853 3550 4155 4084 4068 3819 3850 3946 3916 3481 4081 3766 3831 4043 4047 3560 4154 4067 3926 3624 3900 3861 3973 3469 4095 3733 4074 3452 4073 3599 3829 3789 4135 3927 3878 3783 4128 3752 4075 3958 4157 3749 3906 3817 4097 3533 3831 3889 4081 3760 4158 3775 4019 3615 4067 3928 4123 3879 3860 3539 3850 3973 3857 3711 4050 3630 3897 3907 3981 3732 4090 3760 4156 3660 3856 3658 4091 3835 3914 3648 3923 3715 4058 3609 3890 3791 3918 3774 3838 3877 4111 3803 4030 3741 4031 4007 4005 4044 3880 3670 4069 4087 3932 3744 3847 3702 3893 3980 3959 3699 4130 3601 3994 3790 3876 4059 4134 3891 4020 3821 3951 3952 4025 3891 4105 3683 4122 3715 3884 3688 4065 3798 3881 3447 4104 3551 4089 3931 3983 3574 4054 3871 3860 3887 3840 3604 4093 3817 3884 3537 4162 3924 3909 3888 3853 3634 4154 4134 4040 3794 4095 3574 3829 3572 4135 4058 3953 3721 4070 3840 3970 3741 4009 3396 4140 3525 4043 3925 3865 3846 3886 4013" fill="none" stroke="none" marker-start="url(#m1)" marker-mid="url(#m1)" marker-end="url(#m1)"/>
<line x1="263.6" y1="300.5" x2="263.6" y2="452.4" stroke="#222" stroke-width="1.07"/>
<line x1="263.1" y1="451.9" x2="450.3" y2="451.9" stroke="#222" stroke-width="1.07"/>
<line x1="260.9" y1="416.6" x2="263.6" y2="416.6" stroke="#333" stroke-width="1.0"/>
<text x="259" y="420.4" font-size="10.3" fill="#111" text-anchor="end">60</text>
<line x1="260.9" y1="377.1" x2="263.6" y2="377.1" stroke="#333" stroke-width="1.0"/>
<text x="259" y="380.9" font-size="10.3" fill="#111" text-anchor="end">70</text>
<line x1="260.9" y1="337.5" x2="263.6" y2="337.5" stroke="#333" stroke-width="1.0"/>
<text x="259" y="341.3" font-size="10.3" fill="#111" text-anchor="end">80</text>
<line x1="314.6" y1="451.9" x2="314.6" y2="454.6" stroke="#333" stroke-width="1.0"/>
<text x="314.6" y="464.3" font-size="10.3" fill="#111" text-anchor="middle">2</text>
<line x1="399.3" y1="451.9" x2="399.3" y2="454.6" stroke="#333" stroke-width="1.0"/>
<text x="399.3" y="464.3" font-size="10.3" fill="#111" text-anchor="middle">3</text>
<text x="356.6" y="477.3" font-size="10.6" fill="#000" text-anchor="middle">Cluster</text>
<text x="242" y="376.6" font-size="10.6" fill="#000" text-anchor="middle" transform="rotate(-90 242 376.6)">Predicted bioenergetic age</text>
<polyline points="314.6,310.6 314.6,307.4 399.3,307.4 399.3,310.6" fill="none" stroke="#555" stroke-width="0.8"/>
<text x="357" y="306.3" font-size="10.35" fill="#111" text-anchor="middle">1.6e−38</text>
<line x1="496.6" y1="379.6" x2="677.6" y2="379.6" stroke="#888" stroke-width="0.7" stroke-dasharray="3.5 3"/>
<line x1="546" y1="340.7" x2="546" y2="372.3" stroke="#000" stroke-width="1.0"/>
<line x1="546" y1="395.1" x2="546" y2="427.4" stroke="#000" stroke-width="1.0"/>
<polygon points="517.1,372.3 517.1,381.5 528.8,383 517.1,384.6 517.1,395.1 575.7,395.1 575.7,384.6 564,383 575.7,381.5 575.7,372.3" fill="#264c53" stroke="#000" stroke-width="1.0" stroke-linejoin="round"/>
<line x1="528.8" y1="383" x2="564" y2="383" stroke="#000" stroke-width="1.7"/>
<polyline transform="scale(.1)" points="5594 4058 5495 3694 5462 4203 5341 3827 5361 4009 5470 3783 5465 3919 5522 3791 5527 3794 5341 3761 5487 3935 5326 4091 5394 3802 5347 3774 5443 3538 5554 3835 5507 3831 5556 3797 5297 3856 5405 3912 5420 3790 5580 3708 5463 3850 5455 3922 5367 4041 5418 3699 5323 3850 5622 3842 5298 3796 5541 4093 5550 3946 5435 3893 5536 3609 5613 3681 5307 3572 5502 3608 5576 3673 5619 3735 5439 3742 5308 3941 5391 3962 5597 3642 5525 3651 5577 3917 5489 3667 5503 3654 5325 3845 5422 4144 5420 3695 5600 4032 5411 3738 5448 3722 5526 3664 5376 4239 5405 3736 5594 3632 5304 3595 5518 3381 5475 4045 5344 3942 5575 3778 5591 3909 5548 3889 5462 3572 5501 3747 5355 3852 5481 3905 5439 4128 5443 3758 5410 3672 5419 3873 5324 3607 5464 3364 5421 4007 5569 4077 5564 4033 5524 3836 5419 4218 5304 3792 5613 3968 5345 3172 5561 3916 5462 3998 5617 3709 5371 3966 5495 3597 5520 3435 5307 3918 5347 3386 5615 3835 5511 3835 5582 3824 5409 4099 5350 3930 5330 3868 5329 3736 5552 3821 5396 3874 5337 3818 5328 3772 5454 3837 5564 3935 5480 3456 5458 3816 5347 3814 5362 4005 5500 3881 5405 3564 5477 3824 5537 3606 5349 3738 5315 3867 5296 4090 5325 3862 5603 3826 5548 3876 5429 3718 5552 3471 5465 3713 5327 3992 5400 3636 5593 3559 5305 4158 5453 3974 5369 3846 5557 4036 5303 3890 5555 3866 5325 4010 5306 4044 5506 3816 5585 3817 5328 3744 5377 3866 5483 3694 5305 3764 5343 3972 5550 3902 5623 3450 5587 3688 5390 4174 5564 3687 5395 3882 5490 3882 5379 3922 5352 3958 5458 3984 5329 3833 5405 3850 5563 3566 5303 4253 5323 4055 5567 3514 5513 3842 5531 3927 5318 4000 5397 3828 5315 3575 5344 4028 5298 3703 5398 3533 5587 3451 5336 3724 5356 3828 5490 3981 5619 3666 5311 3660 5396 3905 5481 3657 5549 4016 5547 3917 5307 3583 5625 3710 5483 3606 5477 4258 5602 3722 5600 3770 5583 3749 5504 3639 5543 3651 5308 3537 5327 3595 5569 3929 5406 3775 5519 3784 5559 3677 5504 3721 5296 3748 5566 3769 5473 4085 5307 3824 5313 3986 5621 4041 5365 3725 5410 3798 5410 3830 5386 4041 5610 4032 5465 3745 5307 3914 5507 3985 5507 4028 5593 3618 5345 4027 5326 3957 5403 3860 5594 3726 5610 3939 5439 3915 5614 3655 5458 4268 5368 3962 5494 3757 5576 3932 5430 3927 5505 3827 5495 3505 5408 3846 5463 4138 5584 3641 5573 3458 5440 3928 5619 3866 5575 3797 5552 3711 5420 3619 5458 3886 5454 3906 5448 3904 5453 4008 5478 3746 5484 3865 5559 3879 5388 4086 5486 3922 5397 3815 5315 3914 5503 3562 5586 3849 5299 3915 5598 3869 5511 3647 5608 3944 5451 3740 5575 3763 5468 3983 5427 3375 5513 3810 5483 4002 5537 4166 5406 4069 5444 3921 5374 3840 5375 4082 5600 3473 5608 3745 5491 4077 5352 3718 5472 3888 5477 3741 5296 4005 5396 3948 5568 4254 5427 3866 5547 3873 5571 3964 5466 3658 5377 3792 5332 3949 5305 3757 5508 4079 5393 3707 5515 4050 5623 3653 5536 3689 5366 3860 5577 3878 5380 3594 5491 3723 5604 3684 5583 3715 5406 3961 5614 3925 5586 3580 5618 3852 5565 3889 5511 3886 5601 3792 5403 4035 5338 3260 5450 4109 5598 3865 5462 3652 5327 3708 5537 4023 5549 3874 5510 4051 5458 3660 5533 3984 5593 4087 5553 3870 5482 3765 5414 3651 5352 3915 5535 4024 5555 3905 5321 3941 5376 3818 5389 4033 5437 3902 5561 3737 5568 3527 5465 3692 5622 3937 5550 3745 5342 3843 5386 3951 5607 4046 5562 3994 5455 3925 5571 4064 5546 3893 5608 3564 5438 3583 5388 3859 5364 3843 5500 3940 5437 3562 5499 3806 5418 3822 5614 3155 5340 3995 5455 3728 5489 3947 5360 3884 5353 3926 5432 3854 5379 3574 5554 3700 5302 3610 5604 3690 5307 3776 5612 3893 5426 3760 5503 3953 5389 3945 5325 3581 5623 3878 5600 4033 5440 3943 5441 4057 5518 3966 5302 3816 5546 4147 5401 3595 5417 3791 5366 3811 5554 3938 5336 3968 5430 4152 5619 3865 5581 3675 5329 3702 5365 3981 5582 3852 5433 3597 5605 3683 5333 4109 5479 3792 5328 3156 5476 3795 5447 3839 5552 3548 5345 4104 5538 3817 5301 3880 5550 3999 5610 3924 5344 3872 5444 3849 5588 3386 5454 3634 5624 3941 5428 3893 5471 3708 5592 3617 5538 3923 5526 3845 5391 3967 5513 3939 5352 3928 5375 3952 5429 3869 5592 3874 5463 3775 5485 3892 5404 3638 5591 4066 5320 4029 5488 3784 5545 3742 5498 3847 5429 3861 5613 4052 5459 3836 5339 4054 5513 3444 5303 3544 5331 3699 5472 3765 5374 3848 5372 3746 5451 3765 5330 3989 5589 4062 5536 3903 5580 3393 5549 4426 5511 4088 5608 3532 5401 3439 5535 3722 5407 3744 5318 4020 5577 3900 5609 3731 5572 3965 5501 3717 5568 4108 5322 3853 5616 3825 5462 3742 5583 3889 5494 3736 5549 3516 5551 3919 5383 3867 5566 3991 5534 3910 5593 3552 5484 3577 5617 3608 5586 3942 5355 3904 5477 3622 5355 3788 5340 3828 5511 3990 5411 3705 5367 3712 5327 3329 5514 3770 5546 3912 5440 3861 5604 3946 5354 3899 5616 3807 5574 4059 5497 3939 5430 3849 5542 3950 5318 3931 5383 3625 5488 4049 5502 3663 5488 3891 5532 3646 5598 4072 5312 4000 5439 3838 5451 4239 5510 4098 5409 3658 5330 4054 5343 4075 5438 4072 5585 3698 5503 4003 5343 3644 5338 3808 5401 3916 5346 3883 5479 3681 5438 3865 5454 3873 5320 3826 5560 3774 5416 4167 5545 3814 5364 4009 5484 4001 5472 3567 5326 3992 5413 3963 5457 3771 5400 4117 5295 3549 5356 3806 5510 3542 5497 3861 5439 3690 5385 3788 5319 3976 5519 3707 5546 3683 5478 3911 5511 4150 5370 3924 5347 3800 5521 3852 5543 3789 5490 3753 5544 4014 5590 3779 5488 3939 5487 3869 5617 3965 5483 3786 5347 4040 5555 3696 5547 3955 5525 3754 5524 3775 5356 4071 5487 3919 5375 3940 5538 3878 5312 3822 5312 3599 5466 3701 5523 3737 5343 3762 5373 3949 5624 3720 5356 3970 5605 3970 5592 3516 5569 3789 5472 3754 5476 4037 5586 3332 5410 3592 5351 3690 5509 3852 5466 3968 5593 3719 5303 3446 5353 4049 5319 3746 5577 4224 5564 4097 5527 3910 5435 3749 5386 3808 5407 3693 5602 3861 5507 3822 5510 4040 5621 3868 5354 3953 5335 3694 5415 3912 5483 3468 5374 4072 5568 3712 5529 3528 5604 4051 5463 4045 5612 3644 5513 3701 5298 3917 5518 3743 5529 3982 5378 3971 5404 3935 5368 3917 5312 3791 5601 3754 5349 3820 5332 3913 5497 3661 5410 3682 5494 3837 5597 3656 5572 3563 5484 3831 5589 3924 5518 3971 5484 3784 5413 4083" fill="none" stroke="none" marker-start="url(#m0)" marker-mid="url(#m0)" marker-end="url(#m0)"/>
<line x1="628.6" y1="336.8" x2="628.6" y2="366.5" stroke="#000" stroke-width="1.0"/>
<line x1="628.6" y1="387.2" x2="628.6" y2="415.6" stroke="#000" stroke-width="1.0"/>
<polygon points="599.8,366.5 599.8,376.2 611.5,377.2 599.8,378.3 599.8,387.2 658.2,387.2 658.2,378.3 646.5,377.2 658.2,376.2 658.2,366.5" fill="#f4923a" stroke="#000" stroke-width="1.0" stroke-linejoin="round"/>
<line x1="611.5" y1="377.2" x2="646.5" y2="377.2" stroke="#000" stroke-width="1.7"/>
<polyline transform="scale(.1)" points="6422 3772 6145 3818 6133 3703 6271 3772 6330 3682 6450 3982 6352 3712 6440 3825 6403 3766 6372 3677 6173 3755 6239 4232 6361 3682 6168 3807 6182 3599 6408 3911 6122 3823 6266 3782 6174 3718 6232 3798 6387 3660 6413 4021 6394 4029 6306 3781 6406 3747 6140 3897 6171 3667 6121 3477 6346 3771 6381 3753 6238 3661 6337 3619 6140 3997 6137 3653 6200 4057 6412 3798 6130 3852 6298 3821 6354 3993 6402 3826 6184 3597 6174 3855 6204 3943 6372 3379 6268 3755 6291 4119 6210 3965 6230 3895 6146 3858 6222 3890 6260 3751 6367 3615 6383 3651 6411 3690 6150 3812 6261 3967 6425 3920 6429 3961 6324 3469 6448 3976 6218 3995 6363 4058 6154 3784 6174 3996 6358 3748 6222 3629 6420 3772 6143 3543 6331 3627 6370 4006 6305 3884 6272 3667 6271 3567 6256 3626 6399 4128 6327 3791 6446 3510 6176 3756 6169 3858 6281 3971 6245 3781 6188 3724 6256 3908 6397 3604 6179 3820 6415 3791 6264 3649 6346 3944 6347 3871 6288 3689 6185 3417 6244 3572 6288 3717 6214 3788 6426 4079 6130 3785 6293 3638 6379 3666 6383 3776 6240 3867 6239 3676 6123 3847 6345 4014 6207 3692 6339 3713 6149 3787 6353 3592 6149 3768 6196 3909 6242 3375 6334 3498 6263 3593 6249 3828 6409 3714 6448 3728 6223 3638 6161 3769 6278 3849 6364 3691 6275 3724 6236 3754 6180 3740 6451 3652 6249 3740 6442 3858 6250 3813 6319 3970 6212 3943 6440 3742 6285 3705 6182 3594 6293 3953 6367 3805 6389 3709 6133 3782 6411 3707 6210 3719 6398 4152 6255 3717 6225 3778 6438 3634 6155 3939 6166 3549 6320 3689 6259 3464 6292 3819 6334 3617 6381 3731 6209 3768 6209 3335 6348 3827 6194 3744 6447 4144 6234 3656 6154 3598 6207 3796 6283 3975 6440 3800 6341 3609 6253 3870 6429 3669 6258 3712 6395 3672 6210 3727 6343 3700 6152 4007 6357 3799 6332 3998 6396 3682 6211 3488 6223 3779 6285 3756 6316 3598 6257 3610 6149 3953 6166 3730 6264 3961 6293 3887 6353 3849 6152 3862 6322 3837 6380 3892 6358 3647 6160 3661 6451 3542 6249 3904 6212 3784 6197 3885 6443 3828 6337 3931 6251 4000 6121 4136 6200 3476 6145 3566 6416 3687 6308 3661 6245 4031 6385 3841 6170 4103 6238 3772 6326 3978 6358 3659 6280 3929 6264 3799 6346 4073 6311 3708 6180 3470 6334 3864 6210 3639 6362 3988 6272 3776 6373 3926 6327 3788 6144 4009 6252 3892 6354 3806 6250 3926 6238 3811 6386 3666 6329 3736 6294 3931 6127 3809 6362 3667 6138 3724 6325 3758 6216 3682 6230 4019 6180 3721 6193 3549 6263 3786 6403 3712 6400 3731 6198 4208 6288 3632 6439 3861 6363 3806 6189 3621 6368 3464 6148 4032 6426 3643 6251 4015 6198 3871 6142 3926 6371 3788 6380 3631 6289 3703 6232 3878 6335 3578 6346 3850 6350 3777 6123 3806 6389 3847 6400 3691 6306 3735 6321 3716 6192 3787 6432 3890 6184 4001 6214 3799 6374 3466 6195 3730 6253 3895 6293 3742 6132 3671 6288 3639 6226 3951 6276 3572 6352 4024 6285 3701 6273 3774 6420 3730 6380 3881 6332 3767 6148 3869 6392 3739 6133 3742 6432 3565 6195 3693 6251 3760 6420 3712 6322 3470 6301 3590 6191 3769 6159 3973 6307 3546 6375 3578 6289 3583 6297 3799 6254 3653 6338 3737 6215 3845 6431 3896 6444 3531 6327 3873 6349 3795 6220 3697 6212 3649 6289 3708 6274 3503 6172 3812 6160 3754 6413 3879 6209 3951 6349 4079 6373 3711 6123 3693 6258 3910 6231 3859 6247 3851 6428 3879 6359 3881 6125 3415 6232 3716 6386 3538 6352 3735 6178 3770 6448 3793 6235 3775 6253 4081 6262 3785 6212 3675 6397 3854 6187 3997 6307 3767 6362 3983 6449 3940 6408 3944 6181 3857 6169 3775 6394 3558 6170 3616 6355 3939 6147 3715 6348 3754 6352 3774 6122 3834 6183 3540 6253 3407 6131 3791 6285 3696 6307 3550 6183 3914 6176 3746 6421 3621 6189 3526 6146 3822 6331 3550 6400 3809 6402 3916 6271 3848 6293 3566 6255 3908 6433 3689 6299 3442 6257 3679 6238 3937 6411 3675 6323 3792 6316 3711 6308 3705 6380 3725 6154 4023 6396 3862 6285 3853 6287 3961 6450 4057 6254 4061 6412 3722 6404 3763 6185 3742 6319 3807 6230 3828 6122 3605 6398 3931 6189 3529 6310 3998 6171 4090 6348 3494 6170 3690 6348 3561 6199 3892 6312 3775 6244 4235 6336 3644 6258 3877 6259 3748 6441 3452 6167 3343 6310 3788 6285 3582 6275 3960 6181 3649 6250 3789 6386 3749 6337 3772 6418 3774 6344 3977 6394 3426 6406 3878 6406 3902 6201 3940 6179 3658 6387 3694 6154 4165 6247 3919 6348 3815 6337 3891 6147 4173 6197 3795 6404 3835 6448 3897 6178 3506 6295 3687 6293 3681 6419 3663 6301 3819 6368 3796 6442 3590 6296 3850 6207 3362 6428 3702 6395 3579 6142 3749 6134 3603 6293 3805 6126 3800 6444 3814 6277 3621 6139 3567 6297 3610 6402 4048 6415 3777 6221 3790 6217 3711 6214 3837 6380 3643 6319 3506 6131 3681 6375 3647 6149 3416 6167 3912 6422 3800 6314 3469 6292 3677 6149 3590 6377 3713 6160 3773 6288 3539 6181 4064 6400 3595 6362 3972 6284 3690 6271 4034 6177 3887 6307 4008 6294 3959 6133 3564 6217 3877 6155 3523 6272 4068 6329 3781 6436 3859 6300 3747 6210 3975 6128 3718 6446 3829 6319 3723 6231 3826 6408 3934 6281 3517 6415 3649 6348 3902 6401 3792 6381 3740 6292 3973 6325 3660 6422 3736 6420 3936 6311 3813 6288 3752 6146 3804 6148 3398 6197 3798 6235 3591 6224 3664 6368 3787 6152 3615 6369 3755 6412 3653 6445 3955 6342 3699 6252 3755 6163 3861 6133 4084 6388 3851 6313 3705 6306 3812 6295 3833 6353 3667 6315 3854 6260 3534 6273 3824 6202 3727 6287 3823 6262 3918 6222 3880 6244 3946 6368 3645 6314 3633 6333 3777 6225 3821 6217 3638 6200 3601 6251 3519 6245 3728 6304 3463 6333 3767 6358 3836 6301 3924 6210 3879 6432 3792 6246 3879 6211 4216 6322 3646 6203 4020 6136 3673 6270 3759 6242 3806 6244 4009 6246 3708 6270 3698 6195 3707 6389 4043 6312 3492 6281 3445 6370 3715 6239 3729 6348 4063 6446 3424 6256 3718 6266 3741 6191 3932 6199 3751 6439 3813 6392 3842 6390 4003 6168 3576 6131 3455 6205 3865 6351 3857 6297 3766 6318 3467 6143 3820 6242 3703 6252 3723 6136 3789 6173 3786 6144 3852 6420 3853 6409 3922 6302 3458 6365 3599 6419 3951 6265 3613 6373 3808 6309 3686 6197 3711 6293 3831 6331 4120 6307 3813 6317 3513 6174 3755 6351 3504 6339 3744 6246 3209 6210 3699 6126 4027 6437 4007 6235 3934 6137 3746 6381 3385 6278 3672 6341 3704 6179 3691 6371 4086 6431 3531 6138 3654 6391 3740 6348 3771 6267 4056 6330 3746 6133 3770 6267 3968 6327 3824 6254 3954 6429 4212 6227 3837 6432 3798 6394 3722 6320 3952 6435 3493 6221 3774 6383 3577 6193 3817 6144 3387 6226 3694 6443 3860 6167 4195 6168 3738 6211 3754 6234 3669 6341 3867 6441 3394 6232 3670 6202 3533 6211 3716 6179 3809 6220 3816 6314 3599 6307 4005 6237 3759 6130 3979 6447 3716 6123 3713 6203 3846 6377 3700 6402 3488 6236 3506 6262 3646 6223 3928 6125 3754 6312 3834 6214 3819 6242 3865 6189 3831 6369 3680 6268 3994 6137 3996 6199 3673 6285 3614 6304 3590 6308 3826 6243 3657 6274 3651 6314 3739 6245 3927 6435 3700 6346 3789 6310 3924 6338 3867 6343 3663 6405 3860 6344 3772 6301 3910 6279 3848 6263 3739 6187 3656 6348 3891 6345 3324 6382 3830 6310 3750 6348 4008 6289 3760 6417 3720 6346 3875 6272 3762 6219 3694 6396 3652 6128 3718 6335 3711 6299 3827 6240 3776 6144 3686 6208 3684 6394 3958 6225 3641 6392 3640 6305 3657 6246 3333 6187 3436 6235 3507 6371 3679 6417 3872 6154 3927 6289 3587 6183 3732 6148 3714 6235 3746 6403 3498 6300 3973 6315 3679 6195 3765 6282 3645 6237 3792 6288 3435 6188 3451 6427 3701 6305 3679 6395 3811 6362 3578 6356 3914 6432 3772 6180 3562 6257 3708 6390 4091 6285 3740 6420 3882 6313 3445 6184 3881 6375 3965 6261 3767 6266 3993 6335 3710 6349 3401 6414 3564 6292 3717 6403 3614 6289 3857 6295 4089 6431 3621 6405 3899 6174 3750 6201 3836 6310 3611 6302 4133 6139 3381 6390 3563 6450 3805 6398 3620 6330 3726" fill="none" stroke="none" marker-start="url(#m1)" marker-mid="url(#m1)" marker-end="url(#m1)"/>
<line x1="496.6" y1="300.5" x2="496.6" y2="452.4" stroke="#222" stroke-width="1.07"/>
<line x1="496.1" y1="451.9" x2="678.3" y2="451.9" stroke="#222" stroke-width="1.07"/>
<line x1="493.9" y1="450.4" x2="496.6" y2="450.4" stroke="#333" stroke-width="1.0"/>
<text x="492" y="454.2" font-size="10.3" fill="#111" text-anchor="end">−4</text>
<line x1="493.9" y1="415" x2="496.6" y2="415" stroke="#333" stroke-width="1.0"/>
<text x="492" y="418.8" font-size="10.3" fill="#111" text-anchor="end">−2</text>
<line x1="493.9" y1="379.6" x2="496.6" y2="379.6" stroke="#333" stroke-width="1.0"/>
<text x="492" y="383.4" font-size="10.3" fill="#111" text-anchor="end">0</text>
<line x1="493.9" y1="344.3" x2="496.6" y2="344.3" stroke="#333" stroke-width="1.0"/>
<text x="492" y="348.1" font-size="10.3" fill="#111" text-anchor="end">2</text>
<line x1="493.9" y1="308.9" x2="496.6" y2="308.9" stroke="#333" stroke-width="1.0"/>
<text x="492" y="312.7" font-size="10.3" fill="#111" text-anchor="end">4</text>
<line x1="546" y1="451.9" x2="546" y2="454.6" stroke="#333" stroke-width="1.0"/>
<text x="546" y="464.3" font-size="10.3" fill="#111" text-anchor="middle">2</text>
<line x1="628.6" y1="451.9" x2="628.6" y2="454.6" stroke="#333" stroke-width="1.0"/>
<text x="628.6" y="464.3" font-size="10.3" fill="#111" text-anchor="middle">3</text>
<text x="587.1" y="477.3" font-size="10.6" fill="#000" text-anchor="middle">Cluster</text>
<text x="472.2" y="375.2" font-size="10.25" fill="#000" text-anchor="middle" transform="rotate(-90 472.2 375.2)">Δ<tspan font-size="12.6">(</tspan>Bioenergetic − chronological age<tspan font-size="12.6">)</tspan></text>
<polyline points="546,310.6 546,307.4 628.6,307.4 628.6,310.6" fill="none" stroke="#555" stroke-width="0.8"/>
<text x="587.3" y="306.3" font-size="10.35" fill="#111" text-anchor="middle">8.3e−16</text>
<line x1="74.2" y1="547.2" x2="74.2" y2="579.3" stroke="#000" stroke-width="1.0"/>
<line x1="74.2" y1="604.3" x2="74.2" y2="637.5" stroke="#000" stroke-width="1.0"/>
<polygon points="54.9,579.3 54.9,586.5 62.9,590.3 54.9,594.3 54.9,604.3 94.9,604.3 94.9,594.3 86.9,590.3 94.9,586.5 94.9,579.3" fill="#264c53" stroke="#000" stroke-width="1.0" stroke-linejoin="round"/>
<line x1="62.9" y1="590.3" x2="86.9" y2="590.3" stroke="#000" stroke-width="1.7"/>
<polyline transform="scale(.1)" points="795 5775 741 6257 842 5991 776 5978 740 5973 631 5888 637 6023 849 6170 638 6070 809 5737 780 5875 818 6232 806 6151 728 5642 652 5930 691 5776 735 5816 702 5874 819 5964 698 6093 641 6147 808 5799 639 5771 783 5612 644 5753 667 5941 647 6054 713 5715 841 5492 753 5541 720 5688 795 5910 813 6153 829 5832 649 5626 757 5847 802 5656 629 5828 753 6030 849 6056 710 5471 810 6065 789 5977 816 5837 630 6363 671 5972 840 5938 840 5873 851 6004 756 5870 702 6104 631 5493 806 5908 847 5756 789 5928 709 6035 756 5772 691 5897 808 5893 848 5997 632 5985 829 5786 789 6339 712 6052 846 5689 737 6009 783 5652 641 6242 845 5605 685 6102 797 5980 740 6014 850 5867 655 5804 702 6207 732 6091 709 6220 676 5747 629 5791 811 5852 698 6049 774 6024 629 5548 755 5807 854 5732 680 5913 689 5470 775 6265 744 5849 675 5802 751 6206 774 5953 719 5929 754 5987 668 6222" fill="none" stroke="none" marker-start="url(#m0)" marker-mid="url(#m0)" marker-end="url(#m0)"/>
<line x1="131" y1="531.9" x2="131" y2="567.3" stroke="#000" stroke-width="1.0"/>
<line x1="131" y1="597.4" x2="131" y2="636.5" stroke="#000" stroke-width="1.0"/>
<polygon points="111,567.3 111,581.7 119.1,583.4 111,585.2 111,597.4 151.3,597.4 151.3,585.2 143.2,583.4 151.3,581.7 151.3,567.3" fill="#f4923a" stroke="#000" stroke-width="1.0" stroke-linejoin="round"/>
<line x1="119.1" y1="583.4" x2="143.2" y2="583.4" stroke="#000" stroke-width="1.7"/>
<polyline transform="scale(.1)" points="1317 5988 1417 5795 1241 5753 1332 5778 1226 5760 1214 6152 1418 5868 1300 5814 1356 5776 1381 6154 1246 6063 1394 5861 1395 5747 1321 6271 1366 5745 1247 5700 1321 5996 1379 6130 1294 5778 1391 6190 1325 5833 1393 5715 1351 5620 1198 5338 1368 6263 1301 5398 1232 6024 1312 5727 1274 5918 1274 5986 1285 6360 1358 6294 1314 5839 1345 6095 1261 5605 1246 6037 1271 5669 1388 5413 1265 5892 1332 5545 1415 5882 1228 5762 1278 5671 1378 6041 1208 5848 1326 6004 1335 5625 1397 5956 1399 6028 1370 5940 1356 5477 1278 5818 1318 5806 1252 5947 1374 6022 1268 5620 1366 5671 1212 5886 1220 5684 1300 5869 1367 5838 1345 6248 1250 5922 1281 6302 1261 5835 1408 5988 1226 5950 1306 5574 1307 5990 1260 5936 1401 5760 1242 5485 1390 5840 1231 5981 1242 5602 1293 5644 1359 5354 1322 5998 1403 6278 1307 6069 1400 5772 1348 6080 1205 5853 1219 5712 1286 5548 1226 6040 1371 5601 1397 5780 1232 5877 1364 5978 1340 5900 1234 6077 1318 5643 1345 6059 1259 6090 1403 6066 1269 5889 1371 5501 1350 5759 1330 5635 1209 6171 1385 6133 1348 5877 1392 6080 1402 5669 1368 5658 1416 6048 1396 5930 1249 6036 1284 5531 1270 6047 1334 5787 1388 5358 1386 5982 1345 5809 1372 5894 1374 6074 1363 5954 1420 5385 1250 5833 1213 5901 1314 6061 1273 5529 1253 5794 1369 6009 1222 6092 1234 5851 1290 5815 1357 5415 1391 5464 1257 5764 1282 5696 1381 5832 1408 5979 1324 5720 1386 5330 1274 5934 1403 6152 1404 5510 1389 5838 1274 6036 1361 5696 1313 5871 1261 5736 1248 6142 1374 5573 1373 6320 1405 5884 1349 5840 1338 5967 1269 6009 1326 5823 1419 5885 1354 5638 1317 5874 1369 5873 1294 6016 1298 5783 1257 5767 1342 5919 1375 6107 1362 5654 1263 6025 1355 5485 1340 5718 1390 6216 1235 5597 1390 5838 1229 6042 1221 5507 1333 5516 1301 5846 1224 5977 1364 5665 1308 5654 1281 6037 1419 5739 1369 5723 1239 6159 1357 5484 1384 5506 1289 6042 1231 5628 1396 5778 1328 6071 1382 5441 1277 5452 1300 5892 1372 5745 1411 6115 1329 5918 1401 5442 1289 5840 1389 5759 1369 6062 1238 6090 1363 5574 1306 5725 1382 5962 1407 5575 1332 5634 1408 6115 1410 5472 1361 5848 1328 5473 1330 5850 1274 5935 1331 5608 1324 6012 1349 5742 1313 6327 1233 6221 1284 5504 1326 5433 1342 5929 1393 6167 1206 6203 1202 5354 1373 5760 1340 5654 1400 5773 1363 6189 1394 6206 1342 5725 1358 6145 1417 6202 1298 5973 1298 5741 1281 5847 1260 5534 1197 6122 1415 5977 1345 6155 1398 6101 1393 5913 1297 5899 1211 5772 1282 5801 1336 5979 1205 5539 1416 5805 1414 6316 1417 5833 1328 5624 1279 5816 1315 6313 1213 5839 1202 5811 1282 5544 1258 5979 1222 5766 1198 5560 1224 5804 1305 6079 1197 5955 1208 5627 1380 6045 1361 5825 1423 5886 1220 5773 1403 5694 1419 5670 1415 5640 1362 5814 1317 6213 1213 5783 1257 5491 1419 5824 1198 5439 1321 6097 1269 6045 1281 5760 1359 6223 1237 5814 1316 5437 1275 5458 1265 5877 1285 5981 1307 5697 1239 5879 1246 5658 1310 5639 1412 5763 1311 5801 1282 5859 1343 5497 1200 5993 1230 5897 1260 5827 1422 5827 1306 5426 1378 5858 1275 5819 1222 5489 1340 5971 1313 5724 1321 5902 1280 5794 1205 5609 1212 5730 1395 5378 1372 6252 1360 5855 1260 5832 1285 5789 1251 5536 1270 5964 1409 6036 1257 5798 1313 5495 1355 6245 1332 5742 1348 5895 1202 6212 1395 5877 1284 5816 1212 6047 1273 5908 1265 6043 1313 5685 1307 5798 1223 6027 1389 5754 1357 5758 1355 5702 1248 5578 1364 5864 1393 5717 1341 5906 1207 5744 1315 6073 1199 5478 1417 5953 1237 5412 1366 5648 1377 5938 1275 6110 1342 5728 1363 5712 1225 5695 1375 5724 1212 5671 1356 6140 1236 5657 1372 5915 1300 5795 1321 5964 1286 6101 1362 5635 1257 5964 1274 5705 1314 5614 1386 5999 1374 5988 1390 5713 1228 6103 1218 5792 1202 5442 1298 6124 1258 5775 1304 5868 1220 6029 1276 5852 1232 5997 1372 5838 1390 5406 1250 6024 1265 5633 1238 5842 1234 5761 1205 5843 1200 5800 1409 5951 1261 5867 1219 5593 1326 5710 1391 5770 1283 5822 1204 5335 1408 5464 1341 5773 1388 6225 1226 5818 1223 6051 1379 6183 1315 5735 1345 5557 1253 5800 1231 6118 1277 6037 1220 5876 1285 5491 1252 5856 1382 5491 1283 5882 1311 6051 1403 5607 1389 6030 1265 5410 1236 5987 1320 5876 1357 5734 1418 5582 1203 5790 1235 5542 1293 6243 1257 5984 1205 5787 1339 5937 1379 5451 1410 5578 1212 5932 1266 6070 1204 5928 1251 5688 1273 6194 1221 5659 1380 5991 1243 5899 1269 5544 1227 6225 1254 5602 1215 5669 1348 5868 1299 5903 1209 5647 1252 5443 1270 5989 1410 5434 1374 5851 1295 5849 1201 5965 1367 5527 1249 5972 1274 5860 1278 5709 1226 5877 1271 5913 1395 6214 1206 5946 1418 6079 1266 5528 1290 5610 1357 6108 1202 5628 1273 5645 1355 5779 1322 6225 1336 5768 1307 5546 1369 6065 1387 5681 1307 5452 1395 5514 1382 6071 1356 5809 1207 5982 1234 5870 1337 6107 1391 5492 1366 6021 1214 6076 1257 5717 1327 5355 1339 5954 1213 5811 1222 5726 1262 5650 1387 5651 1297 6233 1213 5909 1278 5978 1406 6124 1215 5687 1340 6100 1291 5782 1335 5641 1311 5653 1214 5901 1277 6056 1232 5966 1208 5895 1345 5907 1272 5809 1381 6169 1361 5944 1233 5644 1339 6179 1380 5368 1332 5684 1218 5968 1324 5997 1411 5741 1389 6100 1198 6078 1393 5621 1306 5339 1310 5805 1382 5961 1276 5823 1226 5437 1395 5661 1317 5729 1400 5850 1418 5857 1225 5882 1305 5860 1201 6205 1381 5783 1199 5747 1339 6044 1341 5419 1416 5769 1409 6332 1364 5819 1408 6014 1323 5737 1294 5904 1249 5640 1401 5713 1242 5551 1331 6073 1421 6057 1413 5918 1244 5948 1266 5631 1297 5435 1262 6115 1230 6114 1203 6306 1361 5496 1258 5960 1307 5528 1308 5909 1320 5755 1352 6276 1354 5862 1330 5764 1207 6195 1307 6023" fill="none" stroke="none" marker-start="url(#m1)" marker-mid="url(#m1)" marker-end="url(#m1)"/>
<line x1="187.4" y1="532.6" x2="187.4" y2="567.7" stroke="#000" stroke-width="1.0"/>
<line x1="187.4" y1="594.5" x2="187.4" y2="638" stroke="#000" stroke-width="1.0"/>
<polygon points="167.8,567.7 167.8,580.4 175.7,581.5 167.8,582.5 167.8,594.5 207.4,594.5 207.4,582.5 199.5,581.5 207.4,580.4 207.4,567.7" fill="#04a4db" stroke="#000" stroke-width="1.0" stroke-linejoin="round"/>
<line x1="175.7" y1="581.5" x2="199.5" y2="581.5" stroke="#000" stroke-width="1.7"/>
<polyline transform="scale(.1)" points="1831 6143 1917 5840 1927 5372 1838 5792 1940 5765 1938 5842 1761 6079 1861 5798 1820 5572 1799 5597 1903 5962 1798 5636 1964 5594 1927 5960 1874 5624 1841 5830 1975 5478 1783 5834 1855 5712 1830 6067 1846 5584 1956 5926 1817 6016 1981 5697 1981 5529 1785 5953 1920 6249 1982 5644 1784 5723 1801 5996 1894 6168 1861 6001 1817 5605 1834 5599 1914 5610 1875 5892 1783 5914 1953 5864 1814 5780 1815 5903 1921 5904 1965 6040 1780 5672 1841 6033 1797 5446 1905 5782 1775 5992 1765 5958 1814 5729 1896 5812 1895 5746 1982 5924 1948 6008 1814 5822 1818 6176 1762 5753 1802 6005 1922 6048 1939 5945 1864 5922 1873 5749 1811 5893 1767 5865 1972 6096 1979 5794 1892 5783 1983 6187 1765 6130 1866 5676 1878 5750 1814 5748 1818 6120 1877 5645 1872 5876 1920 6149 1908 5774 1906 5764 1805 5750 1798 5632 1798 5788 1845 5651 1800 5574 1986 5889 1833 5764 1961 5800 1937 6121 1964 5949 1979 5634 1906 6253 1835 5808 1891 6022 1853 5691 1864 5845 1903 5558 1878 5682 1832 6067 1884 5618 1783 5734 1818 6033 1824 5948 1801 5727 1852 6035 1881 6085 1896 5843 1974 6019 1959 5613 1870 5779 1764 5823 1856 5960 1793 6029 1915 6071 1821 5734 1885 5804 1954 5839 1856 5607 1866 5614 1809 6125 1772 5947 1816 5827 1909 5966 1896 5727 1795 6194 1920 5799 1836 5816 1908 5885 1832 5779 1781 5740 1842 5802 1768 5897 1986 5669 1873 5535 1987 5729 1958 5638 1981 5551 1837 5987 1844 5696 1877 5777 1911 5573 1917 5818 1960 5806 1863 5548 1833 6026 1789 5673 1841 5533 1853 5529 1879 5905 1816 5674 1895 5667 1776 5862 1806 6061 1776 5736 1798 5672 1821 5551 1771 6015 1851 5373 1857 5976 1966 5460 1939 5848 1961 5965 1902 5617 1793 5826 1855 5626 1879 5462 1887 5478 1784 5901 1771 5393 1844 5837 1919 5910 1809 5413 1803 6064 1871 5514 1805 5948 1838 5828 1951 5473 1938 5556 1968 5735 1806 5680 1971 5680 1914 5700 1954 5736 1867 6144 1790 5707 1952 5788 1928 6315 1955 5528 1881 5747 1917 5891 1904 5715 1960 5792 1802 6240 1767 5498 1919 5891 1962 5539 1834 5909 1912 5728 1944 6064 1842 5429 1859 5655 1848 5633 1952 5859 1894 5909 1885 6026 1877 5769 1939 5785 1980 6051 1772 5789 1865 5700 1930 5742 1910 5597 1802 5946 1891 6324 1934 5903 1792 5744 1850 5403 1954 5835 1950 6015 1979 6197 1926 5964 1915 5947 1803 5765 1870 5901 1961 5732 1822 5560 1880 5951 1769 6019 1965 6040 1893 6096 1892 5917 1776 5629 1825 5839 1934 5512 1848 5725 1901 5908 1924 5913 1804 5740 1943 5866 1973 5986 1878 5685 1766 5725 1868 5947 1890 5949 1813 6273 1784 5770 1987 5663 1975 5771 1894 5702 1879 5809 1930 5915 1903 5507 1933 5964 1859 5995 1916 5818 1954 5771 1975 5880 1934 5792 1824 5499 1841 5530 1933 5807 1952 5939 1934 5997 1923 5593 1800 5788 1906 5741 1834 5560 1907 5488 1886 5461 1833 6381 1836 5987 1901 5515 1963 5722 1917 5737 1779 6131 1771 5720 1910 5631 1769 5713 1884 5807 1870 5784 1953 6055 1839 6106 1909 5365 1936 5762 1836 6221 1772 6013 1789 5726 1772 5663 1947 5831 1900 5425 1775 5385 1784 5788 1850 6142 1808 5985 1899 5950 1861 5519 1972 5674 1832 6046 1858 6012 1800 5525 1827 5817 1897 5850 1841 5699 1785 5961 1770 5945 1795 5913 1784 5717 1799 5933 1853 5938 1832 5924 1805 5909 1897 5826 1846 6085 1825 5804 1953 6105 1835 5546 1952 5838 1960 5399 1952 5743 1868 5935 1950 5877 1978 6234 1879 6015 1855 5862 1851 5838 1903 5691 1961 5803 1783 5369 1912 5728 1839 5592 1952 5525 1932 5835 1765 6224 1774 5908 1771 5589 1812 5743 1837 5883 1927 5951 1945 5909 1822 5786 1869 5686 1809 5747 1823 5783 1854 6026 1825 6177 1931 5877 1942 5926 1827 5607 1880 5811 1891 5829 1888 5935 1978 5871 1944 5710 1886 5997 1968 5611 1956 5667 1952 5857 1762 5826 1878 5711 1797 5932 1915 5918 1871 5926 1783 5579 1935 5552 1962 5894 1973 6356 1789 6112 1823 5886 1916 5759 1839 6054 1945 5889 1963 5727 1812 5592 1823 5899 1821 5798 1772 5569 1774 5615 1949 5939 1916 5846 1950 5927 1900 5661 1764 5901 1831 5844 1968 5740 1878 5650 1803 6024 1824 5804 1899 5673 1861 5388 1847 5575 1958 5821 1885 5733 1945 5954 1787 5463 1788 5758 1820 5990 1899 5687 1970 5894 1834 5775 1781 5654 1853 5972 1986 5902 1929 5676 1768 5896 1929 5670 1929 6143 1819 5979 1933 5707 1933 5745 1806 5608 1782 5709 1912 6098 1763 5905 1777 5809 1977 5861 1936 5755 1905 5880 1962 5879 1923 5525 1856 5815 1908 5568 1823 6093 1829 5581 1945 5862 1830 5974 1866 5707 1847 5824 1945 5945 1844 6189 1945 5705 1912 5789 1862 5699 1963 6017 1968 5558 1968 5736 1970 5915 1816 5823 1777 5949 1961 5472 1860 5998 1884 5652 1976 6225 1864 5903 1883 5811 1792 5986 1789 5904 1779 5689 1800 5815 1960 5615 1921 6247 1982 5856 1938 6055 1818 5605 1917 6023 1863 5683 1922 5919 1955 5776 1947 5730 1804 6123 1871 6036 1915 5822 1907 5884 1830 5870 1916 5718 1825 5651 1828 5611 1951 5859 1815 5776 1972 5958 1829 5700 1807 6068 1848 5901 1917 5592 1858 5647 1958 5735 1817 5911 1975 5484 1840 6068 1799 5901 1907 5966 1912 5673 1883 5761 1964 6073 1933 5605 1862 5763 1974 5725 1852 6174 1824 5508 1825 6043 1855 5726 1946 5435 1878 5788 1862 5780 1855 6320 1793 6133 1910 5935 1888 5620 1830 5855 1815 6058 1861 5674 1940 5508 1766 5567 1883 5628 1895 5799 1836 5838 1767 6090 1882 5681 1798 6034 1914 5863 1876 5453 1865 5673 1860 5855 1883 6037 1826 5871 1924 5579 1936 6000 1807 6082 1889 6380 1825 5766 1872 6122 1796 6157 1829 5988 1974 5831 1855 5728 1865 5649 1828 5612 1975 5959 1949 5934 1897 5824 1849 5867 1893 5839 1924 5961 1955 5546 1973 5686 1934 6347 1897 5581 1959 6011 1821 5587 1828 5523 1806 5451 1849 5550 1881 6004 1815 6081 1830 5655 1891 5899 1814 5542 1894 6041 1830 5747 1916 6093 1931 5898 1811 6209 1964 5628 1936 5965 1907 6137 1974 6018 1898 5791 1855 5894 1763 5630 1975 5457 1923 5792 1810 5803 1846 5343 1839 5769 1869 5688 1845 5838 1781 5738 1926 5711 1881 5743 1944 5888 1822 5810 1876 6050 1914 6068 1982 5581 1810 5965 1960 6063 1851 5675 1779 5790 1981 5618 1902 5531 1822 5875 1785 5804 1893 5809 1968 5851 1799 6251 1777 5830 1910 5739 1913 6060 1811 5562 1806 5716 1858 6075 1788 5415 1952 5990 1813 5914 1857 5770 1884 5925 1918 5857 1794 5793 1868 5820 1972 5637 1870 5616 1862 6260 1919 5709 1796 5584 1946 5680 1864 5849 1965 5786 1849 6067 1765 5953 1870 5829 1927 5835 1958 5741 1800 5357 1901 6062 1801 5987 1879 5666 1813 5685 1774 5914 1893 5860 1845 5742 1942 5881 1769 5689 1903 5638 1934 5848 1887 5480 1831 5840 1830 5605 1827 6055 1955 5913 1866 5578 1844 6250 1804 5681 1820 5683 1793 5617 1946 5879 1781 6138 1948 5591 1827 5933 1962 5677 1876 5745 1796 6210 1773 5743 1905 5811 1886 5728 1887 5546 1915 5507 1933 6166 1936 5672 1801 5573 1980 5747 1873 5816 1815 6143 1801 5945 1890 5632 1832 5997 1795 5517 1928 6186 1970 6299 1893 5746 1833 5661 1844 6083 1900 5905 1824 5723 1952 5966 1941 5610 1899 5531 1868 5512 1818 5909 1971 5947 1913 5758 1965 6174 1881 6004 1891 5700 1819 5587 1838 5892 1826 5682 1935 6089 1978 5937 1800 5474 1913 6002 1806 6019 1765 6017 1870 6036 1810 5758 1776 6075 1924 5780 1915 5840 1919 5765 1935 5914 1954 5829 1918 5804 1968 5996 1762 6033 1784 5578 1908 5596 1763 5878 1873 5783 1888 5636 1830 5571 1823 5809 1862 6172 1763 5455 1788 5812 1925 5911 1932 6227 1776 5730 1840 5820 1891 5861 1909 5729 1773 5552 1830 5747 1897 5957 1778 5747 1986 6081 1828 5812 1877 5665 1954 5911 1824 5880 1815 5678 1864 5904 1885 6171 1798 5735 1783 5602 1865 5928 1964 6022 1971 6121 1845 5784 1983 5707 1923 5619 1808 5744 1959 5950 1762 5911 1834 5805 1764 6039 1829 5911 1785 5843 1824 5867 1920 5368 1932 5910 1833 5941 1840 5790 1820 5745 1789 5519 1779 5761 1839 5846 1802 5804 1926 5756 1804 6044 1919 5718 1889 5794 1807 5748 1964 5904 1957 6116 1957 5575 1891 5824 1764 6120 1887 5953 1788 6081 1786 5920 1980 5861 1971 6357 1901 6204 1804 5760 1849 5502 1972 5703 1864 6036 1954 6154 1803 5915 1977 6062 1816 5853 1862 5815 1807 5554 1947 5566 1772 5659 1985 5498 1825 6046 1961 5648 1867 5706 1825 6059 1961 5747 1784 5757 1842 6338 1915 5725 1891 5608 1811 5925 1762 5776 1766 5744 1804 5879 1962 5860 1799 5530 1886 5795 1851 5507 1813 6258 1980 5574 1968 5775 1930 6089 1834 5788 1871 5845 1934 5842 1835 5639 1794 6252 1950 5831 1897 5725 1793 6322 1782 5514 1938 5903 1919 5786 1766 5654 1908 5585 1955 6074 1802 5607 1961 6206 1978 5886 1970 5896 1900 5625 1920 5812 1847 5911 1773 5932 1979 5757 1966 5547 1975 5940 1975 5980 1910 5641 1820 5773 1802 5535 1840 5918 1839 5372 1806 5355 1834 5995 1897 5811 1877 5841 1870 5628 1976 5894 1987 5775 1795 5573 1794 5585 1795 5547 1843 5496 1898 5886 1812 5498 1965 5651 1839 5933 1897 5942 1800 5833 1827 5968 1983 5633 1961 6323 1893 5728 1855 5681 1819 5945 1895 5994 1834 5871 1825 5692 1860 6265 1947 5844 1804 5522 1825 5815 1978 5766 1860 5860 1877 5770 1838 5717 1774 5762 1893 5676 1873 5596 1797 6024 1986 5741 1974 5506 1837 5756 1937 5886 1898 5655 1814 5557 1813 5775 1829 6087 1983 6004 1894 5540 1915 6007 1892 5938 1875 5783 1882 5875 1870 5642 1956 6136 1801 5993 1902 5860 1828 5884 1838 5687 1849 6069 1860 5608 1787 6154 1863 5771 1820 6042 1954 5428 1777 5836 1930 5763 1789 5810 1865 5963 1917 5553 1966 5493 1856 5746 1935 5701 1810 5853 1926 5971 1871 5881 1778 5716 1892 5857 1847 5805 1972 5809 1981 6381 1831 6035 1844 6164 1894 5478 1917 5491 1916 6214 1825 5804 1949 5565 1987 5563 1909 6203 1784 5908 1923 5933 1900 5826 1885 5857 1958 6180 1798 5838 1983 6158 1812 5676 1936 6105 1806 5922 1805 5774 1845 5603 1953 6059 1959 5900 1921 5885 1881 5648 1893 5670 1851 5602 1773 6003 1923 6047 1780 5840 1847 5772 1890 5692 1761 5588 1980 5689 1909 5917 1793 5611 1952 5886 1834 6167 1986 5607 1825 5802 1823 5797 1778 5994 1835 5889 1867 5738 1840 5797 1771 6085 1763 5908 1785 6116 1779 5631 1943 6247 1959 5977 1814 5622 1878 5597 1865 5885 1854 5697 1857 5734 1794 6252 1880 5785 1771 6099 1905 5765 1869 6002 1875 5864 1928 6118 1984 5887 1810 5841 1820 6054 1892 5945 1807 5367 1886 6016 1829 5745 1969 5780 1921 5477 1834 6325 1814 5685 1963 5601 1975 6358 1845 6006 1791 5558 1966 5766 1940 6163 1903 5856 1970 5735 1948 6253 1853 6063 1938 5478 1896 6063 1916 5656 1802 5618 1882 5636 1853 5849 1778 6347 1945 5677 1825 5761 1970 5541 1948 5985 1957 6051 1798 5566" fill="none" stroke="none" marker-start="url(#m2)" marker-mid="url(#m2)" marker-end="url(#m2)"/>
<line x1="41" y1="494.2" x2="41" y2="646" stroke="#222" stroke-width="1.07"/>
<line x1="40.5" y1="645.5" x2="221.3" y2="645.5" stroke="#222" stroke-width="1.07"/>
<line x1="38.3" y1="622.5" x2="41" y2="622.5" stroke="#333" stroke-width="1.0"/>
<text x="36.4" y="626.3" font-size="10.3" fill="#111" text-anchor="end">60</text>
<line x1="38.3" y1="593.8" x2="41" y2="593.8" stroke="#333" stroke-width="1.0"/>
<text x="36.4" y="597.6" font-size="10.3" fill="#111" text-anchor="end">70</text>
<line x1="38.3" y1="565" x2="41" y2="565" stroke="#333" stroke-width="1.0"/>
<text x="36.4" y="568.8" font-size="10.3" fill="#111" text-anchor="end">80</text>
<line x1="38.3" y1="536.2" x2="41" y2="536.2" stroke="#333" stroke-width="1.0"/>
<text x="36.4" y="540" font-size="10.3" fill="#111" text-anchor="end">90</text>
<line x1="38.3" y1="507.4" x2="41" y2="507.4" stroke="#333" stroke-width="1.0"/>
<text x="36.4" y="511.2" font-size="10.3" fill="#111" text-anchor="end">100</text>
<line x1="74.2" y1="645.5" x2="74.2" y2="648.2" stroke="#333" stroke-width="1.0"/>
<text x="74.2" y="657.9" font-size="10.3" fill="#111" text-anchor="middle">6</text>
<line x1="131" y1="645.5" x2="131" y2="648.2" stroke="#333" stroke-width="1.0"/>
<text x="131" y="657.9" font-size="10.3" fill="#111" text-anchor="middle">7</text>
<line x1="187.4" y1="645.5" x2="187.4" y2="648.2" stroke="#333" stroke-width="1.0"/>
<text x="187.4" y="657.9" font-size="10.3" fill="#111" text-anchor="middle">other</text>
<text x="130.8" y="670.9" font-size="10.6" fill="#000" text-anchor="middle">Cluster</text>
<text x="14" y="570.2" font-size="10.6" fill="#000" text-anchor="middle" transform="rotate(-90 14 570.2)">Chronologcial age</text>
<polyline points="74.2,529.7 74.2,526.5 131,526.5 131,529.7" fill="none" stroke="#555" stroke-width="0.8"/>
<text x="102.6" y="525.4" font-size="10.35" fill="#111" text-anchor="middle">0.00041</text>
<polyline points="74.2,517.3 74.2,514.1 187.4,514.1 187.4,517.3" fill="none" stroke="#555" stroke-width="0.8"/>
<text x="130.8" y="513" font-size="10.35" fill="#111" text-anchor="middle">1.2e−05</text>
<polyline points="131,504.5 131,501.3 187.4,501.3 187.4,504.5" fill="none" stroke="#555" stroke-width="0.8"/>
<text x="159.2" y="500.2" font-size="10.35" fill="#111" text-anchor="middle">0.19</text>
<text x="5.6" y="498.8" font-size="12.5" fill="#000" font-weight="bold">d</text>
<line x1="298.2" y1="555.5" x2="298.2" y2="581.4" stroke="#000" stroke-width="1.0"/>
<line x1="298.2" y1="603.3" x2="298.2" y2="637.7" stroke="#000" stroke-width="1.0"/>
<polygon points="278.3,581.4 278.3,588.8 286.4,592 278.3,595.4 278.3,603.3 319,603.3 319,595.4 310.9,592 319,588.8 319,581.4" fill="#264c53" stroke="#000" stroke-width="1.0" stroke-linejoin="round"/>
<line x1="286.4" y1="592" x2="310.9" y2="592" stroke="#000" stroke-width="1.7"/>
<polyline transform="scale(.1)" points="3076 5483 3007 5666 2984 5934 2898 5816 2912 6025 2989 6143 2985 5850 3026 5755 3029 6150 2898 6031 3001 5937 2888 5818 2936 5750 2902 5941 2970 5813 3048 5991 3015 6138 3050 6074 2867 5789 2944 6083 2954 6103 3066 5978 2984 6035 2979 5962 2917 5815 2952 5880 2886 6177 3096 6009 2868 5883 3039 5563 3045 5829 2965 6073 3035 5914 3089 6206 2874 5473 3012 6048 3063 5932 3094 6216 2967 5707 2875 5858 2933 5915 3078 6123 3028 5812 3065 6054 3002 6075 3012 5980 2887 5926 2956 6025 2954 6002 3081 6155 2947 6038 2974 6123 3028 5962 2923 6002 2944 6025 3076 6121 2872 6166 3023 6027 2992 6122 2900 6177 3063 5803 3074 6140 3044 5909 2983 5941 3011 5838 2908 5921 2996 5814 2967 6183 2970 5847 2947 6371 2953 5695 2886 5925 2985 5937 2955 5877 3058 5790 3055 6035 3027 6015 2953 5786 2872 5672 3090 5761 2901 6000 3053 5964 2983 5867 3093 5966 2920 5955 3006 5837 3024 5999 2875 5842 2903 6107 3091 5847 3018 6075 3068 5850 2946 5966 2904 5857 2891 6132" fill="none" stroke="none" marker-start="url(#m0)" marker-mid="url(#m0)" marker-end="url(#m0)"/>
<line x1="356.3" y1="559" x2="356.3" y2="584.7" stroke="#000" stroke-width="1.0"/>
<line x1="356.3" y1="603.2" x2="356.3" y2="625" stroke="#000" stroke-width="1.0"/>
<polygon points="337.1,584.7 337.1,592.4 345.1,594.4 337.1,596.4 337.1,603.2 377.1,603.2 377.1,596.4 369.1,594.4 377.1,592.4 377.1,584.7" fill="#f4923a" stroke="#000" stroke-width="1.0" stroke-linejoin="round"/>
<line x1="345.1" y1="594.4" x2="369.1" y2="594.4" stroke="#000" stroke-width="1.7"/>
<polyline transform="scale(.1)" points="3659 6254 3464 5879 3455 5977 3552 5956 3594 5890 3678 5850 3610 5673 3671 5886 3646 5552 3623 5660 3484 5669 3530 5803 3616 5731 3480 5799 3490 5979 3649 5864 3448 5917 3549 5968 3484 5851 3525 5906 3634 5974 3653 5863 3639 5769 3577 6033 3647 5690 3460 5874 3482 5922 3447 5907 3605 5884 3630 5891 3530 6021 3599 5821 3461 6027 3458 5825 3503 5963 3651 5955 3454 6112 3572 5788 3611 5983 3645 5652 3491 6143 3484 5809 3505 5785 3623 6011 3551 5769 3566 5931 3509 5674 3524 5590 3464 5912 3518 5813 3545 6100 3620 6303 3632 5871 3651 5740 3467 5887 3546 6024 3661 6031 3663 5961 3590 6086 3677 6060 3515 5774 3617 6087 3470 6038 3485 5933 3613 5886 3518 6167 3657 6037 3463 5799 3595 5999 3622 6269 3577 5950 3553 5973 3553 5874 3542 5906 3642 5896 3592 6023 3675 6071 3486 5854 3481 6146 3559 5933 3534 5791 3494 5943 3542 5863 3641 6156 3488 6078 3654 6124 3548 5761 3606 5948 3606 5959 3564 6020 3492 6161 3534 5962 3565 5992 3512 5874 3661 5926 3453 5861 3568 6022 3628 6042 3631 6165 3531 5855 3530 5658 3449 5729 3604 5880 3507 6326 3600 5771 3467 5914 3610 5861 3467 6322 3500 5941 3532 5946 3597 5782 3547 5819 3537 5929 3649 5992 3677 5673 3519 6021 3475 6284 3557 6054 3618 5824 3555 5598 3528 6097 3488 5613 3679 5986 3537 5905 3673 6024 3538 5932 3586 5635 3511 6041 3672 6122 3562 5843 3490 5936 3568 5949 3620 5894 3635 6042 3455 5856 3651 5868 3509 5814 3642 5813 3541 6082 3520 5644 3670 5850 3471 5794 3479 5882 3587 5831 3544 5944 3567 6124 3596 5890 3630 6081 3509 5878 3509 5625 3606 6204 3498 5722 3676 6067 3527 5955 3470 5969 3507 5837 3561 5915 3671 5920 3601 5999 3540 6070 3664 6304 3544 5915 3640 6067 3509 5862 3603 5916 3469 5852 3613 5694 3595 6068 3641 5736 3510 5979 3519 6086 3562 5900 3584 5977 3542 6110 3467 5859 3479 5968 3548 6193 3568 6000 3610 5842 3469 5847 3588 5759 3629 5742 3614 5744 3474 5924 3679 6143 3537 5786 3511 5706 3500 5863 3674 5940 3599 5809 3538 5706 3447 6174 3503 5952 3464 5985 3654 5939 3578 5758 3534 6002 3632 6023 3482 6148 3529 5902 3591 6040 3614 6049 3559 5915 3548 5781 3605 5695 3581 5928 3488 5887 3597 5745 3510 5357 3616 5923 3553 5942 3624 5911 3592 5900 3463 5907 3539 6150 3611 5804 3537 5944 3530 6071 3633 5947 3593 5525 3568 5967 3451 6267 3616 5844 3459 5989 3591 5809 3514 6104 3523 5942 3488 6000 3497 5939 3547 5871 3646 5957 3643 6015 3501 5892 3565 5578 3670 5847 3617 5850 3495 5947 3621 5884 3466 5642 3662 5997 3539 5987 3501 6142 3462 5928 3623 5862 3629 5980 3565 5948 3525 5663 3598 6127 3605 6307 3608 5880 3449 6097 3635 6024 3643 5894 3577 6228 3587 6126 3497 5838 3666 5993 3491 5845 3512 5912 3625 6047 3499 5947 3540 5961 3568 5953 3454 5915 3564 5841 3521 5993 3556 6055 3609 5919 3562 5707 3554 6075 3657 5853 3629 6051 3596 6020 3466 5852 3638 5861 3455 5668 3666 6040 3499 5561 3538 5969 3657 6131 3588 5944 3573 5946 3496 6178 3474 5938 3578 6104 3626 5921 3565 5887 3571 5803 3541 5952 3599 5944 3513 6105 3665 5884 3674 5784 3592 6329 3607 6023 3517 5983 3511 5882 3565 6095 3555 5657 3483 5916 3474 6002 3653 6091 3509 6168 3607 5829 3624 5984 3448 6105 3543 6113 3524 5806 3536 5929 3663 6062 3614 5830 3450 5593 3525 5783 3633 5889 3610 6089 3487 5710 3677 5609 3527 5864 3539 5854 3546 5996 3511 5892 3641 6191 3493 5873 3578 5782 3616 5991 3678 6001 3649 5775 3489 6044 3481 6049 3639 5978 3482 6039 3612 5649 3465 5899 3607 5876 3609 5968 3447 5759 3490 6097 3540 6013 3454 6007 3563 5923 3578 5974 3491 5877 3486 5696 3658 5871 3495 6080 3464 6015 3595 6156 3643 5896 3645 5959 3552 6027 3568 5746 3541 6029 3666 6084 3572 5927 3543 5888 3530 6029 3651 6228 3589 5944 3584 5969 3579 5737 3629 5894 3470 5890 3640 6016 3562 5986 3564 5825 3678 5895 3540 5729 3652 5882 3646 6175 3492 5988 3586 5935 3524 6144 3448 5753 3642 6240 3495 5834 3580 5930 3482 5844 3607 6262 3481 6054 3606 6082 3501 5807 3581 5921 3534 5962 3598 5744 3543 5944 3544 5975 3672 5917 3479 5898 3580 5896 3562 5779 3556 5825 3489 5758 3538 5977 3633 5793 3599 5738 3656 5943 3604 5997 3639 5939 3648 6056 3648 5891 3503 6083 3488 5760 3634 6036 3470 6014 3536 5716 3607 5955 3599 6220 3466 5967 3500 5831 3646 6199 3677 5845 3487 5805 3569 6153 3568 5981 3657 5837 3574 6087 3620 5867 3673 5961 3570 5645 3508 5962 3663 5826 3640 6056 3461 6205 3456 5905 3568 5707 3450 6051 3674 5981 3556 5870 3460 5699 3571 5965 3645 5975 3654 6128 3518 5870 3515 5958 3512 6145 3629 5958 3586 5889 3454 6122 3625 6121 3467 6106 3479 6029 3659 6094 3583 6208 3568 5838 3467 5855 3627 5960 3475 5928 3565 5802 3489 6040 3644 6149 3617 6089 3562 6038 3552 5834 3486 6013 3578 5965 3569 5990 3455 5669 3514 6020 3471 5961 3553 5626 3593 5936 3668 5922 3573 5991 3510 5960 3452 5995 3676 5704 3586 5818 3524 5477 3649 6276 3560 5930 3654 6145 3607 5873 3644 5832 3630 5756 3567 6145 3591 6040 3659 5837 3657 5765 3581 5831 3564 6010 3465 5929 3466 6045 3501 6186 3527 5911 3520 5870 3620 6058 3469 5946 3621 6165 3652 5946 3675 5913 3603 5789 3539 5908 3477 5803 3455 5988 3634 5829 3582 5958 3577 6021 3570 5994 3610 5699 3584 5915 3544 5857 3554 6154 3504 6154 3564 6225 3546 5520 3518 5953 3533 5836 3621 6117 3583 5965 3596 5947 3520 5790 3514 5950 3503 6295 3539 6051 3534 6017 3576 5976 3596 5544 3614 6094 3574 6154 3509 5972 3665 6069 3535 6067 3510 5941 3588 5618 3505 6113 3458 5834 3552 5772 3532 5891 3534 5974 3535 6198 3552 5841 3499 5945 3636 6047 3582 5980 3559 6026 3622 6076 3530 5681 3607 6199 3676 6075 3542 5952" fill="none" stroke="none" marker-start="url(#m1)" marker-mid="url(#m1)" marker-end="url(#m1)"/>
<line x1="414.7" y1="548" x2="414.7" y2="574.3" stroke="#000" stroke-width="1.0"/>
<line x1="414.7" y1="592.8" x2="414.7" y2="620" stroke="#000" stroke-width="1.0"/>
<polygon points="394.9,574.3 394.9,582.5 403,584 394.9,585.5 394.9,592.8 435.5,592.8 435.5,585.5 427.4,584 435.5,582.5 435.5,574.3" fill="#04a4db" stroke="#000" stroke-width="1.0" stroke-linejoin="round"/>
<line x1="403" y1="584" x2="427.4" y2="584" stroke="#000" stroke-width="1.7"/>
<polyline transform="scale(.1)" points="4196 5789 4234 5848 4060 5746 4259 5886 4138 5758 4186 5798 4046 5719 4201 5869 4205 5742 4236 5801 4118 5630 4049 5789 4036 5779 4136 5885 4183 5941 4181 5976 4045 5945 4118 5738 4184 5868 4249 6143 4049 5501 4147 6000 4238 5916 4131 5879 4162 5865 4163 6083 4134 5803 4208 5708 4128 5945 4220 6162 4236 5893 4193 5761 4200 5700 4090 5695 4173 5924 4113 5750 4190 6098 4183 6062 4122 5729 4039 5737 4128 5690 4242 5895 4052 5800 4084 5758 4190 5963 4091 5776 4104 6115 4206 5788 4249 5868 4047 5745 4122 5751 4251 6040 4198 5665 4040 5650 4116 5874 4036 5966 4069 5863 4084 5816 4161 5786 4208 5963 4233 5917 4159 5760 4232 5984 4184 5947 4183 5847 4037 6064 4243 5943 4078 6119 4032 6108 4134 5775 4065 6075 4229 5817 4140 5872 4127 5946 4173 5735 4132 5828 4079 5808 4198 5664 4151 5783 4179 5594 4042 5896 4255 6056 4244 5871 4207 5881 4036 5612 4222 5859 4091 6009 4094 6000 4130 5695 4038 5977 4071 5828 4169 5799 4106 5853 4167 5814 4212 5953 4038 5933 4065 5605 4157 5832 4224 5676 4073 5964 4098 5591 4248 5762 4111 5889 4080 5896 4195 5781 4129 5732 4059 5862 4209 6008 4140 5949 4081 5748 4142 5790 4240 5783 4220 5892 4135 6107 4193 5972 4115 5784 4203 5972 4231 5611 4259 6056 4192 5774 4195 5640 4256 5767 4041 5842 4034 5591 4116 5956 4117 5848 4119 6024 4237 5965 4167 5959 4155 5708 4151 5921 4221 5901 4119 5650 4187 5928 4229 5914 4075 5842 4206 5597 4111 6184 4078 5672 4037 6030 4171 5879 4129 5925 4043 5693 4245 5882 4065 5859 4117 5734 4240 5788 4111 5747 4038 5624 4183 5720 4058 5800 4116 5612 4198 5565 4070 5807 4117 5765 4093 5917 4125 5775 4235 5833 4081 5673 4110 5514 4031 5820 4234 5924 4094 5939 4246 5421 4159 5686 4187 5951 4253 5580 4153 5782 4099 5583 4092 5628 4089 5912 4161 5577 4065 5744 4072 5878 4205 5888 4247 5821 4116 5669 4096 5884 4071 5646 4109 5775 4231 5982 4124 5859 4166 5933 4194 5956 4054 5807 4263 5750 4094 5972 4163 5790 4133 6089 4165 5673 4210 5725 4191 6037 4258 5842 4088 5944 4155 6018 4032 5937 4259 5845 4242 5911 4184 5878 4205 5789 4179 5752 4215 5992 4127 5921 4082 5586 4055 5875 4189 5847 4036 5893 4091 5621 4177 5811 4203 5744 4088 5619 4068 5638 4095 5800 4181 6025 4064 5833 4220 5727 4058 5608 4149 5788 4260 5796 4250 5764 4103 5795 4122 5890 4072 5946 4168 5605 4175 5803 4142 5820 4178 5987 4118 5777 4258 5781 4185 5809 4131 5969 4076 5711 4203 5821 4207 5723 4109 5749 4237 5986 4191 5808 4047 5780 4225 5611 4106 5653 4142 5861 4255 5625 4067 5712 4161 5690 4047 5934 4234 5772 4062 5848 4209 5878 4202 5912 4212 5908 4231 5919 4169 5894 4252 5685 4169 5851 4162 5752 4164 5934 4076 5877 4083 5805 4074 5832 4243 5945 4143 6003 4110 5687 4106 5778 4106 5746 4145 5860 4114 5950 4068 6049 4044 5672 4114 5679 4083 5754 4171 6179 4141 5870 4110 6145 4230 5607 4144 6054 4253 5623 4160 5894 4031 6219 4188 5956 4078 5809 4047 5876 4071 5876 4160 5725 4219 5755 4191 6093 4063 5746 4037 5701 4067 5798 4205 5832 4069 6115 4227 5797 4081 5675 4055 5803 4051 5923 4121 6024 4155 5631 4110 5791 4079 5849 4072 5739 4227 5556 4259 5686 4093 5895 4093 6053 4154 5504 4180 6011 4060 5782 4183 6178 4217 5756 4143 5838 4136 5891 4251 5795 4057 6011 4227 5619 4208 5553 4213 5929 4126 5771 4206 5810 4039 5749 4086 5792 4213 5837 4093 5997 4159 6005 4261 5911 4229 5756 4217 5920 4103 6017 4260 5893 4128 6052 4104 5942 4232 6007 4206 5816 4078 5717 4047 6026 4115 5823 4088 5781 4236 5912 4105 5480 4137 5852 4077 5893 4123 5791 4127 5704 4182 5853 4215 5929 4107 5859 4211 6009 4036 5896 4151 5848 4251 5842 4143 5720 4147 5937 4140 5866 4047 6107 4231 5721 4070 5872 4255 5593 4240 5889 4208 5874 4036 6248 4106 5791 4238 5913 4086 5832 4034 5874 4102 5963 4231 5927 4196 5781 4082 5815 4211 5980 4165 6005 4042 5761 4257 5953 4213 6063 4188 5771 4263 5879 4051 6016 4225 6236 4207 5726 4066 5860 4149 6065 4098 5742 4173 5778 4142 5697 4113 5940 4040 5957 4195 5674 4157 5777 4140 5717 4094 6076 4172 5771 4161 5947 4151 5690 4033 5653 4031 5562 4087 6002 4061 5737 4209 5711 4235 5841 4149 5936 4235 5931 4100 5897 4141 6100 4226 5802 4074 6149 4049 5951 4189 5807 4170 5919 4226 5941 4105 6042 4116 5652 4123 5612 4183 6055 4135 5797 4147 5725 4059 5806 4137 6074 4235 5727 4198 5673 4178 6040 4044 5984 4203 6097 4035 5910 4101 5799 4039 5823 4135 5740 4218 5787 4120 5850 4259 5765 4048 5771 4112 6004 4037 6076 4238 5854 4068 6131 4260 5617 4209 5871 4059 6004 4224 5931 4162 5940 4217 5761 4058 5910 4127 5926 4039 5992 4073 5912 4133 5729 4070 5942 4176 6025 4133 5731 4125 5873 4120 5930 4168 5758 4099 5902 4238 5632 4136 5897 4232 6034 4245 5764 4224 6068 4217 5794 4199 5822 4048 6023 4163 5697 4137 5748 4055 5716 4228 6283 4098 5794 4036 5769 4132 5891 4069 5640 4140 6010 4046 5945 4059 5744 4212 5621 4212 5878 4078 5791 4200 5879 4116 5541 4088 5732 4145 5913 4249 5704 4181 6040 4213 5975 4262 5894 4216 5786 4238 5839 4187 5945 4159 5849 4096 5797 4092 5480 4052 5821 4135 5987 4073 5953 4195 5824 4124 6013 4211 5944 4057 5775 4232 5822 4063 5914 4098 5893 4146 5797 4229 5956 4146 5753 4084 6096 4040 5695 4219 5792 4059 5818 4059 5793 4059 5898 4038 5679 4140 5543 4069 5793 4202 5867 4125 5834 4150 5868 4031 5909 4148 5815 4116 5839 4140 5892 4252 5604 4095 5816 4083 5940 4215 5888 4205 5673 4154 5948 4164 5811 4061 5974 4031 5862 4117 5733 4156 5749 4037 5876 4069 5780 4095 5703 4152 5987 4143 5970 4146 5689 4210 5898 4211 5786 4099 5681 4132 5760 4172 5907 4228 5897 4148 5834 4062 5669 4164 5889 4142 6020 4081 5723 4110 6184 4073 5875 4045 5829 4203 5929 4050 5616 4144 5758 4169 5548 4200 5801 4121 5865 4229 5900 4185 5898 4227 5992 4195 6014 4139 5900 4150 5679 4043 5753 4183 5871 4200 5888 4255 5710 4196 6271 4173 5874 4214 5900 4053 5800 4063 6127 4163 5848 4184 5915 4158 6104 4221 6047 4062 6274 4126 5696 4073 5932 4231 5843 4215 5444 4252 6110 4079 5854 4226 5928 4062 5775 4170 5917 4231 6101 4039 5809 4118 5810 4052 5837 4186 5787 4237 5849 4158 5722 4225 5748 4227 5829 4178 5493 4187 5932 4144 5815 4080 5920 4161 5830 4242 5766 4140 5909 4050 5989 4246 5741 4074 5772 4128 5986 4185 5916 4224 6079 4034 5617 4248 5864 4117 5783 4167 5595 4239 5781 4128 5908 4049 5735 4153 5795 4163 5923 4259 6025 4201 5338 4233 5599 4255 5918 4063 5848 4216 5937 4036 5904 4125 5634 4073 5927 4103 5841 4193 6051 4170 5992 4165 5719 4136 5731 4114 5776 4096 6027 4050 5584 4064 5509 4210 5533 4187 5944 4161 5575 4038 5837 4261 5884 4152 5885 4179 5971 4145 5808 4134 5849 4252 6052 4088 6006 4219 5917 4113 5673 4205 5925 4076 5570 4089 5883 4165 5792 4240 5879 4052 5889 4096 5791 4082 5787 4205 5803 4088 5649 4228 5922 4253 5826 4162 5846 4177 5992 4227 5720 4134 5909 4201 5839 4112 5991 4228 5807 4053 5956 4159 5855 4043 5801 4190 5848 4124 5975 4167 6001 4158 5454 4065 5598 4089 5883 4186 5908 4168 5841 4233 5950 4135 5865 4048 5686 4090 5714 4072 5816 4262 5846 4259 5742 4087 5875 4119 5718 4262 5813 4056 5500 4240 6086 4101 5827 4153 5827 4179 5826 4107 5758 4065 5816 4112 5959 4184 5714 4154 5742 4258 5863 4210 5895 4230 5868 4184 5750 4127 5708 4049 5755 4201 5816 4254 5844 4077 6114 4102 5954 4115 5802 4231 6057 4033 5727 4093 5814 4069 5743 4203 5728 4182 5741 4043 5757 4227 5752 4109 5949 4054 5633 4199 6062 4081 5769 4210 5759 4146 5922 4229 5616 4258 5573 4047 5781 4082 6003 4089 5803 4262 5714 4046 5809 4051 5766 4041 5777 4049 6075 4047 5865 4135 5712 4254 6034 4077 5759 4112 5820 4068 5729 4131 5895 4226 5920 4038 5939 4145 5734 4244 5999 4053 5816 4132 5831 4198 5817 4080 5713 4086 6022 4161 5779 4191 6086 4224 6031 4105 5697 4114 5780 4105 5833 4260 5964 4202 5930 4178 6081 4143 5887 4231 5886 4131 5704 4260 5722 4173 5733 4054 5739 4231 6126 4205 5718 4043 5903 4085 5857 4239 5820 4235 5780 4220 5862 4166 5741 4175 5750 4074 5783 4195 5809 4145 6024 4179 5956 4077 5833 4226 5900 4207 5814 4158 5730 4188 5951 4141 6036 4210 5766 4158 5603 4168 5877 4157 5785 4257 5685 4104 6111 4053 5948 4171 5774 4170 5924 4261 5811 4228 5686 4106 5594 4132 5524 4044 5999 4071 5966 4140 6127 4214 5603 4079 5992 4076 5866 4235 5773 4115 5874 4083 5915 4143 5893 4046 5608 4202 5974 4260 5955 4179 5603 4093 5812 4192 5614 4060 5590 4032 5828 4125 5740 4201 6029 4069 5700 4198 5716 4157 5907 4227 5988 4113 5506 4190 5751 4168 6037 4096 5751 4149 5881 4182 5816 4192 5874 4196 5600 4152 5884 4166 5611 4096 5694 4130 5740 4128 5880 4225 5967 4061 5701 4176 5837 4182 5840 4211 5874 4041 5481 4128 5789 4102 6159 4177 5753 4129 5665 4193 5858 4256 5754 4190 5704 4130 5867 4197 5760 4199 5543 4085 5668 4218 5949 4053 5550 4201 5780 4139 5842 4042 5682 4094 5776 4112 5746 4223 5794 4194 5650 4139 6233 4204 5727 4093 5788 4058 5789 4043 5964 4133 5559 4202 5806 4039 5714 4224 5971 4207 5911 4226 5822 4263 5971 4260 6089 4228 5742 4076 5898 4167 5634 4248 5548 4236 5786 4231 6014 4110 5800 4157 5858 4167 5630 4092 5692 4111 5781 4183 5395 4102 6204 4073 5955 4067 5905 4095 5709 4249 5824 4054 5697 4173 5691 4113 5751 4128 5835 4249 5836 4061 5817 4066 6114 4175 5758 4096 5845 4199 5755 4201 5827 4245 5835 4247 6110 4228 5926 4262 5858 4219 5821 4218 6065 4212 5737 4210 5706 4159 5715 4108 5794 4047 5982 4077 5910 4156 6051 4220 5458 4077 5783 4114 5871 4245 5831 4157 5892 4041 5749 4251 5704 4113 6089 4171 5916 4038 5726 4157 5543 4240 5845 4066 6096 4159 5784 4098 5716 4207 5676 4110 5945 4079 5757 4177 5817 4149 5759 4238 5832 4039 5894 4240 5782 4093 5982 4084 5817 4060 6095 4147 6016 4160 5866 4100 5679 4235 6015 4209 5878 4108 5671 4163 5948 4161 5943 4238 5657 4051 6061 4220 5947 4142 5859 4103 5884 4108 5674 4234 5891 4046 5868 4041 5834 4137 5913 4121 5712 4116 6008 4239 6104 4147 6039 4108 5621 4072 6009 4257 5802 4182 5655 4037 5719 4074 5795 4095 5876 4034 5688 4114 6000 4176 5969 4148 5718 4154 5851 4092 5767 4246 5921 4108 5972 4031 5874 4215 5800 4135 5777 4142 5611 4120 6170 4164 5845 4229 5736 4149 5811 4035 5702 4190 5852 4225 5904 4164 5736 4224 5531 4182 5715 4033 5719 4065 6070 4190 5839 4051 5970 4069 5800 4031 5728 4177 5814 4096 5707 4082 6046 4187 5940 4253 5842 4220 5821 4188 5975 4221 5932 4053 5785 4035 5784" fill="none" stroke="none" marker-start="url(#m2)" marker-mid="url(#m2)" marker-end="url(#m2)"/>
<line x1="263.6" y1="494.2" x2="263.6" y2="646" stroke="#222" stroke-width="1.07"/>
<line x1="263.1" y1="645.5" x2="450.3" y2="645.5" stroke="#222" stroke-width="1.07"/>
<line x1="260.9" y1="615.6" x2="263.6" y2="615.6" stroke="#333" stroke-width="1.0"/>
<text x="259" y="619.4" font-size="10.3" fill="#111" text-anchor="end">60</text>
<line x1="260.9" y1="583.5" x2="263.6" y2="583.5" stroke="#333" stroke-width="1.0"/>
<text x="259" y="587.3" font-size="10.3" fill="#111" text-anchor="end">70</text>
<line x1="260.9" y1="551.5" x2="263.6" y2="551.5" stroke="#333" stroke-width="1.0"/>
<text x="259" y="555.3" font-size="10.3" fill="#111" text-anchor="end">80</text>
<line x1="260.9" y1="519.4" x2="263.6" y2="519.4" stroke="#333" stroke-width="1.0"/>
<text x="259" y="523.2" font-size="10.3" fill="#111" text-anchor="end">90</text>
<line x1="298.2" y1="645.5" x2="298.2" y2="648.2" stroke="#333" stroke-width="1.0"/>
<text x="298.2" y="657.9" font-size="10.3" fill="#111" text-anchor="middle">6</text>
<line x1="356.3" y1="645.5" x2="356.3" y2="648.2" stroke="#333" stroke-width="1.0"/>
<text x="356.3" y="657.9" font-size="10.3" fill="#111" text-anchor="middle">7</text>
<line x1="414.7" y1="645.5" x2="414.7" y2="648.2" stroke="#333" stroke-width="1.0"/>
<text x="414.7" y="657.9" font-size="10.3" fill="#111" text-anchor="middle">other</text>
<text x="356.6" y="670.9" font-size="10.6" fill="#000" text-anchor="middle">Cluster</text>
<text x="242" y="570.2" font-size="10.6" fill="#000" text-anchor="middle" transform="rotate(-90 242 570.2)">Predicted bioenergetic age</text>
<polyline points="298.2,530.7 298.2,527.5 356.3,527.5 356.3,530.7" fill="none" stroke="#555" stroke-width="0.8"/>
<text x="327.2" y="526.4" font-size="10.35" fill="#111" text-anchor="middle">0.8</text>
<polyline points="298.2,517.6 298.2,514.4 414.7,514.4 414.7,517.6" fill="none" stroke="#555" stroke-width="0.8"/>
<text x="356.4" y="513.3" font-size="10.35" fill="#111" text-anchor="middle">4.3e−10</text>
<polyline points="356.3,504.8 356.3,501.6 414.7,501.6 414.7,504.8" fill="none" stroke="#555" stroke-width="0.8"/>
<text x="385.5" y="500.5" font-size="10.35" fill="#111" text-anchor="middle">1.8e−36</text>
<line x1="496.6" y1="585.6" x2="677.6" y2="585.6" stroke="#888" stroke-width="0.7" stroke-dasharray="3.5 3"/>
<line x1="530.2" y1="553" x2="530.2" y2="576.2" stroke="#000" stroke-width="1.0"/>
<line x1="530.2" y1="593" x2="530.2" y2="612" stroke="#000" stroke-width="1.0"/>
<polygon points="510.5,576.2 510.5,581.6 518.5,584 510.5,586.5 510.5,593 550.7,593 550.7,586.5 542.7,584 550.7,581.6 550.7,576.2" fill="#264c53" stroke="#000" stroke-width="1.0" stroke-linejoin="round"/>
<line x1="518.5" y1="584" x2="542.7" y2="584" stroke="#000" stroke-width="1.7"/>
<polyline transform="scale(.1)" points="5294 5871 5336 5890 5299 6311 5359 5834 5371 5850 5293 5899 5246 5721 5302 5750 5298 5932 5349 5810 5292 6045 5189 5971 5333 5782 5381 5776 5221 5575 5371 5790 5324 5986 5314 5710 5283 5824 5199 5622 5395 5757 5201 5844 5322 5829 5386 5874 5317 5731 5210 5814 5305 5755 5416 5792 5366 5899 5205 5757 5382 5699 5258 5853 5225 5865 5199 5837 5385 5887 5361 5756 5288 5836 5353 5852 5231 5948 5397 5811 5269 5752 5242 5701 5320 5924 5228 5772 5391 6011 5249 5844 5389 5671 5254 5796 5290 5870 5233 5937 5269 6162 5253 5797 5338 5705 5223 6027 5392 5678 5406 5829 5372 5657 5349 5794 5219 5801 5356 5985 5351 5988 5413 5899 5218 5734 5194 5820 5339 5758 5374 5962 5413 6004 5277 5983 5201 5865 5250 5848 5368 5716 5412 5745 5320 5782 5282 5871 5232 5827 5381 5808 5398 5899 5383 5893 5253 6162 5392 6082 5317 5883 5236 5890 5359 5588 5197 5797 5224 5699 5276 5726 5225 5974 5391 5647 5273 6371 5325 5541 5346 5795 5405 5994 5216 6264 5200 5657 5246 5597" fill="none" stroke="none" marker-start="url(#m0)" marker-mid="url(#m0)" marker-end="url(#m0)"/>
<line x1="587.3" y1="555" x2="587.3" y2="580.4" stroke="#000" stroke-width="1.0"/>
<line x1="587.3" y1="598.8" x2="587.3" y2="622.5" stroke="#000" stroke-width="1.0"/>
<polygon points="567,580.4 567,588.3 575.1,589.7 567,591 567,598.8 607.7,598.8 607.7,591 599.6,589.7 607.7,588.3 607.7,580.4" fill="#f4923a" stroke="#000" stroke-width="1.0" stroke-linejoin="round"/>
<line x1="575.1" y1="589.7" x2="599.6" y2="589.7" stroke="#000" stroke-width="1.7"/>
<polyline transform="scale(.1)" points="5869 5569 5771 5963 5859 5747 5905 5876 5873 5846 5839 5764 5798 6028 5841 6244 5986 5860 5808 5909 5979 5838 5956 5997 5821 5972 5929 6248 5840 5888 5889 5898 5983 5890 5935 5768 5856 5814 5948 5792 5973 5940 5890 5981 5829 5882 5863 6026 5879 5794 5850 6100 5912 5573 5766 5922 5921 5624 5764 5847 5867 6120 5762 5897 5863 5916 5931 6134 5940 5760 5761 5782 5883 5809 5918 6079 5784 5775 5970 5794 5943 5802 5769 5968 5799 5956 5900 6148 5986 5981 5772 5931 5938 6201 5962 5816 5902 5853 5812 5824 5970 6039 5780 5801 5808 5897 5838 5850 5916 5942 5980 5657 5876 6001 5869 5819 5899 6008 5834 5976 5917 6007 5901 5760 5771 6072 5803 5858 5986 6039 5916 6263 5808 5950 5764 5667 5984 5981 5852 5829 5862 5785 5883 6009 5900 5980 5829 5741 5812 5835 5977 6116 5955 5926 5954 5838 5950 5753 5961 5896 5893 5869 5850 5796 5945 6094 5934 6180 5967 5992 5987 5682 5778 5974 5919 5871 5829 5788 5816 5818 5953 5855 5835 6068 5841 5748 5799 5875 5898 6101 5972 5978 5924 6130 5968 5688 5987 5810 5976 6033 5807 5743 5790 6185 5802 5735 5947 5994 5767 5717 5973 6126 5767 5983 5776 6028 5925 5961 5789 5766 5785 5829 5863 5963 5975 5840 5880 5683 5885 5910 5828 5944 5792 5731 5959 5890 5890 5896 5906 5997 5873 5960 5760 5839 5904 6068 5856 5810 5973 6068 5871 6170 5797 6106 5821 5782 5887 5818 5939 5892 5891 6062 5918 5900 5781 6033 5795 5557 5979 6014 5892 5834 5849 5657 5810 6059 5833 5794 5764 5572 5886 5801 5866 5853 5853 5955 5895 5921 5904 5771 5961 5598 5899 5771 5976 5939 5770 6075 5798 5970 5905 5947 5794 5740 5864 5893 5845 5764 5857 5861 5863 5865 5800 6076 5794 6057 5822 5805 5929 6022 5926 5765 5773 5864 5928 6022 5787 5910 5802 6194 5809 6053 5918 5796 5939 5766 5944 6129 5786 5922 5821 6222 5979 5885 5774 5976 5815 5743 5761 5812 5837 6075 5826 6116 5856 5760 5861 6200 5839 5998 5928 6095 5781 6142 5853 5927 5908 5911 5816 5595 5865 5877 5811 5738 5903 5962 5764 5683 5790 5787 5882 5839 5942 5887 5796 5807 5762 5878 5815 5886 5970 5659 5865 6007 5867 6146 5774 5626 5975 5909 5969 5942 5931 5765 5885 5764 5817 5981 5864 5959 5896 5887 5804 6078 5906 6000 5825 5780 5869 6000 5955 5664 5851 6006 5866 5781 5933 5767 5837 6026 5881 5941 5807 5864 5782 5668 5904 6054 5773 5641 5781 5873 5840 5931 5899 5744 5900 6080 5899 5836 5917 6012 5764 6012 5828 5609 5925 5737 5927 5960 5777 6041 5863 6044 5867 5845 5913 5927 5780 5755 5760 5849 5952 5919 5969 5835 5951 6041 5811 6056 5791 5865 5949 5825 5905 5915 5895 6111 5918 5925 5982 6124 5960 5895 5924 5616 5987 5676 5834 5610 5843 5937 5853 6089 5760 5894 5904 5979 5937 5984 5936 5986 5817 6011 5808 6226 5832 5708 5819 5590 5909 5758 5969 5861 5949 6157 5927 5964 5778 5717 5786 6100 5836 6003 5775 5579 5840 5855 5917 6272 5857 5941 5953 5657 5858 5802 5820 5901 5939 6003 5875 6059 5984 6017 5821 5939 5983 5702 5967 5774 5908 5962 5972 6100 5828 5921 5835 5926 5842 6048 5849 5840 5837 5899 5964 5891 5938 5795 5975 5797 5861 5761 5853 5708 5806 6048 5802 5510 5771 5919 5952 5591 5764 5934 5957 5676 5809 5798 5837 6028 5772 5957 5931 5705 5852 5971 5964 5927 5869 5880 5961 5888 5978 6047 5936 6075 5766 5761 5903 5939 5973 6036 5891 5910 5766 6128 5911 5795 5887 6016 5861 5841 5876 6008 5820 5879 5949 5733 5955 5673 5781 5936 5775 5841 5912 5952 5931 5760 5849 5849 5810 5870 5896 5773 5971 5909 5976 6015 5871 5677 5951 5907 5868 6012 5855 5870 5953 5805 5941 5831 5815 5741 5806 5796 5964 6052 5879 5829 5893 5871 5760 5852 5886 6007 5986 5813 5903 5789 5974 5949 5886 5825 5895 5719 5791 5664 5867 5862 5781 5723 5818 5656 5766 5879 5969 5882 5943 6037 5853 5906 5847 5848 5882 5896 5968 5841 5923 5839 5781 6073 5951 5881 5954 5887 5768 5693 5981 5908 5956 5799 5883 5783 5951 6005 5966 5933 5885 6112 5890 5774 5772 5949 5858 5587 5970 5863 5773 6094 5938 5713 5982 5880 5873 6088 5940 5932 5914 5905 5855 5976 5964 5791 5907 6146 5842 5854 5896 6023 5890 5895 5776 5902 5792 5912 5787 5757 5873 5853 5866 5779 5853 5958 5858 5835 5915 6024 5809 5854 5884 5725 5780 5655 5817 5802 5802 5951 5842 5881 5819 5908 5899 5964 5824 5815 5948 5921 5968 5955 5832 5821 5832 5641 5972 6032 5907 5872 5921 5869 5953 5869 5873 5894 5933 6069 5985 5757 5956 5647 5847 5595 5771 5657 5787 5854 5974 5339 5844 6013 5892 5891 5918 5802 5852 5742 5811 6094 5821 5771 5897 5974 5792 6036 5928 6184 5890 5616 5808 5847 5920 5899 5970 5917 5770 5917 5885 5957 5889 5703 5785 5686 5963 5753 5882 5923 5925 6066 5859 5793 5896 6024 5778 5958 5851 5809 5926 5965 5945 5865 5922 5962 5815 6023 5958 6100 5975 5733 5798 5967 5798 5778 5891 5752 5918 6162 5809 5850 5984 5740 5912 5841 5857 5935 5892 6237 5826 5928 5800 5743 5778 5744 5974 6022 5862 6006 5845 5921 5936 5906 5960 5987 5803 5823 5955 6086 5899 5892 5972 6027 5837 5931 5838 5919 5941 5804 5829 5770 5853 5949 5962 5850 5801 5982 5898 5908 5835 5884 5854 5760 5985 5822 5913 6098 5939 5775 5914 6113 5969 5856 5823 6309 5840 5772 5833 5734 5896 5745 5819 5843 5986 5891 5868 6110 5892 5835 5776 5971 5941 6016 5778 6047 5788 5778 5796 5857 5972 5965 5947 5819 5797 5917 5902 5873 5845 5876 5925 5772 5954 5753 5767 5965 5973 5763 5769 5946 5769 5956 5918 5674 5832 5737 5967 5930 5934 5891 5919 5843 5793 5800 5772 5912 5891 6077 5977 6020 5772 6062 5840 6040 5795 5851 5786 5610 5790 5734 5861 5861 5962 5916 5961 6060 5864 5830 5855 5914 5856 5838 5979 5939 5926 5958 5987 5911 5803 5937 5829 5918 5822 6005 5929 6107 5788 5727 5949 5776 5940 5635 5965 5863 5902 5969" fill="none" stroke="none" marker-start="url(#m1)" marker-mid="url(#m1)" marker-end="url(#m1)"/>
<line x1="644.4" y1="549" x2="644.4" y2="575.2" stroke="#000" stroke-width="1.0"/>
<line x1="644.4" y1="592.3" x2="644.4" y2="617" stroke="#000" stroke-width="1.0"/>
<polygon points="624,575.2 624,582 632.2,583.8 624,585.7 624,592.3 665,592.3 665,585.7 656.8,583.8 665,582 665,575.2" fill="#04a4db" stroke="#000" stroke-width="1.0" stroke-linejoin="round"/>
<line x1="632.2" y1="583.8" x2="656.8" y2="583.8" stroke="#000" stroke-width="1.7"/>
<polyline transform="scale(.1)" points="6394 5997 6498 5598 6395 5831 6465 5713 6342 5793 6495 5990 6371 5795 6515 5675 6368 5980 6442 5839 6398 5737 6521 5385 6448 5976 6498 5896 6511 5972 6442 5922 6474 5707 6542 5754 6408 5886 6543 5838 6512 5754 6488 5908 6519 5829 6449 5847 6486 5904 6412 5933 6377 5885 6440 5914 6534 5855 6473 5798 6474 5775 6479 5886 6349 5847 6364 5856 6486 5879 6373 5764 6388 5811 6424 5753 6347 5846 6429 5791 6410 5670 6404 5688 6363 5869 6483 5879 6547 5859 6507 5769 6482 5958 6425 5778 6513 5833 6491 5878 6418 5886 6349 5787 6386 5730 6401 5886 6490 5719 6444 5943 6336 5942 6339 5763 6497 5728 6471 5820 6444 5967 6461 5906 6542 5979 6542 5770 6505 5879 6514 5785 6448 5736 6353 5664 6552 5742 6453 5924 6463 5925 6481 5922 6437 5806 6508 5740 6418 5923 6512 5865 6383 5691 6451 5969 6420 5825 6357 5945 6492 5772 6462 5864 6456 5958 6366 5707 6367 5801 6514 5760 6381 5771 6334 5950 6466 5820 6412 5923 6438 5873 6361 5942 6375 5798 6355 5704 6510 5756 6339 5677 6504 6007 6345 5993 6512 5873 6385 5940 6420 5875 6443 5636 6375 5821 6541 5866 6496 5870 6441 5711 6495 5780 6507 5997 6334 5730 6395 5772 6528 5823 6368 5867 6401 5889 6521 5585 6474 6127 6377 5795 6541 5874 6412 5692 6496 5983 6432 5947 6491 5815 6442 5949 6345 5842 6357 5711 6426 5900 6384 5799 6531 5556 6432 5821 6553 6004 6336 5765 6553 6182 6364 5777 6394 5971 6481 5845 6495 5793 6515 5809 6364 5866 6404 6202 6535 5703 6475 5802 6455 5856 6339 5756 6373 5707 6353 6182 6557 5835 6365 5994 6507 5860 6361 6027 6450 6051 6429 5734 6390 5586 6421 5774 6527 5880 6446 5950 6522 5759 6548 5925 6521 5819 6524 5628 6504 5818 6416 5698 6429 5796 6448 5851 6484 6005 6417 5951 6458 5856 6375 5884 6399 5965 6384 5943 6361 5876 6452 5600 6540 5714 6348 5735 6524 5784 6421 5912 6544 6070 6433 5850 6557 5903 6469 5897 6482 5830 6502 5827 6544 5547 6517 5850 6551 5734 6397 5971 6461 5898 6408 5976 6438 5861 6359 5775 6537 5695 6469 5856 6446 5714 6381 5582 6403 5772 6367 5750 6392 5752 6462 5884 6531 5963 6461 5789 6462 5815 6483 5915 6465 5715 6555 5716 6497 6027 6361 5765 6465 5702 6507 6042 6364 5590 6366 5694 6376 5828 6390 5902 6413 5801 6446 5927 6336 5848 6334 5726 6352 5608 6515 5659 6431 5806 6541 6140 6393 5864 6480 5740 6360 5992 6488 5719 6366 5664 6331 5636 6530 5886 6408 5945 6414 5994 6435 6068 6383 5949 6523 5827 6557 5708 6393 5947 6367 5874 6408 5872 6488 5883 6510 5927 6554 5733 6535 5691 6430 5938 6475 5873 6427 5664 6554 5855 6504 5851 6511 5704 6344 5989 6365 5932 6435 5882 6486 5793 6339 5929 6514 5539 6500 5903 6538 5974 6411 5895 6402 5865 6523 5722 6517 5991 6370 5708 6481 5867 6418 5904 6432 5688 6518 5926 6515 5912 6472 5838 6504 5671 6384 5827 6336 5606 6411 5630 6371 5933 6462 5984 6409 5681 6430 5640 6470 5932 6334 5721 6433 5745 6471 5832 6502 5766 6485 6070 6548 5844 6334 5701 6381 5759 6352 5888 6425 5737 6343 5783 6436 5956 6364 6085 6424 5848 6496 5716 6429 5915 6361 5872 6344 5738 6403 5976 6361 5832 6364 5681 6464 5784 6495 6067 6414 5892 6517 5915 6457 5836 6540 5892 6473 5952 6412 5830 6472 5913 6361 5984 6546 6039 6357 5628 6331 5694 6349 6201 6531 5618 6462 5894 6513 5640 6535 5951 6371 5626 6362 5780 6489 5806 6538 5888 6468 5763 6410 5848 6348 5772 6358 5823 6422 5939 6504 5861 6506 5756 6486 5968 6424 5943 6513 5593 6437 5629 6397 5624 6489 5751 6475 5832 6529 5863 6541 6172 6450 6083 6391 5802 6537 5562 6525 5780 6452 5605 6480 5766 6413 5801 6381 5741 6558 5827 6458 5634 6421 5665 6525 5739 6545 5795 6535 5582 6408 5951 6346 5903 6400 5798 6485 5591 6518 5839 6411 6017 6399 5676 6413 5942 6436 5679 6519 5803 6417 5920 6464 6035 6544 5692 6345 5874 6412 5896 6529 5666 6531 5699 6493 5799 6522 5922 6485 5843 6444 6022 6524 5967 6343 5952 6548 5788 6406 5673 6516 5776 6485 5676 6506 5894 6488 5967 6483 5807 6453 5814 6337 5929 6479 5730 6472 5897 6460 5839 6396 5694 6404 5678 6432 6014 6338 5985 6536 6160 6474 5900 6439 5664 6374 5791 6398 5626 6355 5736 6543 5859 6520 5914 6490 5919 6558 5970 6363 5895 6434 5974 6337 5776 6450 6032 6547 5894 6517 6097 6332 5633 6511 6048 6407 5995 6419 5880 6346 5793 6532 5790 6364 5934 6400 5689 6456 5656 6468 6037 6504 5939 6517 5888 6471 5746 6500 5799 6410 5831 6462 5683 6391 6133 6405 5578 6348 5934 6470 5797 6498 5667 6498 5870 6544 5714 6397 5857 6427 5913 6387 5763 6406 5915 6430 5729 6419 5869 6360 5755 6546 5886 6478 6091 6514 5797 6469 5871 6426 5637 6443 6056 6487 5936 6368 5751 6469 5828 6510 5806 6534 5581 6550 5942 6377 5646 6436 5765 6502 5701 6358 6051 6372 5803 6335 6052 6478 5893 6541 5957 6358 5822 6413 5899 6336 5856 6436 5895 6441 5970 6404 5775 6376 5681 6469 5715 6397 5857 6437 5785 6404 5932 6534 5951 6536 5967 6405 5952 6454 5500 6388 5826 6333 5768 6331 6121 6470 5922 6444 5880 6522 5972 6537 6013 6482 5967 6471 5599 6444 5832 6439 5804 6437 5781 6414 5884 6548 5853 6419 5935 6351 5890 6376 5971 6528 5852 6460 5513 6543 5676 6412 5839 6375 5588 6464 5866 6441 6032 6481 5878 6416 5833 6359 5858 6449 5966 6391 5906 6389 5864 6386 5917 6530 5694 6393 5845 6513 5870 6332 5845 6400 5726 6355 5772 6473 5777 6425 5716 6365 5761 6358 5880 6429 5744 6441 6001 6444 5706 6542 5905 6399 5737 6445 6049 6480 5548 6514 5875 6361 5769 6428 5779 6348 5822 6364 5827 6398 5710 6430 6216 6381 5850 6494 5902 6497 5573 6344 5879 6342 5819 6339 5906 6536 5788 6397 5864 6477 5786 6531 5802 6338 5756 6550 5705 6332 5868 6432 5729 6394 5895 6340 6036 6473 5898 6350 5899 6345 5656 6454 5804 6545 5691 6398 5971 6420 5922 6521 5811 6528 5991 6466 5640 6387 5911 6444 5928 6350 5735 6452 5918 6500 5737 6540 5899 6491 5834 6444 5856 6379 6001 6496 5794 6397 5833 6389 5927 6507 5897 6473 5757 6330 5851 6381 5722 6556 5614 6509 5765 6343 5807 6372 5639 6449 5579 6370 6066 6458 5598 6547 5810 6480 5961 6410 5571 6492 5804 6467 6107 6397 5907 6434 5721 6540 5747 6373 5832 6334 5567 6484 6050 6492 6080 6536 5802 6387 5700 6403 5680 6416 5918 6538 5797 6502 6105 6515 5983 6424 5960 6466 5764 6369 5777 6330 5703 6507 5778 6339 5854 6330 5916 6492 5886 6393 5781 6456 5937 6510 5881 6474 5824 6465 5713 6482 5811 6419 5986 6473 5795 6427 5853 6411 5749 6402 5777 6430 5734 6535 5869 6389 5697 6441 5823 6431 5904 6398 5785 6523 5973 6528 6050 6441 5821 6355 5771 6430 6024 6377 5865 6343 5738 6368 6033 6511 6100 6521 5839 6556 5911 6467 5502 6445 5933 6336 5659 6540 5870 6539 5733 6344 5984 6342 5755 6544 5721 6514 5765 6453 5847 6392 6015 6433 5731 6366 5748 6409 5681 6395 6026 6375 5988 6442 5527 6436 5870 6411 5721 6417 5833 6498 5726 6388 5696 6447 6138 6462 5715 6548 5691 6539 5712 6416 5838 6409 5609 6370 5936 6493 5709 6538 5855 6518 5712 6474 5744 6507 5896 6464 6140 6490 5593 6383 5859 6511 5855 6411 5842 6375 5968 6462 5954 6432 5901 6395 5850 6417 5979 6493 5724 6369 5861 6346 5591 6526 5681 6471 5787 6394 5737 6472 5808 6508 5815 6375 5866 6517 5775 6419 5949 6509 5826 6376 6011 6446 5838 6496 5753 6542 5914 6549 5700 6416 5919 6395 5804 6373 5919 6518 5869 6439 5697 6442 5697 6394 5779 6498 5708 6368 5830 6381 5883 6505 5837 6356 5932 6502 5597 6552 5943 6538 5951 6471 5910 6412 5986 6488 5767 6536 6033 6437 6064 6532 5955 6338 5818 6410 5821 6525 5890 6538 5831 6416 5833 6378 5754 6458 6009 6350 5660 6363 5791 6554 5775 6469 5924 6501 5779 6522 5809 6408 5690 6536 5866 6549 5702 6364 6122 6435 5870 6510 5963 6542 5852 6477 5762 6360 5745 6406 5687 6500 5818 6352 5897 6437 5863 6364 5976 6520 5824 6471 5867 6504 5850 6419 5865 6505 6034 6513 5667 6431 6050 6427 5841 6389 5837 6469 6060 6502 5721 6450 5661 6428 5738 6485 5671 6464 5699 6355 5668 6449 5748 6339 5642 6455 5770 6520 5791 6441 5778 6473 6007 6338 5842 6378 5649 6510 5630 6402 5523 6492 5734 6410 5835 6466 5684 6517 5788 6349 5948 6431 6109 6412 5811 6435 5799 6471 6069 6383 5933 6543 5701 6353 5786 6471 5897 6331 5660 6355 6121 6515 5768 6442 5853 6447 5458 6374 5846 6367 5763 6433 6002 6540 5715 6433 5844 6472 6104 6349 5644 6535 5762 6511 5836 6349 5869 6343 5986 6450 5620 6337 5598 6483 5836 6504 5959 6557 5927 6379 5682 6386 5915 6334 5820 6444 5782 6359 5950 6370 5852 6345 5724 6465 5607 6374 5827 6382 5739 6379 5806 6330 5846 6414 5697 6497 5722 6512 5655 6520 5874 6556 5637 6354 5762 6524 5692 6429 5695 6545 5566 6458 5798 6543 5834 6398 5769 6541 5711 6459 5760 6441 5816 6486 5821 6403 5836 6442 6210 6551 6037 6353 5799 6469 5652 6441 5868 6423 5904 6378 5639 6427 5897 6369 5940 6456 5864 6489 5745 6354 5964 6487 5832 6497 5898 6547 5543 6451 5713 6465 5881 6434 5926 6528 5722 6369 5878 6548 5907 6362 5782 6471 5855 6428 5968 6530 5766 6513 5845 6454 5740 6554 5781 6522 5842 6525 5833 6551 5976 6522 5828 6448 6065 6449 5904 6359 5674 6370 5567 6345 5882 6388 5911 6537 5912 6339 5926 6499 5796 6364 5800 6363 5963 6395 5913 6546 5871 6431 5542 6477 5656 6426 5915 6422 5796 6507 5891 6507 5883 6511 5816 6488 6033 6513 5742 6368 5849 6534 6017 6341 6073 6354 5682 6473 5597 6494 5823 6427 5718 6390 5779 6515 5999 6392 6088 6554 5851 6456 5982 6541 5959 6423 5980 6483 5798 6482 5784 6338 5868 6463 5658 6433 5712 6345 5570 6413 5752 6447 5599 6460 5985 6390 5729 6442 5984 6478 5738 6358 5788 6362 5837 6557 6025 6460 5951 6537 5927 6410 6074 6339 5908 6408 6000 6355 5748 6506 5834 6402 5648 6555 5901 6396 5727 6438 5753 6405 5939 6438 5901 6457 5920 6536 5734 6447 5738 6443 5716 6369 5678 6505 5957 6368 5771 6537 5941 6330 5794 6473 6043 6368 5880 6448 5868 6408 5662 6495 5673 6342 5732 6512 5684 6474 5813 6453 6002 6451 5825 6531 5834 6528 5847 6346 5709 6337 5911 6346 5733 6419 5807 6338 5821 6548 6020 6556 5766 6466 5790 6555 5856 6387 5759 6532 5659 6462 5863 6364 5799 6537 5787 6399 5769 6344 5819 6379 5810 6464 5947 6500 5598 6399 5813 6421 5846 6517 5758 6444 5996 6493 5815 6462 5773 6506 5774 6553 6041 6448 6104 6483 5786 6557 5726 6541 5577 6420 5676 6551 5911 6551 5812 6344 5932 6547 5762 6509 5739 6350 5865 6417 5850 6390 5743 6426 5902 6540 6009 6426 6002 6500 5836 6506 5723 6459 6021 6408 5740 6475 6033 6507 5684 6383 5870 6417 5787 6343 5798 6547 5781 6331 5819 6536 5781 6500 5943 6536 5790 6464 5721 6464 5638 6542 6094 6489 5739" fill="none" stroke="none" marker-start="url(#m2)" marker-mid="url(#m2)" marker-end="url(#m2)"/>
<line x1="496.6" y1="494.2" x2="496.6" y2="646" stroke="#222" stroke-width="1.07"/>
<line x1="496.1" y1="645.5" x2="678.3" y2="645.5" stroke="#222" stroke-width="1.07"/>
<line x1="493.9" y1="643" x2="496.6" y2="643" stroke="#333" stroke-width="1.0"/>
<text x="492" y="646.8" font-size="10.3" fill="#111" text-anchor="end">−4</text>
<line x1="493.9" y1="614.3" x2="496.6" y2="614.3" stroke="#333" stroke-width="1.0"/>
<text x="492" y="618.1" font-size="10.3" fill="#111" text-anchor="end">−2</text>
<line x1="493.9" y1="585.6" x2="496.6" y2="585.6" stroke="#333" stroke-width="1.0"/>
<text x="492" y="589.4" font-size="10.3" fill="#111" text-anchor="end">0</text>
<line x1="493.9" y1="556.9" x2="496.6" y2="556.9" stroke="#333" stroke-width="1.0"/>
<text x="492" y="560.7" font-size="10.3" fill="#111" text-anchor="end">2</text>
<line x1="493.9" y1="528.2" x2="496.6" y2="528.2" stroke="#333" stroke-width="1.0"/>
<text x="492" y="532" font-size="10.3" fill="#111" text-anchor="end">4</text>
<line x1="493.9" y1="499.5" x2="496.6" y2="499.5" stroke="#333" stroke-width="1.0"/>
<text x="492" y="503.3" font-size="10.3" fill="#111" text-anchor="end">6</text>
<line x1="530.2" y1="645.5" x2="530.2" y2="648.2" stroke="#333" stroke-width="1.0"/>
<text x="530.2" y="657.9" font-size="10.3" fill="#111" text-anchor="middle">6</text>
<line x1="587.3" y1="645.5" x2="587.3" y2="648.2" stroke="#333" stroke-width="1.0"/>
<text x="587.3" y="657.9" font-size="10.3" fill="#111" text-anchor="middle">7</text>
<line x1="644.4" y1="645.5" x2="644.4" y2="648.2" stroke="#333" stroke-width="1.0"/>
<text x="644.4" y="657.9" font-size="10.3" fill="#111" text-anchor="middle">other</text>
<text x="587.1" y="670.9" font-size="10.6" fill="#000" text-anchor="middle">Cluster</text>
<text x="472.2" y="568.9" font-size="10.25" fill="#000" text-anchor="middle" transform="rotate(-90 472.2 568.9)">Δ<tspan font-size="12.6">(</tspan>Bioenergetic − chronological age<tspan font-size="12.6">)</tspan></text>
<polyline points="530.2,530 530.2,526.8 587.3,526.8 587.3,530" fill="none" stroke="#555" stroke-width="0.8"/>
<text x="558.8" y="525.7" font-size="10.35" fill="#111" text-anchor="middle">0.0027</text>
<polyline points="530.2,517.3 530.2,514.1 644.4,514.1 644.4,517.3" fill="none" stroke="#555" stroke-width="0.8"/>
<text x="587.3" y="513" font-size="10.35" fill="#111" text-anchor="middle">0.17</text>
<polyline points="587.3,504.5 587.3,501.3 644.4,501.3 644.4,504.5" fill="none" stroke="#555" stroke-width="0.8"/>
<text x="615.8" y="500.2" font-size="10.35" fill="#111" text-anchor="middle">3.4e−18</text>
<line x1="74.2" y1="730" x2="74.2" y2="762.5" stroke="#000" stroke-width="1.0"/>
<line x1="74.2" y1="788.5" x2="74.2" y2="830" stroke="#000" stroke-width="1.0"/>
<polygon points="54.9,762.5 54.9,772.4 62.9,774.8 54.9,777.2 54.9,788.5 94.9,788.5 94.9,777.2 86.9,774.8 94.9,772.4 94.9,762.5" fill="#264c53" stroke="#000" stroke-width="1.0" stroke-linejoin="round"/>
<line x1="62.9" y1="774.8" x2="86.9" y2="774.8" stroke="#000" stroke-width="1.7"/>
<polyline transform="scale(.1)" points="834 7858 766 7324 744 7876 660 7875 674 7746 749 7860 745 7480 785 7792 788 7889 660 7857 760 8248 650 7987 697 7403 664 7554 730 8060 807 7703 774 7552 808 7544 630 7754 705 7845 715 8078 824 7568 744 7345 739 7922 678 7997 713 7552 648 7788 853 7623 631 7736 798 7834 804 7913 725 7447 794 7443 847 7741 637 8004 771 7802 822 7923 852 7419 727 7758 638 7798 694 7802 836 7665 786 7492 823 7853 762 7617 771 7798 649 7310 716 7773 714 7983 838 8133 708 7908 734 7308 787 7708 684 7625 704 7665 834 7479 635 7700 782 7765 752 7686 662 7756 821 7739 832 7642 803 7762 743 7769 770 8005 670 7989 756 7493 728 7561 731 7505 708 7906 713 7989 648 7882 745 7725 715 8076 817 7863 813 7711 786 7932 714 7640 635 7783 847 8040 663 7970 812 7594 743 7797 850 7994 681 7768 766 7735 783 7881 637 7870 665 7656 849 7853 777 7942 826 7620 707 7888 666 7609 653 7547 652 7872 805 7457 698 7377 658 7579 651 7768 738 7454 814 7762 756 7443 741 7621 664 7309 674 7647 769 8003 704 7702 754 7790 795 7479 666 7431 642 8013 629 8088 649 7936 841 7678 802 7552 721 7651 805 7599 746 7853 650 7554 701 7884 834 7893 635 7495 737 7845 680 7443 809 7559 634 7704 808 8100 649 7904 636 7661 774 7755 828 7674 651 7622 685 7495 758 7792 635 7593 661 7803 804 7843 854 8021 829 8140 694 7707 814 7546 697 8007 763 7593 686 8044 668 7421 741 7884 652 7984 704 7321 813 7872 634 7587 648 7819 816 8053 778 7864 791 8109 644 7656 699 7593 643 7588 662 7965 631 7849 700 7510 829 7697 657 7610 670 7832 763 8291 851 7484 639 7601 698 7932 757 7608 803 7662 802 7930 637 7801 855 7765 758 7652 754 7578 840 7497 838 7912 827 7732 772 7673 799 7842 637 7898 651 7545 817 7987 705 7612 782 7880 810 7690 773 7739 629 7643 815 7743 751 7833 637 7641 641 8041 853 7929 677 7839 707 7624 707 7551 691 8280 845 8066 746 7817 637 8027 774 7789 774 7640 833 8009 663 7784 650 7679 703 7585 834 8044 845 7885 728 7945 848 8000 741 7601 679 7626 766 7602 822 8256 721 7749 773 7611 766 8000 706 7627 744 7789 827 7539" fill="none" stroke="none" marker-start="url(#m0)" marker-mid="url(#m0)" marker-end="url(#m0)"/>
<line x1="131" y1="727" x2="131" y2="762.9" stroke="#000" stroke-width="1.0"/>
<line x1="131" y1="789.6" x2="131" y2="827.2" stroke="#000" stroke-width="1.0"/>
<polygon points="111,762.9 111,775.2 119.1,777.4 111,779.6 111,789.6 151.3,789.6 151.3,779.6 143.2,777.4 151.3,775.2 151.3,762.9" fill="#f4923a" stroke="#000" stroke-width="1.0" stroke-linejoin="round"/>
<line x1="119.1" y1="777.4" x2="143.2" y2="777.4" stroke="#000" stroke-width="1.7"/>
<polyline transform="scale(.1)" points="1403 7699 1213 7840 1205 7421 1299 7720 1340 7825 1423 7498 1356 8065 1416 7582 1391 7644 1369 7353 1232 7554 1277 7804 1362 7479 1229 8010 1239 8080 1394 7887 1197 7836 1296 7820 1233 7609 1273 7488 1379 7608 1398 7644 1384 7773 1324 7677 1393 7799 1210 7767 1231 7551 1197 7928 1351 7780 1375 7428 1277 7697 1345 7616 1210 7611 1208 8070 1251 7899 1396 7572 1203 8253 1318 8032 1357 7774 1390 7692 1240 7815 1233 7817 1254 7385 1369 7980 1298 7825 1313 7695 1258 8244 1272 8201 1214 7729 1266 7695 1292 7952 1366 7692 1377 7786 1396 7870 1217 8018 1293 7777 1406 7565 1408 7842 1336 7627 1421 7752 1264 7793 1363 7596 1219 7669 1233 7795 1359 7620 1266 7455 1402 7525 1212 7656 1341 7691 1368 7411 1323 8017 1300 7808 1300 7573 1290 7884 1388 7896 1338 7383 1420 7889 1235 7786 1229 7369 1306 8004 1282 7696 1243 7845 1290 7975 1387 7851 1237 7990 1399 7412 1295 7291 1352 8240 1352 7979 1311 8264 1240 7991 1281 7602 1312 7801 1261 7772 1406 7304 1203 7753 1315 7877 1374 7702 1376 7773 1279 7979 1278 7466 1198 7740 1350 7618 1255 7797 1346 7821 1216 7694 1356 7818 1216 7663 1248 8004 1280 7818 1343 7835 1294 7888 1284 7810 1394 7508 1422 7671 1267 7536 1224 7672 1304 7394 1364 7855 1302 7579 1276 7888 1237 7619 1424 7810 1285 7805 1417 7639 1285 7817 1333 7685 1259 7914 1416 8064 1309 7876 1239 7571 1315 7786 1366 7721 1381 7754 1204 7612 1396 7884 1257 7864 1387 7794 1288 7800 1268 7740 1415 7669 1220 7822 1227 7838 1333 7681 1291 7896 1314 7777 1343 7680 1376 7505 1257 7630 1257 7658 1353 7936 1246 8141 1421 8063 1275 7728 1219 7702 1255 7792 1308 7947 1416 7878 1348 7616 1288 8062 1408 7744 1291 7705 1385 8034 1258 7777 1349 8040 1218 7844 1359 7780 1341 8128 1386 7831 1258 7655 1267 7733 1309 8059 1331 7843 1290 7833 1216 7641 1227 8008 1295 8108 1315 7918 1356 7464 1218 7897 1335 7638 1375 7657 1360 7705 1223 7915 1423 7717 1284 7955 1259 7747 1248 7928 1418 7698 1345 7915 1286 7696 1197 7651 1251 7529 1213 7579 1399 7845 1325 7463 1282 7296 1378 7771 1231 7626 1277 7667 1338 7645 1360 7718 1306 8097 1295 7819 1351 7515 1327 7684 1237 7995 1343 7364 1258 7857 1362 7438 1300 7774 1370 7885 1338 7963 1212 8007 1287 7377 1357 7744 1285 7530 1277 7926 1379 7903 1340 7822 1315 7850 1200 7973 1362 7611 1209 7540 1337 7713 1262 7565 1271 7994 1237 8005 1246 7834 1294 7775 1391 7673 1389 7734 1249 7757 1312 7750 1415 7885 1363 7705 1243 8093 1367 7607 1215 7314 1406 8064 1286 8172 1249 7888 1211 7827 1368 7407 1375 7767 1312 7957 1273 7415 1344 7986 1351 7594 1354 7751 1198 7827 1381 7453 1389 7751 1324 8072 1334 7870 1245 7830 1410 7622 1240 7571 1260 7668 1371 7975 1247 7732 1287 8078 1315 8252 1204 8150 1311 7486 1269 7436 1303 7876 1355 7550 1309 7898 1301 7794 1402 7770 1375 7781 1342 7783 1215 8105 1383 8256 1205 8136 1410 8079 1248 7544 1286 7799 1402 7746 1335 7376 1320 7690 1244 7486 1223 8034 1324 7889 1371 7804 1312 8142 1318 7377 1288 7909 1346 7510 1261 7314 1409 7849 1419 7787 1339 7893 1353 8233 1265 7741 1259 7774 1312 7443 1302 7738 1231 7551 1223 7339 1398 7345 1257 8221 1353 7543 1370 8111 1198 7658 1291 7787 1272 7699 1283 7771 1407 7708 1360 7752 1199 7730 1273 7654 1379 8184 1356 8093 1236 7629 1421 7920 1275 8064 1287 7770 1294 7758 1259 7933 1386 7506 1242 7816 1324 7477 1362 7870 1422 7711 1394 7575 1238 7839 1230 7880 1384 7674 1231 8014 1358 7964 1215 7933 1353 7973 1355 7550 1197 8096 1239 7728 1288 7886 1203 7603 1310 7557 1324 7654 1239 7751 1235 7664 1403 7503 1243 7687 1213 7628 1341 7524 1388 7983 1390 7731 1300 7967 1315 7884 1289 7646 1411 7990 1319 7506 1290 7341 1277 7579 1396 7611 1336 8155 1331 7778 1325 7430 1374 7742 1219 8274 1386 7912 1309 7522 1311 7776 1423 7732 1288 7678 1397 7421 1391 7630 1241 7697 1333 7733 1272 7752 1197 7799 1387 7963 1243 8011 1326 7753 1231 7854 1353 7890 1230 7894 1352 7958 1250 7928 1328 7521 1281 7445 1344 7474 1291 7602 1291 7727 1416 7779 1228 7684 1326 8061 1309 7942 1303 7755 1238 7619 1285 7487 1379 8142 1345 7951 1401 7696 1350 8165 1384 7735 1393 7413 1393 7290" fill="none" stroke="none" marker-start="url(#m1)" marker-mid="url(#m1)" marker-end="url(#m1)"/>
<line x1="187.4" y1="726" x2="187.4" y2="761.5" stroke="#000" stroke-width="1.0"/>
<line x1="187.4" y1="791.5" x2="187.4" y2="832" stroke="#000" stroke-width="1.0"/>
<polygon points="167.8,761.5 167.8,775.7 175.7,777 167.8,778.2 167.8,791.5 207.4,791.5 207.4,778.2 199.5,777 207.4,775.7 207.4,761.5" fill="#04a4db" stroke="#000" stroke-width="1.0" stroke-linejoin="round"/>
<line x1="175.7" y1="777" x2="199.5" y2="777" stroke="#000" stroke-width="1.7"/>
<polyline transform="scale(.1)" points="1922 7922 1959 7520 1788 7779 1984 7620 1865 7625 1912 7757 1775 7554 1927 7419 1930 7840 1961 7376 1845 7865 1778 7807 1766 7768 1863 7758 1910 7583 1907 7778 1774 7959 1846 7485 1910 7446 1974 8001 1778 7719 1874 8069 1963 7543 1858 7434 1888 8072 1890 7777 1861 8292 1933 8129 1856 7371 1945 7833 1961 7909 1919 7972 1926 7768 1819 8303 1900 7895 1841 7615 1916 7660 1909 7627 1850 7688 1768 7389 1855 7821 1967 7663 1781 7493 1812 7701 1916 7895 1819 8151 1832 7401 1932 8068 1974 7749 1776 7747 1850 7940 1976 7808 1924 8118 1770 7972 1843 7891 1765 7826 1798 7632 1812 7831 1888 8042 1933 7683 1958 7945 1886 7891 1957 7784 1910 7613 1909 7868 1766 8098 1968 7927 1806 7611 1761 8133 1861 7556 1794 7686 1954 8260 1867 7766 1854 8161 1900 7685 1859 7768 1807 7599 1924 7743 1878 7766 1905 7626 1771 7695 1980 7683 1969 7580 1933 7616 1765 7750 1948 7608 1819 7415 1822 7609 1857 7811 1767 7799 1800 7791 1895 8067 1834 8150 1894 7917 1937 8236 1768 7611 1794 7460 1884 7658 1949 7893 1802 7902 1826 7680 1973 7301 1839 8203 1808 7730 1921 7716 1856 7733 1788 7592 1935 7666 1867 7806 1810 7945 1870 7709 1965 7757 1946 7627 1862 7811 1919 7910 1843 8293 1928 8135 1956 7527 1983 7932 1918 7603 1921 7466 1981 7778 1770 7757 1763 7521 1844 7614 1844 7534 1846 7814 1962 7982 1893 7844 1882 8127 1878 7525 1946 7611 1846 7565 1913 8168 1955 8019 1803 7689 1932 7288 1839 7839 1806 8220 1767 8153 1898 7576 1856 7785 1773 7687 1970 7897 1793 7550 1845 7717 1964 7496 1839 7791 1768 7634 1910 7433 1787 7572 1844 7544 1923 7627 1799 7816 1845 7930 1821 8117 1853 7984 1960 8046 1810 7332 1838 8016 1760 7638 1959 7830 1822 7931 1970 7882 1886 7296 1913 7800 1977 8052 1880 7733 1827 7678 1820 7680 1818 8164 1887 7980 1794 7722 1801 8223 1931 7629 1971 7559 1843 7664 1824 7741 1800 8132 1837 7390 1956 7744 1851 7492 1893 7998 1920 7809 1783 7831 1988 7953 1822 7450 1890 7509 1860 8007 1892 7984 1936 7436 1917 8093 1983 7885 1816 7694 1882 7404 1762 7792 1984 7918 1967 7762 1910 7300 1931 7868 1906 7914 1941 7640 1855 7683 1811 7705 1784 7683 1915 7963 1765 7728 1819 7710 1903 7493 1929 7831 1816 7834 1797 7691 1824 7589 1907 7538 1793 8216 1946 7841 1787 7536 1876 7534 1984 7666 1975 7632 1831 7845 1849 7792 1801 7774 1894 7442 1901 7858 1869 7510 1905 7835 1845 8007 1982 7597 1911 7637 1858 8088 1805 7364 1929 7762 1933 7802 1836 7748 1962 7869 1917 7820 1776 7601 1950 8080 1834 7856 1869 7827 1980 8142 1795 7564 1887 7956 1776 7858 1959 7690 1791 7674 1935 7658 1928 8056 1937 7836 1956 7772 1896 7784 1977 7669 1896 7958 1888 8056 1891 7589 1805 7538 1811 8157 1803 7576 1968 7732 1870 7861 1838 7855 1834 7889 1834 7664 1872 7620 1841 7872 1797 7669 1773 8033 1842 7544 1811 7406 1898 7549 1868 7782 1838 7815 1955 7864 1871 7801 1977 7564 1886 7916 1761 8062 1914 7571 1807 8017 1776 8242 1800 7702 1887 7273 1945 7984 1917 7665 1792 7394 1766 7618 1796 7875 1930 7585 1798 7573 1952 7509 1810 7913 1784 7501 1780 7610 1849 7666 1882 8313 1838 7780 1807 7603 1800 7784 1953 8132 1984 7779 1821 7771 1821 8070 1880 7905 1906 8191 1789 7732 1910 7696 1942 7520 1870 8114 1863 7598 1976 7969 1786 7731 1952 8054 1934 7913 1939 7595 1854 7626 1932 7578 1769 8165 1814 7790 1938 7754 1821 7641 1886 7466 1986 8305 1954 7462 1942 7647 1831 7577 1984 7741 1856 8035 1832 7916 1957 7784 1931 7826 1807 7911 1776 7989 1843 8044 1816 7363 1961 7603 1833 7737 1864 7411 1805 7799 1850 7663 1855 7716 1909 7894 1940 8076 1835 7855 1937 7896 1766 7499 1878 7743 1976 8235 1870 7742 1874 7728 1867 7692 1776 7739 1956 8085 1799 7359 1980 7934 1965 7750 1934 7943 1765 7987 1833 7879 1963 7729 1814 7765 1763 8034 1830 7812 1956 7462 1922 7886 1811 7787 1937 7799 1892 7393 1772 7624 1982 7705 1938 7785 1914 7683 1988 7499 1780 8042 1951 7947 1933 7860 1795 7819 1876 7862 1826 7677 1900 8010 1869 7631 1840 7898 1770 7640 1921 7729 1884 7499 1867 7856 1822 7780 1898 8112 1888 7719 1878 7289 1763 7601 1761 8038 1815 7881 1790 7790 1935 7773 1960 7881 1875 7639 1960 7649 1828 7970 1868 7561 1951 8241 1803 7365 1778 8009 1915 7474 1897 7466 1951 7718 1833 7569 1844 7782 1851 7704 1909 7637 1862 7685 1874 7791 1788 7953 1864 7637 1960 7921 1923 7886 1905 7825 1773 7651 1928 7535 1764 7794 1829 7760 1769 7773 1863 7563 1944 7698 1848 8241 1984 7701 1777 7644 1840 7886 1767 7583 1963 8044 1797 7629 1984 7738 1934 8204 1788 7626 1950 7606 1888 7509 1942 7385 1787 7731 1854 7681 1768 7975 1802 7991 1860 7900 1799 7605 1903 7901 1860 7399 1852 7774 1848 8025 1895 8078 1827 7588 1963 7692 1864 7907 1957 8028 1970 7933 1949 7651 1942 7953 1924 7408 1777 7759 1890 7691 1864 7942 1784 7801 1953 7856 1826 7512 1766 7519 1860 7976 1798 8034 1867 7409 1775 7306 1788 7849 1938 7518 1937 8085 1806 7378 1926 7737 1844 7363 1816 7842 1872 8236 1974 7957 1907 7713 1939 7765 1987 7945 1942 7709 1963 8029 1913 7938 1886 7508 1824 7606 1820 8056 1781 7761 1862 7943 1801 7724 1921 7671 1851 7372 1937 7654 1786 7954 1958 7594 1792 7900 1826 7381 1873 7584 1954 7828 1873 8242 1813 8079 1769 7568 1945 7887 1788 7407 1787 7981 1788 7753 1768 7710 1867 7487 1797 7687 1927 7623 1852 7675 1877 8053 1761 7380 1875 7614 1844 7831 1868 7850 1977 7701 1823 7705 1812 7933 1941 7852 1931 7507 1881 8234 1891 7696 1790 7502 1761 7989 1845 7629 1883 7741 1767 7705 1798 7579 1823 7788 1879 7314 1870 7827 1873 7873 1936 8088 1937 7678 1827 8120 1859 7825 1898 7674 1953 7820 1875 8089 1791 7385 1890 7615 1870 7538 1810 7919 1837 7526 1802 7928 1774 8174 1929 7608 1779 7399 1871 7398 1895 7673 1926 7849 1848 7784 1954 7771 1911 7641 1952 7912 1921 8029 1866 7719 1877 7370 1772 8271 1909 7617 1926 7855 1979 7760 1922 7739 1899 7815 1940 7309 1783 7828 1792 7802 1890 7749 1910 7843 1885 8035 1946 8115 1791 7618 1853 7544 1801 8117 1957 7658 1941 7721 1976 7499 1807 7834 1952 8032 1790 7817 1897 7846 1956 7679 1768 7573 1846 8073 1781 7387 1912 7636 1962 7862 1884 7399 1950 7720 1952 7958 1904 7624 1913 7556 1871 7814 1809 7901 1888 7849 1967 8067 1867 7688 1779 8299 1971 8277 1803 7641 1856 7947 1911 8094 1949 7587 1763 7633 1973 7685 1844 7802 1894 7850 1964 7822 1855 7425 1778 8122 1880 7766 1890 7400 1983 7574 1927 7811 1959 7816 1979 7622 1791 7705 1941 7992 1766 7825 1852 7903 1802 7573 1831 8180 1919 7637 1897 7566 1891 7596 1863 7420 1842 7399 1824 7650 1779 7611 1793 8077 1935 7401 1913 7810 1888 7923 1767 7676 1986 7834 1879 7829 1905 8109 1873 7637 1861 7624 1977 7638 1817 7938 1945 7731 1841 7726 1931 7821 1805 7530 1818 7650 1891 8013 1965 7722 1781 7443 1824 7890 1811 7504 1931 7561 1816 7842 1953 7982 1978 8188 1889 7643 1904 7823 1952 7763 1861 7691 1927 7608 1840 7724 1953 8044 1782 7831 1886 7708 1772 7906 1916 8105 1852 7526 1894 7801 1885 7704 1794 7677 1818 7569 1912 7339 1894 8105 1958 7630 1862 7661 1777 7860 1818 8094 1801 7674 1986 7553 1983 7833 1816 7768 1846 7949 1987 7891 1785 7692 1965 7739 1829 7988 1880 7874 1906 7674 1835 7778 1794 7720 1839 8174 1910 7915 1881 7958 1983 7861 1935 7667 1955 7867 1910 7753 1854 8017 1778 7657 1927 7297 1979 7708 1806 7668 1830 7761 1843 7936 1956 8040 1763 7548 1821 7619 1798 7782 1929 8134 1909 7686 1772 7389 1952 7623 1837 8029 1783 7598 1925 7969 1809 7729 1936 7859 1873 7711 1955 7569 1982 7523 1776 7589 1811 7732 1817 7455 1987 7635 1775 7381 1780 8130 1770 8017 1779 7696 1776 7882 1862 7549 1979 7919 1806 7733 1840 8265 1797 7753 1858 7618 1952 7588 1768 8131 1872 7756 1969 7707 1783 7735 1860 7647 1923 7893 1809 7971 1814 7781 1888 8209 1917 7773 1949 7940 1833 7906 1842 7470 1833 7699 1985 7675 1928 7767 1904 7677 1871 7485 1956 7654 1859 7556 1984 8170 1900 7944 1783 8261 1956 7756 1931 7714 1772 7963 1813 8118 1964 7960 1960 7566 1946 7881 1892 7633 1902 7982 1803 7939 1921 7979 1872 7963 1905 7690 1806 7889 1951 7868 1932 7940 1885 7562 1914 7759 1868 7721 1936 7714 1885 7773 1894 7848 1884 7593 1982 8132 1832 7718 1782 8070 1897 7422 1896 7522 1986 7565 1953 7609 1834 7759 1859 7940 1773 7435 1800 7936 1868 7705 1939 7429 1808 7755 1804 7393 1960 7820 1843 7675 1812 7746 1870 7935 1775 7841 1928 7667 1984 7884 1905 7501 1821 7504 1918 7732 1789 7858 1762 8304 1852 8038 1927 7717 1797 7707 1924 7832 1884 8095 1952 7360 1841 7730 1916 7500 1895 8177 1825 7782 1876 7340 1908 7549 1918 7498 1922 7751 1879 7570 1892 8064 1824 7683 1857 7880 1855 7535 1951 7271 1790 7557 1903 7429" fill="none" stroke="none" marker-start="url(#m2)" marker-mid="url(#m2)" marker-end="url(#m2)"/>
<line x1="41" y1="688" x2="41" y2="839.9" stroke="#222" stroke-width="1.07"/>
<line x1="40.5" y1="839.4" x2="221.3" y2="839.4" stroke="#222" stroke-width="1.07"/>
<line x1="38.3" y1="816.4" x2="41" y2="816.4" stroke="#333" stroke-width="1.0"/>
<text x="36.4" y="820.2" font-size="10.3" fill="#111" text-anchor="end">60</text>
<line x1="38.3" y1="787.6" x2="41" y2="787.6" stroke="#333" stroke-width="1.0"/>
<text x="36.4" y="791.4" font-size="10.3" fill="#111" text-anchor="end">70</text>
<line x1="38.3" y1="758.8" x2="41" y2="758.8" stroke="#333" stroke-width="1.0"/>
<text x="36.4" y="762.6" font-size="10.3" fill="#111" text-anchor="end">80</text>
<line x1="38.3" y1="729.9" x2="41" y2="729.9" stroke="#333" stroke-width="1.0"/>
<text x="36.4" y="733.7" font-size="10.3" fill="#111" text-anchor="end">90</text>
<line x1="38.3" y1="701.1" x2="41" y2="701.1" stroke="#333" stroke-width="1.0"/>
<text x="36.4" y="704.9" font-size="10.3" fill="#111" text-anchor="end">100</text>
<line x1="74.2" y1="839.4" x2="74.2" y2="842.1" stroke="#333" stroke-width="1.0"/>
<text x="74.2" y="851.8" font-size="10.3" fill="#111" text-anchor="middle">8</text>
<line x1="131" y1="839.4" x2="131" y2="842.1" stroke="#333" stroke-width="1.0"/>
<text x="131" y="851.8" font-size="10.3" fill="#111" text-anchor="middle">9</text>
<line x1="187.4" y1="839.4" x2="187.4" y2="842.1" stroke="#333" stroke-width="1.0"/>
<text x="187.4" y="851.8" font-size="10.3" fill="#111" text-anchor="middle">other</text>
<text x="130.8" y="864.8" font-size="10.6" fill="#000" text-anchor="middle">Cluster</text>
<text x="14" y="764.1" font-size="10.6" fill="#000" text-anchor="middle" transform="rotate(-90 14 764.1)">Chronologcial age</text>
<polyline points="74.2,724.3 74.2,721.1 131,721.1 131,724.3" fill="none" stroke="#555" stroke-width="0.8"/>
<text x="102.6" y="720" font-size="10.35" fill="#111" text-anchor="middle">0.78</text>
<polyline points="74.2,711.2 74.2,708 187.4,708 187.4,711.2" fill="none" stroke="#555" stroke-width="0.8"/>
<text x="130.8" y="706.9" font-size="10.35" fill="#111" text-anchor="middle">0.71</text>
<polyline points="131,697.8 131,694.6 187.4,694.6 187.4,697.8" fill="none" stroke="#555" stroke-width="0.8"/>
<text x="159.2" y="693.5" font-size="10.35" fill="#111" text-anchor="middle">0.93</text>
<text x="5.6" y="692.6" font-size="12.5" fill="#000" font-weight="bold">e</text>
<line x1="298.2" y1="746.8" x2="298.2" y2="768.3" stroke="#000" stroke-width="1.0"/>
<line x1="298.2" y1="784.7" x2="298.2" y2="805.6" stroke="#000" stroke-width="1.0"/>
<polygon points="278.3,768.3 278.3,776.5 286.4,777.8 278.3,779.1 278.3,784.7 319,784.7 319,779.1 310.9,777.8 319,776.5 319,768.3" fill="#264c53" stroke="#000" stroke-width="1.0" stroke-linejoin="round"/>
<line x1="286.4" y1="777.8" x2="310.9" y2="777.8" stroke="#000" stroke-width="1.7"/>
<polyline transform="scale(.1)" points="2974 7844 3017 7772 2979 7976 3041 8099 3053 7803 2973 7882 2925 7802 2982 8036 2978 7802 3030 7883 2972 7900 2866 7868 3014 7641 3063 7775 2899 7960 3053 7567 3004 7767 2994 7733 2962 7719 2877 7696 3077 7799 2879 7908 3002 7667 3068 7920 2998 7757 2888 7823 2985 7687 3099 7938 3047 8081 2883 7774 3064 7772 2937 7862 2903 7759 2876 7779 3067 7851 3042 7684 2968 7887 3035 7836 2909 7760 3079 8093 2948 7762 2921 7601 3001 7740 2906 7727 3073 7824 2928 7418 3071 7877 2933 7587 2970 7941 2911 7997 2948 7829 2932 8066 3018 7803 2902 7657 3074 7709 3089 7721 3054 7595 3030 7627 2897 7691 3037 7690 3032 7697 3096 7642 2896 7743 2872 8032 3020 7632 3056 7639 3095 7909 2956 7871 2878 7906 2929 7732 3050 7756 3094 7749 3000 7698 2962 7928 2911 7589 3063 7782 3081 7822 3065 7800 2932 7504 3074 7879 2997 7711 2915 7688 3040 7749 2875 7938 2902 7898 2955 7752 2904 7835 3073 7746 2952 8054 3006 7854 3027 7614 3088 7897 2894 7695 2878 7782 2924 7691 3031 7810 2941 7944 2940 7873 2894 7740 2898 7660 3062 8030 3048 7933 2992 7601 3034 7758 3043 7696 3052 7867 3029 7979 3024 7685 2972 7588 2910 7860 3064 7599 3087 7686 3013 7679 2982 7790 3077 7646 3078 7797 2887 7389 2924 7884 2957 7900 3001 7728 3038 7787 3059 7836 2957 7613 2937 7735 2952 7593 3072 7821 3058 7745 3097 7906 3093 7685 3072 7779 2908 7662 2950 7838 2960 8032 2973 7823 3007 7817 3070 7641 2980 7661 3019 7692 2887 7842 2933 7986 3054 7750 2949 7963 3064 7753 2881 7655 2906 7778 3037 7706 3001 7711 3065 7728 2911 7827 2925 7622 3098 8014 3029 7917 3075 7729 2911 7721 2970 7382 2999 7651 3011 7774 2868 7671 3020 7811 2924 7917 2969 7767 2942 7858 3074 7983 2960 7367 2948 7827 3034 7878 2961 7762 2950 7883 3068 7908 2936 7716 3022 7736 3011 7824 2907 8053 2995 7808 2876 7520 2966 7810 3003 7930 3073 7786 2978 7938 2923 7675 3091 7926 2871 7808 2895 7721 3071 8087 2889 7836 2995 7820 2898 7860 2975 7923 2955 7565 2871 8002 2934 7599 3075 7811 2884 7595 2876 7736 2971 7777 3036 7600 3085 7928 3080 7582 2993 7919 3086 7815 2952 7472 3012 7827 2935 7798 2892 7721 2966 7659 2998 7807 2985 7662 2966 7542 2920 7696 3051 8137 2911 7734 2985 7608 2896 7577 2998 7619 3018 7851 2992 7830 2920 7411 3003 7786 3069 7774 2977 7716" fill="none" stroke="none" marker-start="url(#m0)" marker-mid="url(#m0)" marker-end="url(#m0)"/>
<line x1="356.6" y1="751" x2="356.6" y2="773.4" stroke="#000" stroke-width="1.0"/>
<line x1="356.6" y1="791.3" x2="356.6" y2="814.3" stroke="#000" stroke-width="1.0"/>
<polygon points="336,773.4 336,781.6 344.3,783.1 336,784.6 336,791.3 377.4,791.3 377.4,784.6 369.1,783.1 377.4,781.6 377.4,773.4" fill="#f4923a" stroke="#000" stroke-width="1.0" stroke-linejoin="round"/>
<line x1="344.3" y1="783.1" x2="369.1" y2="783.1" stroke="#000" stroke-width="1.7"/>
<polyline transform="scale(.1)" points="3562 7799 3462 7811 3552 7897 3598 7830 3566 8040 3531 7711 3489 7711 3533 7978 3681 7997 3500 7992 3674 7551 3651 7827 3513 7804 3623 8029 3532 7943 3582 7928 3679 7771 3630 7783 3548 7988 3642 7616 3668 7821 3583 7599 3521 7977 3556 7958 3572 7704 3542 8161 3606 7806 3457 7978 3615 7853 3455 7889 3560 7934 3453 8004 3555 7739 3626 7945 3635 7812 3451 7918 3576 7982 3612 8057 3475 7847 3666 7894 3637 7844 3460 7596 3490 7713 3593 7701 3682 7882 3462 8148 3632 7699 3658 7656 3596 7869 3504 7628 3665 7765 3471 7911 3499 7844 3530 7597 3610 7918 3676 7634 3569 7733 3562 7700 3593 8110 3526 7943 3611 7774 3595 7964 3462 8036 3495 7957 3681 7810 3610 7718 3499 7841 3455 7806 3679 8127 3544 7910 3555 8022 3576 7825 3593 7867 3521 7820 3504 7658 3673 7731 3649 7746 3648 7938 3645 8014 3656 7770 3586 7739 3543 7859 3639 7828 3628 7622 3663 7709 3682 7984 3469 7681 3613 7842 3520 7766 3507 7825 3648 7854 3527 7698 3533 8056 3490 7844 3592 7766 3667 7623 3618 7896 3663 7796 3682 8023 3671 7588 3499 7816 3481 7779 3493 7974 3641 7897 3458 7890 3669 7796 3457 7804 3467 7715 3619 7814 3480 7704 3476 7928 3556 7992 3670 7604 3574 7792 3578 7719 3520 7903 3483 7952 3654 7682 3583 7568 3600 7819 3566 7822 3450 7798 3598 8004 3549 7954 3668 7864 3564 7951 3489 7789 3512 7742 3580 7695 3634 7874 3585 7868 3612 7955 3472 8084 3486 8074 3674 7839 3586 8168 3542 7842 3502 7755 3526 7739 3455 8111 3579 7833 3559 7830 3546 7831 3588 7698 3598 7936 3656 7944 3593 7727 3671 7969 3461 7617 3489 7872 3598 7607 3485 7808 3557 7969 3537 7736 3550 7997 3556 7774 3491 7935 3485 7790 3513 7803 3623 7931 3620 7695 3464 7819 3622 7726 3478 7613 3493 7674 3501 7913 3612 7937 3633 8097 3638 7708 3477 7708 3512 7647 3674 7623 3465 7537 3506 7712 3451 8129 3529 7947 3518 8029 3548 7849 3554 8044 3531 8222 3622 7690 3472 7775 3546 7799 3601 7906 3507 8057 3558 7708 3502 7895 3597 7989 3454 7977 3481 8022 3576 7652 3636 7789 3487 8006 3452 7781 3507 7758 3666 7882 3558 7724 3559 7877 3465 7765 3670 7725 3664 7863 3626 7540 3578 7703 3508 7718 3557 7883 3589 7701 3495 7908 3600 7816 3517 8028 3562 7807 3650 8038 3543 8001 3558 7958 3628 7793 3529 7906 3574 7894 3498 7757 3473 7860 3598 7990 3464 7900 3472 7826 3532 7842 3592 8041 3594 7913 3593 8187 3611 7788 3455 7830 3520 7939 3619 7962 3622 7774 3467 7912 3556 7732 3560 8005 3607 7742 3471 7783 3451 7679 3647 7749 3664 7709 3646 7734 3503 7778 3482 7845 3643 7860 3599 7751 3588 7676 3612 7710 3678 7788 3655 7855 3618 7582 3683 7748 3526 7996 3535 7911 3546 7959 3451 7678 3598 7947 3631 7957 3630 7998 3509 7851 3499 7676 3524 8126 3511 7939 3603 7874 3665 7889 3644 8069 3621 7800 3469 7824 3477 7679 3529 7691 3466 7749 3532 7672 3611 7901 3550 8054 3648 7798 3551 7604 3512 8075 3633 7891 3568 7776 3679 7873 3513 7737 3679 7598 3662 7681 3602 7785 3667 7845 3520 7882 3527 7731 3534 7867 3542 7681 3529 8052 3659 7828 3633 7830 3670 7953 3553 7865 3545 7872 3497 7843 3493 7879 3462 7719 3647 7671 3455 7686 3652 8196 3501 7844 3529 7893 3462 7822 3625 7754 3545 7761 3659 7887 3562 7884 3655 7942 3674 7936 3630 7860 3457 7558 3596 7429 3668 7576 3584 8172 3457 7896 3605 7982 3580 7774 3554 7849 3569 7771 3512 7997 3644 7854 3649 7557 3472 7913 3465 7895 3606 7732 3625 7666 3541 7907 3502 7840 3589 7521 3666 7787 3671 7786 3564 7776 3646 7773 3561 7814 3548 7816 3648 7598 3636 7855 3507 7894 3498 7500 3659 7713 3572 7716 3586 7938 3450 7596 3580 7733 3682 7964 3596 7970 3669 7841 3579 8073 3589 7821 3482 7681 3560 7763 3472 7552 3509 7966 3457 7799 3664 7770 3638 7874 3546 7892 3540 7537 3575 7648 3663 7699 3618 7875 3472 7805 3645 7735 3649 7851 3458 7672 3677 8017 3650 7880 3577 7839 3646 7706 3661 7745 3578 7850 3583 7785 3463 7924 3550 7988 3665 7516 3464 8002 3632 7799 3678 8027 3566 7797 3634 7741 3608 7833 3548 7903 3659 7954 3601 7642 3534 7987 3590 7952 3583 7776 3467 7598 3483 7836 3478 8151 3566 7682 3558 7789 3546 8048 3550 7813 3609 7760 3501 7814 3577 7704 3471 7642 3509 7752 3494 7730 3534 7754 3511 7616" fill="none" stroke="none" marker-start="url(#m1)" marker-mid="url(#m1)" marker-end="url(#m1)"/>
<line x1="414.7" y1="740" x2="414.7" y2="772.1" stroke="#000" stroke-width="1.0"/>
<line x1="414.7" y1="794.5" x2="414.7" y2="823" stroke="#000" stroke-width="1.0"/>
<polygon points="394,772.1 394,781.6 402.3,783.1 394,784.6 394,794.5 435.5,794.5 435.5,784.6 427.2,783.1 435.5,781.6 435.5,772.1" fill="#04a4db" stroke="#000" stroke-width="1.0" stroke-linejoin="round"/>
<line x1="402.3" y1="783.1" x2="427.2" y2="783.1" stroke="#000" stroke-width="1.7"/>
<polyline transform="scale(.1)" points="4095 7947 4203 7875 4097 8202 4169 8108 4043 7484 4199 7937 4072 7836 4220 7914 4069 7475 4145 7451 4100 7689 4226 7508 4151 8035 4202 7978 4215 7801 4145 8131 4178 7916 4247 7832 4110 7654 4248 7699 4217 8092 4192 7820 4224 8012 4152 7743 4190 8024 4115 7836 4079 8174 4143 7873 4239 7827 4177 7786 4178 7766 4183 7680 4050 7758 4066 7639 4190 7567 4074 7869 4090 7988 4127 7720 4048 7750 4132 8022 4112 7976 4106 7671 4064 7886 4187 7857 4253 7515 4211 7897 4186 7977 4128 7922 4217 7757 4195 7450 4121 7783 4049 7587 4088 7957 4103 7678 4194 7930 4147 7705 4037 8110 4040 7871 4201 7637 4175 7955 4147 7711 4164 7784 4247 7740 4247 7968 4209 7934 4219 7755 4151 8040 4054 7911 4257 7874 4156 7927 4166 7864 4185 7628 4140 7853 4213 7850 4121 7918 4217 7714 4085 8062 4155 7754 4123 7621 4058 7932 4196 8217 4166 7951 4160 7850 4067 7850 4068 7811 4219 7645 4082 8016 4035 7883 4170 8021 4115 7942 4141 7610 4062 7755 4076 7989 4056 7697 4214 7948 4040 7875 4208 7873 4046 7968 4217 7650 4087 7752 4123 7823 4146 7642 4076 7780 4246 7923 4200 7580 4144 7881 4199 7941 4212 7894 4034 7978 4097 7920 4233 7699 4070 7747 4103 7954 4226 7698 4177 7651 4078 7807 4246 7904 4115 7894 4200 8000 4135 7826 4196 7886 4145 7789 4046 8001 4058 7867 4129 7572 4086 7872 4236 8109 4135 7870 4259 7789 4036 7843 4258 7902 4065 7868 4095 7960 4185 8071 4200 7904 4219 7863 4065 7800 4106 7848 4240 7929 4179 7789 4158 7908 4040 7669 4074 7808 4053 7760 4262 7856 4066 7829 4212 8035 4063 7777 4153 7613 4132 7701 4092 7629 4123 8281 4231 7689 4149 8186 4227 8079 4254 8076 4225 7668 4229 7702 4208 7558 4118 7829 4131 7846 4151 7975 4188 7971 4120 7851 4162 8017 4077 7735 4101 7956 4086 7878 4062 7832 4155 7496 4245 7679 4049 7865 4229 8048 4123 7808 4249 7786 4136 7794 4262 7672 4173 7629 4186 8003 4207 7890 4250 7732 4222 7901 4256 7670 4099 7612 4165 7964 4110 7761 4141 8045 4060 7990 4242 7867 4172 7672 4149 8117 4082 7670 4105 7665 4068 7968 4094 7671 4166 7944 4236 7900 4164 7844 4165 7774 4186 7681 4169 8151 4261 7721 4201 7655 4062 7717 4169 7913 4212 8307 4065 7831 4067 7832 4077 8313 4092 7890 4115 7984 4149 7800 4036 7909 4035 7825 4053 7646 4219 7785 4134 7659 4246 7823 4095 7724 4184 7542 4061 7553 4192 7851 4067 7837 4032 7652 4235 7980 4110 7938 4116 7977 4138 7709 4085 7695 4228 7815 4262 7656 4094 7504 4069 7659 4110 7886 4192 7904 4215 7626 4259 7986 4240 7751 4133 7695 4179 8011 4130 7787 4259 7696 4209 7555 4216 7740 4044 7700 4066 7928 4138 7644 4190 7650 4040 7760 4218 7847 4204 7937 4243 7983 4114 7914 4104 8294 4227 7615 4221 7599 4072 7748 4185 7617 4120 7884 4135 7598 4222 7763 4220 7960 4175 8015 4208 7946 4086 8130 4037 7809 4113 8086 4073 7987 4165 8065 4111 7968 4133 7756 4174 7749 4035 7733 4135 7848 4174 7810 4206 7830 4189 7608 4253 7619 4034 7914 4083 7779 4053 7666 4127 7778 4044 8034 4139 8022 4066 7652 4126 7619 4200 7830 4131 7813 4063 7756 4045 7796 4105 7854 4062 7829 4065 7844 4168 7941 4199 7963 4117 7462 4222 7825 4161 7720 4246 7621 4176 7775 4115 7702 4175 7994 4063 7740 4251 7773 4058 8039 4031 7785 4050 7684 4236 7622 4166 7858 4218 7884 4241 7492 4073 7779 4063 7809 4193 7704 4243 7759 4172 7727 4112 7728 4049 7333 4059 7947 4125 7795 4208 7926 4211 7757 4190 8002 4127 7770 4217 7670 4140 7944 4099 7577 4193 8136 4179 7752 4234 7780 4246 8065 4153 7866 4093 8061 4242 8010 4230 7902 4155 8174 4184 8166 4116 7803 4083 8025 4263 8045 4162 7863 4124 7501 4230 7657 4250 7557 4240 7961 4110 7968 4047 7825 4102 7570 4189 7600 4223 7823 4114 7956 4101 7968 4115 7798 4138 7595 4223 8012 4120 7517 4167 7562 4249 7873 4045 7853 4114 7806 4234 7614 4236 8107 4197 7932 4227 7878 4189 7887 4147 7915 4229 7904 4043 7713 4253 7499 4108 7749 4221 7866 4189 7649 4210 7751 4192 7592 4187 7678 4156 7764 4038 7809 4182 7650 4175 8016 4164 7805 4097 7991 4106 8135 4134 7855 4038 7667 4241 8074 4178 8053 4142 8045 4076 7875 4100 7877 4056 7885 4248 7621 4225 7529 4194 7931 4263 7640 4065 8227 4137 8022 4038 7981 4153 7774 4252 7680 4222 7996 4033 7933 4215 8008 4109 7713 4121 8202 4046 7945 4237 8085 4065 7734 4102 7661 4159 7812 4172 7739 4209 7713 4221 7898 4174 8088 4205 7751 4112 7947 4166 7933 4092 7854 4107 7814 4049 7793 4173 7642 4203 7789 4202 7722 4249 7558 4099 7954 4129 8005 4088 7846 4108 7770 4133 7897 4121 7700 4061 7517 4252 8091 4182 7978 4219 7603 4172 7766 4128 8209 4146 7732 4191 8079 4070 7607 4173 7868 4215 7756 4239 7873 4255 7920 4078 7597 4139 7675 4206 7745 4059 7813 4073 7743 4036 7660 4181 7894 4246 7516 4059 7643 4115 7839 4037 7936 4138 7766 4144 7995 4106 7948 4077 7662 4173 7963 4099 7744 4139 7935 4106 7859 4239 7733 4241 7908 4107 7915 4157 7987 4089 7807 4033 7686 4031 7772 4174 7778 4147 7494 4227 7546 4242 7737 4186 8020 4174 7603 4147 7712 4142 8004 4140 8092 4116 7639 4254 8089 4122 7822 4052 7800 4078 7627 4233 8109 4163 7629 4249 7965 4114 7664 4076 7665 4167 7684 4144 7832 4185 7646 4118 7840 4061 7694 4152 8021 4092 7729 4091 7738 4088 8271 4235 7949 4095 7916 4217 7757 4033 7997 4102 7892 4055 7726 4176 7776 4128 7893 4066 7926 4059 7694 4131 7723 4143 7654 4147 7639 4248 8000 4101 7481 4148 7777 4184 7776 4219 7761 4062 7783 4130 7736 4049 7813 4065 7891 4100 7763 4133 7681 4082 7700 4198 7883 4201 7388 4044 7974 4043 7779 4039 7890 4241 7937 4098 7598 4181 7625 4236 7619 4039 7664 4255 7480 4033 8127 4135 7674 4095 8022 4040 7962 4177 7877 4051 7909 4046 7633 4157 7731 4251 7476 4100 7848 4123 7782 4226 7909 4233 7806 4169 7867 4088 7801 4147 7930 4050 7899 4155 8181 4205 7893 4245 7818 4195 8007 4147 7894 4081 8062 4200 7877 4099 7568 4091 7709 4211 7702 4177 7709 4031 7667 4083 7596 4261 7774 4213 8070 4043 8027 4073 7750 4152 7744 4071 8045 4161 7811 4253 7731 4184 8180 4113 7855 4196 8000 4170 7741 4099 8055 4137 7821 4245 8046 4074 7947 4034 7732 4188 7865 4196 7818 4241 7942 4089 7930 4105 7753 4118 7787 4243 8001 4206 7718 4219 7783 4127 7888 4170 7405 4070 7894 4030 8052 4211 7667 4040 7802 4031 7453 4196 7770 4095 7880 4159 8025 4214 7749 4177 7872 4169 8106 4185 7636 4121 7768 4176 7766 4129 7956 4113 7719 4104 7840 4132 7694 4240 8098 4090 7701 4144 7798 4133 7495 4100 7778 4228 7625 4233 7854 4144 7626 4055 7698 4133 8085 4078 7841 4044 8072 4069 7956 4216 7941 4226 7878 4262 7908 4171 7795 4148 7845 4036 7818 4245 8001 4244 7941 4045 7840 4043 7953 4249 7721 4219 7677 4156 7772 4094 7564 4136 7795 4067 7906 4111 8005 4097 7870 4077 7689 4145 7980 4139 7733 4113 7816 4120 7860 4202 7722 4090 7964 4150 8054 4166 7872 4253 7873 4244 7689 4119 7927 4111 7797 4071 8148 4197 7764 4243 8077 4223 7742 4177 7519 4211 7782 4168 8001 4194 7906 4084 7915 4215 8183 4114 7635 4077 7510 4165 7784 4135 7648 4097 7821 4119 8134 4197 7709 4070 7866 4047 7974 4230 8227 4174 7760 4096 7825 4175 7592 4213 7678 4076 8100 4222 7935 4121 7821 4214 7489 4077 7679 4149 7883 4200 7508 4247 7981 4254 7993 4119 7912 4097 7686 4074 7777 4222 7967 4142 7817 4145 7618 4095 7619 4203 7887 4070 7829 4083 7906 4210 7824 4057 7708 4207 7918 4257 7551 4243 7789 4175 7716 4115 7747 4192 8037 4241 8023 4140 8128 4237 7516 4039 7670 4112 7640 4230 7743 4243 7944 4118 7806 4079 7470 4161 7909 4051 7775 4064 7854 4259 7741 4172 7916 4205 7779 4226 7861 4110 8009 4241 7744 4255 7702 4065 7907 4138 7889 4214 8098 4247 7926 4181 7957 4061 7652 4108 7516 4204 7765 4053 7973 4140 7741 4066 7605 4225 8109 4175 7281 4208 7662 4121 7663 4209 7918 4217 7908 4134 7582 4130 7971 4091 7869 4172 7675 4206 7796 4153 7930 4131 7932 4189 7767 4167 7835 4056 7720 4152 7583 4040 7955 4158 7947 4224 7592 4144 7829 4177 8032 4039 7816 4079 7693 4214 7821 4104 7811 4196 7774 4113 8007 4169 7978 4221 7692 4050 7804 4134 7698 4114 7695 4138 8203 4174 7593 4084 7602 4248 8011 4054 8050 4175 7745 4032 7869 4056 8121 4220 7832 4145 7685 4150 7555 4076 7754 4068 7968 4135 7865 4245 7736 4136 7938 4176 7843 4050 8039 4241 7661 4216 7736 4050 7816 4044 7690 4153 7699 4038 7929 4187 8030 4208 7518 4262 7567 4081 7553 4088 8243 4034 7829 4147 7537 4060 7728 4071 8006 4046 7754 4168 8086 4076 7694 4083 7825 4081 7646 4031 7702 4117 7756 4201 7918 4217 7979 4225 7978 4261 7660 4055 7885 4229 7571 4132 7791 4250 7833 4161 8031 4248 7879 4100 7737 4246 7653 4162 7988 4144 7679 4190 7666 4105 7910 4145 7572 4256 7702 4054 7825 4172 7705 4144 7729 4126 8140 4079 7779 4130 7423" fill="none" stroke="none" marker-start="url(#m2)" marker-mid="url(#m2)" marker-end="url(#m2)"/>
<line x1="263.6" y1="688" x2="263.6" y2="839.9" stroke="#222" stroke-width="1.07"/>
<line x1="263.1" y1="839.4" x2="450.3" y2="839.4" stroke="#222" stroke-width="1.07"/>
<line x1="260.9" y1="809.5" x2="263.6" y2="809.5" stroke="#333" stroke-width="1.0"/>
<text x="259" y="813.3" font-size="10.3" fill="#111" text-anchor="end">60</text>
<line x1="260.9" y1="777.4" x2="263.6" y2="777.4" stroke="#333" stroke-width="1.0"/>
<text x="259" y="781.2" font-size="10.3" fill="#111" text-anchor="end">70</text>
<line x1="260.9" y1="745.3" x2="263.6" y2="745.3" stroke="#333" stroke-width="1.0"/>
<text x="259" y="749.1" font-size="10.3" fill="#111" text-anchor="end">80</text>
<line x1="260.9" y1="713.2" x2="263.6" y2="713.2" stroke="#333" stroke-width="1.0"/>
<text x="259" y="717" font-size="10.3" fill="#111" text-anchor="end">90</text>
<line x1="298.2" y1="839.4" x2="298.2" y2="842.1" stroke="#333" stroke-width="1.0"/>
<text x="298.2" y="851.8" font-size="10.3" fill="#111" text-anchor="middle">8</text>
<line x1="356.6" y1="839.4" x2="356.6" y2="842.1" stroke="#333" stroke-width="1.0"/>
<text x="356.6" y="851.8" font-size="10.3" fill="#111" text-anchor="middle">9</text>
<line x1="414.7" y1="839.4" x2="414.7" y2="842.1" stroke="#333" stroke-width="1.0"/>
<text x="414.7" y="851.8" font-size="10.3" fill="#111" text-anchor="middle">other</text>
<text x="356.6" y="864.8" font-size="10.6" fill="#000" text-anchor="middle">Cluster</text>
<text x="242" y="764.1" font-size="10.6" fill="#000" text-anchor="middle" transform="rotate(-90 242 764.1)">Predicted bioenergetic age</text>
<polyline points="298.2,724.3 298.2,721.1 356.6,721.1 356.6,724.3" fill="none" stroke="#555" stroke-width="0.8"/>
<text x="327.4" y="720" font-size="10.35" fill="#111" text-anchor="middle">8.6e−06</text>
<polyline points="298.2,711.2 298.2,708 414.7,708 414.7,711.2" fill="none" stroke="#555" stroke-width="0.8"/>
<text x="356.4" y="706.9" font-size="10.35" fill="#111" text-anchor="middle">2.7e−06</text>
<polyline points="356.6,697.8 356.6,694.6 414.7,694.6 414.7,697.8" fill="none" stroke="#555" stroke-width="0.8"/>
<text x="385.6" y="693.5" font-size="10.35" fill="#111" text-anchor="middle">0.55</text>
<line x1="496.6" y1="779.3" x2="677.6" y2="779.3" stroke="#888" stroke-width="0.7" stroke-dasharray="3.5 3"/>
<line x1="530.2" y1="743.9" x2="530.2" y2="768.3" stroke="#000" stroke-width="1.0"/>
<line x1="530.2" y1="784.7" x2="530.2" y2="806.5" stroke="#000" stroke-width="1.0"/>
<polygon points="510.5,768.3 510.5,775.8 518.5,777.7 510.5,779.7 510.5,784.7 550.7,784.7 550.7,779.7 542.7,777.7 550.7,775.8 550.7,768.3" fill="#264c53" stroke="#000" stroke-width="1.0" stroke-linejoin="round"/>
<line x1="518.5" y1="777.7" x2="542.7" y2="777.7" stroke="#000" stroke-width="1.7"/>
<polyline transform="scale(.1)" points="5254 7947 5209 7725 5188 7830 5359 7645 5340 7988 5252 7801 5358 7652 5408 7419 5391 7701 5291 7847 5353 7894 5251 7754 5350 7892 5362 7742 5212 7702 5267 7779 5285 7680 5203 7764 5265 7902 5191 7766 5315 7619 5254 7811 5265 7773 5314 7740 5333 7768 5382 7668 5366 7758 5197 7820 5196 7750 5404 7925 5397 7953 5401 7613 5382 7669 5219 7959 5221 7910 5297 7406 5406 7365 5264 7590 5190 7862 5405 7990 5344 7684 5316 7809 5302 7604 5348 7645 5378 7864 5264 7988 5258 7733 5282 7838 5204 7908 5308 7976 5224 7742 5292 7760 5351 7728 5282 7804 5245 7868 5410 7934 5311 7833 5272 7783 5188 8114 5297 7663 5291 7737 5295 7609 5409 7829 5354 7690 5229 7833 5343 7743 5317 7859 5234 7938 5354 7976 5212 7852 5205 7735 5406 7676 5337 7854 5241 7799 5264 7727 5408 7842 5400 7777 5276 7655 5315 7635 5345 7660 5396 7803 5381 7594 5408 7776 5414 7814 5264 7676 5265 7771 5271 7764 5392 7775 5304 7897 5268 7940 5340 7642 5224 7882 5399 7757 5269 7846 5310 7846 5298 7841 5222 7707 5292 8089 5376 7750 5249 7848 5223 7683 5262 7646 5251 7609 5294 7743 5341 7891 5287 7876 5338 7803 5413 7616 5239 7598 5222 7969 5311 7941 5407 7719 5250 7961 5340 7888 5245 7735 5272 7907 5198 7692 5223 7758 5295 7735 5364 7800 5297 7847 5381 7645 5193 7727 5360 7590 5220 7782 5364 7774 5382 7732 5281 7572 5215 7807 5374 7523 5392 7361 5366 7608 5210 7564 5369 7874 5402 7797 5388 7596 5210 7774 5382 7705 5206 7747 5199 7798 5216 7851 5391 7988 5205 7780 5337 7839 5285 7767 5279 7787 5349 7986 5409 7595 5265 7762 5350 7710 5241 7466 5402 7844 5303 7600 5197 7718 5409 7674 5411 7963 5210 7613 5265 7720 5259 7699 5369 7893 5379 7823 5220 7587 5189 7855 5273 7945 5279 7614 5415 7839 5214 7917 5341 7706 5410 7802 5349 7861 5203 7651 5292 7587 5241 7806 5236 7691 5366 7845 5272 7555 5358 7814 5262 7932 5396 7693 5247 7663 5396 7532 5258 7879 5308 7679 5322 7831 5413 7660 5241 7706 5315 7597 5324 7737 5337 7720 5281 7725 5293 7921 5260 7823 5199 7941 5359 7775 5379 7719 5342 7741 5392 7744 5344 7880 5285 7624 5404 7735 5343 7688 5212 7630 5197 7797 5300 7821 5240 7664 5295 7584 5349 7741 5383 7327 5407 7696 5274 7869 5391 7653 5316 7599 5319 7747 5359 7723 5275 7394 5221 7763 5324 7947 5411 7671 5264 7899 5283 7574" fill="none" stroke="none" marker-start="url(#m0)" marker-mid="url(#m0)" marker-end="url(#m0)"/>
<line x1="587.3" y1="745.5" x2="587.3" y2="771.5" stroke="#000" stroke-width="1.0"/>
<line x1="587.3" y1="788.6" x2="587.3" y2="813" stroke="#000" stroke-width="1.0"/>
<polygon points="567.3,771.5 567.3,777.5 575.4,780 567.3,782.3 567.3,788.6 607.7,788.6 607.7,782.3 599.6,780 607.7,777.5 607.7,771.5" fill="#f4923a" stroke="#000" stroke-width="1.0" stroke-linejoin="round"/>
<line x1="575.4" y1="780" x2="599.6" y2="780" stroke="#000" stroke-width="1.7"/>
<polyline transform="scale(.1)" points="5841 7694 5811 7877 5890 7803 5948 7805 5870 7948 5765 7758 5833 7865 5883 7822 5820 7858 5968 7942 5761 7919 5953 7799 5824 7880 5957 7574 5868 7868 5962 7629 5823 7782 5876 7732 5771 7898 5875 7764 5940 7759 5874 7938 5806 7912 5821 7888 5822 7817 5804 7766 5940 7469 5916 7788 5952 7611 5925 7870 5922 7889 5782 7721 5874 7757 5976 7963 5925 7878 5976 7504 5852 7742 5827 7710 5838 7821 5874 7751 5913 7676 5823 7738 5962 7919 5800 7641 5821 7841 5946 7605 5985 7898 5872 7887 5930 7696 5810 7712 5832 7985 5763 7830 5760 7766 5849 7778 5894 8029 5856 7903 5917 7486 5778 7632 5942 7785 5787 7903 5901 7768 5834 7765 5885 7919 5966 7818 5981 7734 5760 7942 5831 7917 5839 8009 5774 7791 5941 7832 5985 7938 5932 7865 5778 7681 5933 7784 5922 7560 5902 7850 5973 7516 5845 7745 5902 7771 5803 7710 5900 7999 5946 7795 5778 7906 5960 7625 5918 7554 5860 7607 5764 7648 5911 7989 5791 7689 5773 7719 5978 7851 5976 7859 5924 7640 5793 7538 5778 7683 5878 7736 5877 7762 5845 7792 5874 7651 5798 7762 5864 7783 5930 8003 5893 7508 5875 7975 5785 7710 5888 7798 5864 7853 5956 7858 5806 7780 5853 7777 5821 7798 5845 7907 5827 7906 5918 7745 5821 7769 5846 7705 5853 7933 5766 7784 5769 7487 5974 7783 5852 7690 5865 7984 5932 7697 5947 8025 5816 8119 5827 7824 5866 7986 5803 7626 5794 8038 5947 7687 5923 7742 5861 7796 5815 7778 5967 7918 5894 7790 5874 7595 5937 7825 5860 7822 5842 8077 5945 7770 5949 7707 5974 7947 5916 7930 5982 7789 5882 7776 5844 7642 5879 8067 5884 7840 5771 7760 5957 7807 5963 8014 5908 7958 5852 7930 5984 7705 5820 7745 5977 7762 5901 7785 5807 7982 5983 7822 5871 7731 5859 7851 5945 7922 5777 7659 5961 7635 5915 7762 5968 7824 5860 7971 5779 7726 5877 7830 5892 7876 5882 7719 5910 7729 5878 8109 5769 7744 5760 7994 5865 7884 5871 7723 5972 7793 5878 7800 5957 7836 5935 7815 5822 7833 5893 7960 5962 7818 5856 7697 5937 7784 5951 7523 5778 7817 5791 7711 5889 7764 5911 8015 5779 7737 5979 7962 5912 7836 5798 7529 5968 7715 5864 7835 5848 7648 5803 8003 5805 7711 5886 7981 5825 7921 5906 7611 5976 7862 5799 7694 5799 7809 5813 7773 5784 7653 5790 7885 5815 7845 5953 7628 5975 7656 5956 7681 5863 7752 5929 7774 5815 7496 5816 7626 5915 7855 5986 7594 5874 7731 5818 7704 5804 7815 5976 7977 5878 7933 5947 7673 5893 8068 5790 7824 5873 7886 5931 7643 5868 7653 5838 7749 5836 7801 5949 7712 5926 7684 5910 7748 5923 7793 5903 7724 5951 7672 5773 7884 5781 7667 5844 7751 5830 7812 5964 7821 5956 7779 5960 7741 5804 7696 5876 7729 5768 7926 5911 8100 5960 7692 5849 7840 5938 7690 5901 7606 5854 7929 5901 8121 5939 7853 5831 7839 5946 7753 5871 7746 5972 7862 5963 7684 5884 7717 5873 7727 5859 7770 5837 7822 5857 7875 5857 7857 5842 7779 5851 7759 5840 7862 5904 7725 5939 7680 5827 7677 5817 7890 5986 7506 5830 7744 5840 7787 5962 7715 5906 7846 5922 7899 5936 7748 5925 8047 5780 7789 5975 7979 5939 7695 5849 7748 5861 7959 5765 7937 5983 8005 5882 7557 5908 7620 5889 7925 5802 7781 5834 7894 5815 7557 5982 7769 5935 7795 5769 7629 5813 7738 5815 7901 5841 7739 5866 7810 5852 7882 5880 7960 5907 7695 5880 7920 5909 7606 5929 7871 5941 7766 5813 7809 5918 7776 5808 7596 5790 7889 5938 7763 5845 7827 5793 7559 5943 7668 5972 7879 5895 7576 5782 7631 5772 7808 5788 7737 5974 8020 5792 7877 5856 7973 5769 7709 5762 7795 5969 7877 5945 7816 5875 7792 5792 7604 5816 7779 5850 7639 5794 7795 5898 7756 5921 8002 5929 7854 5955 7798 5874 7520 5908 7773 5840 7802 5870 7830 5769 7792 5977 7788 5875 7690 5798 7630 5873 7629 5919 7715 5901 7676 5833 7894 5885 7770 5868 7684 5830 7754 5824 7704 5839 7663 5860 7859 5787 7780 5951 7812 5860 7984 5775 7850 5846 7741 5853 7721 5842 7798 5854 8047 5939 7842 5836 7862 5883 7836 5789 7783 5869 7759 5820 7837 5983 7389 5937 7759 5854 7937 5962 7771 5938 7621 5968 7949 5874 7874 5935 7562 5840 7702 5917 7879 5902 8050 5874 7396 5833 7844 5925 7687 5920 7794 5975 7866 5769 7658 5893 7614 5952 7741 5761 7769 5926 7693 5811 7956 5808 7979 5887 7702 5846 7931 5858 7701 5855 7718 5981 7735 5881 7899 5759 7550" fill="none" stroke="none" marker-start="url(#m1)" marker-mid="url(#m1)" marker-end="url(#m1)"/>
<line x1="644.4" y1="744" x2="644.4" y2="771" stroke="#000" stroke-width="1.0"/>
<line x1="644.4" y1="789.9" x2="644.4" y2="815" stroke="#000" stroke-width="1.0"/>
<polygon points="624,771 624,778.9 632.2,780.2 624,781.5 624,789.9 665,789.9 665,781.5 656.8,780.2 665,778.9 665,771" fill="#04a4db" stroke="#000" stroke-width="1.0" stroke-linejoin="round"/>
<line x1="632.2" y1="780.2" x2="656.8" y2="780.2" stroke="#000" stroke-width="1.7"/>
<polyline transform="scale(.1)" points="6400 7983 6498 7715 6478 7939 6542 7819 6538 7986 6419 7699 6387 7821 6492 7979 6440 7979 6394 7866 6369 7688 6517 7973 6536 7913 6480 7901 6470 7649 6347 8162 6379 7829 6368 8129 6515 7806 6413 7660 6551 7829 6509 7898 6539 7725 6528 7748 6475 7915 6376 7721 6376 7749 6541 8060 6540 7645 6359 7906 6371 7919 6425 7892 6498 7883 6530 7923 6402 8148 6390 7621 6378 7881 6474 7775 6341 7971 6503 7648 6363 8094 6341 7701 6421 7973 6339 8057 6423 7620 6469 7919 6422 8147 6369 7768 6345 7782 6460 7640 6524 7672 6396 7708 6508 7842 6431 7739 6352 7632 6543 7847 6406 7551 6527 7986 6485 7631 6490 7885 6434 7815 6545 7930 6435 7623 6372 7929 6347 7952 6503 7759 6368 7711 6411 7711 6410 8066 6525 7948 6334 7755 6447 7694 6385 7825 6444 7860 6500 7620 6345 7855 6516 7937 6556 7766 6497 7598 6378 7845 6386 7746 6491 7749 6491 7868 6427 7961 6519 8066 6533 7698 6338 7834 6492 7816 6386 8145 6364 7591 6409 7907 6381 7946 6341 7846 6374 7709 6349 8078 6474 7987 6379 7748 6451 7895 6331 7783 6386 7919 6394 7780 6488 7775 6449 7875 6429 7819 6397 7840 6511 8028 6331 7834 6480 7870 6407 7659 6536 7707 6361 7834 6407 7777 6511 7585 6519 7757 6458 7786 6440 7795 6478 7730 6429 7971 6547 7514 6387 7795 6413 7751 6362 7716 6515 7900 6533 7692 6362 7743 6389 7670 6398 7832 6386 7591 6401 7680 6440 7959 6368 7938 6544 7814 6376 7791 6372 7722 6382 7697 6498 7754 6372 7894 6436 7792 6371 7659 6513 7733 6506 8027 6504 7712 6505 7781 6337 7736 6420 7864 6392 7750 6453 7711 6470 7713 6519 7837 6336 7899 6416 7909 6356 7739 6458 7526 6535 7683 6521 7715 6356 7887 6419 7505 6429 7650 6507 7938 6379 7888 6533 8006 6533 7741 6466 7654 6484 7854 6499 7764 6426 7827 6353 7753 6426 7649 6528 7800 6427 7836 6514 7735 6358 7674 6507 7899 6522 7741 6518 7877 6531 7754 6538 7609 6493 7819 6519 7630 6362 7733 6443 7786 6338 7935 6501 7828 6461 7775 6518 7978 6356 7730 6519 7914 6485 7837 6502 7909 6557 7868 6367 7685 6475 7814 6536 7775 6528 7894 6542 7800 6418 7797 6352 7824 6468 7705 6554 7410 6532 7991 6437 7449 6439 7788 6406 7696 6352 7912 6379 7790 6368 7950 6511 7660 6434 7666 6399 7765 6456 7564 6403 7772 6504 7782 6480 7718 6426 7547 6536 7779 6426 7777 6481 7894 6355 7917 6358 7637 6332 7879 6508 7896 6396 7782 6418 8048 6410 7637 6432 7525 6531 7884 6412 7844 6490 7739 6553 7787 6362 7698 6551 7985 6530 7885 6495 7713 6379 7788 6387 7758 6338 7802 6482 7727 6407 7789 6493 7967 6376 7910 6557 7747 6551 7883 6395 7604 6491 7700 6407 8001 6460 7866 6460 7845 6352 7725 6525 7876 6425 7899 6488 7575 6338 7761 6425 7859 6546 7720 6492 7607 6357 7316 6377 7845 6547 7510 6435 7982 6511 7672 6527 7778 6546 7956 6461 7907 6539 7758 6420 7775 6500 7705 6344 7853 6536 7853 6522 7740 6348 7673 6473 7713 6342 7660 6389 7762 6424 7552 6419 7873 6427 7990 6352 7641 6557 7673 6499 7954 6541 8078 6353 7854 6491 7675 6393 7962 6443 7786 6403 7840 6554 7610 6451 7784 6424 7808 6386 7704 6446 8115 6399 7840 6453 8018 6529 7870 6500 7682 6352 7950 6480 7826 6409 7782 6333 7819 6548 7733 6406 7920 6511 7967 6340 7802 6348 7787 6494 7885 6509 7966 6416 7773 6415 7858 6543 7576 6411 8100 6457 7881 6436 7945 6517 7843 6414 7546 6423 7754 6442 7983 6369 7704 6513 7605 6348 7615 6446 7789 6350 7845 6407 7679 6373 7805 6403 7579 6479 7475 6380 7848 6512 7918 6550 7598 6537 7791 6351 7852 6510 7803 6476 7757 6348 7619 6404 8074 6439 7924 6491 7873 6542 7977 6459 7671 6342 7506 6502 7656 6437 7859 6536 7656 6407 7920 6547 8006 6500 7723 6337 7887 6438 7879 6372 7821 6391 7818 6423 7749 6511 7737 6438 7646 6363 7711 6442 7637 6426 7866 6333 7630 6467 8096 6529 7842 6536 7781 6442 7745 6501 7764 6359 7956 6521 7655 6518 7739 6351 7913 6437 7968 6544 7531 6557 7817 6365 7804 6455 8050 6492 7714 6331 7640 6475 7971 6380 7810 6345 7759 6373 7861 6352 8088 6420 8033 6415 7690 6380 7633 6339 7743 6534 7699 6335 7855 6417 7928 6515 7769 6449 7848 6518 7728 6470 7430 6427 8028 6472 7355 6410 7688 6473 8197 6538 7765 6470 7878 6427 7788 6458 7815 6558 7846 6454 7675 6392 7611 6547 7755 6398 7967 6507 7592 6522 8133 6512 7880 6493 7850 6369 7576 6356 7952 6530 7777 6453 7995 6375 7715 6521 7671 6427 7834 6465 7558 6469 7659 6558 7879 6432 7987 6399 8032 6366 7395 6411 7741 6400 7707 6352 7804 6451 8101 6347 7922 6530 7752 6443 7979 6440 7929 6424 7532 6409 7844 6493 7583 6440 7780 6432 7878 6510 7840 6470 7781 6549 7873 6491 7938 6445 7625 6378 7680 6358 7783 6445 7763 6420 7516 6355 7817 6413 7875 6386 7847 6402 7706 6487 7837 6391 7923 6400 7839 6381 7860 6455 7671 6445 7793 6413 7728 6386 7764 6508 8079 6458 8041 6378 7960 6515 7924 6528 7984 6422 7791 6540 7748 6432 7622 6461 7833 6400 7874 6424 7633 6351 7908 6355 7913 6519 7783 6343 7681 6368 7561 6424 7807 6379 7872 6527 7635 6474 7919 6408 8021 6335 8098 6426 7644 6459 7523 6362 7715 6345 7681 6488 7938 6459 7889 6497 7837 6352 7901 6551 7949 6424 7940 6469 7702 6359 7726 6460 7899 6352 7761 6338 8002 6476 7906 6344 7982 6350 7875 6428 7645 6553 7750 6493 8185 6490 7762 6412 7750 6514 7756 6434 7824 6354 7649 6381 7801 6513 7664 6509 7888 6526 8070 6495 7891 6362 7806 6530 7813 6414 8154 6455 8011 6477 7956 6352 7788 6547 7792 6397 7848 6383 7978 6429 7560 6362 7688 6491 7629 6460 7720 6518 7557 6379 7334 6426 7891 6418 7831 6334 8156 6513 7729 6401 7707 6405 8000 6353 7737 6490 7761 6388 7854 6402 7723 6333 7828 6426 7685 6444 7889 6378 7671 6554 7655 6386 7904 6334 7725 6513 8028 6398 7692 6422 7750 6410 7823 6502 7787 6546 7955 6358 7625 6437 7877 6401 7957 6494 7778 6469 7875 6490 7675 6410 7926 6523 7737 6543 7661 6541 7730 6372 7637 6508 7883 6478 7937 6344 7633 6444 7762 6504 7770 6332 7729 6335 7936 6435 7850 6448 7843 6488 7838 6390 7643 6336 7862 6504 7830 6404 7900 6536 7777 6470 7629 6477 7742 6524 8042 6347 7655 6453 7765 6416 7854 6455 7592 6363 7699 6476 7632 6498 7926 6500 7664 6415 7794 6549 7899 6396 7581 6375 8078 6375 7783 6360 8063 6335 7628 6431 7728 6367 7780 6396 7835 6493 7730 6362 7818 6424 7642 6445 7945 6342 7860 6502 7281 6389 7686 6442 7881 6342 7836 6522 7830 6420 8022 6541 7726 6369 7628 6512 7912 6477 7726 6552 7667 6551 7916 6416 7678 6433 7754 6438 8012 6390 7765 6411 7753 6385 7676 6548 7703 6417 7489 6410 7758 6404 7889 6493 7935 6465 7754 6529 7767 6341 7808 6435 7708 6553 7795 6468 7816 6525 7751 6403 7761 6479 7624 6480 7587 6421 7607 6343 7811 6349 7867 6517 7923 6436 7848 6405 7635 6417 7819 6487 7765 6512 7808 6433 7836 6347 7878 6330 7749 6465 7833 6345 7796 6531 7864 6380 7630 6435 7667 6474 7841 6422 7633 6502 7816 6430 7984 6523 7927 6525 7734 6352 7951 6482 7920 6405 7692 6477 7604 6412 7768 6506 7719 6372 7881 6423 8007 6546 7780 6390 7648 6399 7745 6457 7895 6478 7888 6408 7916 6399 7831 6483 7819 6520 7786 6488 7914 6420 7982 6382 7956 6441 7661 6401 7714 6421 7817 6331 7636 6554 7742 6355 7846 6449 7827 6550 7700 6340 7627 6486 7653 6408 7584 6421 7715 6369 7888 6517 8074 6391 7727 6496 7837 6462 7829 6355 7710 6503 7956 6366 7884 6468 7685 6451 7840 6381 7686 6330 7523 6380 7800 6491 7733 6375 7801 6491 7861 6550 7935 6383 7491 6478 7917 6478 8009 6374 7849 6522 7818 6427 8015 6461 7972 6522 7985 6557 7688 6516 7508 6348 7886 6490 7973 6462 7971 6460 7842 6437 7774 6390 7872 6465 8103 6363 7951 6334 7780 6418 7445 6473 7742 6495 7813 6524 7638 6446 7772 6361 7794 6433 7821 6427 7976 6416 7874 6458 7624 6488 7700 6371 7665 6352 7977 6530 7790 6358 7739 6393 7783 6390 8067 6537 7795 6435 7963 6520 7440 6420 7673 6542 7631 6484 7876 6356 7807 6387 7744 6444 7707 6336 7680 6406 7516 6427 7851 6485 7685 6359 7766 6520 7859 6519 7902 6330 7726 6377 7798 6534 7689 6405 7870 6356 7916 6392 7445 6532 7708 6530 7953 6436 7932 6365 7900 6375 8309 6426 7811 6334 7868 6461 8285 6361 7925 6404 7468 6404 8019 6366 7769 6469 7765 6388 7903 6336 7731 6385 7536 6419 7991 6349 7499 6371 7966 6505 7983 6393 8033 6362 7979 6466 7635 6436 7884 6549 7559 6544 7843 6466 7597 6450 7825 6443 7808 6472 7621 6429 7762 6371 7771 6524 7635 6445 7843 6352 7835 6510 7748 6492 7812 6390 7797 6384 7944 6355 7683 6449 7869 6527 7903 6356 7685 6383 7809 6420 7764 6385 7884 6395 7767 6427 7541 6509 7679 6334 7675 6528 7886 6378 7956 6342 7593 6420 7769 6475 7786 6464 7851 6484 7948 6534 7650 6418 7660 6546 7687 6435 7897 6400 7684 6460 7496 6397 7702 6491 7796 6345 7591 6495 8028 6380 7728 6515 7975 6546 7717 6501 7726 6345 7475 6432 7626" fill="none" stroke="none" marker-start="url(#m2)" marker-mid="url(#m2)" marker-end="url(#m2)"/>
<line x1="496.6" y1="688" x2="496.6" y2="839.9" stroke="#222" stroke-width="1.07"/>
<line x1="496.1" y1="839.4" x2="678.3" y2="839.4" stroke="#222" stroke-width="1.07"/>
<line x1="493.9" y1="836.6" x2="496.6" y2="836.6" stroke="#333" stroke-width="1.0"/>
<text x="492" y="840.4" font-size="10.3" fill="#111" text-anchor="end">−4</text>
<line x1="493.9" y1="807.9" x2="496.6" y2="807.9" stroke="#333" stroke-width="1.0"/>
<text x="492" y="811.7" font-size="10.3" fill="#111" text-anchor="end">−2</text>
<line x1="493.9" y1="779.3" x2="496.6" y2="779.3" stroke="#333" stroke-width="1.0"/>
<text x="492" y="783.1" font-size="10.3" fill="#111" text-anchor="end">0</text>
<line x1="493.9" y1="750.7" x2="496.6" y2="750.7" stroke="#333" stroke-width="1.0"/>
<text x="492" y="754.5" font-size="10.3" fill="#111" text-anchor="end">2</text>
<line x1="493.9" y1="722.1" x2="496.6" y2="722.1" stroke="#333" stroke-width="1.0"/>
<text x="492" y="725.9" font-size="10.3" fill="#111" text-anchor="end">4</text>
<line x1="493.9" y1="693.5" x2="496.6" y2="693.5" stroke="#333" stroke-width="1.0"/>
<text x="492" y="697.3" font-size="10.3" fill="#111" text-anchor="end">6</text>
<line x1="530.2" y1="839.4" x2="530.2" y2="842.1" stroke="#333" stroke-width="1.0"/>
<text x="530.2" y="851.8" font-size="10.3" fill="#111" text-anchor="middle">8</text>
<line x1="587.3" y1="839.4" x2="587.3" y2="842.1" stroke="#333" stroke-width="1.0"/>
<text x="587.3" y="851.8" font-size="10.3" fill="#111" text-anchor="middle">9</text>
<line x1="644.4" y1="839.4" x2="644.4" y2="842.1" stroke="#333" stroke-width="1.0"/>
<text x="644.4" y="851.8" font-size="10.3" fill="#111" text-anchor="middle">other</text>
<text x="587.1" y="864.8" font-size="10.6" fill="#000" text-anchor="middle">Cluster</text>
<text x="472.2" y="762.7" font-size="10.25" fill="#000" text-anchor="middle" transform="rotate(-90 472.2 762.7)">Δ<tspan font-size="12.6">(</tspan>Bioenergetic − chronological age<tspan font-size="12.6">)</tspan></text>
<polyline points="530.2,724.3 530.2,721.1 587.3,721.1 587.3,724.3" fill="none" stroke="#555" stroke-width="0.8"/>
<text x="558.8" y="720" font-size="10.35" fill="#111" text-anchor="middle">0.002</text>
<polyline points="530.2,711.2 530.2,708 644.4,708 644.4,711.2" fill="none" stroke="#555" stroke-width="0.8"/>
<text x="587.3" y="706.9" font-size="10.35" fill="#111" text-anchor="middle">0.00055</text>
<polyline points="587.3,697.8 587.3,694.6 644.4,694.6 644.4,697.8" fill="none" stroke="#555" stroke-width="0.8"/>
<text x="615.8" y="693.5" font-size="10.35" fill="#111" text-anchor="middle">0.68</text>
</svg></body></html>
